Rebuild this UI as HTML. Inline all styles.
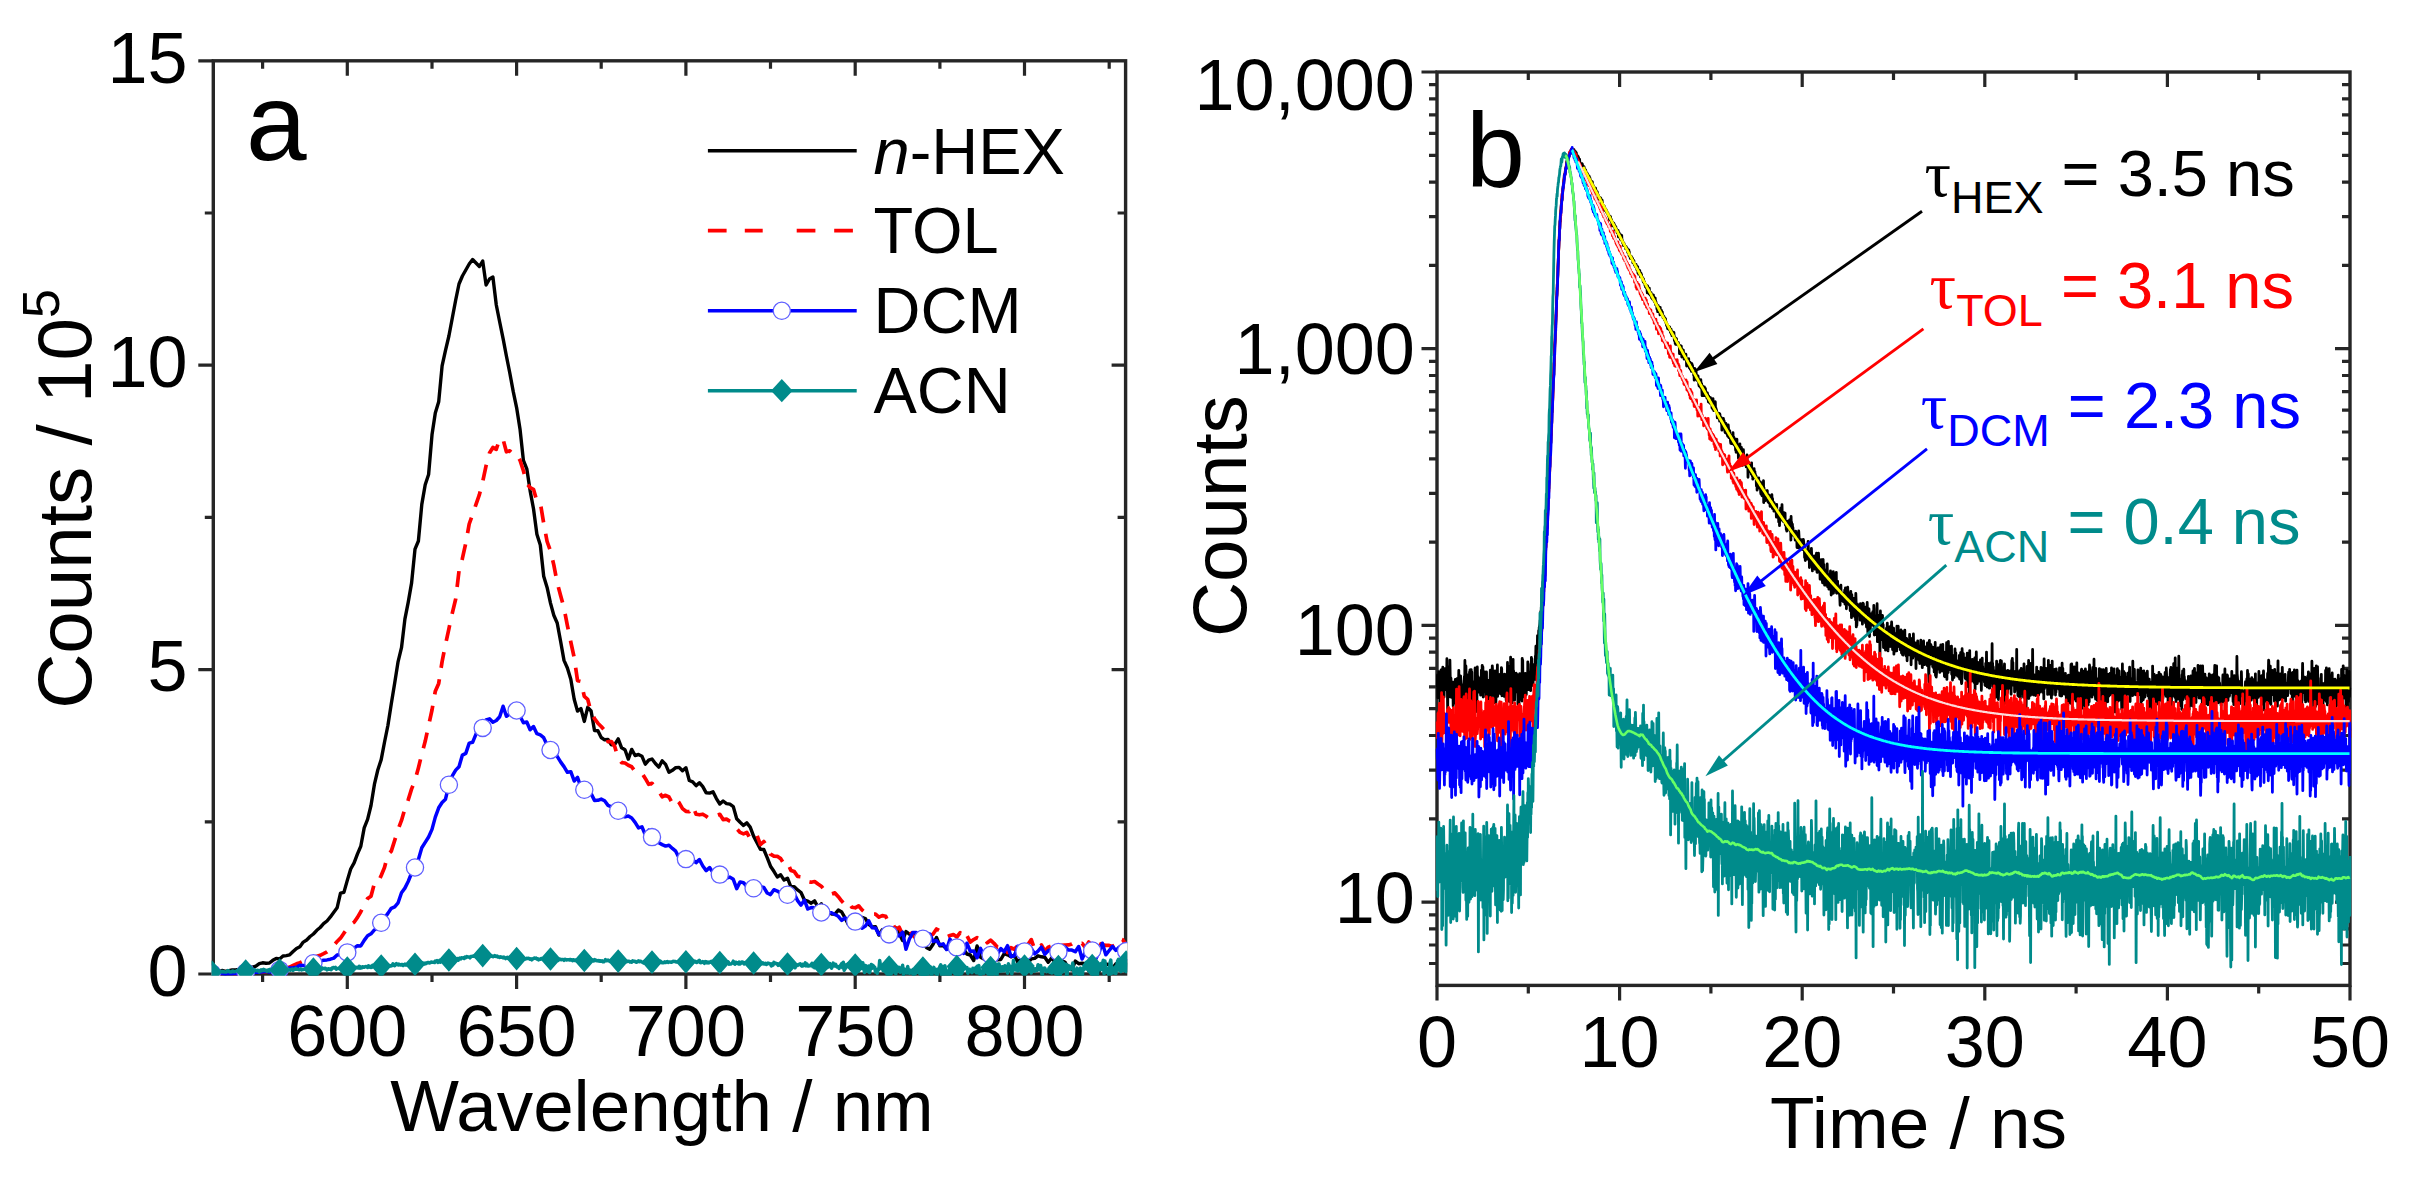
<!DOCTYPE html>
<html><head><meta charset="utf-8"><title>Fluorescence spectra and decays</title>
<style>html,body{margin:0;padding:0;background:#fff}svg{display:block}</style></head>
<body><svg width="2430" height="1179" viewBox="0 0 2430 1179">
<rect width="2430" height="1179" fill="#fff"/>
<clipPath id="cl"><rect x="211.6" y="59.1" width="915.7" height="916.6"/></clipPath>
<rect x="213.3" y="60.8" width="912.3" height="913.2" fill="none" stroke="#262626" stroke-width="3.4"/>
<path d="M198.3,974H213.3M198.3,669.6H213.3M1111.6,669.6H1125.6M198.3,365.2H213.3M1111.6,365.2H1125.6M198.3,60.8H213.3M204.8,821.8H213.3M1117.6,821.8H1125.6M204.8,517.4H213.3M1117.6,517.4H1125.6M204.8,213H213.3M1117.6,213H1125.6M347.3,60.8V75.8M347.3,974V989M516.6,60.8V75.8M516.6,974V989M685.9,60.8V75.8M685.9,974V989M855.2,60.8V75.8M855.2,974V989M1024.5,60.8V75.8M1024.5,974V989M262.6,60.8V68.8M262.6,974V982M432,60.8V68.8M432,974V982M601.2,60.8V68.8M601.2,974V982M770.5,60.8V68.8M770.5,974V982M939.9,60.8V68.8M939.9,974V982M1109.2,60.8V68.8M1109.2,974V982" stroke="#262626" stroke-width="3.2" fill="none"/>
<g font-family="'Liberation Sans', sans-serif" font-size="72" fill="#000">
<text x="187.5" y="995.7" text-anchor="end">0</text>
<text x="187.5" y="691.3" text-anchor="end">5</text>
<text x="187.5" y="386.9" text-anchor="end">10</text>
<text x="187.5" y="82.5" text-anchor="end">15</text>
<text x="347.3" y="1055.8" text-anchor="middle">600</text>
<text x="516.6" y="1055.8" text-anchor="middle">650</text>
<text x="685.9" y="1055.8" text-anchor="middle">700</text>
<text x="855.2" y="1055.8" text-anchor="middle">750</text>
<text x="1024.5" y="1055.8" text-anchor="middle">800</text>
<text x="662" y="1131.4" text-anchor="middle" font-size="72.8">Wavelength / nm</text>
</g>
<text transform="translate(90.8,708.8) rotate(-90)" font-family="'Liberation Sans', sans-serif" font-size="76.4" fill="#000">Counts / 10<tspan font-size="52" dy="-31.8">5</tspan></text>
<text x="246" y="159.5" font-family="'Liberation Sans', sans-serif" font-size="109" fill="#000">a</text>
<g clip-path="url(#cl)" fill="none" stroke-linejoin="round" stroke-linecap="butt">
<path d="M211.9,974.1L215.2,972.6L218.6,972.1L222,970.4L225.4,971.4L228.8,970.7L232.2,970L235.6,970L238.9,969.5L242.3,968L245.7,967.4L249.1,967L252.5,967.1L255.9,966.2L259.3,963.7L262.6,962.8L266,963.3L269.4,963L272.8,960.3L276.2,958.4L279.6,959L283,956L286.4,955.6L289.7,954.8L293.1,951.5L296.5,948.4L299.9,946.7L303.3,942.1L306.7,940L310.1,936.5L313.4,934L316.8,930.3L320.2,927.5L323.6,923.7L327,921L330.4,916.9L333.8,912.3L337.1,907.8L340.5,893.2L343.9,892.4L347.3,880.4L350.7,869L354.1,862.9L357.5,853.9L360.8,846.3L364.2,827.9L367.6,819.4L371,805.5L374.4,784.4L377.8,770L381.2,759.6L384.5,742.2L387.9,725.5L391.3,703.7L394.7,682.9L398.1,661.6L401.5,647.7L404.9,619.1L408.2,602.3L411.6,582.9L415,549.1L418.4,541L421.8,504.4L425.2,484.8L428.6,474.5L432,434.8L435.3,413L438.7,401.8L442.1,365.9L445.5,350.4L448.9,336L452.3,318L455.7,300L459,284L462.4,276L465.8,270L469.2,264L472.6,259.5L476,263L479.4,266.5L482.7,261L486.1,285L489.5,279L492.9,277L496.3,305L499.7,322L503.1,338.7L506.4,356L509.8,373L513.2,391.4L516.6,407.6L520,428.9L523.4,460.4L526.8,468.8L530.1,490.6L533.5,508.8L536.9,534.3L540.3,545L543.7,576.2L547.1,587.4L550.5,603.1L553.8,615.2L557.2,623L560.6,641.3L564,660.4L567.4,668L570.8,679.2L574.2,699.2L577.5,711.1L580.9,708.5L584.3,721.4L587.7,707.3L591.1,711L594.5,730.5L597.9,730.7L601.2,737.5L604.6,739.8L608,739.5L611.4,744.7L614.8,744.3L618.2,738.9L621.6,747.8L625,749.7L628.3,759.1L631.7,749.4L635.1,755.5L638.5,754.5L641.9,756.2L645.3,764.2L648.7,760.2L652,759L655.4,763.5L658.8,767.1L662.2,760.8L665.6,764.4L669,772.3L672.4,770.3L675.7,767.7L679.1,767.4L682.5,770.8L685.9,767.7L689.3,780.5L692.7,781.9L696.1,785.6L699.4,782.7L702.8,786.7L706.2,792.8L709.6,793.1L713,791.8L716.4,798.6L719.8,804L723.1,801L726.5,803.6L729.9,804.2L733.3,806.6L736.7,818.8L740.1,822.3L743.5,825.4L746.8,822.9L750.2,827.1L753.6,836.1L757,842.6L760.4,849.2L763.8,849.5L767.2,857.7L770.5,866.2L773.9,871.3L777.3,877L780.7,874.8L784.1,880.1L787.5,878.2L790.9,886.8L794.3,886.8L797.6,889.9L801,892.5L804.4,900L807.8,901.1L811.2,903.2L814.6,900.9L818,907.4L821.3,903.8L824.7,915.6L828.1,911.5L831.5,914L834.9,914.1L838.3,910.1L841.7,912L845,917.9L848.4,924.5L851.8,916.2L855.2,918.8L858.6,922.3L862,917.4L865.4,918.5L868.7,924.4L872.1,926.9L875.5,926.7L878.9,935.1L882.3,929.7L885.7,932.7L889.1,938.4L892.4,939.7L895.8,928L899.2,933.6L902.6,940.5L906,931.5L909.4,934.2L912.8,933.7L916.1,934.4L919.5,936.2L922.9,942.2L926.3,947.4L929.7,949.3L933.1,944.3L936.5,937.4L939.9,945.8L943.2,945.6L946.6,949.1L950,948.1L953.4,942.3L956.8,951.8L960.2,942.9L963.6,949.2L966.9,954L970.3,955L973.7,960.5L977.1,946L980.5,957.2L983.9,959.1L987.3,955.5L990.6,959.5L994,952.9L997.4,959.9L1000.8,959.5L1004.2,953.6L1007.6,954.9L1011,956.9L1014.3,955.1L1017.7,961.9L1021.1,958.6L1024.5,963.3L1027.9,963L1031.3,958.9L1034.7,958.3L1038,955.8L1041.4,956.8L1044.8,957.3L1048.2,962.3L1051.6,958L1055,962.1L1058.4,962.9L1061.7,960.6L1065.1,962.2L1068.5,968.8L1071.9,969.8L1075.3,961.1L1078.7,963.7L1082.1,963.3L1085.4,963.8L1088.8,970.7L1092.2,967.6L1095.6,969.7L1099,971.6L1102.4,963.2L1105.8,964L1109.2,964.7L1112.5,968.2L1115.9,963.7L1119.3,966.2L1122.7,967.9L1126.1,967.5" stroke="#000" stroke-width="3.4"/>
<path d="M211.9,974.1L215.2,973.8L218.6,974L222,973.4L225.4,974.1L228.8,973.3L232.2,973.6L235.6,973.4L238.9,973.1L242.3,974L245.7,972.7L249.1,972.8L252.5,972.8L255.9,971.8L259.3,972.4L262.6,971.6L266,971.7L269.4,970.8L272.8,970.4L276.2,970.5L279.6,969.7L283,968.8L286.4,968.1L289.7,967.1L293.1,965.4L296.5,963.8L299.9,962.7L303.3,961.1L306.7,959.1L310.1,958.4L313.4,957.1L316.8,956.3L320.2,955.4L323.6,953.7L327,951.9L330.4,949.4L333.8,945.1L337.1,941.5L340.5,938.2L343.9,933.2L347.3,928.5L350.7,924.4L354.1,922.2L357.5,917.4L360.8,911.8L364.2,904.8L367.6,898.5L371,896.2L374.4,883.5L377.8,883.2L381.2,875.5L384.5,867.5L387.9,854.6L391.3,851.1L394.7,840.4L398.1,829.5L401.5,820.4L404.9,808.7L408.2,799.9L411.6,788.9L415,780.5L418.4,767.9L421.8,754.1L425.2,741.3L428.6,725.7L432,710L435.3,691.3L438.7,683.4L442.1,661.6L445.5,644.4L448.9,628.8L452.3,613.1L455.7,599L459,571L462.4,558.4L465.8,543.1L469.2,524L472.6,514.4L476,504.3L479.4,494.6L482.7,481.6L486.1,465.7L489.5,453L492.9,447.5L496.3,449.3L499.7,438.8L503.1,439.4L506.4,451.8L509.8,450.9L513.2,454.3L516.6,454.6L520,460.3L523.4,470.8L526.8,483.5L530.1,487.6L533.5,489.3L536.9,501.2L540.3,502.7L543.7,523.3L547.1,541.5L550.5,551L553.8,564.9L557.2,582.8L560.6,595.4L564,608L567.4,625.6L570.8,642L574.2,657.6L577.5,680.6L580.9,681.4L584.3,696.4L587.7,699.3L591.1,712L594.5,718.7L597.9,723.2L601.2,726.5L604.6,730.4L608,741.6L611.4,741.5L614.8,746.8L618.2,758.3L621.6,762.6L625,763L628.3,765.3L631.7,766.8L635.1,771.4L638.5,772.1L641.9,773L645.3,778.4L648.7,784.3L652,783.3L655.4,787L658.8,791.5L662.2,796.8L665.6,795.3L669,797L672.4,803.4L675.7,799.4L679.1,802.7L682.5,808.6L685.9,811.3L689.3,811.6L692.7,806.1L696.1,814.2L699.4,814.8L702.8,814.2L706.2,816.3L709.6,818.8L713,816.7L716.4,815.4L719.8,814.3L723.1,819.6L726.5,819.1L729.9,821.3L733.3,822.7L736.7,828.7L740.1,832.4L743.5,833.9L746.8,832.5L750.2,838.7L753.6,839.4L757,835.4L760.4,844.6L763.8,841.5L767.2,846.3L770.5,854.2L773.9,856.2L777.3,856.3L780.7,858.6L784.1,864.3L787.5,862.6L790.9,870.4L794.3,871.6L797.6,876.4L801,876.8L804.4,876.7L807.8,881.5L811.2,882.2L814.6,881.5L818,884L821.3,886.2L824.7,890.4L828.1,893.8L831.5,893.8L834.9,892.9L838.3,896.7L841.7,901.1L845,904.6L848.4,902.1L851.8,907.2L855.2,907.8L858.6,905.8L862,909.9L865.4,912.9L868.7,913.6L872.1,914.3L875.5,914.1L878.9,917.2L882.3,915.6L885.7,916.3L889.1,923.9L892.4,923.4L895.8,929.3L899.2,927.3L902.6,934.7L906,929.8L909.4,930.3L912.8,935.4L916.1,938.4L919.5,932L922.9,938.2L926.3,938.2L929.7,936.5L933.1,934L936.5,929L939.9,930.9L943.2,933.2L946.6,937L950,935.5L953.4,934.6L956.8,937L960.2,932.7L963.6,938.7L966.9,935.6L970.3,942.1L973.7,939.6L977.1,937.7L980.5,939.1L983.9,937L987.3,942.7L990.6,940.2L994,943.3L997.4,947.2L1000.8,945.5L1004.2,946.3L1007.6,952.5L1011,947.7L1014.3,949.2L1017.7,945.9L1021.1,943.8L1024.5,948L1027.9,944.5L1031.3,939.6L1034.7,949.5L1038,948.8L1041.4,944.9L1044.8,951.2L1048.2,947.3L1051.6,946L1055,944.4L1058.4,950.1L1061.7,945.4L1065.1,945L1068.5,944.9L1071.9,943.9L1075.3,941.3L1078.7,943.8L1082.1,943.3L1085.4,947.7L1088.8,942L1092.2,947.5L1095.6,944.1L1099,943.2L1102.4,944.9L1105.8,945.4L1109.2,945.4L1112.5,946.4L1115.9,944.6L1119.3,938.5L1122.7,939.7L1126.1,945.1" stroke="#ff0000" stroke-width="3.7" stroke-dasharray="16 11.5" stroke-dashoffset="6"/>
<path d="M211.9,973.4L215.2,973.8L218.6,973.4L222,973.6L225.4,973.9L228.8,973.4L232.2,973.7L235.6,973.3L238.9,973.5L242.3,972.1L245.7,972.4L249.1,971.7L252.5,972.4L255.9,971.9L259.3,972.2L262.6,971.7L266,971.3L269.4,972L272.8,971L276.2,970.3L279.6,969.9L283,970.2L286.4,969.6L289.7,967.9L293.1,967.8L296.5,967.3L299.9,965.3L303.3,965.4L306.7,965.8L310.1,962.7L313.4,963.2L316.8,963.8L320.2,960.9L323.6,960.2L327,959.9L330.4,959.2L333.8,958.1L337.1,955L340.5,954.5L343.9,954.1L347.3,952.4L350.7,952.1L354.1,948.2L357.5,945.7L360.8,945.9L364.2,940.4L367.6,935.8L371,933.8L374.4,929.9L377.8,927.7L381.2,922.8L384.5,918L387.9,913.4L391.3,908.3L394.7,906.8L398.1,902.8L401.5,892.7L404.9,888.1L408.2,881.5L411.6,873L415,867.5L418.4,859.4L421.8,847.8L425.2,842.4L428.6,837L432,829.4L435.3,817.1L438.7,807.8L442.1,802.5L445.5,799.2L448.9,784.8L452.3,775.8L455.7,770.1L459,766.7L462.4,755.1L465.8,753.4L469.2,743.1L472.6,742.3L476,734.1L479.4,729.3L482.7,727.9L486.1,719.9L489.5,718.8L492.9,722.2L496.3,720.5L499.7,716.8L503.1,706.2L506.4,716.3L509.8,713.9L513.2,710.5L516.6,710.5L520,716L523.4,722.7L526.8,722L530.1,729.8L533.5,726.5L536.9,733.7L540.3,734.9L543.7,737.7L547.1,745L550.5,750L553.8,752L557.2,756.3L560.6,761.9L564,766.6L567.4,772.3L570.8,771.7L574.2,781L577.5,777.4L580.9,787L584.3,789.8L587.7,784.8L591.1,793.6L594.5,800.4L597.9,800.3L601.2,799.1L604.6,800.8L608,805.4L611.4,806.9L614.8,811.1L618.2,810.8L621.6,816L625,816.9L628.3,816L631.7,818L635.1,822.3L638.5,827.9L641.9,826.8L645.3,834.8L648.7,830.2L652,837.1L655.4,836.8L658.8,842.8L662.2,844.6L665.6,846.1L669,845.2L672.4,848.4L675.7,851.2L679.1,857.9L682.5,855.2L685.9,859.1L689.3,863.3L692.7,860L696.1,862.6L699.4,859.5L702.8,866L706.2,870.6L709.6,867.5L713,872.6L716.4,875.2L719.8,874.6L723.1,874.8L726.5,878.1L729.9,877.1L733.3,879.3L736.7,888.6L740.1,881.9L743.5,882.7L746.8,886.3L750.2,887.8L753.6,888.3L757,886.7L760.4,886.6L763.8,887.4L767.2,893L770.5,894.6L773.9,889.7L777.3,891.1L780.7,893.2L784.1,891.2L787.5,894.8L790.9,899.1L794.3,894L797.6,900.6L801,905.1L804.4,900.2L807.8,909L811.2,907.6L814.6,907.8L818,913.9L821.3,912.5L824.7,912.8L828.1,912.7L831.5,912.8L834.9,914.5L838.3,916.3L841.7,920.4L845,917.8L848.4,920.5L851.8,919.1L855.2,921.6L858.6,922.3L862,928.2L865.4,926.1L868.7,920.8L872.1,927.7L875.5,928L878.9,934.3L882.3,932.2L885.7,936.3L889.1,934.4L892.4,932.3L895.8,934.1L899.2,935.9L902.6,932.2L906,949.3L909.4,939L912.8,932.6L916.1,932.5L919.5,938.9L922.9,938.8L926.3,933.7L929.7,933.9L933.1,941.4L936.5,940.5L939.9,944.8L943.2,943.8L946.6,949.5L950,939.1L953.4,949.4L956.8,947.4L960.2,945.1L963.6,953.4L966.9,943.2L970.3,951.2L973.7,951.1L977.1,957.8L980.5,948.4L983.9,955.8L987.3,956.7L990.6,955L994,955.3L997.4,954L1000.8,948.6L1004.2,951.7L1007.6,945.7L1011,956.4L1014.3,956L1017.7,946.2L1021.1,956.4L1024.5,951.4L1027.9,945.4L1031.3,948.6L1034.7,953.8L1038,951.1L1041.4,947.2L1044.8,954.2L1048.2,950.7L1051.6,949.5L1055,946.5L1058.4,951.9L1061.7,955L1065.1,947.2L1068.5,950.1L1071.9,950.1L1075.3,951.8L1078.7,946.5L1082.1,959L1085.4,951.9L1088.8,954.3L1092.2,950.5L1095.6,959.3L1099,952.5L1102.4,943.2L1105.8,954.8L1109.2,950.5L1112.5,946.3L1115.9,950.5L1119.3,947L1122.7,953.6L1126.1,951.1" stroke="#0000ff" stroke-width="3.5"/>
<path d="M211.9,972.8L212.7,972L213.6,972L214.4,971.9L215.2,970.9L216.1,971.9L216.9,971.1L217.8,971.9L218.6,971.5L219.5,972.3L220.3,971.7L221.2,971.7L222,971.2L222.9,972L223.7,971.6L224.6,971.9L225.4,972L226.3,972L227.1,971.4L227.9,970.6L228.8,970.9L229.6,971.9L230.5,972L231.3,972.1L232.2,971.1L233,970.9L233.9,971.8L234.7,971.8L235.6,971.3L236.4,971.3L237.3,970.6L238.1,971.1L238.9,971.9L239.8,970.7L240.6,970.9L241.5,971.1L242.3,970.9L243.2,970.2L244,970.8L244.9,970.7L245.7,970.8L246.6,970.8L247.4,971L248.3,970.4L249.1,971.7L250,970.7L250.8,971.6L251.6,971.6L252.5,970.9L253.3,970.2L254.2,969.7L255,970L255.9,970.6L256.7,970.8L257.6,970.3L258.4,970.4L259.3,971.9L260.1,970.7L261,969.9L261.8,970.8L262.6,970L263.5,969.3L264.3,970.5L265.2,970L266,970.4L266.9,971.3L267.7,970.4L268.6,969.9L269.4,971.1L270.3,969.2L271.1,969.6L272,970.9L272.8,970.9L273.7,970L274.5,969.8L275.3,970.3L276.2,970.2L277,970.1L277.9,969.8L278.7,969.3L279.6,969.6L280.4,969.7L281.3,969.7L282.1,969.5L283,969.8L283.8,968.9L284.7,970.2L285.5,970.5L286.4,969.4L287.2,969L288,969.9L288.9,970L289.7,969.6L290.6,970.1L291.4,969.4L292.3,969.1L293.1,970.3L294,969.3L294.8,969.3L295.7,968.4L296.5,969.3L297.4,969.2L298.2,969.4L299,969.8L299.9,969.5L300.7,968.8L301.6,969.9L302.4,969.5L303.3,969.6L304.1,969.2L305,969.3L305.8,968.5L306.7,968.4L307.5,968.8L308.4,968.8L309.2,969.2L310.1,967.4L310.9,968.8L311.7,968.6L312.6,969.5L313.4,968.7L314.3,968.7L315.1,968.9L316,969.1L316.8,967.9L317.7,968.2L318.5,969.1L319.4,968.9L320.2,968.8L321.1,969.5L321.9,967.9L322.8,968.7L323.6,968.4L324.4,968.8L325.3,968.3L326.1,968.7L327,969.9L327.8,968.9L328.7,968.7L329.5,969.3L330.4,968.9L331.2,969.6L332.1,968L332.9,967.9L333.8,967.4L334.6,967.9L335.4,967.4L336.3,969.1L337.1,968.4L338,968.6L338.8,968.4L339.7,968.3L340.5,968.1L341.4,967.5L342.2,969L343.1,968L343.9,969L344.8,968.4L345.6,967.4L346.5,967.8L347.3,967.8L348.1,967.6L349,967.6L349.8,967.8L350.7,967.5L351.5,967.4L352.4,967.8L353.2,967.7L354.1,967.4L354.9,967.8L355.8,967.3L356.6,967.7L357.5,967.4L358.3,968L359.2,966.4L360,968.1L360.8,967L361.7,967.8L362.5,966.8L363.4,967L364.2,967.2L365.1,966.7L365.9,966.6L366.8,966.7L367.6,967.5L368.5,965.8L369.3,966.6L370.2,967.3L371,966.4L371.8,967.3L372.7,965.3L373.5,965.7L374.4,966L375.2,965.8L376.1,965.8L376.9,966.4L377.8,965.5L378.6,966.2L379.5,966.1L380.3,965.8L381.2,967L382,965.6L382.9,966.9L383.7,965.4L384.5,966L385.4,965.8L386.2,965.2L387.1,966L387.9,966.2L388.8,965.9L389.6,965.5L390.5,966.1L391.3,965.8L392.2,965.6L393,963.8L393.9,965.2L394.7,965.7L395.6,964.6L396.4,963.6L397.2,964.6L398.1,964.9L398.9,964.1L399.8,964.7L400.6,965.1L401.5,964.4L402.3,964.5L403.2,965.5L404,964.7L404.9,964.1L405.7,964.9L406.6,964.9L407.4,964.6L408.2,964.5L409.1,964.1L409.9,965.8L410.8,963.9L411.6,964.4L412.5,964.6L413.3,964.8L414.2,964L415,964.3L415.9,963.8L416.7,964.2L417.6,963L418.4,964.5L419.3,964L420.1,964.1L420.9,963.5L421.8,962.5L422.6,962.9L423.5,963.2L424.3,964L425.2,963.1L426,963.6L426.9,963L427.7,962.4L428.6,962.5L429.4,962.9L430.3,962.8L431.1,962L432,962.3L432.8,962.2L433.6,962.4L434.5,962.6L435.3,961.1L436.2,961.3L437,960.6L437.9,962.4L438.7,961.4L439.6,960.4L440.4,962.2L441.3,960.9L442.1,960.9L443,960.9L443.8,961L444.6,959.5L445.5,960.3L446.3,960.7L447.2,960.4L448,960L448.9,959.7L449.7,959.1L450.6,958.2L451.4,958.7L452.3,959.7L453.1,959.5L454,958.9L454.8,959.2L455.7,959.9L456.5,958.9L457.3,958.5L458.2,960.1L459,958.5L459.9,958L460.7,958.9L461.6,957.7L462.4,957.9L463.3,957.9L464.1,958.4L465,957.1L465.8,957.7L466.7,956.5L467.5,957L468.3,957L469.2,957L470,957.8L470.9,956.5L471.7,956.4L472.6,956.2L473.4,956.1L474.3,956.4L475.1,956.2L476,956.6L476.8,955.7L477.7,956.2L478.5,956.1L479.4,955.8L480.2,955.9L481,955.8L481.9,955.6L482.7,955.6L483.6,954.9L484.4,955.1L485.3,955.6L486.1,955.9L487,956L487.8,955.6L488.7,955.4L489.5,956L490.4,955.9L491.2,955.5L492.1,956.4L492.9,956.7L493.7,956.2L494.6,955.6L495.4,956.4L496.3,956.6L497.1,956L498,957L498.8,956.9L499.7,957.4L500.5,956.8L501.4,957.2L502.2,957.3L503.1,957.9L503.9,957L504.7,957.7L505.6,958.6L506.4,957.8L507.3,957.4L508.1,958.6L509,958.5L509.8,957.3L510.7,958.3L511.5,957.5L512.4,958.3L513.2,958.9L514.1,958.8L514.9,957.9L515.8,958L516.6,959.3L517.4,958.8L518.3,958.4L519.1,958.7L520,958.1L520.8,957.7L521.7,957.9L522.5,958.8L523.4,958.2L524.2,959L525.1,959.1L525.9,958.8L526.8,958.3L527.6,958.4L528.5,958.3L529.3,958.8L530.1,959.3L531,958.9L531.8,959.8L532.7,959L533.5,958.5L534.4,958L535.2,958.3L536.1,958.1L536.9,959L537.8,958.8L538.6,959.8L539.5,959.2L540.3,959.2L541.1,958.4L542,958.5L542.8,959.2L543.7,959L544.5,958.5L545.4,958.7L546.2,959L547.1,959.3L547.9,959.2L548.8,958.8L549.6,958.9L550.5,959.3L551.3,959.1L552.2,958.3L553,958.7L553.8,959.4L554.7,959.9L555.5,959.6L556.4,958.8L557.2,958.7L558.1,960.4L558.9,959.5L559.8,959.1L560.6,959.5L561.5,959.7L562.3,959.4L563.2,959.5L564,960.3L564.9,959.3L565.7,959.4L566.5,959.9L567.4,959.8L568.2,959.7L569.1,959.9L569.9,959.4L570.8,959.9L571.6,959.7L572.5,960.7L573.3,959.7L574.2,960.1L575,960.6L575.9,959.9L576.7,960.3L577.5,959.8L578.4,959.9L579.2,960L580.1,960L580.9,960.3L581.8,959.2L582.6,960.5L583.5,960.4L584.3,960.1L585.2,960L586,960.5L586.9,960.3L587.7,961.7L588.6,961.1L589.4,960.6L590.2,960.3L591.1,960.7L591.9,959.9L592.8,960L593.6,960.9L594.5,959.7L595.3,960.4L596.2,960.2L597,960.7L597.9,960.9L598.7,960.5L599.6,961.2L600.4,960.7L601.2,961.3L602.1,960.9L602.9,961.7L603.8,961.7L604.6,960.9L605.5,959.6L606.3,960.5L607.2,960.8L608,960.1L608.9,960.5L609.7,961.5L610.6,960.5L611.4,960.8L612.3,961.6L613.1,960.3L613.9,960.4L614.8,961L615.6,960.4L616.5,961.1L617.3,961.4L618.2,961.4L619,960.9L619.9,960.8L620.7,961.3L621.6,961.1L622.4,961.3L623.3,962L624.1,960.4L625,961.8L625.8,961L626.6,961.7L627.5,961.3L628.3,961.3L629.2,961.3L630,962.1L630.9,961.8L631.7,962.2L632.6,960.9L633.4,961.3L634.3,961.2L635.1,961.5L636,962.2L636.8,962.2L637.6,961.5L638.5,960.8L639.3,961.6L640.2,961.2L641,961.5L641.9,962.1L642.7,962.2L643.6,963L644.4,961.5L645.3,961.2L646.1,961L647,962.8L647.8,961.3L648.7,962.1L649.5,962.7L650.3,961.5L651.2,962.3L652,961.4L652.9,962.5L653.7,961.2L654.6,961.7L655.4,961.7L656.3,961.9L657.1,962.5L658,962.6L658.8,962.7L659.7,962.7L660.5,961.2L661.4,962L662.2,962.8L663,962.8L663.9,962.5L664.7,961.9L665.6,962.5L666.4,961.9L667.3,961.5L668.1,962.4L669,961.9L669.8,961.9L670.7,962.2L671.5,962.2L672.4,961.6L673.2,961.2L674,961.6L674.9,961.4L675.7,961.8L676.6,962.1L677.4,961.7L678.3,961.6L679.1,961.1L680,961.9L680.8,961.6L681.7,962.1L682.5,962.3L683.4,962L684.2,961.6L685.1,962.1L685.9,962.7L686.7,961.1L687.6,962L688.4,962L689.3,962L690.1,961.8L691,961.3L691.8,961.5L692.7,962.3L693.5,961.2L694.4,961.5L695.2,961.3L696.1,962.3L696.9,962.5L697.8,961.3L698.6,961.6L699.4,960.4L700.3,962.5L701.1,962.7L702,962.4L702.8,961.5L703.7,962.4L704.5,963.3L705.4,961.6L706.2,961.8L707.1,962.9L707.9,962L708.8,962.8L709.6,961.9L710.4,962.2L711.3,961.4L712.1,962.1L713,962.6L713.8,962.6L714.7,963.2L715.5,963L716.4,962.4L717.2,963.3L718.1,963.4L718.9,962.6L719.8,962.9L720.6,963.1L721.5,962.8L722.3,962.4L723.1,963L724,962.9L724.8,962.1L725.7,962.8L726.5,963.2L727.4,962.7L728.2,961.9L729.1,964.2L729.9,963.9L730.8,963.9L731.6,963.4L732.5,962.8L733.3,961.2L734.2,963.7L735,964.1L735.8,962.2L736.7,963.2L737.5,962.9L738.4,964L739.2,962.1L740.1,964L740.9,963.3L741.8,962.1L742.6,962L743.5,963.4L744.3,964L745.2,962.5L746,962.8L746.8,962.8L747.7,963.7L748.5,963L749.4,962.7L750.2,962.5L751.1,962.4L751.9,963.5L752.8,963.8L753.6,962.9L754.5,963.1L755.3,962.1L756.2,963.6L757,963.1L757.9,964.1L758.7,961.8L759.5,964.4L760.4,963.3L761.2,963.5L762.1,963.7L762.9,962.9L763.8,963.9L764.6,963.9L765.5,963.3L766.3,964.4L767.2,963.9L768,963.1L768.9,963.5L769.7,963.5L770.5,964.3L771.4,966L772.2,963.8L773.1,965.1L773.9,962.4L774.8,962.8L775.6,963.1L776.5,963.9L777.3,963.8L778.2,965.3L779,964L779.9,964.1L780.7,965.1L781.6,963.2L782.4,964.3L783.2,965.4L784.1,964L784.9,966.5L785.8,965.3L786.6,964.7L787.5,965L788.3,965.5L789.2,962L790,965.4L790.9,963.7L791.7,966.6L792.6,963.1L793.4,964.9L794.3,966.5L795.1,967.7L795.9,965.3L796.8,965.6L797.6,965.5L798.5,964.4L799.3,964.3L800.2,963.8L801,965.4L801.9,966.1L802.7,964.3L803.6,965.6L804.4,965.2L805.3,962.9L806.1,965.9L806.9,963.8L807.8,966.1L808.6,966L809.5,965.4L810.3,965.7L811.2,964.6L812,963.3L812.9,966.7L813.7,964.3L814.6,967.7L815.4,967L816.3,962.7L817.1,962.8L818,966L818.8,964.7L819.6,963.9L820.5,963.6L821.3,964.6L822.2,964.9L823,963.3L823.9,964.8L824.7,964L825.6,965.2L826.4,963.8L827.3,967.5L828.1,965.7L829,963.7L829.8,963.6L830.7,967.2L831.5,968.1L832.3,966.6L833.2,963.1L834,965.1L834.9,966L835.7,964.3L836.6,966.7L837.4,967.1L838.3,966.7L839.1,968.4L840,966L840.8,965.2L841.7,963.7L842.5,967.7L843.3,962.2L844.2,970.3L845,968.7L845.9,967.8L846.7,964.6L847.6,966.3L848.4,963.9L849.3,964.7L850.1,966.8L851,964.9L851.8,964.1L852.7,966.2L853.5,965L854.4,965.9L855.2,967L856,964.8L856.9,966.9L857.7,970L858.6,971.2L859.4,967L860.3,968.8L861.1,966.4L862,968.5L862.8,962.8L863.7,967.8L864.5,972.5L865.4,965.6L866.2,969.2L867.1,966.4L867.9,971.4L868.7,966.1L869.6,972.6L870.4,968.7L871.3,964.5L872.1,968.3L873,965.5L873.8,966.6L874.7,967.2L875.5,972.1L876.4,969.7L877.2,973.3L878.1,969L878.9,969.7L879.7,960.6L880.6,966.5L881.4,968.2L882.3,966.7L883.1,970.6L884,964L884.8,968.4L885.7,968L886.5,965.8L887.4,967.3L888.2,967.8L889.1,971L889.9,970.7L890.8,972.2L891.6,970.9L892.4,965.5L893.3,967.4L894.1,964.4L895,970.3L895.8,973.8L896.7,969.4L897.5,970.2L898.4,970.5L899.2,967.4L900.1,972.3L900.9,967.9L901.8,970.5L902.6,965.2L903.5,974.6L904.3,971.9L905.1,969.3L906,969.9L906.8,973L907.7,966.5L908.5,971.5L909.4,973.2L910.2,970.3L911.1,973L911.9,970.9L912.8,969.7L913.6,975.4L914.5,971L915.3,973.6L916.1,971.2L917,969.9L917.8,972.3L918.7,968L919.5,968.5L920.4,970.5L921.2,972.6L922.1,972.8L922.9,976.1L923.8,966.9L924.6,969.6L925.5,975.6L926.3,968.8L927.2,974.7L928,971.7L928.8,969L929.7,972.4L930.5,967L931.4,978.6L932.2,972.5L933.1,970.3L933.9,967.4L934.8,970.5L935.6,973.4L936.5,969.5L937.3,975.1L938.2,968.9L939,969.2L939.9,966.6L940.7,964.9L941.5,975.2L942.4,968.8L943.2,966.6L944.1,975L944.9,965.8L945.8,971.6L946.6,972.5L947.5,974.4L948.3,973L949.2,969.3L950,975.7L950.9,967.2L951.7,965.9L952.5,963.3L953.4,972.1L954.2,971.7L955.1,973.3L955.9,967.4L956.8,964.2L957.6,967.1L958.5,973.8L959.3,974.5L960.2,962.3L961,973.9L961.9,973L962.7,970.4L963.6,969.3L964.4,968.3L965.2,967.6L966.1,968.2L966.9,967.5L967.8,973.2L968.6,971.4L969.5,969.2L970.3,971.5L971.2,971.7L972,972.7L972.9,968.3L973.7,970.9L974.6,970.4L975.4,968.1L976.2,972.8L977.1,966.3L977.9,972.9L978.8,965.5L979.6,972.2L980.5,976L981.3,973.3L982.2,971L983,970.1L983.9,973.2L984.7,965.3L985.6,969L986.4,969.2L987.3,968.7L988.1,969.1L988.9,970.6L989.8,971.7L990.6,968L991.5,972.4L992.3,970L993.2,973.6L994,971.2L994.9,967.7L995.7,967.3L996.6,979.2L997.4,970.8L998.3,964L999.1,964.1L1000,971.1L1000.8,967L1001.6,971L1002.5,966.7L1003.3,970.8L1004.2,970.5L1005,965.7L1005.9,968.6L1006.7,968.8L1007.6,973.2L1008.4,963.8L1009.3,967.3L1010.1,966.2L1011,969L1011.8,973.9L1012.6,969.9L1013.5,960.2L1014.3,969.4L1015.2,970L1016,965.3L1016.9,964.7L1017.7,970.9L1018.6,966.3L1019.4,967.1L1020.3,968.7L1021.1,964.5L1022,971.6L1022.8,967.8L1023.7,969.9L1024.5,966.6L1025.3,971.9L1026.2,970.8L1027,970.8L1027.9,971.2L1028.7,964.9L1029.6,967.3L1030.4,966.3L1031.3,973L1032.1,969.2L1033,968.2L1033.8,968.7L1034.7,971.1L1035.5,968.9L1036.4,969.8L1037.2,970.4L1038,964.8L1038.9,966.9L1039.7,969.6L1040.6,965.5L1041.4,971.7L1042.3,975.5L1043.1,968.3L1044,969.6L1044.8,968L1045.7,970.4L1046.5,971.6L1047.4,971.2L1048.2,971.2L1049,968.3L1049.9,972.3L1050.7,971.7L1051.6,973L1052.4,972.8L1053.3,967L1054.1,968.7L1055,970.2L1055.8,973.9L1056.7,968.2L1057.5,976.1L1058.4,971.9L1059.2,972.1L1060.1,976.4L1060.9,969.9L1061.7,969.8L1062.6,971.6L1063.4,970.1L1064.3,968.3L1065.1,969.2L1066,964.2L1066.8,978.2L1067.7,967.4L1068.5,965.5L1069.4,968.7L1070.2,969.5L1071.1,966.5L1071.9,966.9L1072.8,963.1L1073.6,970.1L1074.4,975L1075.3,973.5L1076.1,973L1077,968.1L1077.8,970.4L1078.7,974.5L1079.5,976.9L1080.4,967.9L1081.2,971.6L1082.1,977.1L1082.9,970.4L1083.8,967.4L1084.6,969.1L1085.4,968.3L1086.3,962.2L1087.1,968.3L1088,964.5L1088.8,965.6L1089.7,961.8L1090.5,963.3L1091.4,964.9L1092.2,966.4L1093.1,963.8L1093.9,975.7L1094.8,972.9L1095.6,980.3L1096.5,969.4L1097.3,975.4L1098.1,970.5L1099,964.9L1099.8,964.7L1100.7,969.8L1101.5,963.2L1102.4,968.7L1103.2,960.3L1104.1,973.8L1104.9,961L1105.8,970.7L1106.6,972.2L1107.5,968.2L1108.3,971.3L1109.2,980L1110,962.8L1110.8,960.1L1111.7,973.4L1112.5,970.9L1113.4,968.4L1114.2,972.9L1115.1,967.1L1115.9,973.5L1116.8,965.5L1117.6,961L1118.5,959.3L1119.3,970.3L1120.2,968.2L1121,971.6L1121.8,961.8L1122.7,970.6L1123.5,958.2L1124.4,969.3L1125.2,970.9L1126.1,962.5" stroke="#008b8b" stroke-width="3.5"/>
<g fill="#fff" stroke="#6060ff" stroke-width="1.3"><circle cx="211.9" cy="973.4" r="8.6"/><circle cx="245.7" cy="972.4" r="8.6"/><circle cx="279.6" cy="969.9" r="8.6"/><circle cx="313.4" cy="963.2" r="8.6"/><circle cx="347.3" cy="952.4" r="8.6"/><circle cx="381.2" cy="922.8" r="8.6"/><circle cx="415" cy="867.5" r="8.6"/><circle cx="448.9" cy="784.8" r="8.6"/><circle cx="482.7" cy="727.9" r="8.6"/><circle cx="516.6" cy="710.5" r="8.6"/><circle cx="550.5" cy="750" r="8.6"/><circle cx="584.3" cy="789.8" r="8.6"/><circle cx="618.2" cy="810.8" r="8.6"/><circle cx="652" cy="837.1" r="8.6"/><circle cx="685.9" cy="859.1" r="8.6"/><circle cx="719.8" cy="874.6" r="8.6"/><circle cx="753.6" cy="888.3" r="8.6"/><circle cx="787.5" cy="894.8" r="8.6"/><circle cx="821.3" cy="912.5" r="8.6"/><circle cx="855.2" cy="921.6" r="8.6"/><circle cx="889.1" cy="934.4" r="8.6"/><circle cx="922.9" cy="938.8" r="8.6"/><circle cx="956.8" cy="947.4" r="8.6"/><circle cx="990.6" cy="955" r="8.6"/><circle cx="1024.5" cy="951.4" r="8.6"/><circle cx="1058.4" cy="951.9" r="8.6"/><circle cx="1092.2" cy="950.5" r="8.6"/><circle cx="1126.1" cy="951.1" r="8.6"/></g>
<path d="M201.6,972L211.9,960.2L222.2,972L211.9,983.8ZM235.4,971L245.7,959.2L256,971L245.7,982.8ZM269.3,970L279.6,958.2L289.9,970L279.6,981.8ZM303.1,969L313.4,957.2L323.7,969L313.4,980.8ZM337,968L347.3,956.2L357.6,968L347.3,979.8ZM370.9,966L381.2,954.2L391.5,966L381.2,977.8ZM404.7,964.2L415,952.4L425.3,964.2L415,976ZM438.6,960L448.9,948.2L459.2,960L448.9,971.8ZM472.4,955.6L482.7,943.8L493,955.6L482.7,967.4ZM506.3,958.6L516.6,946.8L526.9,958.6L516.6,970.4ZM540.2,959L550.5,947.2L560.8,959L550.5,970.8ZM574,960.5L584.3,948.7L594.6,960.5L584.3,972.3ZM607.9,961.1L618.2,949.3L628.5,961.1L618.2,972.9ZM641.7,962.1L652,950.3L662.3,962.1L652,973.9ZM675.6,961.7L685.9,949.9L696.2,961.7L685.9,973.5ZM709.5,962.5L719.8,950.7L730.1,962.5L719.8,974.3ZM743.3,963L753.6,951.2L763.9,963L753.6,974.8ZM777.2,964L787.5,952.2L797.8,964L787.5,975.8ZM811,964.5L821.3,952.7L831.6,964.5L821.3,976.3ZM844.9,965L855.2,953.2L865.5,965L855.2,976.8ZM878.8,967L889.1,955.2L899.4,967L889.1,978.8ZM912.6,968L922.9,956.2L933.2,968L922.9,979.8ZM946.5,966.5L956.8,954.7L967.1,966.5L956.8,978.3ZM980.3,967.5L990.6,955.7L1000.9,967.5L990.6,979.3ZM1014.2,966L1024.5,954.2L1034.8,966L1024.5,977.8ZM1048.1,966.5L1058.4,954.7L1068.7,966.5L1058.4,978.3ZM1081.9,965.5L1092.2,953.7L1102.5,965.5L1092.2,977.3ZM1115.8,962L1126.1,950.2L1136.4,962L1126.1,973.8Z" fill="#008b8b" stroke="none"/>
</g>
<path d="M707.9,150.8H856.7" stroke="#000" stroke-width="3.5"/>
<path d="M707.9,230.6H726.6M744.8,230.6H762.7M796.7,230.6H815.4M834.2,230.6H852.9" stroke="#ff0000" stroke-width="3.7"/>
<path d="M707.9,310.8H856.7" stroke="#0000ff" stroke-width="3.5"/>
<circle cx="781.8" cy="310.8" r="8.6" fill="#fff" stroke="#6060ff" stroke-width="1.3"/>
<path d="M707.9,390.7H856.7" stroke="#008b8b" stroke-width="3.5"/>
<path d="M771,390.7L781.8,379.1L792.6,390.7L781.8,402.3Z" fill="#008b8b"/>
<g font-family="'Liberation Sans', sans-serif" font-size="65" fill="#000">
<text x="873.5" y="173.5"><tspan font-style="italic">n</tspan>-HEX</text>
<text x="873.5" y="253.4">TOL</text>
<text x="873.5" y="333">DCM</text>
<text x="873.5" y="412.9">ACN</text>
</g>
<clipPath id="cr"><rect x="1435.3" y="70.3" width="916.4" height="916.8"/></clipPath>
<rect x="1437" y="72" width="913" height="913.4" fill="none" stroke="#262626" stroke-width="3.4"/>
<path d="M1421.5,902.1H1437M2335,902.1H2350M1421.5,625.4H1437M2335,625.4H2350M1421.5,348.7H1437M2335,348.7H2350M1421.5,72H1437M1429,963.5H1437M2342,963.5H2350M1429,945H1437M2342,945H2350M1429,928.9H1437M2342,928.9H2350M1429,914.8H1437M2342,914.8H2350M1429,818.8H1437M2342,818.8H2350M1429,770.1H1437M2342,770.1H2350M1429,735.5H1437M2342,735.5H2350M1429,708.7H1437M2342,708.7H2350M1429,686.8H1437M2342,686.8H2350M1429,668.3H1437M2342,668.3H2350M1429,652.2H1437M2342,652.2H2350M1429,638.1H1437M2342,638.1H2350M1429,542.1H1437M2342,542.1H2350M1429,493.4H1437M2342,493.4H2350M1429,458.8H1437M2342,458.8H2350M1429,432H1437M2342,432H2350M1429,410.1H1437M2342,410.1H2350M1429,391.6H1437M2342,391.6H2350M1429,375.5H1437M2342,375.5H2350M1429,361.4H1437M2342,361.4H2350M1429,265.4H1437M2342,265.4H2350M1429,216.7H1437M2342,216.7H2350M1429,182.1H1437M2342,182.1H2350M1429,155.3H1437M2342,155.3H2350M1429,133.4H1437M2342,133.4H2350M1429,114.9H1437M2342,114.9H2350M1429,98.8H1437M2342,98.8H2350M1429,84.7H1437M2342,84.7H2350M1437,985.4V1000.4M1619.6,72V87M1619.6,985.4V1000.4M1802.2,72V87M1802.2,985.4V1000.4M1984.8,72V87M1984.8,985.4V1000.4M2167.4,72V87M2167.4,985.4V1000.4M2350,985.4V1000.4M1528.3,72V80M1528.3,985.4V993.4M1710.9,72V80M1710.9,985.4V993.4M1893.5,72V80M1893.5,985.4V993.4M2076.1,72V80M2076.1,985.4V993.4M2258.7,72V80M2258.7,985.4V993.4" stroke="#262626" stroke-width="3.2" fill="none"/>
<g font-family="'Liberation Sans', sans-serif" font-size="72" fill="#000">
<text x="1414.8" y="110" text-anchor="end">10,000</text>
<text x="1414.8" y="374.3" text-anchor="end">1,000</text>
<text x="1414.8" y="655" text-anchor="end">100</text>
<text x="1414.8" y="922.5" text-anchor="end">10</text>
<text x="1437" y="1067.2" text-anchor="middle">0</text>
<text x="1619.6" y="1067.2" text-anchor="middle">10</text>
<text x="1802.2" y="1067.2" text-anchor="middle">20</text>
<text x="1984.8" y="1067.2" text-anchor="middle">30</text>
<text x="2167.4" y="1067.2" text-anchor="middle">40</text>
<text x="2350" y="1067.2" text-anchor="middle">50</text>
<text x="1918.5" y="1147.7" text-anchor="middle" font-size="72.9">Time / ns</text>
</g>
<text transform="translate(1246.3,637) rotate(-90)" font-family="'Liberation Sans', sans-serif" font-size="76.3" fill="#000">Counts</text>
<text x="1466" y="186.5" font-family="'Liberation Sans', sans-serif" font-size="106" fill="#000">b</text>
<g clip-path="url(#cr)" fill="none" stroke-linejoin="round">
<path d="M1437,685.6L1437.3,686.2L1437.5,674.9L1437.8,697.8L1438,687.1L1438.3,687.4L1438.5,691.2L1438.8,671.7L1439,678.3L1439.3,689.6L1439.5,698L1439.8,684.4L1440,689.7L1440.3,705.4L1440.6,678.7L1440.8,676.7L1441.1,669.8L1441.3,673.5L1441.6,681.1L1441.8,672.9L1442.1,682.6L1442.3,682.9L1442.6,689.3L1442.8,667.2L1443.1,687.9L1443.3,695.6L1443.6,688.4L1443.8,677.7L1444.1,697L1444.4,677.5L1444.6,687.8L1444.9,668.7L1445.1,689L1445.4,689.1L1445.6,689.6L1445.9,686.2L1446.1,687.6L1446.4,682.2L1446.6,680.8L1446.9,658.7L1447.1,679.4L1447.4,690.3L1447.7,714.7L1447.9,680.9L1448.2,670L1448.4,677.5L1448.7,686.4L1448.9,697L1449.2,688.8L1449.4,666.6L1449.7,692L1449.9,660.1L1450.2,675.8L1450.4,692.6L1450.7,677.7L1451,678.3L1451.2,697.3L1451.5,694.3L1451.7,695.1L1452,681.8L1452.2,684.8L1452.5,695.4L1452.7,690.8L1453,695.2L1453.2,706.2L1453.5,682.1L1453.7,693.2L1454,692.2L1454.3,703.3L1454.5,685.4L1454.8,690.7L1455,696.1L1455.3,679.5L1455.5,688.6L1455.8,688L1456,680L1456.3,696.5L1456.5,679.4L1456.8,678.8L1457,686.2L1457.3,679.8L1457.5,686.3L1457.8,696.7L1458.1,678.3L1458.3,684.2L1458.6,680.3L1458.8,670.3L1459.1,702L1459.3,688.9L1459.6,675.6L1459.8,695.8L1460.1,686.3L1460.3,679L1460.6,675.9L1460.8,684.6L1461.1,700.9L1461.4,699.1L1461.6,693L1461.9,693.1L1462.1,694.2L1462.4,702.4L1462.6,687.5L1462.9,691.1L1463.1,684.7L1463.4,701.3L1463.6,693.7L1463.9,682.3L1464.1,680.8L1464.4,676.4L1464.7,680.5L1464.9,660.4L1465.2,691.8L1465.4,679.2L1465.7,682.7L1465.9,666L1466.2,680.9L1466.4,681.8L1466.7,680.1L1466.9,674.6L1467.2,700.9L1467.4,686L1467.7,687.9L1467.9,689.3L1468.2,677.8L1468.5,683.7L1468.7,709.5L1469,691.4L1469.2,706.1L1469.5,671.9L1469.7,685.4L1470,669.9L1470.2,683.2L1470.5,686.8L1470.7,691.6L1471,684.2L1471.2,669.6L1471.5,678.2L1471.8,672L1472,705.7L1472.3,690.7L1472.5,685.2L1472.8,688.6L1473,695.1L1473.3,687.1L1473.5,690.2L1473.8,686.6L1474,686.5L1474.3,693.1L1474.5,681.5L1474.8,696.6L1475.1,667.9L1475.3,688.7L1475.6,681.6L1475.8,684.5L1476.1,695.4L1476.3,684.3L1476.6,673.2L1476.8,711.6L1477.1,681.2L1477.3,667L1477.6,687.9L1477.8,676.2L1478.1,676.9L1478.4,685.8L1478.6,679.6L1478.9,684.9L1479.1,680.2L1479.4,692.2L1479.6,680.4L1479.9,678.6L1480.1,679.5L1480.4,691.5L1480.6,695.1L1480.9,678.8L1481.1,686.5L1481.4,670.1L1481.6,679.7L1481.9,688.4L1482.2,665.3L1482.4,672.6L1482.7,691.7L1482.9,667L1483.2,697L1483.4,678.5L1483.7,691.4L1483.9,692.2L1484.2,684.2L1484.4,681.3L1484.7,689.9L1484.9,671.9L1485.2,679.5L1485.5,675.2L1485.7,692L1486,675.3L1486.2,697.4L1486.5,671.9L1486.7,700.2L1487,693.2L1487.2,696L1487.5,691.1L1487.7,700.8L1488,704.9L1488.2,689.4L1488.5,680.5L1488.8,683.4L1489,685.6L1489.3,683.4L1489.5,701L1489.8,681L1490,683L1490.3,670.2L1490.5,679.7L1490.8,674.7L1491,691.5L1491.3,699.6L1491.5,677.4L1491.8,686.2L1492,678.7L1492.3,665.8L1492.6,671.1L1492.8,679.6L1493.1,687L1493.3,679.3L1493.6,686.8L1493.8,695.4L1494.1,676.7L1494.3,681L1494.6,702.9L1494.8,673L1495.1,670.8L1495.3,693.8L1495.6,694.6L1495.9,703.1L1496.1,691.4L1496.4,689.5L1496.6,691.7L1496.9,680.7L1497.1,683.5L1497.4,665L1497.6,696.3L1497.9,692.4L1498.1,685.4L1498.4,689.8L1498.6,678.2L1498.9,682.4L1499.2,691.4L1499.4,677.4L1499.7,678L1499.9,674.4L1500.2,693.6L1500.4,681.6L1500.7,684.9L1500.9,690.4L1501.2,675.5L1501.4,667.6L1501.7,669L1501.9,695.8L1502.2,674L1502.4,681.5L1502.7,693L1503,674.6L1503.2,686L1503.5,684.8L1503.7,675.4L1504,682.7L1504.2,696.4L1504.5,693.4L1504.7,674.1L1505,690.3L1505.2,686.8L1505.5,679.4L1505.7,683.4L1506,697.1L1506.3,700.8L1506.5,687.9L1506.8,678.8L1507,696.1L1507.3,683.6L1507.5,662.5L1507.8,694.2L1508,673L1508.3,687.6L1508.5,683.1L1508.8,694.1L1509,666.7L1509.3,701.6L1509.6,689L1509.8,683.3L1510.1,692.7L1510.3,698.9L1510.6,657.2L1510.8,686.4L1511.1,675.5L1511.3,670.5L1511.6,687.2L1511.8,689.1L1512.1,702.9L1512.3,670.4L1512.6,672.8L1512.9,681.9L1513.1,659.3L1513.4,695.2L1513.6,670.8L1513.9,691.6L1514.1,699.9L1514.4,684L1514.6,700.2L1514.9,685.8L1515.1,692.6L1515.4,690L1515.6,692.2L1515.9,690.3L1516.1,673.1L1516.4,674.6L1516.7,683.7L1516.9,689.7L1517.2,683.8L1517.4,692.6L1517.7,674.9L1517.9,704.2L1518.2,681.1L1518.4,683.4L1518.7,682.5L1518.9,706.4L1519.2,697.7L1519.4,689.8L1519.7,673.6L1520,689L1520.2,675.9L1520.5,678.7L1520.7,683.5L1521,695L1521.2,699.2L1521.5,685.2L1521.7,673.4L1522,701.1L1522.2,658.3L1522.5,682.8L1522.7,660.2L1523,686.8L1523.3,696.2L1523.5,697L1523.8,675.5L1524,690.7L1524.3,679.9L1524.5,684.8L1524.8,684L1525,696.9L1525.3,673.4L1525.5,693.9L1525.8,694L1526,691.9L1526.3,694.5L1526.5,675.9L1526.8,675.2L1527.1,676.1L1527.3,680.6L1527.6,685.4L1527.8,661.8L1528.1,684.1L1528.3,685.5L1528.6,689.7L1528.8,675.8L1529.1,674.6L1529.3,678.4L1529.6,679.9L1529.8,672L1530.1,674.2L1530.4,673.8L1530.6,690.7L1530.9,663.9L1531.1,677.8L1531.4,657.4L1531.6,683.8L1531.9,658.8L1532.1,677.2L1532.4,664.6L1532.6,666.5L1532.9,685.5L1533.1,682.6L1533.4,672.8L1533.7,666.4L1533.9,667.8L1534.2,667.7L1534.4,664.5L1534.7,669L1534.9,669.8L1535.2,679.5L1535.4,655.9L1535.7,655.7L1535.9,646.2L1536.2,656.5L1536.4,667.7L1536.7,665.1L1537,655.2L1537.2,653.3L1537.5,635.6L1537.7,657L1538,648.5L1538.2,644.5L1538.5,641.4L1538.7,630.6L1539,637.1L1539.2,627.5L1539.5,626.2L1539.7,625.8L1540,623.1L1540.2,620.2L1540.5,622.8L1540.8,611.3L1541,621.6L1541.3,607.1L1541.5,608.5L1541.8,611.9L1542,594.7L1542.3,597.7L1542.5,594.5L1542.8,592.6L1543,581.8L1543.3,588L1543.5,577.4L1543.8,567.7L1544.1,573.4L1544.3,562L1544.6,562.6L1544.8,561.8L1545.1,552.2L1545.3,545.7L1545.6,537.3L1545.8,537.2L1546.1,537.1L1546.3,528.4L1546.6,525.8L1546.8,513.7L1547.1,517.2L1547.4,516.5L1547.6,508.7L1547.9,501.3L1548.1,495.2L1548.4,482.6L1548.6,480.1L1548.9,488.5L1549.1,475.9L1549.4,468.3L1549.6,473.7L1549.9,463.4L1550.1,453.7L1550.4,449.9L1550.6,442.1L1550.9,442.6L1551.2,429.7L1551.4,421.9L1551.7,423.4L1551.9,409.1L1552.2,412.1L1552.4,404.1L1552.7,396.6L1552.9,390.4L1553.2,383.7L1553.4,380.9L1553.7,375.2L1553.9,374.5L1554.2,363.2L1554.5,351.5L1554.7,345.2L1555,341.8L1555.2,334.3L1555.5,330.6L1555.7,323.3L1556,318.8L1556.2,311.2L1556.5,303.2L1556.7,299.3L1557,291.8L1557.2,289.4L1557.5,279.8L1557.8,275.1L1558,268.3L1558.3,260.3L1558.5,253.3L1558.8,247L1559,240.9L1559.3,238.6L1559.5,231.2L1559.8,226.7L1560,221L1560.3,221.5L1560.5,215.9L1560.8,210.7L1561.1,209L1561.3,204.4L1561.6,202.7L1561.8,199.2L1562.1,200.2L1562.3,193.7L1562.6,193L1562.8,188.5L1563.1,187.3L1563.3,184.9L1563.6,184.4L1563.8,180.5L1564.1,178.1L1564.3,175.2L1564.6,176.1L1564.9,173.4L1565.1,174.1L1565.4,170.3L1565.6,168.4L1565.9,168.8L1566.1,166.5L1566.4,166.5L1566.6,162.4L1566.9,161L1567.1,161.4L1567.4,161.4L1567.6,160.5L1567.9,158.8L1568.2,158.8L1568.4,157.1L1568.7,157L1568.9,156.7L1569.2,156L1569.4,155.7L1569.7,153.9L1569.9,153.4L1570.2,151.6L1570.4,152.7L1570.7,152.9L1570.9,151.3L1571.2,149.4L1571.5,151.9L1571.7,150L1572,151.4L1572.2,149.5L1572.5,151.1L1572.7,150.1L1573,151.2L1573.2,150.4L1573.5,151.2L1573.7,150.8L1574,149.6L1574.2,150.3L1574.5,150.9L1574.7,152.2L1575,151.7L1575.3,152L1575.5,151.5L1575.8,153.3L1576,154.1L1576.3,152.7L1576.5,155.1L1576.8,156.7L1577,156.2L1577.3,155.9L1577.5,155.6L1577.8,158.2L1578,156.3L1578.3,157.2L1578.6,157.6L1578.8,159L1579.1,160.1L1579.3,159.6L1579.6,159.1L1579.8,162.1L1580.1,162.7L1580.3,163.7L1580.6,163.4L1580.8,165L1581.1,164.2L1581.3,165.7L1581.6,164.1L1581.9,164.4L1582.1,163.7L1582.4,164.2L1582.6,167.4L1582.9,166.1L1583.1,165.9L1583.4,166.2L1583.6,167.6L1583.9,168.9L1584.1,166.9L1584.4,169.7L1584.6,168.8L1584.9,170.3L1585.2,171.7L1585.4,169.6L1585.7,170.1L1585.9,171.5L1586.2,173.2L1586.4,172.3L1586.7,172.8L1586.9,173.6L1587.2,173.9L1587.4,173.5L1587.7,176.4L1587.9,177L1588.2,178.7L1588.4,179.7L1588.7,176.5L1589,175.7L1589.2,177.7L1589.5,178.3L1589.7,177.4L1590,178.4L1590.2,180.6L1590.5,180.3L1590.7,180.3L1591,181.7L1591.2,182.4L1591.5,183.9L1591.7,182.5L1592,184.9L1592.3,181.6L1592.5,184.3L1592.8,187L1593,185L1593.3,187.6L1593.5,185.9L1593.8,189.1L1594,188L1594.3,187.2L1594.5,188.6L1594.8,189.2L1595,190.1L1595.3,189.2L1595.6,188.2L1595.8,190.8L1596.1,193.2L1596.3,190.6L1596.6,192.7L1596.8,193.2L1597.1,194L1597.3,192L1597.6,194.3L1597.8,194.5L1598.1,194.7L1598.3,197.7L1598.6,197.4L1598.8,199L1599.1,197.3L1599.4,199.2L1599.6,199L1599.9,198.3L1600.1,199.1L1600.4,197.6L1600.6,199.2L1600.9,198.3L1601.1,200.7L1601.4,202.7L1601.6,201.5L1601.9,200.9L1602.1,200L1602.4,203.1L1602.7,204.7L1602.9,204.6L1603.2,205.6L1603.4,205.9L1603.7,206.4L1603.9,208L1604.2,206L1604.4,210.3L1604.7,208.2L1604.9,209.5L1605.2,209.2L1605.4,208.5L1605.7,210.3L1606,210L1606.2,209.8L1606.5,212.3L1606.7,212.5L1607,211.5L1607.2,213.3L1607.5,213.1L1607.7,213.6L1608,213.4L1608.2,215.2L1608.5,216.1L1608.7,215.8L1609,215.2L1609.2,218L1609.5,219.7L1609.8,218.5L1610,217.7L1610.3,219.2L1610.5,216.6L1610.8,219.9L1611,221.3L1611.3,219.4L1611.5,219.6L1611.8,220.8L1612,225.8L1612.3,222.2L1612.5,224.4L1612.8,225.9L1613.1,223.3L1613.3,224.6L1613.6,226L1613.8,223.1L1614.1,224L1614.3,225.7L1614.6,225.1L1614.8,225.7L1615.1,229.7L1615.3,229.2L1615.6,229.2L1615.8,226.6L1616.1,229.2L1616.4,228.8L1616.6,230L1616.9,230.3L1617.1,232.9L1617.4,230.5L1617.6,231.3L1617.9,231.4L1618.1,230.3L1618.4,236.9L1618.6,233.4L1618.9,233L1619.1,232.7L1619.4,236.2L1619.7,237.4L1619.9,237.4L1620.2,238.5L1620.4,239.1L1620.7,239.7L1620.9,234.8L1621.2,236.5L1621.4,240.2L1621.7,235.4L1621.9,239L1622.2,240.5L1622.4,240.5L1622.7,243L1622.9,243L1623.2,242.3L1623.5,245.7L1623.7,242.9L1624,243.5L1624.2,244.2L1624.5,245.6L1624.7,245.5L1625,246.4L1625.2,246L1625.5,246.6L1625.7,248.8L1626,247.5L1626.2,246.7L1626.5,248.4L1626.8,248.6L1627,248.1L1627.3,248.6L1627.5,251.8L1627.8,252.5L1628,252.8L1628.3,252.8L1628.5,251.5L1628.8,249.9L1629,255.5L1629.3,251.7L1629.5,256.3L1629.8,254.9L1630.1,256L1630.3,258.5L1630.6,256.7L1630.8,257.7L1631.1,258L1631.3,256.5L1631.6,257.7L1631.8,257.4L1632.1,258L1632.3,259.9L1632.6,258.4L1632.8,262.8L1633.1,260.2L1633.3,260.8L1633.6,261.2L1633.9,260.6L1634.1,262.9L1634.4,265.1L1634.6,264.2L1634.9,265.2L1635.1,264.5L1635.4,266.6L1635.6,266L1635.9,265.3L1636.1,264.4L1636.4,267.3L1636.6,267.9L1636.9,269.7L1637.2,269.2L1637.4,269.3L1637.7,266.6L1637.9,273L1638.2,271.4L1638.4,272.5L1638.7,274.2L1638.9,270.5L1639.2,273.1L1639.4,270.2L1639.7,270.6L1639.9,271.4L1640.2,273.8L1640.5,276.8L1640.7,275.4L1641,273.1L1641.2,275.5L1641.5,274.3L1641.7,276.5L1642,276.7L1642.2,277.1L1642.5,278.1L1642.7,277.9L1643,280.3L1643.2,281.7L1643.5,278.9L1643.8,282L1644,282.9L1644.3,282.9L1644.5,281.7L1644.8,283.7L1645,285.3L1645.3,283.8L1645.5,286.9L1645.8,286.2L1646,287L1646.3,287.8L1646.5,287.7L1646.8,285.4L1647,289.1L1647.3,292.9L1647.6,285.8L1647.8,288L1648.1,289.8L1648.3,290L1648.6,288.8L1648.8,290.5L1649.1,293.9L1649.3,288.2L1649.6,293.7L1649.8,292.4L1650.1,295L1650.3,293.3L1650.6,292.8L1650.9,295L1651.1,292.6L1651.4,294.7L1651.6,297.9L1651.9,296.1L1652.1,297.4L1652.4,299L1652.6,297L1652.9,298.8L1653.1,298.5L1653.4,294.8L1653.6,298.5L1653.9,298L1654.2,301.5L1654.4,297.9L1654.7,298.5L1654.9,302.1L1655.2,297.9L1655.4,301.5L1655.7,304.8L1655.9,301.4L1656.2,303.5L1656.4,303.6L1656.7,303.8L1656.9,309L1657.2,308.7L1657.4,309.6L1657.7,311.7L1658,309.9L1658.2,305.7L1658.5,310.2L1658.7,310.1L1659,311.1L1659.2,308.9L1659.5,308.3L1659.7,309.7L1660,314.8L1660.2,307.4L1660.5,312.8L1660.7,312.5L1661,312.6L1661.3,313.1L1661.5,310.3L1661.8,313.3L1662,314.1L1662.3,311.9L1662.5,314.6L1662.8,314.6L1663,317.6L1663.3,315.9L1663.5,317.8L1663.8,317.7L1664,316.3L1664.3,319.7L1664.6,320L1664.8,320.1L1665.1,318.2L1665.3,321.2L1665.6,318.9L1665.8,322.7L1666.1,321.8L1666.3,323.7L1666.6,325.4L1666.8,323.6L1667.1,324.4L1667.3,325.9L1667.6,328.5L1667.9,326.2L1668.1,328.5L1668.4,327.6L1668.6,329.2L1668.9,326.5L1669.1,329.1L1669.4,329.8L1669.6,326.8L1669.9,328.4L1670.1,329.3L1670.4,332.3L1670.6,331.4L1670.9,331.2L1671.1,329.2L1671.4,334.2L1671.7,333.7L1671.9,335.6L1672.2,334.2L1672.4,333.5L1672.7,332.2L1672.9,332L1673.2,334.2L1673.4,334.2L1673.7,333.4L1673.9,332.3L1674.2,338L1674.4,340.6L1674.7,336.7L1675,337.6L1675.2,343.5L1675.5,342.9L1675.7,344.3L1676,341.7L1676.2,340.7L1676.5,338.7L1676.7,343.5L1677,343.6L1677.2,344.5L1677.5,344.1L1677.7,344.1L1678,342.3L1678.3,342.6L1678.5,343.6L1678.8,344.3L1679,346.1L1679.3,344.9L1679.5,353.6L1679.8,345.7L1680,346.7L1680.3,351.6L1680.5,348.7L1680.8,347L1681,349.8L1681.3,346L1681.5,349.5L1681.8,357L1682.1,353L1682.3,352.6L1682.6,353.2L1682.8,350.3L1683.1,352.7L1683.3,349.8L1683.6,357.4L1683.8,352.7L1684.1,359.1L1684.3,358.5L1684.6,354.8L1684.8,356.1L1685.1,356.5L1685.4,359L1685.6,355.8L1685.9,354.2L1686.1,358.5L1686.4,358.9L1686.6,366L1686.9,361L1687.1,359.2L1687.4,365.3L1687.6,360.7L1687.9,365.8L1688.1,363.8L1688.4,365.1L1688.7,358.7L1688.9,363L1689.2,367L1689.4,367.9L1689.7,366.2L1689.9,362.1L1690.2,369.3L1690.4,364.5L1690.7,362.9L1690.9,368.4L1691.2,367.6L1691.4,371.3L1691.7,369.7L1691.9,363.6L1692.2,371.3L1692.5,365.4L1692.7,369.1L1693,368L1693.2,372.5L1693.5,370.5L1693.7,375.5L1694,370.8L1694.2,380.1L1694.5,374.8L1694.7,368.5L1695,371.7L1695.2,376.1L1695.5,375.5L1695.8,375.8L1696,369.7L1696.3,375.2L1696.5,376.5L1696.8,377.3L1697,380.4L1697.3,380.3L1697.5,380.5L1697.8,378.4L1698,375.8L1698.3,378.2L1698.5,380.3L1698.8,384.6L1699.1,386.1L1699.3,382.6L1699.6,384.2L1699.8,384.6L1700.1,383.8L1700.3,387L1700.6,387.5L1700.8,379.7L1701.1,384.9L1701.3,388.5L1701.6,383.4L1701.8,389.2L1702.1,395.7L1702.4,389.8L1702.6,386L1702.9,391L1703.1,392.1L1703.4,393.5L1703.6,390.2L1703.9,387.7L1704.1,395.7L1704.4,386.9L1704.6,389.6L1704.9,391.6L1705.1,390.3L1705.4,388.3L1705.6,392.7L1705.9,391.4L1706.2,392.4L1706.4,396.6L1706.7,396.4L1706.9,398L1707.2,396.9L1707.4,392.9L1707.7,395.3L1707.9,397.2L1708.2,399.9L1708.4,401.8L1708.7,396L1708.9,402.3L1709.2,401L1709.5,397.3L1709.7,397.4L1710,402.5L1710.2,403.4L1710.5,397.6L1710.7,401.3L1711,399.8L1711.2,404L1711.5,404.4L1711.7,402.2L1712,407.9L1712.2,404.4L1712.5,406.5L1712.8,409.1L1713,398.6L1713.3,408.2L1713.5,406.5L1713.8,410.7L1714,406.3L1714.3,405.7L1714.5,408.1L1714.8,408.4L1715,406.6L1715.3,401.7L1715.5,408.9L1715.8,409.9L1716,408.1L1716.3,411.2L1716.6,410.1L1716.8,412.8L1717.1,412.1L1717.3,417.9L1717.6,413.9L1717.8,415.8L1718.1,417.7L1718.3,417.8L1718.6,414.6L1718.8,416.9L1719.1,417L1719.3,413.3L1719.6,421.2L1719.9,414.1L1720.1,416.2L1720.4,420.7L1720.6,418.5L1720.9,420.4L1721.1,417.3L1721.4,423.7L1721.6,420.5L1721.9,430.1L1722.1,424.7L1722.4,421.4L1722.6,424.5L1722.9,421.9L1723.2,424.1L1723.4,418.3L1723.7,421.3L1723.9,425.5L1724.2,421L1724.4,423.6L1724.7,428.7L1724.9,431.4L1725.2,432.6L1725.4,432.5L1725.7,428.3L1725.9,423.5L1726.2,433.3L1726.5,424.6L1726.7,429.9L1727,428.8L1727.2,427.9L1727.5,435.5L1727.7,436.2L1728,428.1L1728.2,424.9L1728.5,428.2L1728.7,430.3L1729,437.7L1729.2,434.3L1729.5,436.8L1729.7,430.7L1730,434.4L1730.3,435.7L1730.5,441L1730.8,443.3L1731,438.5L1731.3,443.5L1731.5,435.4L1731.8,441.4L1732,440L1732.3,439.7L1732.5,441.3L1732.8,443.9L1733,432.6L1733.3,441.7L1733.6,442.2L1733.8,437.2L1734.1,438.3L1734.3,445.1L1734.6,438.7L1734.8,443.7L1735.1,445.7L1735.3,442.8L1735.6,450.1L1735.8,446.3L1736.1,452.3L1736.3,447L1736.6,442L1736.9,439.1L1737.1,445.7L1737.4,445.7L1737.6,447.8L1737.9,444.7L1738.1,445.9L1738.4,458.1L1738.6,453L1738.9,450.7L1739.1,445.8L1739.4,446.7L1739.6,452.7L1739.9,443.8L1740.1,451.2L1740.4,447.2L1740.7,452.2L1740.9,447.9L1741.2,451.3L1741.4,447.3L1741.7,453.6L1741.9,455L1742.2,457.8L1742.4,465.4L1742.7,459L1742.9,459.1L1743.2,454.3L1743.4,449.6L1743.7,456.8L1744,458.2L1744.2,457.2L1744.5,458.8L1744.7,464.7L1745,463.7L1745.2,459.6L1745.5,458.8L1745.7,465.4L1746,464L1746.2,466.9L1746.5,462.3L1746.7,461.2L1747,454.8L1747.3,466.2L1747.5,464.3L1747.8,461.3L1748,477.3L1748.3,466.2L1748.5,471.4L1748.8,465.3L1749,465.6L1749.3,465.3L1749.5,468.5L1749.8,471.6L1750,471.5L1750.3,469.4L1750.6,467.3L1750.8,465.7L1751.1,469.4L1751.3,474.1L1751.6,462.9L1751.8,471.9L1752.1,472.3L1752.3,475.9L1752.6,473.7L1752.8,479.2L1753.1,470L1753.3,472.4L1753.6,470.6L1753.8,474.6L1754.1,468.6L1754.4,477.6L1754.6,471.3L1754.9,471.8L1755.1,477.6L1755.4,474.1L1755.6,477.8L1755.9,478.3L1756.1,475.8L1756.4,485.9L1756.6,482.1L1756.9,479.6L1757.1,490.1L1757.4,485.4L1757.7,479.7L1757.9,481L1758.2,478.5L1758.4,483.9L1758.7,477.9L1758.9,486.4L1759.2,486.2L1759.4,488.1L1759.7,488.3L1759.9,487.3L1760.2,482.5L1760.4,481.9L1760.7,492.7L1761,494.1L1761.2,489L1761.5,490.1L1761.7,488.6L1762,495.8L1762.2,486L1762.5,491.8L1762.7,482.9L1763,491.3L1763.2,486.1L1763.5,480.7L1763.7,502.6L1764,487.8L1764.2,493L1764.5,491.6L1764.8,498.4L1765,495.3L1765.3,500.7L1765.5,493.9L1765.8,491.1L1766,494.6L1766.3,492.5L1766.5,494.6L1766.8,494.3L1767,491.5L1767.3,490.5L1767.5,498.8L1767.8,499.3L1768.1,502.1L1768.3,499.8L1768.6,494.6L1768.8,501.5L1769.1,503.1L1769.3,500.1L1769.6,495.4L1769.8,502.3L1770.1,506.3L1770.3,500.7L1770.6,506.4L1770.8,498.5L1771.1,500.1L1771.4,502.3L1771.6,506.8L1771.9,494.7L1772.1,505.3L1772.4,508.3L1772.6,498.7L1772.9,506.1L1773.1,503L1773.4,509.1L1773.6,506.3L1773.9,511.1L1774.1,502.7L1774.4,504.7L1774.7,507.1L1774.9,510.7L1775.2,509.7L1775.4,505.6L1775.7,507L1775.9,505.2L1776.2,513.1L1776.4,517.1L1776.7,504.5L1776.9,511.2L1777.2,515.9L1777.4,510.3L1777.7,513.7L1777.9,513.9L1778.2,517.2L1778.5,512L1778.7,521.9L1779,520.6L1779.2,515.5L1779.5,525.7L1779.7,518.2L1780,518.1L1780.2,514.9L1780.5,510.4L1780.7,508L1781,511.5L1781.2,513.2L1781.5,515L1781.8,520.1L1782,504.6L1782.3,517.7L1782.5,515.9L1782.8,515L1783,513L1783.3,519.6L1783.5,521.7L1783.8,521.6L1784,512.6L1784.3,521.5L1784.5,516.6L1784.8,522.8L1785.1,513.2L1785.3,525L1785.6,521.2L1785.8,521.1L1786.1,525.4L1786.3,529.8L1786.6,523.2L1786.8,531.1L1787.1,530L1787.3,529.2L1787.6,524.1L1787.8,521.2L1788.1,528.9L1788.3,524L1788.6,522.6L1788.9,526.6L1789.1,525.6L1789.4,526.1L1789.6,519.9L1789.9,525.8L1790.1,531.1L1790.4,522.2L1790.6,527.5L1790.9,540.1L1791.1,516.4L1791.4,533.3L1791.6,522.1L1791.9,529.5L1792.2,535.2L1792.4,524.2L1792.7,530.3L1792.9,527.4L1793.2,531.8L1793.4,534.7L1793.7,534L1793.9,532.5L1794.2,534.8L1794.4,536.4L1794.7,535.7L1794.9,536.4L1795.2,540.2L1795.5,535L1795.7,531.2L1796,532.9L1796.2,539.5L1796.5,538.4L1796.7,537.4L1797,547.5L1797.2,538.6L1797.5,540.5L1797.7,545.7L1798,535L1798.2,542.1L1798.5,547.9L1798.7,530.8L1799,535.8L1799.3,541.9L1799.5,547.5L1799.8,540.3L1800,544.9L1800.3,544.2L1800.5,543.5L1800.8,540.9L1801,539.6L1801.3,547.9L1801.5,541.5L1801.8,540.1L1802,549.3L1802.3,543L1802.6,541L1802.8,539.6L1803.1,549.6L1803.3,539.3L1803.6,541L1803.8,543.1L1804.1,548.7L1804.3,546.5L1804.6,557.5L1804.8,548.7L1805.1,550.8L1805.3,560.5L1805.6,551.9L1805.9,552.8L1806.1,558.1L1806.4,552.4L1806.6,553.7L1806.9,550.4L1807.1,559.1L1807.4,554.8L1807.6,556.1L1807.9,554.2L1808.1,541.4L1808.4,550L1808.6,550.6L1808.9,556L1809.2,551.8L1809.4,567.5L1809.7,554.9L1809.9,563.6L1810.2,563.4L1810.4,561.6L1810.7,552.8L1810.9,562.5L1811.2,559.7L1811.4,548.3L1811.7,555.9L1811.9,565.5L1812.2,564.6L1812.4,570.9L1812.7,560.1L1813,562L1813.2,564.6L1813.5,560.8L1813.7,564.5L1814,567.3L1814.2,556L1814.5,557.4L1814.7,569.2L1815,565.7L1815.2,569L1815.5,561.7L1815.7,562.2L1816,563.6L1816.3,555.9L1816.5,553.2L1816.8,554.4L1817,572.3L1817.3,572.2L1817.5,572.3L1817.8,569.3L1818,566L1818.3,568.9L1818.5,553.2L1818.8,563.8L1819,571.8L1819.3,559.3L1819.6,561.3L1819.8,564.9L1820.1,579.2L1820.3,566L1820.6,572.4L1820.8,564.9L1821.1,571.5L1821.3,572.9L1821.6,559.6L1821.8,565L1822.1,580.5L1822.3,580.3L1822.6,582.9L1822.8,559.9L1823.1,559.4L1823.4,567.5L1823.6,566.1L1823.9,564.4L1824.1,570.5L1824.4,569.3L1824.6,585.2L1824.9,572.7L1825.1,572.2L1825.4,574.8L1825.6,576.7L1825.9,575.3L1826.1,585.2L1826.4,578.6L1826.7,579.8L1826.9,580.6L1827.2,563.9L1827.4,575.1L1827.7,586.9L1827.9,579.6L1828.2,575.2L1828.4,574.3L1828.7,581.4L1828.9,589.2L1829.2,585.8L1829.4,577.2L1829.7,576.6L1830,586.7L1830.2,578.7L1830.5,570.9L1830.7,588.9L1831,577.7L1831.2,595.1L1831.5,576.5L1831.7,586.1L1832,582.9L1832.2,579.1L1832.5,585.3L1832.7,584.7L1833,593.4L1833.3,571.6L1833.5,593.1L1833.8,584.1L1834,573.3L1834.3,585.9L1834.5,585.5L1834.8,579.2L1835,586L1835.3,589L1835.5,590.2L1835.8,581.3L1836,590.8L1836.3,572.3L1836.5,592.9L1836.8,593.2L1837.1,582.9L1837.3,586.6L1837.6,581.1L1837.8,588.1L1838.1,587.9L1838.3,587.6L1838.6,587.8L1838.8,586.7L1839.1,591.3L1839.3,593.8L1839.6,594.5L1839.8,597.3L1840.1,605.3L1840.4,587.2L1840.6,592.7L1840.9,585.1L1841.1,593.6L1841.4,595L1841.6,600.5L1841.9,593.1L1842.1,596L1842.4,596.6L1842.6,598.1L1842.9,594L1843.1,601.5L1843.4,592.9L1843.7,597.7L1843.9,598.1L1844.2,601.3L1844.4,600L1844.7,590.1L1844.9,603.9L1845.2,602.9L1845.4,588L1845.7,593.5L1845.9,605.1L1846.2,590.6L1846.4,608.8L1846.7,595L1846.9,596.2L1847.2,602.4L1847.5,600.7L1847.7,587.2L1848,596.1L1848.2,592.7L1848.5,602.8L1848.7,596L1849,602.2L1849.2,604.2L1849.5,605.4L1849.7,595.5L1850,597.5L1850.2,610.7L1850.5,603.7L1850.8,591.3L1851,606.9L1851.3,608.4L1851.5,617.7L1851.8,594.6L1852,598.4L1852.3,615.6L1852.5,600.9L1852.8,601L1853,605.1L1853.3,598.5L1853.5,599.4L1853.8,600L1854.1,615.5L1854.3,616.2L1854.6,608.9L1854.8,598.1L1855.1,617.7L1855.3,604L1855.6,619.9L1855.8,593.3L1856.1,601.3L1856.3,626.9L1856.6,611.3L1856.8,625.7L1857.1,620.5L1857.4,603.8L1857.6,611.1L1857.9,615.1L1858.1,612.4L1858.4,610.6L1858.6,605.3L1858.9,605.8L1859.1,609.8L1859.4,609.6L1859.6,605.2L1859.9,606.8L1860.1,620.2L1860.4,603.7L1860.6,615.5L1860.9,618.1L1861.2,611.4L1861.4,610.2L1861.7,618.1L1861.9,617.7L1862.2,614.7L1862.4,624.1L1862.7,619.2L1862.9,603.2L1863.2,604.8L1863.4,603.7L1863.7,616.1L1863.9,607.9L1864.2,611L1864.5,617.2L1864.7,618.3L1865,615.9L1865.2,617.8L1865.5,622.9L1865.7,607.1L1866,621.8L1866.2,619.6L1866.5,627L1866.7,609.1L1867,620L1867.2,602.5L1867.5,616.5L1867.8,632.3L1868,611.9L1868.3,616.6L1868.5,618.6L1868.8,624L1869,609L1869.3,618.2L1869.5,636.5L1869.8,622.2L1870,617.1L1870.3,631.8L1870.5,620.6L1870.8,616.4L1871,625.5L1871.3,623.5L1871.6,623.7L1871.8,613.4L1872.1,615.1L1872.3,617.8L1872.6,622.9L1872.8,611.6L1873.1,620.1L1873.3,625.5L1873.6,622.6L1873.8,605.4L1874.1,609.2L1874.3,635L1874.6,630.7L1874.9,626.8L1875.1,623.6L1875.4,615.8L1875.6,634.7L1875.9,618.1L1876.1,620.7L1876.4,631.4L1876.6,625.8L1876.9,626.9L1877.1,603.7L1877.4,641.7L1877.6,627.1L1877.9,629.6L1878.2,625.1L1878.4,625.6L1878.7,624.8L1878.9,632.2L1879.2,626.7L1879.4,615.1L1879.7,625.4L1879.9,658.2L1880.2,639.2L1880.4,610.9L1880.7,638.7L1880.9,621.7L1881.2,617.6L1881.5,635.2L1881.7,639.7L1882,616.3L1882.2,617.6L1882.5,615.3L1882.7,629L1883,624.3L1883.2,625L1883.5,647.6L1883.7,641.3L1884,638.3L1884.2,645.2L1884.5,637.4L1884.7,635.3L1885,632L1885.3,643.2L1885.5,650.2L1885.8,648.3L1886,643.2L1886.3,630.6L1886.5,628.1L1886.8,643.2L1887,634.7L1887.3,623.1L1887.5,640.5L1887.8,642.6L1888,650.9L1888.3,638L1888.6,632.5L1888.8,639.8L1889.1,644.9L1889.3,633.5L1889.6,626.8L1889.8,640.2L1890.1,646.5L1890.3,637L1890.6,631.1L1890.8,641.2L1891.1,625.7L1891.3,635.7L1891.6,622L1891.9,630.1L1892.1,644.1L1892.4,644L1892.6,649.7L1892.9,631.7L1893.1,636.8L1893.4,639.6L1893.6,628.2L1893.9,654.2L1894.1,641.7L1894.4,639.7L1894.6,639.3L1894.9,636.3L1895.1,646.8L1895.4,651L1895.7,643.7L1895.9,645.7L1896.2,638.7L1896.4,632.9L1896.7,650.9L1896.9,626.2L1897.2,626.8L1897.4,631.4L1897.7,646.4L1897.9,630.4L1898.2,626.1L1898.4,639.3L1898.7,646.5L1899,633.3L1899.2,638.2L1899.5,640.1L1899.7,647.3L1900,638.6L1900.2,649.6L1900.5,641.1L1900.7,648.5L1901,630L1901.2,631.4L1901.5,653L1901.7,643.8L1902,645.1L1902.3,653.8L1902.5,654.8L1902.8,631.7L1903,642.7L1903.3,655.2L1903.5,650.1L1903.8,641.4L1904,638.8L1904.3,639.9L1904.5,653.2L1904.8,630.1L1905,646.6L1905.3,640.7L1905.5,653L1905.8,647L1906.1,648.1L1906.3,656.1L1906.6,638.3L1906.8,640.1L1907.1,660.8L1907.3,647.4L1907.6,649.2L1907.8,642L1908.1,640.9L1908.3,652.3L1908.6,648.8L1908.8,653.3L1909.1,643.9L1909.4,654.9L1909.6,634.5L1909.9,649.7L1910.1,649.7L1910.4,651.6L1910.6,638.2L1910.9,645.7L1911.1,664.8L1911.4,643.5L1911.6,643.3L1911.9,651.7L1912.1,639.7L1912.4,656.9L1912.7,658.2L1912.9,644L1913.2,642.7L1913.4,634L1913.7,652.1L1913.9,643.2L1914.2,651.1L1914.4,656L1914.7,645.8L1914.9,651.9L1915.2,645.7L1915.4,643L1915.7,646.8L1916,668.5L1916.2,645.4L1916.5,646.6L1916.7,658.2L1917,659.1L1917.2,650.9L1917.5,653.2L1917.7,640.9L1918,648.4L1918.2,654.7L1918.5,650.6L1918.7,654L1919,660.3L1919.2,658.6L1919.5,651.1L1919.8,663.5L1920,652.9L1920.3,651.2L1920.5,657.6L1920.8,640.2L1921,660.9L1921.3,648.2L1921.5,663.7L1921.8,648.5L1922,659.2L1922.3,667.7L1922.5,649.6L1922.8,646.1L1923.1,647.5L1923.3,665.1L1923.6,641L1923.8,652.4L1924.1,653.8L1924.3,661.4L1924.6,664.5L1924.8,663.5L1925.1,661.9L1925.3,646.8L1925.6,655.9L1925.8,655.2L1926.1,657.8L1926.4,658.9L1926.6,660.4L1926.9,653.6L1927.1,665.6L1927.4,642.9L1927.6,658.2L1927.9,652.8L1928.1,652.6L1928.4,648.9L1928.6,670.1L1928.9,682.1L1929.1,664.7L1929.4,640.3L1929.6,654.7L1929.9,664.4L1930.2,655.3L1930.4,647.3L1930.7,652L1930.9,644.7L1931.2,655.2L1931.4,654.8L1931.7,646.7L1931.9,651L1932.2,653.8L1932.4,659.3L1932.7,666.6L1932.9,658.4L1933.2,667.4L1933.5,658.5L1933.7,647.3L1934,652.2L1934.2,671.9L1934.5,664.7L1934.7,647.3L1935,663L1935.2,642.5L1935.5,675.5L1935.7,656.8L1936,656.9L1936.2,677.1L1936.5,673.4L1936.8,656.4L1937,657.2L1937.3,662.1L1937.5,664.1L1937.8,664.4L1938,648L1938.3,668.5L1938.5,669L1938.8,655.6L1939,667.9L1939.3,647.8L1939.5,659.9L1939.8,672.4L1940.1,650.7L1940.3,661.6L1940.6,651.6L1940.8,645L1941.1,657.6L1941.3,652.8L1941.6,664.3L1941.8,660.5L1942.1,671L1942.3,661.8L1942.6,656.2L1942.8,644.4L1943.1,668L1943.3,665.9L1943.6,656L1943.9,652L1944.1,661.6L1944.4,676.2L1944.6,665.2L1944.9,676.8L1945.1,653.4L1945.4,664.5L1945.6,670.9L1945.9,676.3L1946.1,661.8L1946.4,658.3L1946.6,642.6L1946.9,679.4L1947.2,661.2L1947.4,662.6L1947.7,656.8L1947.9,663.3L1948.2,672.6L1948.4,641.5L1948.7,666.3L1948.9,656.4L1949.2,659.3L1949.4,662.4L1949.7,653.2L1949.9,669.7L1950.2,662.6L1950.5,646.5L1950.7,649L1951,663.8L1951.2,658.8L1951.5,646.2L1951.7,674.3L1952,656.3L1952.2,654.9L1952.5,680L1952.7,669.2L1953,658.2L1953.2,666.2L1953.5,656.4L1953.7,660.1L1954,677.5L1954.3,669L1954.5,662.1L1954.8,668.7L1955,648.9L1955.3,670.7L1955.5,666.6L1955.8,652.8L1956,669.1L1956.3,674.9L1956.5,663L1956.8,675.3L1957,668.7L1957.3,661L1957.6,676.1L1957.8,666.6L1958.1,661.3L1958.3,668L1958.6,671.2L1958.8,662.5L1959.1,677.6L1959.3,655.3L1959.6,679L1959.8,671.7L1960.1,669.1L1960.3,674.5L1960.6,652.7L1960.9,670.7L1961.1,667.5L1961.4,682.3L1961.6,683.5L1961.9,680.6L1962.1,648.7L1962.4,665L1962.6,653L1962.9,669.3L1963.1,656L1963.4,653.6L1963.6,666L1963.9,666L1964.2,662L1964.4,670.2L1964.7,658.9L1964.9,671.9L1965.2,678.3L1965.4,658.1L1965.7,676.8L1965.9,679.1L1966.2,665.3L1966.4,664.1L1966.7,672.1L1966.9,669.2L1967.2,653.2L1967.4,655.1L1967.7,686.5L1968,676.1L1968.2,678.6L1968.5,677.5L1968.7,678.2L1969,686.8L1969.2,660.2L1969.5,694.7L1969.7,650.6L1970,679.6L1970.2,669.5L1970.5,680.3L1970.7,666.2L1971,666.2L1971.3,681.1L1971.5,673.7L1971.8,666.2L1972,672L1972.3,659.3L1972.5,673.5L1972.8,670.4L1973,670.1L1973.3,679.2L1973.5,672.7L1973.8,676.8L1974,682.4L1974.3,666L1974.6,673.3L1974.8,658L1975.1,689.4L1975.3,667.1L1975.6,659L1975.8,675.3L1976.1,672.7L1976.3,651.9L1976.6,669.2L1976.8,662.3L1977.1,675.6L1977.3,683.6L1977.6,662.2L1977.8,668L1978.1,662.7L1978.4,665.1L1978.6,662.9L1978.9,670L1979.1,675.9L1979.4,673.8L1979.6,681.1L1979.9,674.5L1980.1,669.3L1980.4,660L1980.6,671.9L1980.9,661.8L1981.1,678.5L1981.4,690.4L1981.7,662.1L1981.9,665.2L1982.2,658.1L1982.4,669.1L1982.7,666.5L1982.9,670.6L1983.2,679.8L1983.4,677.3L1983.7,679.5L1983.9,672.9L1984.2,673.3L1984.4,682.2L1984.7,669.4L1985,685.2L1985.2,673.8L1985.5,685.6L1985.7,663.3L1986,676.2L1986.2,684.9L1986.5,652.1L1986.7,669.6L1987,672.3L1987.2,687L1987.5,663.8L1987.7,684.1L1988,671.3L1988.3,663.5L1988.5,683.7L1988.8,664L1989,676.3L1989.3,688.1L1989.5,681.2L1989.8,688L1990,681.5L1990.3,683.1L1990.5,680.6L1990.8,662.7L1991,677.8L1991.3,679.9L1991.5,668.3L1991.8,679.8L1992.1,643.7L1992.3,674.3L1992.6,663.2L1992.8,686.5L1993.1,677.1L1993.3,666.9L1993.6,683.7L1993.8,682.7L1994.1,678.1L1994.3,673.3L1994.6,685.6L1994.8,673.2L1995.1,671.1L1995.4,685.5L1995.6,697.4L1995.9,676.8L1996.1,671.3L1996.4,675.1L1996.6,661.1L1996.9,670.2L1997.1,677.1L1997.4,669L1997.6,676.8L1997.9,679.1L1998.1,689.1L1998.4,699.5L1998.7,687.8L1998.9,665.5L1999.2,664.4L1999.4,675.1L1999.7,683.1L1999.9,673.1L2000.2,661L2000.4,660.4L2000.7,688.8L2000.9,683.6L2001.2,669L2001.4,661L2001.7,673.6L2001.9,677.1L2002.2,685.8L2002.5,677.2L2002.7,689.4L2003,670.8L2003.2,682.2L2003.5,691.9L2003.7,689.6L2004,693.6L2004.2,669.6L2004.5,663.9L2004.7,703.5L2005,670.7L2005.2,680.9L2005.5,694.4L2005.8,671L2006,677.8L2006.3,672L2006.5,693.2L2006.8,687.3L2007,684.3L2007.3,681.3L2007.5,692.7L2007.8,670.3L2008,687.2L2008.3,683.7L2008.5,671.7L2008.8,688.2L2009.1,677.2L2009.3,681.7L2009.6,676.4L2009.8,686.4L2010.1,679.1L2010.3,670.9L2010.6,681.2L2010.8,673.4L2011.1,694.3L2011.3,676.4L2011.6,676.5L2011.8,660.4L2012.1,684.4L2012.3,658.4L2012.6,668.8L2012.9,662.4L2013.1,685.2L2013.4,677.3L2013.6,671.2L2013.9,677L2014.1,676.6L2014.4,671.4L2014.6,692L2014.9,691L2015.1,681.2L2015.4,674.7L2015.6,685L2015.9,687.4L2016.2,674.2L2016.4,687.5L2016.7,649.5L2016.9,682.6L2017.2,671.4L2017.4,672.2L2017.7,688.3L2017.9,695.6L2018.2,682.6L2018.4,693.4L2018.7,679.8L2018.9,696.6L2019.2,676.7L2019.5,690.4L2019.7,670.7L2020,674.2L2020.2,683.5L2020.5,697.9L2020.7,677L2021,679.5L2021.2,668.4L2021.5,693.7L2021.7,669.4L2022,674.1L2022.2,669.6L2022.5,677.3L2022.8,680.7L2023,675.1L2023.3,687.8L2023.5,697.3L2023.8,695.5L2024,663.8L2024.3,681.4L2024.5,672.7L2024.8,679.8L2025,682.7L2025.3,677.8L2025.5,688.4L2025.8,679.4L2026,713.1L2026.3,696.6L2026.6,686L2026.8,679.6L2027.1,666.3L2027.3,697.4L2027.6,668.9L2027.8,692.6L2028.1,668.5L2028.3,678.6L2028.6,660.5L2028.8,698.5L2029.1,680.9L2029.3,675.8L2029.6,687.8L2029.9,680.1L2030.1,681L2030.4,674.5L2030.6,695.3L2030.9,663.3L2031.1,679.5L2031.4,688.2L2031.6,682.4L2031.9,683L2032.1,686.9L2032.4,679.8L2032.6,649.5L2032.9,679.9L2033.2,675L2033.4,694.9L2033.7,675.7L2033.9,695.1L2034.2,677.5L2034.4,674.8L2034.7,682.5L2034.9,683.3L2035.2,679.6L2035.4,678.7L2035.7,695.5L2035.9,686.6L2036.2,688.3L2036.4,680L2036.7,667.1L2037,682L2037.2,691.8L2037.5,677.6L2037.7,683.6L2038,693.2L2038.2,671.4L2038.5,681.1L2038.7,695L2039,676.5L2039.2,672.6L2039.5,684.3L2039.7,686.3L2040,692.1L2040.3,681.2L2040.5,684.5L2040.8,676L2041,667.4L2041.3,668.2L2041.5,672.1L2041.8,676.2L2042,670.8L2042.3,674.7L2042.5,678.5L2042.8,692.4L2043,680.8L2043.3,686.1L2043.6,667.4L2043.8,698.9L2044.1,658.8L2044.3,688.9L2044.6,670.8L2044.8,671.8L2045.1,680.8L2045.3,684.3L2045.6,686.7L2045.8,672L2046.1,668.3L2046.3,680.8L2046.6,687.1L2046.9,683.4L2047.1,675.9L2047.4,668.5L2047.6,694.4L2047.9,694.2L2048.1,687.1L2048.4,660.5L2048.6,680L2048.9,683L2049.1,682L2049.4,694.2L2049.6,669.5L2049.9,684L2050.1,676.9L2050.4,676.5L2050.7,685.9L2050.9,665.1L2051.2,684.3L2051.4,698.1L2051.7,685.9L2051.9,690.4L2052.2,661.2L2052.4,694.7L2052.7,674.6L2052.9,671.7L2053.2,678.8L2053.4,678.8L2053.7,686.6L2054,674.5L2054.2,679.1L2054.5,669.3L2054.7,688.3L2055,681L2055.2,675.6L2055.5,695.1L2055.7,671.3L2056,692.3L2056.2,668.9L2056.5,684.8L2056.7,672L2057,673.2L2057.3,679.1L2057.5,687.2L2057.8,682.2L2058,679.4L2058.3,686.6L2058.5,686.4L2058.8,689.2L2059,672.8L2059.3,684.5L2059.5,667.9L2059.8,695.6L2060,690.1L2060.3,683.6L2060.5,690.2L2060.8,675.7L2061.1,696L2061.3,688.8L2061.6,694.4L2061.8,695.8L2062.1,663.2L2062.3,689.1L2062.6,687.3L2062.8,668.4L2063.1,681.8L2063.3,681L2063.6,683.7L2063.8,680.7L2064.1,686L2064.4,694L2064.6,681.4L2064.9,692.9L2065.1,690L2065.4,673.4L2065.6,678.8L2065.9,678.5L2066.1,691.5L2066.4,701L2066.6,698.2L2066.9,676.7L2067.1,686.7L2067.4,687.2L2067.7,682.6L2067.9,704.9L2068.2,689.3L2068.4,675.1L2068.7,680.2L2068.9,702.6L2069.2,695.1L2069.4,695.8L2069.7,700L2069.9,676.5L2070.2,688.2L2070.4,696.4L2070.7,681.5L2071,664.5L2071.2,703.6L2071.5,687.7L2071.7,663.8L2072,696L2072.2,702.9L2072.5,692.4L2072.7,684.2L2073,697.5L2073.2,678.6L2073.5,680.3L2073.7,675L2074,699L2074.2,666.8L2074.5,679.6L2074.8,681L2075,684.7L2075.3,695.7L2075.5,686.9L2075.8,691.8L2076,701L2076.3,671.9L2076.5,675.3L2076.8,662.8L2077,700.3L2077.3,683.7L2077.5,699.1L2077.8,694L2078.1,712L2078.3,693.1L2078.6,672.8L2078.8,684.3L2079.1,695.2L2079.3,703.4L2079.6,692.5L2079.8,687.2L2080.1,685.4L2080.3,676.9L2080.6,691.2L2080.8,685.3L2081.1,685.1L2081.4,669.9L2081.6,669.2L2081.9,708.4L2082.1,679.3L2082.4,676.9L2082.6,685.6L2082.9,688.5L2083.1,691.5L2083.4,671.1L2083.6,683L2083.9,705.2L2084.1,684L2084.4,703.2L2084.6,682.3L2084.9,686L2085.2,712.7L2085.4,669L2085.7,675.6L2085.9,689.8L2086.2,691.9L2086.4,687.8L2086.7,697.3L2086.9,704.4L2087.2,702.8L2087.4,693.3L2087.7,687.1L2087.9,672L2088.2,704.9L2088.5,683L2088.7,679.5L2089,684.5L2089.2,701.8L2089.5,665L2089.7,669.7L2090,681.8L2090.2,683.9L2090.5,694.8L2090.7,689.8L2091,684.5L2091.2,694.4L2091.5,694.4L2091.8,694.1L2092,697.1L2092.3,679.1L2092.5,671.4L2092.8,667.3L2093,686.3L2093.3,689.6L2093.5,694.3L2093.8,685L2094,659.2L2094.3,690L2094.5,694.6L2094.8,675.9L2095.1,676.2L2095.3,695.2L2095.6,699.2L2095.8,668.5L2096.1,691L2096.3,682.3L2096.6,697L2096.8,692.7L2097.1,678.7L2097.3,700.5L2097.6,689.8L2097.8,700.7L2098.1,690L2098.3,686.8L2098.6,680.9L2098.9,681.6L2099.1,689.9L2099.4,668.6L2099.6,676L2099.9,688.7L2100.1,680.8L2100.4,681L2100.6,677.7L2100.9,686.6L2101.1,677.3L2101.4,669.6L2101.6,716.9L2101.9,679.5L2102.2,691.2L2102.4,693.4L2102.7,699.3L2102.9,690.9L2103.2,676.5L2103.4,669.7L2103.7,670.5L2103.9,697.4L2104.2,681.8L2104.4,689.3L2104.7,672.8L2104.9,709.6L2105.2,713.4L2105.5,689.5L2105.7,681.3L2106,681.9L2106.2,668.5L2106.5,685.5L2106.7,683.1L2107,684.6L2107.2,679.5L2107.5,675.8L2107.7,701.8L2108,674.4L2108.2,680.3L2108.5,690.5L2108.7,690.9L2109,696.1L2109.3,677.4L2109.5,676.5L2109.8,691.9L2110,673.4L2110.3,694.7L2110.5,692.5L2110.8,684.5L2111,683.9L2111.3,691L2111.5,667.8L2111.8,692.4L2112,679.6L2112.3,680.1L2112.6,671.6L2112.8,686.3L2113.1,683.9L2113.3,699.2L2113.6,710L2113.8,705.3L2114.1,668.8L2114.3,690.4L2114.6,688.6L2114.8,694.1L2115.1,712L2115.3,675.3L2115.6,702.5L2115.9,705.1L2116.1,691.3L2116.4,691.5L2116.6,690.5L2116.9,684.3L2117.1,696.9L2117.4,668.7L2117.6,675.9L2117.9,693L2118.1,686.9L2118.4,701L2118.6,693L2118.9,693.1L2119.1,670.8L2119.4,680.1L2119.7,694L2119.9,699.6L2120.2,695.7L2120.4,691.7L2120.7,684.9L2120.9,677.5L2121.2,683.2L2121.4,695.4L2121.7,709.2L2121.9,681.3L2122.2,688.4L2122.4,664L2122.7,706.5L2123,674.6L2123.2,707.3L2123.5,689.2L2123.7,671.3L2124,693.4L2124.2,697.5L2124.5,693.7L2124.7,673L2125,679.4L2125.2,698.2L2125.5,704.8L2125.7,693.7L2126,688.3L2126.3,677.5L2126.5,681.7L2126.8,684.9L2127,691.3L2127.3,684.1L2127.5,694.4L2127.8,673.1L2128,688.4L2128.3,689.4L2128.5,683.9L2128.8,683.3L2129,687.6L2129.3,678.5L2129.6,667.2L2129.8,690.1L2130.1,701.5L2130.3,680.4L2130.6,682.5L2130.8,688.8L2131.1,679.2L2131.3,684L2131.6,693.6L2131.8,695L2132.1,681.9L2132.3,695.6L2132.6,690.6L2132.8,661.2L2133.1,688.6L2133.4,695L2133.6,676.9L2133.9,694L2134.1,681L2134.4,669.5L2134.6,685.7L2134.9,682.7L2135.1,683.8L2135.4,685.7L2135.6,685.6L2135.9,688L2136.1,694.9L2136.4,683.8L2136.7,682.5L2136.9,687.9L2137.2,686.2L2137.4,683.1L2137.7,680.4L2137.9,669.8L2138.2,677L2138.4,694.9L2138.7,683L2138.9,694.2L2139.2,685.4L2139.4,682.5L2139.7,684.1L2140,683L2140.2,686.6L2140.5,675.5L2140.7,668.1L2141,704.2L2141.2,671.4L2141.5,670.9L2141.7,677.4L2142,700.8L2142.2,700.1L2142.5,694.5L2142.7,682.2L2143,681.3L2143.2,699.7L2143.5,697.8L2143.8,670.9L2144,675L2144.3,680.3L2144.5,682.7L2144.8,684.7L2145,697L2145.3,679.6L2145.5,673.6L2145.8,687.5L2146,681.8L2146.3,677.1L2146.5,692.4L2146.8,677.4L2147.1,680.9L2147.3,671.2L2147.6,685.8L2147.8,684.5L2148.1,696L2148.3,694.9L2148.6,685.4L2148.8,689.3L2149.1,698.4L2149.3,679.2L2149.6,713L2149.8,700.3L2150.1,688.3L2150.4,693.6L2150.6,684.1L2150.9,691.3L2151.1,699.6L2151.4,690.1L2151.6,698.3L2151.9,681.8L2152.1,691.6L2152.4,711.6L2152.6,666.1L2152.9,679.2L2153.1,695.4L2153.4,680.6L2153.7,695.9L2153.9,692.9L2154.2,674.3L2154.4,684.6L2154.7,688.4L2154.9,698.5L2155.2,685.7L2155.4,679.8L2155.7,687.9L2155.9,690.5L2156.2,702.8L2156.4,691.7L2156.7,687.5L2156.9,675.3L2157.2,699.6L2157.5,691.7L2157.7,682.8L2158,704.1L2158.2,695.4L2158.5,684L2158.7,687L2159,672.4L2159.2,683.9L2159.5,701.1L2159.7,688.5L2160,676.8L2160.2,693.3L2160.5,677.3L2160.8,674.4L2161,691.6L2161.3,688.2L2161.5,677.2L2161.8,693.5L2162,688.8L2162.3,682.1L2162.5,676.9L2162.8,687.7L2163,698.4L2163.3,682.9L2163.5,678.4L2163.8,686.9L2164.1,692.1L2164.3,681.4L2164.6,687L2164.8,686.9L2165.1,672.5L2165.3,673.1L2165.6,694.7L2165.8,676L2166.1,696.3L2166.3,668L2166.6,675.1L2166.8,695.3L2167.1,691.1L2167.3,691.4L2167.6,690.8L2167.9,688.2L2168.1,706.7L2168.4,689.5L2168.6,677.6L2168.9,684.5L2169.1,703.5L2169.4,685.9L2169.6,679.1L2169.9,701.8L2170.1,675.3L2170.4,669.4L2170.6,691.3L2170.9,667.4L2171.2,711.6L2171.4,702.7L2171.7,692.6L2171.9,686.7L2172.2,696.4L2172.4,678.3L2172.7,691.9L2172.9,682.7L2173.2,691.9L2173.4,689.1L2173.7,663.6L2173.9,685.6L2174.2,680.6L2174.5,687.6L2174.7,682.9L2175,697.5L2175.2,658L2175.5,692.6L2175.7,679.6L2176,701.6L2176.2,689.1L2176.5,668L2176.7,681.6L2177,695.8L2177.2,671.7L2177.5,678.9L2177.8,684.3L2178,685.4L2178.3,699.1L2178.5,692.2L2178.8,656.2L2179,673.3L2179.3,693L2179.5,678.9L2179.8,685.7L2180,690.2L2180.3,698.7L2180.5,705.6L2180.8,689.2L2181,680.2L2181.3,698.6L2181.6,698.1L2181.8,709.4L2182.1,674.8L2182.3,682.9L2182.6,670.9L2182.8,697.4L2183.1,699.5L2183.3,675.8L2183.6,691.4L2183.8,669.2L2184.1,691.8L2184.3,676.6L2184.6,681.6L2184.9,696.3L2185.1,689.6L2185.4,680.7L2185.6,685.7L2185.9,681.6L2186.1,698.8L2186.4,686.3L2186.6,690.9L2186.9,684.1L2187.1,690L2187.4,686.4L2187.6,688.1L2187.9,690.9L2188.2,687.6L2188.4,676.5L2188.7,685.6L2188.9,689.6L2189.2,709.3L2189.4,691.1L2189.7,693.7L2189.9,677.1L2190.2,684.2L2190.4,705.6L2190.7,684.8L2190.9,675.9L2191.2,684.5L2191.4,678.8L2191.7,684.1L2192,704.2L2192.2,693.9L2192.5,706L2192.7,692L2193,670.9L2193.2,689.9L2193.5,690.6L2193.7,683.2L2194,684.2L2194.2,676.6L2194.5,668.3L2194.7,684.8L2195,676.1L2195.3,695.9L2195.5,699.9L2195.8,685.5L2196,702.6L2196.3,684L2196.5,692.1L2196.8,694.7L2197,672.6L2197.3,677.8L2197.5,678.7L2197.8,694.3L2198,665.3L2198.3,686.8L2198.6,687.1L2198.8,689.4L2199.1,698L2199.3,685.5L2199.6,689.6L2199.8,681.4L2200.1,688.2L2200.3,683.4L2200.6,665.9L2200.8,680.6L2201.1,698.3L2201.3,685.4L2201.6,676.6L2201.8,696.2L2202.1,695.6L2202.4,708.9L2202.6,665.8L2202.9,678.1L2203.1,686.8L2203.4,677.2L2203.6,684.9L2203.9,676.6L2204.1,685.7L2204.4,689.8L2204.6,697.1L2204.9,674.1L2205.1,687.9L2205.4,680.5L2205.7,688L2205.9,703.8L2206.2,688.8L2206.4,677.8L2206.7,686.7L2206.9,691L2207.2,697.7L2207.4,696.6L2207.7,689.2L2207.9,704.8L2208.2,688.7L2208.4,690.7L2208.7,683.7L2209,698L2209.2,673.9L2209.5,699.1L2209.7,685.5L2210,688.3L2210.2,675L2210.5,703.1L2210.7,680.2L2211,678.8L2211.2,689.5L2211.5,696.5L2211.7,687.4L2212,685.1L2212.3,688.8L2212.5,687.1L2212.8,674.8L2213,698.5L2213.3,697.9L2213.5,683.4L2213.8,674.3L2214,680.5L2214.3,711L2214.5,674.3L2214.8,665.4L2215,689.4L2215.3,683.1L2215.5,689.8L2215.8,699L2216.1,700.2L2216.3,678.2L2216.6,665.9L2216.8,694.1L2217.1,683.6L2217.3,682.2L2217.6,676.7L2217.8,701.2L2218.1,681.5L2218.3,702.8L2218.6,694L2218.8,677.7L2219.1,686.1L2219.4,695.7L2219.6,683L2219.9,690L2220.1,695.4L2220.4,687.2L2220.6,688L2220.9,693.1L2221.1,705.4L2221.4,691.1L2221.6,688.6L2221.9,697.7L2222.1,689.6L2222.4,690.2L2222.7,682.4L2222.9,675L2223.2,686.5L2223.4,691.7L2223.7,701.9L2223.9,675.1L2224.2,690.3L2224.4,681.1L2224.7,683.9L2224.9,669L2225.2,710.5L2225.4,691.3L2225.7,691.8L2225.9,707.3L2226.2,699.6L2226.5,679.2L2226.7,692.2L2227,694.6L2227.2,674.9L2227.5,675.7L2227.7,687.3L2228,700.4L2228.2,690.6L2228.5,680L2228.7,680.7L2229,693L2229.2,691.1L2229.5,696.2L2229.8,678.9L2230,680.4L2230.3,691.9L2230.5,692.6L2230.8,681.5L2231,692.7L2231.3,683.6L2231.5,692.7L2231.8,671.5L2232,688.6L2232.3,684.7L2232.5,685.3L2232.8,692.4L2233.1,701.7L2233.3,678.3L2233.6,695L2233.8,704.6L2234.1,703.9L2234.3,675.6L2234.6,685.9L2234.8,678.6L2235.1,694.5L2235.3,699.3L2235.6,689.1L2235.8,680.6L2236.1,700.2L2236.4,694.9L2236.6,693.3L2236.9,656.4L2237.1,673.3L2237.4,676.7L2237.6,679.3L2237.9,681.4L2238.1,693.1L2238.4,707.3L2238.6,688L2238.9,699.7L2239.1,696.9L2239.4,681.6L2239.6,697.3L2239.9,703.6L2240.2,693.1L2240.4,695.7L2240.7,696.3L2240.9,681.5L2241.2,682.9L2241.4,671.7L2241.7,683.6L2241.9,691.7L2242.2,689.5L2242.4,693.1L2242.7,694.7L2242.9,692.4L2243.2,697L2243.5,696.9L2243.7,700.3L2244,691.4L2244.2,709.1L2244.5,698.3L2244.7,699.4L2245,696.2L2245.2,689.6L2245.5,681.7L2245.7,686.8L2246,700.8L2246.2,698.3L2246.5,686.6L2246.8,678.8L2247,683.1L2247.3,696.9L2247.5,670.4L2247.8,691.8L2248,693.7L2248.3,673.8L2248.5,688.4L2248.8,703.4L2249,679.1L2249.3,684.6L2249.5,690.1L2249.8,684L2250,684.4L2250.3,686L2250.6,678.8L2250.8,680.2L2251.1,691.9L2251.3,700.2L2251.6,689.6L2251.8,677.7L2252.1,697.2L2252.3,692.8L2252.6,684.3L2252.8,693.1L2253.1,679.5L2253.3,691.8L2253.6,688.3L2253.9,697.5L2254.1,698.6L2254.4,699.1L2254.6,720.6L2254.9,694.8L2255.1,694.1L2255.4,673.8L2255.6,698.1L2255.9,689.3L2256.1,682.8L2256.4,693.1L2256.6,711.5L2256.9,688.9L2257.2,687.8L2257.4,690.8L2257.7,684.5L2257.9,682.7L2258.2,697.4L2258.4,697.4L2258.7,688.4L2258.9,671.5L2259.2,691.3L2259.4,695.7L2259.7,692L2259.9,684.7L2260.2,690.3L2260.5,676.3L2260.7,678.3L2261,689.6L2261.2,695.5L2261.5,696.3L2261.7,675.7L2262,699.4L2262.2,704.2L2262.5,678.6L2262.7,679.1L2263,676.7L2263.2,685.6L2263.5,671L2263.7,686.1L2264,709.9L2264.3,685.5L2264.5,686.7L2264.8,679.7L2265,686.7L2265.3,686.4L2265.5,682.6L2265.8,687.6L2266,689.2L2266.3,690.1L2266.5,686.5L2266.8,701.6L2267,695.5L2267.3,691.6L2267.6,673.5L2267.8,694.3L2268.1,676.2L2268.3,674L2268.6,660.2L2268.8,661.2L2269.1,688.4L2269.3,691.9L2269.6,703.1L2269.8,684.3L2270.1,687.1L2270.3,666.1L2270.6,690.2L2270.9,704.4L2271.1,683.7L2271.4,675.5L2271.6,672.6L2271.9,675.2L2272.1,674.8L2272.4,670.4L2272.6,694.6L2272.9,686.8L2273.1,693.5L2273.4,687.2L2273.6,687.1L2273.9,682.9L2274.1,676.8L2274.4,701.3L2274.7,669.3L2274.9,685.3L2275.2,699.7L2275.4,686.2L2275.7,689L2275.9,698.8L2276.2,691.5L2276.4,675.3L2276.7,672.8L2276.9,681.9L2277.2,694.6L2277.4,706.2L2277.7,686L2278,660.8L2278.2,688.3L2278.5,700.3L2278.7,692.1L2279,679.6L2279.2,677.1L2279.5,699.7L2279.7,692.6L2280,684.3L2280.2,674L2280.5,687L2280.7,699L2281,684L2281.3,695.2L2281.5,681L2281.8,674.5L2282,688L2282.3,667.3L2282.5,677L2282.8,683.3L2283,697.9L2283.3,684L2283.5,680.8L2283.8,693.4L2284,689.7L2284.3,694.1L2284.6,681.1L2284.8,685L2285.1,674.5L2285.3,691L2285.6,701.2L2285.8,683.3L2286.1,685L2286.3,683.2L2286.6,683.4L2286.8,685.5L2287.1,684.7L2287.3,686.5L2287.6,695.7L2287.8,687.1L2288.1,682.8L2288.4,677.5L2288.6,672.1L2288.9,682.2L2289.1,688.7L2289.4,685.8L2289.6,669.3L2289.9,682.6L2290.1,688.7L2290.4,676.3L2290.6,672.9L2290.9,693.5L2291.1,685.2L2291.4,679.9L2291.7,689.1L2291.9,672.9L2292.2,696L2292.4,712.8L2292.7,679.9L2292.9,685.8L2293.2,694.4L2293.4,672.2L2293.7,683.4L2293.9,694.6L2294.2,696.1L2294.4,670L2294.7,673.7L2295,690.2L2295.2,686.8L2295.5,695.9L2295.7,674.8L2296,689.1L2296.2,700.8L2296.5,692.4L2296.7,681.5L2297,670.2L2297.2,686L2297.5,680.1L2297.7,688.1L2298,680.9L2298.2,691.8L2298.5,687.9L2298.8,681.8L2299,700.4L2299.3,682.6L2299.5,708.1L2299.8,684.4L2300,682L2300.3,694.4L2300.5,699.9L2300.8,691L2301,698L2301.3,680.8L2301.5,709.7L2301.8,702.9L2302.1,682.6L2302.3,679.7L2302.6,663.4L2302.8,675.9L2303.1,679.5L2303.3,692.5L2303.6,677.7L2303.8,685.3L2304.1,677.2L2304.3,679.3L2304.6,688L2304.8,677.2L2305.1,700.2L2305.4,683.2L2305.6,701.9L2305.9,695.5L2306.1,695.2L2306.4,692.6L2306.6,694.7L2306.9,682.2L2307.1,697.3L2307.4,699.2L2307.6,676.4L2307.9,685.5L2308.1,693.7L2308.4,671.8L2308.6,701.4L2308.9,681.9L2309.2,688.3L2309.4,691.5L2309.7,673.6L2309.9,690L2310.2,683.5L2310.4,693.9L2310.7,682.9L2310.9,697.7L2311.2,698.2L2311.4,698.7L2311.7,684.7L2311.9,661.2L2312.2,678.4L2312.5,683.6L2312.7,672.8L2313,695.8L2313.2,674L2313.5,700.9L2313.7,710.1L2314,684.5L2314.2,668.4L2314.5,681.2L2314.7,705.4L2315,671.5L2315.2,692.3L2315.5,706.5L2315.8,690.5L2316,703.4L2316.3,665.8L2316.5,682.2L2316.8,679.6L2317,703.9L2317.3,679.7L2317.5,666.6L2317.8,679.9L2318,697.3L2318.3,699.7L2318.5,686.9L2318.8,687.2L2319.1,686.5L2319.3,705.4L2319.6,695.5L2319.8,693.4L2320.1,697.1L2320.3,690.5L2320.6,690.4L2320.8,678.2L2321.1,679.7L2321.3,674.3L2321.6,702.2L2321.8,689.7L2322.1,701L2322.3,697.8L2322.6,683.5L2322.9,701.6L2323.1,703.4L2323.4,692.1L2323.6,691.7L2323.9,699.8L2324.1,688L2324.4,694.6L2324.6,690.4L2324.9,682.9L2325.1,688.3L2325.4,688.2L2325.6,670.3L2325.9,677.5L2326.2,701.4L2326.4,667.8L2326.7,674L2326.9,683.9L2327.2,701.7L2327.4,704.9L2327.7,688L2327.9,684L2328.2,694L2328.4,671.3L2328.7,695.5L2328.9,683.1L2329.2,668.7L2329.5,693.2L2329.7,686.6L2330,676.6L2330.2,684.2L2330.5,675.4L2330.7,684.6L2331,703.2L2331.2,684.8L2331.5,687.5L2331.7,680.8L2332,693.5L2332.2,672.9L2332.5,699.4L2332.7,688.6L2333,704.8L2333.3,697.3L2333.5,679.1L2333.8,695.5L2334,688.9L2334.3,696.7L2334.5,696L2334.8,705.3L2335,679.1L2335.3,691.3L2335.5,687.2L2335.8,714L2336,697.2L2336.3,688.2L2336.6,692L2336.8,698L2337.1,690.8L2337.3,680.4L2337.6,705.2L2337.8,698.4L2338.1,682.4L2338.3,675.2L2338.6,687.9L2338.8,696.7L2339.1,702.2L2339.3,693.6L2339.6,690.9L2339.9,694.3L2340.1,721.9L2340.4,695.7L2340.6,683.8L2340.9,701.4L2341.1,678.3L2341.4,693.3L2341.6,669.3L2341.9,686.3L2342.1,718.5L2342.4,696L2342.6,689.3L2342.9,684.3L2343.2,665.8L2343.4,692.8L2343.7,682L2343.9,690.6L2344.2,683.6L2344.4,698.1L2344.7,675.9L2344.9,693.2L2345.2,691.8L2345.4,677.2L2345.7,685.2L2345.9,697L2346.2,710.4L2346.4,690.6L2346.7,670L2347,676.4L2347.2,672.5L2347.5,706.8L2347.7,674.7L2348,695.4L2348.2,679.9L2348.5,701.6L2348.7,680.4L2349,671.3L2349.2,688.8L2349.5,696.4L2349.7,688.3L2350,689.2" stroke="#000000" stroke-width="2.8"/>
<path d="M1437,721.5L1437.3,737.7L1437.5,726.1L1437.8,732.1L1438,713.3L1438.3,726.9L1438.5,713.7L1438.8,711.8L1439,732.8L1439.3,708.4L1439.5,703.3L1439.8,738L1440,727.9L1440.3,716.5L1440.6,708.5L1440.8,713.2L1441.1,716.2L1441.3,714.1L1441.6,692.7L1441.8,750.3L1442.1,730.8L1442.3,722L1442.6,721.3L1442.8,733.1L1443.1,733.4L1443.3,696.9L1443.6,727L1443.8,726L1444.1,732.7L1444.4,728.5L1444.6,728.9L1444.9,714.1L1445.1,715.4L1445.4,722L1445.6,731.4L1445.9,714.9L1446.1,720.2L1446.4,734.9L1446.6,744.7L1446.9,719.3L1447.1,716.3L1447.4,709.6L1447.7,711.7L1447.9,720.3L1448.2,714.2L1448.4,714.3L1448.7,707.3L1448.9,722.3L1449.2,717.3L1449.4,709.3L1449.7,709L1449.9,711.5L1450.2,714.1L1450.4,716.6L1450.7,713.3L1451,753.8L1451.2,724.4L1451.5,710.5L1451.7,712.5L1452,730.7L1452.2,713.5L1452.5,717.9L1452.7,716.8L1453,725.8L1453.2,720.4L1453.5,707.6L1453.7,738.5L1454,723.1L1454.3,730L1454.5,721L1454.8,715.4L1455,721.1L1455.3,729.9L1455.5,727L1455.8,745.8L1456,719.1L1456.3,730.4L1456.5,689.2L1456.8,726.8L1457,723.2L1457.3,705.4L1457.5,735.3L1457.8,704.7L1458.1,725.9L1458.3,716.3L1458.6,724.2L1458.8,712.5L1459.1,686.6L1459.3,705.1L1459.6,715.6L1459.8,702.1L1460.1,735.8L1460.3,722.8L1460.6,705L1460.8,727.3L1461.1,699.4L1461.4,716.4L1461.6,731.2L1461.9,723.3L1462.1,706.2L1462.4,715.3L1462.6,701.4L1462.9,710.1L1463.1,725.1L1463.4,731.6L1463.6,716.7L1463.9,697.3L1464.1,696.8L1464.4,714L1464.7,739.4L1464.9,714.9L1465.2,704.1L1465.4,724L1465.7,706.2L1465.9,735L1466.2,694L1466.4,709.9L1466.7,710.8L1466.9,738.3L1467.2,724.3L1467.4,722.7L1467.7,729.1L1467.9,708.6L1468.2,700.4L1468.5,718.1L1468.7,730.1L1469,724L1469.2,714.9L1469.5,689L1469.7,715.8L1470,712.4L1470.2,739.3L1470.5,730.6L1470.7,700.6L1471,709.8L1471.2,724.9L1471.5,715.1L1471.8,734.9L1472,737.7L1472.3,716.7L1472.5,722.4L1472.8,725.1L1473,734.6L1473.3,701.9L1473.5,706.7L1473.8,691.8L1474,720.3L1474.3,717.2L1474.5,691.1L1474.8,714.2L1475.1,746.5L1475.3,738.5L1475.6,734.7L1475.8,726.7L1476.1,732.2L1476.3,727.1L1476.6,718.1L1476.8,728.2L1477.1,730L1477.3,733.6L1477.6,729.2L1477.8,720.3L1478.1,701.3L1478.4,716.4L1478.6,703.8L1478.9,719.8L1479.1,721L1479.4,718.5L1479.6,703.6L1479.9,714L1480.1,727.6L1480.4,708.5L1480.6,739.1L1480.9,701.9L1481.1,721.9L1481.4,709.9L1481.6,722.6L1481.9,719.5L1482.2,717.2L1482.4,718.6L1482.7,715.1L1482.9,726.7L1483.2,736.9L1483.4,722.4L1483.7,726.4L1483.9,712.7L1484.2,715.5L1484.4,711.1L1484.7,746.8L1484.9,727.3L1485.2,718.4L1485.5,726.8L1485.7,702.6L1486,715L1486.2,739.9L1486.5,696.7L1486.7,711.1L1487,730.3L1487.2,726.3L1487.5,712.9L1487.7,709.4L1488,720.8L1488.2,714.5L1488.5,708.4L1488.8,729L1489,701.2L1489.3,734.6L1489.5,717.6L1489.8,722.1L1490,721.7L1490.3,701.4L1490.5,697.5L1490.8,725.9L1491,719.6L1491.3,707.9L1491.5,725.7L1491.8,703.4L1492,726.9L1492.3,723L1492.6,727.6L1492.8,720.4L1493.1,698.5L1493.3,710.5L1493.6,725L1493.8,713.4L1494.1,711L1494.3,716.3L1494.6,712.8L1494.8,725.4L1495.1,717.4L1495.3,714.4L1495.6,706.3L1495.9,719.1L1496.1,724.3L1496.4,704.1L1496.6,733.2L1496.9,725.2L1497.1,732.2L1497.4,737.5L1497.6,740.8L1497.9,712.7L1498.1,706.5L1498.4,720.3L1498.6,732.8L1498.9,726.2L1499.2,720.7L1499.4,704.1L1499.7,701.7L1499.9,726.5L1500.2,712L1500.4,719.5L1500.7,716L1500.9,715.9L1501.2,702.1L1501.4,745.6L1501.7,721.8L1501.9,719.3L1502.2,727.3L1502.4,721.6L1502.7,747.4L1503,720L1503.2,715.4L1503.5,726.7L1503.7,723.3L1504,708.6L1504.2,703.6L1504.5,723.8L1504.7,725.6L1505,706.7L1505.2,734.1L1505.5,727.6L1505.7,724.3L1506,721.5L1506.3,725L1506.5,709.1L1506.8,696.5L1507,693L1507.3,731L1507.5,715.9L1507.8,731.9L1508,712L1508.3,714.7L1508.5,724.2L1508.8,720L1509,707.2L1509.3,720.6L1509.6,739.8L1509.8,739.1L1510.1,713.2L1510.3,751.1L1510.6,710.3L1510.8,688.6L1511.1,706.4L1511.3,727.6L1511.6,730.2L1511.8,711.2L1512.1,729.7L1512.3,713.2L1512.6,719.6L1512.9,720.8L1513.1,706.4L1513.4,709.5L1513.6,707.7L1513.9,732.5L1514.1,713.9L1514.4,738.7L1514.6,702.8L1514.9,713.1L1515.1,728.2L1515.4,708.5L1515.6,706.7L1515.9,723.5L1516.1,735.1L1516.4,725L1516.7,741L1516.9,736.5L1517.2,736.2L1517.4,717.1L1517.7,718.1L1517.9,706.1L1518.2,716.3L1518.4,717.3L1518.7,711.7L1518.9,718L1519.2,715.9L1519.4,704.3L1519.7,720L1520,717.9L1520.2,716.3L1520.5,745.2L1520.7,717.1L1521,706.3L1521.2,712L1521.5,723.8L1521.7,727.8L1522,731.5L1522.2,726.1L1522.5,736.3L1522.7,725.3L1523,733.2L1523.3,740.3L1523.5,714.2L1523.8,724.2L1524,720L1524.3,708L1524.5,705.7L1524.8,699L1525,707.2L1525.3,695.2L1525.5,728.4L1525.8,730L1526,718.8L1526.3,718.2L1526.5,725.6L1526.8,711.1L1527.1,729.9L1527.3,720.8L1527.6,700.3L1527.8,707.3L1528.1,723.4L1528.3,720.2L1528.6,713.5L1528.8,710.5L1529.1,711L1529.3,709.9L1529.6,696.4L1529.8,711.6L1530.1,699L1530.4,721.3L1530.6,712.3L1530.9,705.5L1531.1,706.9L1531.4,712.8L1531.6,700L1531.9,704.8L1532.1,696.6L1532.4,696.1L1532.6,715.9L1532.9,710.9L1533.1,728.9L1533.4,719.4L1533.7,699L1533.9,689.9L1534.2,684.6L1534.4,707L1534.7,689.3L1534.9,700.6L1535.2,707.5L1535.4,696.8L1535.7,687L1535.9,692.7L1536.2,696.3L1536.4,689.6L1536.7,699.7L1537,676.3L1537.2,674.6L1537.5,667.2L1537.7,680L1538,664.7L1538.2,669.8L1538.5,668.6L1538.7,673.4L1539,664.7L1539.2,650.1L1539.5,661.8L1539.7,652.5L1540,640.2L1540.2,652.9L1540.5,647.5L1540.8,645.8L1541,636.2L1541.3,639.6L1541.5,624.8L1541.8,631.2L1542,610.9L1542.3,615.2L1542.5,606.6L1542.8,602.4L1543,606L1543.3,598.2L1543.5,588.8L1543.8,591.7L1544.1,582.8L1544.3,584.4L1544.6,571.3L1544.8,557.2L1545.1,575.4L1545.3,564.3L1545.6,556.4L1545.8,543.8L1546.1,547.1L1546.3,540.7L1546.6,540L1546.8,520.4L1547.1,520.1L1547.4,527.9L1547.6,518.3L1547.9,505.3L1548.1,510L1548.4,489.7L1548.6,493.3L1548.9,490.5L1549.1,472.7L1549.4,476.4L1549.6,475.5L1549.9,465.8L1550.1,462.2L1550.4,446.9L1550.6,445L1550.9,440.1L1551.2,434.7L1551.4,435.5L1551.7,426L1551.9,415.3L1552.2,407.7L1552.4,405.2L1552.7,400.4L1552.9,398.8L1553.2,384.8L1553.4,379.3L1553.7,375L1553.9,363.4L1554.2,365.6L1554.5,358.1L1554.7,350.2L1555,341.7L1555.2,340.6L1555.5,329.4L1555.7,327.6L1556,314.9L1556.2,316.4L1556.5,309.2L1556.7,296.6L1557,293.3L1557.2,285.1L1557.5,282.1L1557.8,274.7L1558,265.8L1558.3,259.6L1558.5,254.2L1558.8,248.1L1559,241.2L1559.3,235.7L1559.5,230.9L1559.8,227.5L1560,223.1L1560.3,220.4L1560.5,216.3L1560.8,215.8L1561.1,207L1561.3,206.2L1561.6,203.4L1561.8,196.7L1562.1,193.7L1562.3,197.7L1562.6,192.4L1562.8,189.9L1563.1,189.6L1563.3,186.1L1563.6,186L1563.8,181.1L1564.1,179.1L1564.3,177.4L1564.6,176.8L1564.9,173.9L1565.1,174L1565.4,169.8L1565.6,170L1565.9,168.1L1566.1,168.2L1566.4,164L1566.6,165.7L1566.9,163.9L1567.1,162L1567.4,162.8L1567.6,161.4L1567.9,160.3L1568.2,157.6L1568.4,157.2L1568.7,155.3L1568.9,156.4L1569.2,154.8L1569.4,152.5L1569.7,153.9L1569.9,154.4L1570.2,151.1L1570.4,153L1570.7,153.3L1570.9,151.5L1571.2,149.5L1571.5,152.3L1571.7,151.7L1572,152.3L1572.2,152.8L1572.5,150L1572.7,151.5L1573,150.1L1573.2,152.2L1573.5,150.7L1573.7,153.6L1574,152.4L1574.2,154.3L1574.5,152.2L1574.7,154.1L1575,156.5L1575.3,153.4L1575.5,156.1L1575.8,158.4L1576,154.6L1576.3,156.3L1576.5,160.2L1576.8,159L1577,158.1L1577.3,159.3L1577.5,159.9L1577.8,161.4L1578,161.5L1578.3,160.5L1578.6,162.9L1578.8,164.2L1579.1,164.8L1579.3,165.5L1579.6,163.4L1579.8,165L1580.1,166.9L1580.3,167.9L1580.6,165.4L1580.8,168.1L1581.1,167.6L1581.3,168.8L1581.6,168.9L1581.9,169.6L1582.1,169.4L1582.4,169.7L1582.6,170.1L1582.9,173.8L1583.1,172.3L1583.4,174.2L1583.6,174.2L1583.9,173.2L1584.1,173.1L1584.4,174.1L1584.6,174.1L1584.9,174.8L1585.2,176.7L1585.4,178.1L1585.7,179.6L1585.9,180L1586.2,178.1L1586.4,179.2L1586.7,180.1L1586.9,180.7L1587.2,179L1587.4,182.4L1587.7,181L1587.9,181.4L1588.2,183.6L1588.4,183L1588.7,185.7L1589,182L1589.2,183.4L1589.5,185.7L1589.7,184.9L1590,185L1590.2,185.3L1590.5,187.1L1590.7,188L1591,189.5L1591.2,188.2L1591.5,189.1L1591.7,190.9L1592,191.8L1592.3,191.3L1592.5,193.7L1592.8,191L1593,193.4L1593.3,191.5L1593.5,193L1593.8,193L1594,196L1594.3,193.7L1594.5,196.6L1594.8,198.6L1595,197.3L1595.3,197.2L1595.6,199.6L1595.8,199.8L1596.1,198.4L1596.3,199.6L1596.6,199.9L1596.8,201.7L1597.1,200.8L1597.3,202.7L1597.6,203.4L1597.8,203.3L1598.1,203.1L1598.3,203.1L1598.6,205L1598.8,204.3L1599.1,205L1599.4,206.8L1599.6,207.6L1599.9,206.3L1600.1,208.8L1600.4,206.3L1600.6,205L1600.9,210.7L1601.1,211.7L1601.4,210.1L1601.6,210.6L1601.9,210.9L1602.1,208.2L1602.4,213.1L1602.7,212.8L1602.9,214.8L1603.2,214.5L1603.4,214.5L1603.7,216.7L1603.9,215.7L1604.2,216.8L1604.4,216.6L1604.7,217.2L1604.9,218.6L1605.2,218.6L1605.4,217.9L1605.7,221.1L1606,221.1L1606.2,220.6L1606.5,222.4L1606.7,223.1L1607,223.7L1607.2,221L1607.5,221.4L1607.7,223.8L1608,224.9L1608.2,225.2L1608.5,225.3L1608.7,226.7L1609,226.4L1609.2,227L1609.5,224.9L1609.8,226.8L1610,225.8L1610.3,231.3L1610.5,230.6L1610.8,229.9L1611,230L1611.3,231.5L1611.5,231.7L1611.8,232.5L1612,233.1L1612.3,234.4L1612.5,235.7L1612.8,234L1613.1,234.1L1613.3,231.3L1613.6,238.3L1613.8,236L1614.1,235.7L1614.3,237.9L1614.6,236.4L1614.8,238.8L1615.1,239.7L1615.3,240.4L1615.6,241.5L1615.8,241.3L1616.1,243.3L1616.4,243.9L1616.6,242.4L1616.9,244.6L1617.1,245.4L1617.4,245L1617.6,243.8L1617.9,241.8L1618.1,247.1L1618.4,245.2L1618.6,245.1L1618.9,245.4L1619.1,249L1619.4,250.5L1619.7,249.8L1619.9,250.2L1620.2,246.1L1620.4,249.8L1620.7,251.5L1620.9,252.4L1621.2,250.6L1621.4,253.4L1621.7,254L1621.9,253.3L1622.2,252.9L1622.4,254.9L1622.7,253.1L1622.9,254.5L1623.2,256.4L1623.5,257.2L1623.7,258.7L1624,256.5L1624.2,257.3L1624.5,256.8L1624.7,260.7L1625,257.2L1625.2,259.7L1625.5,260.9L1625.7,261.1L1626,260.5L1626.2,263.4L1626.5,262.9L1626.8,262L1627,265.4L1627.3,264.5L1627.5,263.2L1627.8,267.7L1628,267.5L1628.3,267.5L1628.5,265.4L1628.8,269.3L1629,265.5L1629.3,270.2L1629.5,269.5L1629.8,270.2L1630.1,271.1L1630.3,269.4L1630.6,273.6L1630.8,272.3L1631.1,272L1631.3,272.9L1631.6,272L1631.8,273.9L1632.1,275.8L1632.3,276.8L1632.6,273.6L1632.8,274.8L1633.1,274.9L1633.3,276L1633.6,276L1633.9,274.9L1634.1,277.8L1634.4,277.7L1634.6,282.1L1634.9,276.3L1635.1,281.3L1635.4,282L1635.6,280.4L1635.9,283.3L1636.1,287.4L1636.4,283.4L1636.6,282.9L1636.9,289.2L1637.2,282.5L1637.4,286.9L1637.7,286.3L1637.9,287.9L1638.2,289.1L1638.4,288.2L1638.7,287.2L1638.9,284.6L1639.2,287.4L1639.4,289.1L1639.7,288.8L1639.9,292.2L1640.2,293.9L1640.5,291.2L1640.7,293.3L1641,291.8L1641.2,296.3L1641.5,294.8L1641.7,293.1L1642,295.2L1642.2,297.6L1642.5,299.6L1642.7,294.6L1643,298.3L1643.2,297.3L1643.5,299.3L1643.8,298.3L1644,300.1L1644.3,298.8L1644.5,300.3L1644.8,304L1645,299.5L1645.3,298.1L1645.5,301.9L1645.8,304.8L1646,301.4L1646.3,299.8L1646.5,307.1L1646.8,304.4L1647,306.3L1647.3,307.3L1647.6,303.8L1647.8,308.7L1648.1,308.1L1648.3,307.8L1648.6,309L1648.8,309.2L1649.1,308.3L1649.3,313.5L1649.6,312.9L1649.8,311.9L1650.1,310.1L1650.3,311.3L1650.6,313.1L1650.9,310L1651.1,314.1L1651.4,313.3L1651.6,313.2L1651.9,317.2L1652.1,316.7L1652.4,316.9L1652.6,315.7L1652.9,314L1653.1,319.2L1653.4,319.7L1653.6,317.5L1653.9,318.6L1654.2,323.1L1654.4,319.3L1654.7,320L1654.9,322.6L1655.2,321.2L1655.4,323.6L1655.7,322L1655.9,319.1L1656.2,323.9L1656.4,329.3L1656.7,323L1656.9,323.3L1657.2,323.1L1657.4,327.1L1657.7,328.6L1658,326.3L1658.2,327L1658.5,333.8L1658.7,326.2L1659,328L1659.2,329.3L1659.5,331.4L1659.7,327L1660,331.6L1660.2,330.3L1660.5,332.6L1660.7,328.4L1661,331.7L1661.3,336.1L1661.5,331.9L1661.8,334.9L1662,331.6L1662.3,340.6L1662.5,335.4L1662.8,339.5L1663,335.8L1663.3,337.3L1663.5,338.6L1663.8,340.8L1664,342.2L1664.3,340.3L1664.6,342.2L1664.8,341.2L1665.1,341.4L1665.3,344.7L1665.6,347.7L1665.8,343.8L1666.1,344.3L1666.3,347.5L1666.6,346.8L1666.8,346.8L1667.1,348.1L1667.3,344.1L1667.6,342.9L1667.9,346.5L1668.1,346.4L1668.4,353.6L1668.6,347.5L1668.9,350.4L1669.1,349.5L1669.4,349.7L1669.6,357.3L1669.9,352.1L1670.1,354.1L1670.4,346L1670.6,353.5L1670.9,356.6L1671.1,352.3L1671.4,355.7L1671.7,353.7L1671.9,358.3L1672.2,354.4L1672.4,358.6L1672.7,359.1L1672.9,360.9L1673.2,354.2L1673.4,363.2L1673.7,359.5L1673.9,361.5L1674.2,360.2L1674.4,359.2L1674.7,365.9L1675,364.2L1675.2,360.7L1675.5,360.8L1675.7,366.4L1676,365.7L1676.2,362.1L1676.5,365.7L1676.7,363.6L1677,361.7L1677.2,359.7L1677.5,366.3L1677.7,366.7L1678,366L1678.3,364L1678.5,370.6L1678.8,371.1L1679,365.7L1679.3,371.2L1679.5,372.8L1679.8,375.7L1680,375.1L1680.3,373.9L1680.5,375.4L1680.8,370.6L1681,374.5L1681.3,374.4L1681.5,375.7L1681.8,377.2L1682.1,378.7L1682.3,376.1L1682.6,379.9L1682.8,379.1L1683.1,379L1683.3,380.8L1683.6,378.7L1683.8,383.1L1684.1,384.4L1684.3,383.8L1684.6,384.2L1684.8,384.9L1685.1,383.2L1685.4,380.5L1685.6,384.5L1685.9,382.3L1686.1,380L1686.4,387L1686.6,385L1686.9,390L1687.1,381.9L1687.4,389L1687.6,390.4L1687.9,387.3L1688.1,389.7L1688.4,391.5L1688.7,390.5L1688.9,389.2L1689.2,392.1L1689.4,394.9L1689.7,391.1L1689.9,393.5L1690.2,398.2L1690.4,389.4L1690.7,391.6L1690.9,398.8L1691.2,391.3L1691.4,394.5L1691.7,393.6L1691.9,392.3L1692.2,396.9L1692.5,398.8L1692.7,401.5L1693,399.2L1693.2,399L1693.5,401L1693.7,401.6L1694,403.9L1694.2,406.3L1694.5,399.8L1694.7,402.2L1695,401.1L1695.2,406.8L1695.5,403.1L1695.8,401L1696,405L1696.3,403.9L1696.5,399.9L1696.8,407.4L1697,410.2L1697.3,408.1L1697.5,407L1697.8,416.1L1698,412L1698.3,410.7L1698.5,409.4L1698.8,407.3L1699.1,410L1699.3,415.3L1699.6,410.4L1699.8,415.8L1700.1,413.7L1700.3,416.2L1700.6,415.4L1700.8,414L1701.1,404.1L1701.3,414.5L1701.6,417.3L1701.8,419.7L1702.1,415L1702.4,416.2L1702.6,417.3L1702.9,419.9L1703.1,420.5L1703.4,418.7L1703.6,425.8L1703.9,420.4L1704.1,422.2L1704.4,422.3L1704.6,422.8L1704.9,419.4L1705.1,421.3L1705.4,418.2L1705.6,421.3L1705.9,420.1L1706.2,424L1706.4,424.5L1706.7,427.9L1706.9,423.4L1707.2,428.9L1707.4,425.1L1707.7,428.8L1707.9,426.2L1708.2,418.4L1708.4,430.3L1708.7,426.9L1708.9,430L1709.2,435.3L1709.5,430.3L1709.7,439L1710,429.5L1710.2,428.9L1710.5,433.4L1710.7,439.4L1711,437.6L1711.2,432L1711.5,432.6L1711.7,440.5L1712,435.3L1712.2,437.4L1712.5,436.7L1712.8,434.1L1713,438.6L1713.3,439.5L1713.5,435.3L1713.8,436L1714,444.4L1714.3,443.3L1714.5,437.7L1714.8,446.9L1715,445.6L1715.3,441.3L1715.5,449.6L1715.8,447.1L1716,438.9L1716.3,439.2L1716.6,444.1L1716.8,443.2L1717.1,446.4L1717.3,442.5L1717.6,444.5L1717.8,445.7L1718.1,446.9L1718.3,445.5L1718.6,443.7L1718.8,450.9L1719.1,446.1L1719.3,445.1L1719.6,447L1719.9,447.3L1720.1,456L1720.4,450.1L1720.6,444.4L1720.9,449.7L1721.1,452.2L1721.4,450.2L1721.6,453.6L1721.9,451.6L1722.1,451.8L1722.4,452.7L1722.6,464.8L1722.9,461.8L1723.2,459L1723.4,460.9L1723.7,454.1L1723.9,458.2L1724.2,463L1724.4,462.3L1724.7,455L1724.9,457.7L1725.2,459.8L1725.4,461.4L1725.7,460.7L1725.9,464.4L1726.2,460.2L1726.5,460L1726.7,463.1L1727,459.2L1727.2,468.6L1727.5,472.1L1727.7,466.5L1728,459.8L1728.2,458.7L1728.5,467.3L1728.7,470L1729,455.8L1729.2,469.4L1729.5,466.2L1729.7,463.4L1730,471.8L1730.3,465.9L1730.5,471.7L1730.8,471.9L1731,466.4L1731.3,478.3L1731.5,469.6L1731.8,474.8L1732,474.9L1732.3,470.9L1732.5,472L1732.8,477.3L1733,481.7L1733.3,472.9L1733.6,483.1L1733.8,473.2L1734.1,477.4L1734.3,478.2L1734.6,483.2L1734.8,482.2L1735.1,483.1L1735.3,481.7L1735.6,485.2L1735.8,486.5L1736.1,479.6L1736.3,479.6L1736.6,489.3L1736.9,477.8L1737.1,480.5L1737.4,483.6L1737.6,484.6L1737.9,481.9L1738.1,491.4L1738.4,481.3L1738.6,484.7L1738.9,489.1L1739.1,494.5L1739.4,485.6L1739.6,487.4L1739.9,480.4L1740.1,492.7L1740.4,488.1L1740.7,482L1740.9,484.7L1741.2,486.9L1741.4,482.7L1741.7,488.3L1741.9,497L1742.2,488.1L1742.4,493.9L1742.7,494.4L1742.9,496.3L1743.2,491.1L1743.4,490.8L1743.7,495L1744,498.2L1744.2,490.3L1744.5,498.6L1744.7,493.9L1745,492.1L1745.2,493.5L1745.5,499.5L1745.7,490.2L1746,509L1746.2,495.8L1746.5,504.7L1746.7,503.6L1747,501.7L1747.3,497.5L1747.5,506.4L1747.8,506.4L1748,506L1748.3,503L1748.5,501.6L1748.8,511.1L1749,499.9L1749.3,501.5L1749.5,506L1749.8,508.3L1750,503.3L1750.3,508.3L1750.6,509.6L1750.8,505.9L1751.1,503.1L1751.3,518.4L1751.6,504.6L1751.8,510.3L1752.1,507.8L1752.3,506L1752.6,511.9L1752.8,511.9L1753.1,508.2L1753.3,506.9L1753.6,511.6L1753.8,512.2L1754.1,524.5L1754.4,514.6L1754.6,513.2L1754.9,519.8L1755.1,520.5L1755.4,515.8L1755.6,517.1L1755.9,511.4L1756.1,514.7L1756.4,520.8L1756.6,515.2L1756.9,514.4L1757.1,524.8L1757.4,527L1757.7,521.7L1757.9,517.6L1758.2,512.2L1758.4,517.3L1758.7,526.1L1758.9,515.8L1759.2,513.4L1759.4,515.5L1759.7,531.1L1759.9,519.4L1760.2,524.2L1760.4,524.5L1760.7,517.8L1761,521.2L1761.2,518.5L1761.5,511.6L1761.7,528.4L1762,524.5L1762.2,527L1762.5,525.3L1762.7,533.4L1763,526.6L1763.2,529.9L1763.5,522.5L1763.7,523.2L1764,531.2L1764.2,535.1L1764.5,533.9L1764.8,529.3L1765,533.4L1765.3,531.5L1765.5,530.8L1765.8,529.8L1766,533.7L1766.3,526L1766.5,533.3L1766.8,542.5L1767,532.6L1767.3,542.6L1767.5,530.5L1767.8,531.6L1768.1,532.9L1768.3,534.6L1768.6,537.5L1768.8,532.4L1769.1,538.8L1769.3,541.3L1769.6,532L1769.8,545.2L1770.1,535.7L1770.3,531.4L1770.6,541.9L1770.8,549.7L1771.1,551.5L1771.4,537.5L1771.6,551.1L1771.9,549.3L1772.1,534.5L1772.4,540.3L1772.6,551.6L1772.9,546.9L1773.1,557.1L1773.4,556.6L1773.6,550.2L1773.9,542.5L1774.1,545.5L1774.4,544.8L1774.7,546.8L1774.9,550.2L1775.2,553.6L1775.4,553.4L1775.7,546.9L1775.9,537.6L1776.2,554L1776.4,554.9L1776.7,548L1776.9,547L1777.2,549.8L1777.4,549.5L1777.7,544.5L1777.9,538.8L1778.2,546.6L1778.5,545.1L1778.7,555.4L1779,545.7L1779.2,553.7L1779.5,561.2L1779.7,558.5L1780,561.6L1780.2,560.9L1780.5,552.6L1780.7,543.1L1781,549.7L1781.2,555.2L1781.5,561.7L1781.8,566.5L1782,568.1L1782.3,562.5L1782.5,552.8L1782.8,553.4L1783,565.6L1783.3,554.2L1783.5,569.6L1783.8,557.5L1784,552.3L1784.3,559.9L1784.5,567.4L1784.8,574.6L1785.1,562L1785.3,569.1L1785.6,571L1785.8,581.4L1786.1,558.9L1786.3,563.8L1786.6,559.7L1786.8,571.7L1787.1,577.9L1787.3,567.1L1787.6,581.5L1787.8,572.4L1788.1,569L1788.3,567.5L1788.6,564.6L1788.9,567.2L1789.1,563.8L1789.4,572.1L1789.6,571.9L1789.9,573L1790.1,561.4L1790.4,565.8L1790.6,590.1L1790.9,574.9L1791.1,579.5L1791.4,563.3L1791.6,576.8L1791.9,560.2L1792.2,581L1792.4,576.2L1792.7,582.6L1792.9,566.3L1793.2,572.1L1793.4,572.2L1793.7,575.4L1793.9,585L1794.2,572.3L1794.4,580.2L1794.7,587.3L1794.9,572.1L1795.2,575.7L1795.5,574.5L1795.7,585.6L1796,578.4L1796.2,576.3L1796.5,575L1796.7,576L1797,578.3L1797.2,582.8L1797.5,570L1797.7,595.1L1798,578L1798.2,588.8L1798.5,588.6L1798.7,587.7L1799,581.3L1799.3,581.9L1799.5,592.8L1799.8,586.3L1800,585.5L1800.3,582.4L1800.5,593.9L1800.8,577.7L1801,596L1801.3,599L1801.5,583.8L1801.8,580.3L1802,597.1L1802.3,591.2L1802.6,592.4L1802.8,598.5L1803.1,591.5L1803.3,590L1803.6,596.1L1803.8,596.4L1804.1,587.2L1804.3,593L1804.6,591.7L1804.8,591L1805.1,600.7L1805.3,609L1805.6,580.7L1805.9,594.4L1806.1,610.5L1806.4,602.3L1806.6,598.5L1806.9,594.8L1807.1,583.4L1807.4,596.3L1807.6,602.2L1807.9,597L1808.1,593.5L1808.4,589.4L1808.6,607.4L1808.9,596.4L1809.2,586.9L1809.4,585.3L1809.7,592.8L1809.9,606.4L1810.2,600.8L1810.4,609.9L1810.7,595.7L1810.9,602.7L1811.2,602.2L1811.4,599.6L1811.7,605.8L1811.9,614.7L1812.2,614L1812.4,602.4L1812.7,600.5L1813,608.2L1813.2,612.4L1813.5,605.7L1813.7,609.2L1814,608.4L1814.2,599.4L1814.5,606.2L1814.7,614.1L1815,617.9L1815.2,617.1L1815.5,625.7L1815.7,609.3L1816,600.9L1816.3,599.3L1816.5,603.9L1816.8,613.9L1817,609.7L1817.3,600.5L1817.5,611.5L1817.8,597.4L1818,605.1L1818.3,621.6L1818.5,610.3L1818.8,621.6L1819,608.8L1819.3,598.7L1819.6,604.1L1819.8,615L1820.1,613.8L1820.3,620.6L1820.6,617.5L1820.8,607.3L1821.1,618.2L1821.3,616.2L1821.6,626.3L1821.8,625.5L1822.1,625.7L1822.3,614.4L1822.6,618.9L1822.8,623.1L1823.1,622L1823.4,605.6L1823.6,611.6L1823.9,606.3L1824.1,624L1824.4,603.1L1824.6,612.1L1824.9,626.6L1825.1,623.2L1825.4,623L1825.6,614.3L1825.9,635.4L1826.1,625.6L1826.4,634L1826.7,630.4L1826.9,618.1L1827.2,639.4L1827.4,630L1827.7,627.7L1827.9,621.4L1828.2,626.2L1828.4,642.1L1828.7,623.4L1828.9,636.4L1829.2,637.5L1829.4,619.3L1829.7,623.8L1830,626L1830.2,621.3L1830.5,621.7L1830.7,636.5L1831,628L1831.2,637.9L1831.5,629.4L1831.7,628L1832,623L1832.2,624.1L1832.5,648.5L1832.7,634.4L1833,624.8L1833.3,635.4L1833.5,630.8L1833.8,637.3L1834,630.1L1834.3,618.3L1834.5,628.1L1834.8,638.2L1835,635.8L1835.3,638.2L1835.5,629.3L1835.8,613.8L1836,627.1L1836.3,648.9L1836.5,626.7L1836.8,651.8L1837.1,637.6L1837.3,636.6L1837.6,625.8L1837.8,641.7L1838.1,631.9L1838.3,636.4L1838.6,634L1838.8,642.4L1839.1,647.7L1839.3,637.6L1839.6,632L1839.8,649.8L1840.1,624.9L1840.4,635.4L1840.6,641L1840.9,651.4L1841.1,646.5L1841.4,647.7L1841.6,624.8L1841.9,654.8L1842.1,637.5L1842.4,640.9L1842.6,652.5L1842.9,636.4L1843.1,632.8L1843.4,638.5L1843.7,641.1L1843.9,629.8L1844.2,635.5L1844.4,629.4L1844.7,654.5L1844.9,642.6L1845.2,658.4L1845.4,636.6L1845.7,647.2L1845.9,643.4L1846.2,630.8L1846.4,635.1L1846.7,639.5L1846.9,639.5L1847.2,648.3L1847.5,640.5L1847.7,648.2L1848,632.5L1848.2,639.3L1848.5,639.1L1848.7,654.1L1849,654.9L1849.2,644.4L1849.5,645.9L1849.7,626.7L1850,659.8L1850.2,636L1850.5,646.6L1850.8,641L1851,650.9L1851.3,640.4L1851.5,657.1L1851.8,646.6L1852,638.3L1852.3,651.2L1852.5,656.2L1852.8,655L1853,634.6L1853.3,664.2L1853.5,651.6L1853.8,648.1L1854.1,644.9L1854.3,666.1L1854.6,651.8L1854.8,645.1L1855.1,638.6L1855.3,662.3L1855.6,655.5L1855.8,652.7L1856.1,646.1L1856.3,667.6L1856.6,649.3L1856.8,653.7L1857.1,650.2L1857.4,656L1857.6,654.4L1857.9,655.7L1858.1,653L1858.4,661.2L1858.6,664.3L1858.9,658.3L1859.1,650.2L1859.4,666.1L1859.6,665.3L1859.9,655.9L1860.1,666.3L1860.4,651.5L1860.6,665.3L1860.9,651.9L1861.2,658.8L1861.4,651.9L1861.7,656.6L1861.9,667.3L1862.2,660.8L1862.4,645.2L1862.7,667.5L1862.9,658L1863.2,653.4L1863.4,668L1863.7,656.5L1863.9,653.6L1864.2,680.7L1864.5,655.7L1864.7,665.2L1865,662.4L1865.2,653.8L1865.5,652.7L1865.7,651.2L1866,671.8L1866.2,666L1866.5,645.1L1866.7,660.5L1867,645L1867.2,657.6L1867.5,667.7L1867.8,658.5L1868,679.5L1868.3,675.1L1868.5,667.3L1868.8,662.1L1869,658.7L1869.3,667.2L1869.5,678.8L1869.8,641.6L1870,675.7L1870.3,667.3L1870.5,644.6L1870.8,661.4L1871,677.8L1871.3,662.3L1871.6,656.1L1871.8,670.6L1872.1,661.3L1872.3,677.1L1872.6,674.3L1872.8,680.2L1873.1,672L1873.3,674.2L1873.6,662.1L1873.8,669.3L1874.1,656.8L1874.3,661.7L1874.6,652.1L1874.9,679.2L1875.1,668.8L1875.4,654.1L1875.6,663.3L1875.9,670.6L1876.1,668.2L1876.4,661.4L1876.6,680.7L1876.9,660.5L1877.1,659.1L1877.4,685.2L1877.6,668.7L1877.9,663.9L1878.2,674.5L1878.4,672.5L1878.7,664.6L1878.9,674.2L1879.2,672.9L1879.4,689.5L1879.7,653.1L1879.9,664.3L1880.2,673.8L1880.4,667.5L1880.7,682.8L1880.9,671.3L1881.2,665.7L1881.5,658.5L1881.7,692.3L1882,678.5L1882.2,674.7L1882.5,682L1882.7,671.3L1883,676.7L1883.2,678.3L1883.5,682.6L1883.7,670.3L1884,669.3L1884.2,685.1L1884.5,681.4L1884.7,666.5L1885,673.6L1885.3,682.3L1885.5,684.3L1885.8,680L1886,688.2L1886.3,673.1L1886.5,670.5L1886.8,684.3L1887,682.9L1887.3,684.2L1887.5,671.8L1887.8,673.5L1888,673.4L1888.3,667L1888.6,680.7L1888.8,683.1L1889.1,690.9L1889.3,676.4L1889.6,676.7L1889.8,690.5L1890.1,672.8L1890.3,690.3L1890.6,677.8L1890.8,693.5L1891.1,684.1L1891.3,693.8L1891.6,686.1L1891.9,688.3L1892.1,673.1L1892.4,673.9L1892.6,680.9L1892.9,693.7L1893.1,682.2L1893.4,679.1L1893.6,687.5L1893.9,679.9L1894.1,667.6L1894.4,684.2L1894.6,673.8L1894.9,691.5L1895.1,693.9L1895.4,674.1L1895.7,688.4L1895.9,682.7L1896.2,672L1896.4,666L1896.7,678L1896.9,690.8L1897.2,680.4L1897.4,691.4L1897.7,687L1897.9,677.8L1898.2,684L1898.4,664.8L1898.7,678.4L1899,679.5L1899.2,686.2L1899.5,688.5L1899.7,706.8L1900,690.9L1900.2,691.5L1900.5,694.9L1900.7,678.3L1901,676.7L1901.2,701.1L1901.5,681.9L1901.7,688L1902,689.5L1902.3,692.7L1902.5,676.4L1902.8,675.9L1903,684.5L1903.3,681.9L1903.5,698.4L1903.8,687.8L1904,682.3L1904.3,686.3L1904.5,686.6L1904.8,677.2L1905,694.5L1905.3,686L1905.5,697.5L1905.8,694.6L1906.1,685.8L1906.3,688.5L1906.6,680.1L1906.8,690L1907.1,679.9L1907.3,674.4L1907.6,711.1L1907.8,685.7L1908.1,683.9L1908.3,706.4L1908.6,696.3L1908.8,672.6L1909.1,689.3L1909.4,683.4L1909.6,691.4L1909.9,675.9L1910.1,708.7L1910.4,706.4L1910.6,693.3L1910.9,674.7L1911.1,692.2L1911.4,700.5L1911.6,698.2L1911.9,700.9L1912.1,682.9L1912.4,705.1L1912.7,688.3L1912.9,693.2L1913.2,699.2L1913.4,701.1L1913.7,686.5L1913.9,683.2L1914.2,696.7L1914.4,681L1914.7,689.6L1914.9,699.7L1915.2,692.9L1915.4,691.5L1915.7,688.1L1916,698.8L1916.2,709.2L1916.5,687.7L1916.7,692.8L1917,686.6L1917.2,687.5L1917.5,693.7L1917.7,710.8L1918,694.4L1918.2,710.5L1918.5,706.5L1918.7,689.9L1919,699.9L1919.2,679.9L1919.5,681.3L1919.8,698.6L1920,687.3L1920.3,711.1L1920.5,696.2L1920.8,689.8L1921,701.8L1921.3,710.2L1921.5,709.7L1921.8,690.2L1922,700L1922.3,693.3L1922.5,693L1922.8,696.4L1923.1,696.1L1923.3,696.3L1923.6,703.7L1923.8,700.7L1924.1,697.1L1924.3,702.9L1924.6,706.8L1924.8,684.3L1925.1,708.8L1925.3,696.3L1925.6,674.7L1925.8,695.8L1926.1,677.9L1926.4,714.8L1926.6,687.9L1926.9,702L1927.1,702.8L1927.4,688L1927.6,696.8L1927.9,691L1928.1,702.5L1928.4,698.9L1928.6,692.8L1928.9,683.9L1929.1,684.8L1929.4,730.2L1929.6,706.9L1929.9,687.1L1930.2,675.6L1930.4,723.4L1930.7,704.2L1930.9,707.6L1931.2,710.9L1931.4,700L1931.7,687.2L1931.9,703.3L1932.2,695.9L1932.4,706.9L1932.7,703.5L1932.9,704.2L1933.2,693.4L1933.5,721.9L1933.7,711L1934,701.2L1934.2,699.3L1934.5,705L1934.7,708.5L1935,713.5L1935.2,695.5L1935.5,702.8L1935.7,692.9L1936,708L1936.2,700.1L1936.5,724.2L1936.8,712.8L1937,722.8L1937.3,707.3L1937.5,695.3L1937.8,696.4L1938,715.8L1938.3,702.6L1938.5,698.3L1938.8,709.6L1939,710.8L1939.3,695L1939.5,699.1L1939.8,698.9L1940.1,699.5L1940.3,704.6L1940.6,702.2L1940.8,725.8L1941.1,700.5L1941.3,712.7L1941.6,718.7L1941.8,699.4L1942.1,691.7L1942.3,722.5L1942.6,696.9L1942.8,702.4L1943.1,697.4L1943.3,710.7L1943.6,701.1L1943.9,709.2L1944.1,688.1L1944.4,710.9L1944.6,709.4L1944.9,721.9L1945.1,707.5L1945.4,694.9L1945.6,699.7L1945.9,696.9L1946.1,711.9L1946.4,711.6L1946.6,721.1L1946.9,687.4L1947.2,703.5L1947.4,714.2L1947.7,714.8L1947.9,707.5L1948.2,707.4L1948.4,698.3L1948.7,695.8L1948.9,708.7L1949.2,699.2L1949.4,709.2L1949.7,693.3L1949.9,704.8L1950.2,718.8L1950.5,682.6L1950.7,721.3L1951,718L1951.2,692.6L1951.5,705.1L1951.7,702.4L1952,700.6L1952.2,728.4L1952.5,716.2L1952.7,714.4L1953,699.2L1953.2,704.7L1953.5,702.5L1953.7,704.1L1954,687L1954.3,702.6L1954.5,738.8L1954.8,696L1955,697.4L1955.3,705.6L1955.5,697.9L1955.8,708.4L1956,718.9L1956.3,700.9L1956.5,714L1956.8,708.6L1957,706.3L1957.3,717L1957.6,696.9L1957.8,699.4L1958.1,715.9L1958.3,714.8L1958.6,705.5L1958.8,709.8L1959.1,706.7L1959.3,720.4L1959.6,719.3L1959.8,699.6L1960.1,706.7L1960.3,727.5L1960.6,709.4L1960.9,715.8L1961.1,715.4L1961.4,712.6L1961.6,692.1L1961.9,724.2L1962.1,717L1962.4,701.6L1962.6,696.3L1962.9,716.1L1963.1,706.3L1963.4,704.2L1963.6,720.3L1963.9,714.5L1964.2,706.5L1964.4,699.4L1964.7,699.3L1964.9,700.9L1965.2,695.3L1965.4,710.5L1965.7,714.3L1965.9,682.7L1966.2,696.8L1966.4,707.9L1966.7,703.8L1966.9,693.6L1967.2,715.9L1967.4,701.8L1967.7,717.5L1968,710.5L1968.2,728.4L1968.5,701.9L1968.7,714.5L1969,700.9L1969.2,705.5L1969.5,711.9L1969.7,693.2L1970,725.3L1970.2,671.9L1970.5,713.1L1970.7,698.3L1971,699.3L1971.3,702.8L1971.5,702.9L1971.8,727.2L1972,708.7L1972.3,715.5L1972.5,700.4L1972.8,695.2L1973,706.4L1973.3,700.2L1973.5,710.1L1973.8,702L1974,711.8L1974.3,690.5L1974.6,722.9L1974.8,691.5L1975.1,724.8L1975.3,734.6L1975.6,720.8L1975.8,694L1976.1,707.3L1976.3,708.8L1976.6,696.6L1976.8,714.8L1977.1,699.3L1977.3,718L1977.6,715.4L1977.8,721.6L1978.1,708.9L1978.4,723.6L1978.6,716.7L1978.9,701.8L1979.1,721.8L1979.4,712.9L1979.6,714.8L1979.9,715.1L1980.1,728.7L1980.4,702.4L1980.6,707.1L1980.9,706.6L1981.1,705.9L1981.4,711.8L1981.7,703.7L1981.9,696.1L1982.2,709L1982.4,728L1982.7,707.1L1982.9,722.5L1983.2,702.2L1983.4,720.5L1983.7,702.3L1983.9,710.7L1984.2,706.9L1984.4,719L1984.7,704.6L1985,705.1L1985.2,701.2L1985.5,713.8L1985.7,708.6L1986,712.5L1986.2,714.4L1986.5,721.8L1986.7,707.9L1987,706.8L1987.2,715.5L1987.5,708L1987.7,721.4L1988,723.5L1988.3,712L1988.5,706.3L1988.8,727.2L1989,715.5L1989.3,718.2L1989.5,711.8L1989.8,699.2L1990,713.4L1990.3,728.2L1990.5,708.9L1990.8,718.6L1991,694.6L1991.3,704.3L1991.5,711.1L1991.8,705L1992.1,711.6L1992.3,689.5L1992.6,708.7L1992.8,712.9L1993.1,708.3L1993.3,721.9L1993.6,696.8L1993.8,732.1L1994.1,685.8L1994.3,698.6L1994.6,710.4L1994.8,706.5L1995.1,717L1995.4,715.2L1995.6,707.8L1995.9,703.3L1996.1,714.4L1996.4,716.9L1996.6,715.9L1996.9,715.1L1997.1,712.6L1997.4,702.6L1997.6,706.9L1997.9,730.4L1998.1,722.4L1998.4,717.8L1998.7,714.3L1998.9,709.1L1999.2,726.4L1999.4,710.5L1999.7,720.5L1999.9,739.9L2000.2,714.5L2000.4,721.3L2000.7,713L2000.9,700.4L2001.2,705.7L2001.4,697.8L2001.7,705.7L2001.9,713.8L2002.2,713.4L2002.5,685.4L2002.7,700.4L2003,712.4L2003.2,712.2L2003.5,702.5L2003.7,709.3L2004,706.6L2004.2,715.1L2004.5,734.6L2004.7,732.1L2005,717L2005.2,709.7L2005.5,717.2L2005.8,722.7L2006,719.5L2006.3,730.4L2006.5,696.6L2006.8,729.5L2007,724.6L2007.3,690.8L2007.5,701.2L2007.8,701.4L2008,701L2008.3,714.7L2008.5,732.8L2008.8,726.5L2009.1,727.3L2009.3,747.1L2009.6,706.9L2009.8,723.4L2010.1,717.5L2010.3,700L2010.6,724.3L2010.8,710.4L2011.1,727.7L2011.3,697.8L2011.6,703.9L2011.8,705.8L2012.1,709.2L2012.3,713.4L2012.6,736L2012.9,716.3L2013.1,710.4L2013.4,732.4L2013.6,725.5L2013.9,725.1L2014.1,733.4L2014.4,695.6L2014.6,720.2L2014.9,720.9L2015.1,708L2015.4,714.9L2015.6,711.4L2015.9,721.4L2016.2,705.7L2016.4,698.9L2016.7,726.7L2016.9,714.4L2017.2,708.3L2017.4,727.1L2017.7,713.9L2017.9,701.9L2018.2,735.3L2018.4,702.8L2018.7,718.7L2018.9,723L2019.2,717.1L2019.5,717.7L2019.7,718.8L2020,741.6L2020.2,698.8L2020.5,713.7L2020.7,713.1L2021,734.8L2021.2,702.5L2021.5,710.4L2021.7,714.9L2022,729.1L2022.2,727.9L2022.5,705L2022.8,711.1L2023,725.6L2023.3,719L2023.5,708.8L2023.8,720L2024,720.4L2024.3,706.5L2024.5,711.8L2024.8,691.2L2025,700.9L2025.3,733.6L2025.5,722.2L2025.8,712.7L2026,721.5L2026.3,709.1L2026.6,713.4L2026.8,722.9L2027.1,722.4L2027.3,732.2L2027.6,714.5L2027.8,708.2L2028.1,712.1L2028.3,722.2L2028.6,729.2L2028.8,728.4L2029.1,713.1L2029.3,729.4L2029.6,722.1L2029.9,713.6L2030.1,727.7L2030.4,724.8L2030.6,710L2030.9,727.1L2031.1,728.3L2031.4,714.6L2031.6,719.6L2031.9,718.2L2032.1,720.6L2032.4,702.4L2032.6,704.6L2032.9,723.9L2033.2,712.8L2033.4,723.3L2033.7,720.9L2033.9,707.2L2034.2,703.9L2034.4,712.7L2034.7,724.5L2034.9,711.8L2035.2,730.6L2035.4,718L2035.7,708.7L2035.9,746.1L2036.2,715.1L2036.4,720L2036.7,728.9L2037,718.6L2037.2,699.2L2037.5,723.4L2037.7,710.1L2038,695.4L2038.2,730L2038.5,721.5L2038.7,720.3L2039,729.3L2039.2,732.7L2039.5,721.9L2039.7,706.2L2040,714.5L2040.3,734.9L2040.5,719.4L2040.8,732.5L2041,713.4L2041.3,722.9L2041.5,724.6L2041.8,739.1L2042,745.5L2042.3,710.3L2042.5,708.7L2042.8,729.5L2043,729.2L2043.3,726.3L2043.6,719.6L2043.8,720.7L2044.1,734.5L2044.3,711.5L2044.6,728.3L2044.8,716.3L2045.1,706.2L2045.3,745.2L2045.6,701.7L2045.8,709.2L2046.1,722.6L2046.3,715.8L2046.6,712.4L2046.9,720.7L2047.1,729.4L2047.4,722.4L2047.6,712.8L2047.9,716.3L2048.1,727.7L2048.4,730.1L2048.6,722.8L2048.9,733L2049.1,714.1L2049.4,711L2049.6,728.4L2049.9,709L2050.1,731.6L2050.4,706.4L2050.7,722.7L2050.9,709L2051.2,721.7L2051.4,718.9L2051.7,703.8L2051.9,714.3L2052.2,712.5L2052.4,723.7L2052.7,718.8L2052.9,715.2L2053.2,709.8L2053.4,704.3L2053.7,715.8L2054,706.9L2054.2,729.8L2054.5,716.1L2054.7,715.8L2055,719.4L2055.2,741.8L2055.5,715.2L2055.7,707.7L2056,715.7L2056.2,715.9L2056.5,699L2056.7,709.2L2057,705.9L2057.3,722.9L2057.5,729L2057.8,712.2L2058,751.2L2058.3,744.7L2058.5,715.3L2058.8,733.5L2059,718.7L2059.3,733.5L2059.5,722.1L2059.8,729.6L2060,739.1L2060.3,726.2L2060.5,714.8L2060.8,714.9L2061.1,717L2061.3,718.7L2061.6,722.8L2061.8,720.7L2062.1,705.5L2062.3,732.7L2062.6,720.8L2062.8,718.5L2063.1,722.8L2063.3,722L2063.6,704.7L2063.8,737.3L2064.1,736.4L2064.4,714L2064.6,710.7L2064.9,704.8L2065.1,720.5L2065.4,711.9L2065.6,718.7L2065.9,724.3L2066.1,699.9L2066.4,717.1L2066.6,727L2066.9,712.2L2067.1,719.2L2067.4,710.6L2067.7,722.3L2067.9,703.5L2068.2,727.7L2068.4,725.7L2068.7,735.7L2068.9,721.6L2069.2,730.3L2069.4,712.1L2069.7,716.2L2069.9,725.3L2070.2,727.9L2070.4,719L2070.7,722.4L2071,733.4L2071.2,718.2L2071.5,722.1L2071.7,718.8L2072,719.5L2072.2,701.5L2072.5,694.2L2072.7,725L2073,715.2L2073.2,708L2073.5,720.5L2073.7,710.2L2074,712L2074.2,711.6L2074.5,746L2074.8,721.9L2075,721.2L2075.3,737.6L2075.5,713.7L2075.8,729.6L2076,710.2L2076.3,716.4L2076.5,728.1L2076.8,749.6L2077,712.7L2077.3,735.8L2077.5,711L2077.8,719.9L2078.1,698.6L2078.3,708.4L2078.6,719.1L2078.8,719L2079.1,730.6L2079.3,728.1L2079.6,732.6L2079.8,703.8L2080.1,741.8L2080.3,721.1L2080.6,698.4L2080.8,717.4L2081.1,709.9L2081.4,727.8L2081.6,729.8L2081.9,738.7L2082.1,718.4L2082.4,725.2L2082.6,716.1L2082.9,738.7L2083.1,733.6L2083.4,720.7L2083.6,727.3L2083.9,724L2084.1,725.9L2084.4,708.4L2084.6,741.7L2084.9,718L2085.2,731.3L2085.4,714.1L2085.7,725.9L2085.9,708.8L2086.2,722.4L2086.4,700.1L2086.7,710.2L2086.9,705.6L2087.2,717.9L2087.4,719.4L2087.7,719.4L2087.9,723.5L2088.2,734.2L2088.5,709.7L2088.7,725.4L2089,733L2089.2,711.4L2089.5,732.9L2089.7,710.5L2090,718L2090.2,722.1L2090.5,716L2090.7,720.4L2091,721.3L2091.2,737.8L2091.5,706.3L2091.8,724.7L2092,713L2092.3,734L2092.5,723.5L2092.8,737.8L2093,718.2L2093.3,710.6L2093.5,719.3L2093.8,711.7L2094,705.4L2094.3,712.9L2094.5,708.7L2094.8,719.2L2095.1,753.1L2095.3,707L2095.6,706.5L2095.8,719.2L2096.1,715.6L2096.3,703.5L2096.6,723.9L2096.8,717.7L2097.1,714.5L2097.3,707.5L2097.6,715.2L2097.8,705.1L2098.1,726.9L2098.3,717.5L2098.6,729.5L2098.9,683.5L2099.1,739.8L2099.4,729.4L2099.6,705.9L2099.9,713.8L2100.1,706L2100.4,725.5L2100.6,701.7L2100.9,705.8L2101.1,705.5L2101.4,711.2L2101.6,721.2L2101.9,722.9L2102.2,730.9L2102.4,712.9L2102.7,725L2102.9,696.5L2103.2,728.1L2103.4,729L2103.7,719.1L2103.9,716.6L2104.2,733.4L2104.4,709.6L2104.7,714.7L2104.9,726.1L2105.2,703.2L2105.5,716.6L2105.7,709L2106,733.1L2106.2,745L2106.5,726.4L2106.7,708.6L2107,708.6L2107.2,717.7L2107.5,739.7L2107.7,716.4L2108,719.9L2108.2,729.2L2108.5,735.9L2108.7,732.2L2109,728.9L2109.3,731L2109.5,709.9L2109.8,727L2110,707.3L2110.3,722.5L2110.5,722.9L2110.8,716.3L2111,736L2111.3,722.6L2111.5,736.6L2111.8,723L2112,711.1L2112.3,736.9L2112.6,718.2L2112.8,695.4L2113.1,721.9L2113.3,727.3L2113.6,721.3L2113.8,727.7L2114.1,734.7L2114.3,718.3L2114.6,717L2114.8,727.4L2115.1,726L2115.3,731.2L2115.6,717.4L2115.9,724L2116.1,726.6L2116.4,721.8L2116.6,732.2L2116.9,705.8L2117.1,702.1L2117.4,715.5L2117.6,719.8L2117.9,713.1L2118.1,740.5L2118.4,709.5L2118.6,721.4L2118.9,724.7L2119.1,720L2119.4,729.7L2119.7,735.6L2119.9,720.8L2120.2,725.7L2120.4,722L2120.7,727.3L2120.9,714.3L2121.2,729.9L2121.4,714L2121.7,731.5L2121.9,709.7L2122.2,734.4L2122.4,717.1L2122.7,721L2123,719.7L2123.2,717.1L2123.5,732.1L2123.7,714.2L2124,733.2L2124.2,715.9L2124.5,713.2L2124.7,719.5L2125,696L2125.2,715.5L2125.5,707.9L2125.7,735.1L2126,710L2126.3,713.4L2126.5,723.3L2126.8,728.6L2127,702.9L2127.3,719.5L2127.5,697L2127.8,725.6L2128,732.3L2128.3,721.8L2128.5,725.5L2128.8,728.8L2129,729.7L2129.3,713.9L2129.6,711.2L2129.8,713.1L2130.1,722.2L2130.3,727.8L2130.6,729L2130.8,714L2131.1,711.2L2131.3,710.1L2131.6,726.1L2131.8,735.3L2132.1,720L2132.3,733.4L2132.6,706.8L2132.8,738.9L2133.1,722.8L2133.4,720.7L2133.6,712.3L2133.9,728.8L2134.1,743.2L2134.4,734.9L2134.6,722.3L2134.9,730.9L2135.1,722.5L2135.4,735.9L2135.6,706.1L2135.9,703.8L2136.1,723.6L2136.4,705.5L2136.7,719.7L2136.9,724.1L2137.2,758.4L2137.4,727.9L2137.7,693.5L2137.9,722.3L2138.2,733.9L2138.4,726.7L2138.7,745.8L2138.9,731.7L2139.2,709.8L2139.4,719.3L2139.7,705.4L2140,704.1L2140.2,712.5L2140.5,724L2140.7,724.7L2141,726.4L2141.2,714.7L2141.5,728.5L2141.7,737.1L2142,726.3L2142.2,710.9L2142.5,704.4L2142.7,719.7L2143,725.8L2143.2,738L2143.5,730.8L2143.8,708.2L2144,726.9L2144.3,713.9L2144.5,728.2L2144.8,726.6L2145,728.1L2145.3,715.7L2145.5,737.3L2145.8,714.3L2146,729.8L2146.3,726.3L2146.5,712.4L2146.8,725.2L2147.1,741.1L2147.3,700.9L2147.6,722.4L2147.8,737.3L2148.1,714.5L2148.3,726.6L2148.6,717.5L2148.8,722.3L2149.1,735.6L2149.3,715.9L2149.6,727.3L2149.8,720.3L2150.1,709L2150.4,720.4L2150.6,751.5L2150.9,721.8L2151.1,730.4L2151.4,715.5L2151.6,728.5L2151.9,719.4L2152.1,716.9L2152.4,714.9L2152.6,716.4L2152.9,709.9L2153.1,718.6L2153.4,698.8L2153.7,730.3L2153.9,705.5L2154.2,737.2L2154.4,721.5L2154.7,730.8L2154.9,724.5L2155.2,707.6L2155.4,733L2155.7,703.8L2155.9,718.3L2156.2,712L2156.4,727.8L2156.7,734.5L2156.9,719.5L2157.2,720.6L2157.5,728.1L2157.7,730L2158,720.6L2158.2,730.2L2158.5,725.2L2158.7,729.1L2159,731.3L2159.2,702.4L2159.5,706.7L2159.7,731.1L2160,722.3L2160.2,737.5L2160.5,710.6L2160.8,724.1L2161,726.6L2161.3,735.8L2161.5,725.5L2161.8,721.1L2162,742.1L2162.3,711.2L2162.5,688.8L2162.8,711.8L2163,703.6L2163.3,738.5L2163.5,712.8L2163.8,710L2164.1,716.3L2164.3,717.1L2164.6,724L2164.8,712.5L2165.1,723L2165.3,726L2165.6,731.6L2165.8,704L2166.1,711.9L2166.3,708.7L2166.6,733.2L2166.8,729.9L2167.1,719L2167.3,712.6L2167.6,739.4L2167.9,702.4L2168.1,729.6L2168.4,713.3L2168.6,716L2168.9,709.9L2169.1,720.7L2169.4,730.4L2169.6,709.1L2169.9,710.2L2170.1,698.4L2170.4,732.8L2170.6,738L2170.9,722.4L2171.2,730.1L2171.4,728.3L2171.7,716.6L2171.9,714.9L2172.2,709.9L2172.4,730.1L2172.7,706.6L2172.9,716.2L2173.2,719.7L2173.4,739.3L2173.7,702.4L2173.9,729.9L2174.2,713L2174.5,722.4L2174.7,722L2175,730.8L2175.2,708.7L2175.5,733.4L2175.7,722.1L2176,715.4L2176.2,713.5L2176.5,713.7L2176.7,734.5L2177,727.3L2177.2,729.1L2177.5,724L2177.8,723.2L2178,727.7L2178.3,702.9L2178.5,708.7L2178.8,708.8L2179,714.1L2179.3,735.6L2179.5,714.7L2179.8,731.5L2180,715.4L2180.3,712.5L2180.5,718.5L2180.8,739.7L2181,731.7L2181.3,713.7L2181.6,736.4L2181.8,747.1L2182.1,737.6L2182.3,718.1L2182.6,719.4L2182.8,719.8L2183.1,732L2183.3,710L2183.6,731.6L2183.8,709.7L2184.1,723.3L2184.3,739.5L2184.6,720.3L2184.9,711L2185.1,738.1L2185.4,705.5L2185.6,710.1L2185.9,724.5L2186.1,723L2186.4,709.7L2186.6,712.2L2186.9,707.8L2187.1,696.6L2187.4,739.4L2187.6,728.7L2187.9,716.1L2188.2,698.4L2188.4,719.3L2188.7,710L2188.9,713.4L2189.2,708.7L2189.4,728.1L2189.7,731.2L2189.9,723.6L2190.2,735.1L2190.4,727.2L2190.7,736L2190.9,747.1L2191.2,722.4L2191.4,730L2191.7,718.7L2192,741.1L2192.2,717.3L2192.5,731.3L2192.7,724.9L2193,713.8L2193.2,747.2L2193.5,711.4L2193.7,717.7L2194,698.5L2194.2,731.9L2194.5,734.2L2194.7,713.3L2195,721.2L2195.3,716.6L2195.5,720.8L2195.8,709.4L2196,728L2196.3,720.5L2196.5,736.9L2196.8,720.2L2197,712.2L2197.3,719.2L2197.5,737.6L2197.8,723.7L2198,730.3L2198.3,716.9L2198.6,727.9L2198.8,731.8L2199.1,719.6L2199.3,728.8L2199.6,728L2199.8,712.7L2200.1,706.4L2200.3,712.3L2200.6,713.7L2200.8,721.5L2201.1,704.5L2201.3,714L2201.6,714.9L2201.8,732.2L2202.1,714.8L2202.4,723.2L2202.6,737.5L2202.9,719.8L2203.1,717.8L2203.4,697.6L2203.6,728.5L2203.9,718.1L2204.1,698.9L2204.4,704.6L2204.6,720.4L2204.9,721.2L2205.1,724.8L2205.4,707.3L2205.7,720.6L2205.9,708.5L2206.2,730L2206.4,728.7L2206.7,745.2L2206.9,749.1L2207.2,724.8L2207.4,720.4L2207.7,729L2207.9,716.6L2208.2,715.3L2208.4,734.9L2208.7,729.8L2209,727L2209.2,723.1L2209.5,717L2209.7,714.8L2210,714.3L2210.2,720.3L2210.5,701.9L2210.7,741.6L2211,706.2L2211.2,729.6L2211.5,697.5L2211.7,728.3L2212,743.2L2212.3,721L2212.5,718.4L2212.8,735.3L2213,735.9L2213.3,731.8L2213.5,703.7L2213.8,713.6L2214,722.3L2214.3,708.7L2214.5,737.4L2214.8,728.3L2215,743.2L2215.3,731.4L2215.5,716.2L2215.8,702.6L2216.1,742.3L2216.3,702.4L2216.6,728.7L2216.8,718L2217.1,712.6L2217.3,717.4L2217.6,725.8L2217.8,719.8L2218.1,736L2218.3,722.1L2218.6,718.7L2218.8,730.6L2219.1,729.5L2219.4,729.9L2219.6,738L2219.9,724.2L2220.1,720.1L2220.4,721.8L2220.6,741.4L2220.9,757.3L2221.1,721.7L2221.4,704L2221.6,715.8L2221.9,721.5L2222.1,728.4L2222.4,722.8L2222.7,725.2L2222.9,711.7L2223.2,720.8L2223.4,723.9L2223.7,717L2223.9,740L2224.2,723.7L2224.4,711.1L2224.7,711.6L2224.9,703L2225.2,744.3L2225.4,710.8L2225.7,719.8L2225.9,720.7L2226.2,699.5L2226.5,712.6L2226.7,722.5L2227,720.8L2227.2,717.7L2227.5,720.3L2227.7,732.5L2228,716.9L2228.2,715.8L2228.5,729.2L2228.7,732.1L2229,725.5L2229.2,716L2229.5,725.5L2229.8,737.2L2230,721.7L2230.3,715.4L2230.5,717.5L2230.8,733.4L2231,738.1L2231.3,715.9L2231.5,706.8L2231.8,741.8L2232,729.1L2232.3,708.6L2232.5,732.9L2232.8,718L2233.1,708.2L2233.3,724.3L2233.6,728.3L2233.8,721.8L2234.1,734.9L2234.3,735L2234.6,717.8L2234.8,712.2L2235.1,709.6L2235.3,709.3L2235.6,717.6L2235.8,698.5L2236.1,696.2L2236.4,709.7L2236.6,714L2236.9,736.8L2237.1,725.4L2237.4,744L2237.6,708.1L2237.9,730.4L2238.1,734.3L2238.4,730.9L2238.6,702.6L2238.9,717.2L2239.1,708.5L2239.4,727.5L2239.6,714.5L2239.9,718.9L2240.2,715.7L2240.4,736.3L2240.7,721.1L2240.9,715.8L2241.2,715.2L2241.4,732.3L2241.7,730.1L2241.9,711L2242.2,738.5L2242.4,718.9L2242.7,694L2242.9,728.9L2243.2,719.1L2243.5,723.2L2243.7,732.5L2244,719.7L2244.2,727.2L2244.5,707L2244.7,731.3L2245,716.7L2245.2,725.8L2245.5,722.3L2245.7,737.4L2246,752.2L2246.2,732.3L2246.5,731.1L2246.8,722.2L2247,688.5L2247.3,720.1L2247.5,719.4L2247.8,710.4L2248,709.9L2248.3,699.9L2248.5,741.1L2248.8,737.6L2249,707.5L2249.3,734.3L2249.5,697.2L2249.8,711.8L2250,717.2L2250.3,705.2L2250.6,719.8L2250.8,719.3L2251.1,730.6L2251.3,732.3L2251.6,746.3L2251.8,731L2252.1,733.6L2252.3,712.7L2252.6,719.8L2252.8,727.2L2253.1,730.4L2253.3,708.1L2253.6,731.2L2253.9,725.3L2254.1,739.6L2254.4,715.8L2254.6,700.2L2254.9,719.4L2255.1,728.9L2255.4,732L2255.6,715.8L2255.9,706.5L2256.1,704.3L2256.4,711.8L2256.6,736.9L2256.9,720.4L2257.2,716L2257.4,731.5L2257.7,718.8L2257.9,717.4L2258.2,725.6L2258.4,706.5L2258.7,729.7L2258.9,709.8L2259.2,734.6L2259.4,710.9L2259.7,730L2259.9,715.5L2260.2,717.1L2260.5,717L2260.7,717.1L2261,709.6L2261.2,697.9L2261.5,726.2L2261.7,722.4L2262,709.9L2262.2,736.6L2262.5,721.5L2262.7,724.1L2263,724L2263.2,723.4L2263.5,726.6L2263.7,724.4L2264,729.3L2264.3,720.8L2264.5,720.5L2264.8,714.4L2265,718.5L2265.3,721.5L2265.5,710.5L2265.8,711.5L2266,736.5L2266.3,730L2266.5,722.7L2266.8,723.7L2267,702.5L2267.3,739L2267.6,712.2L2267.8,703.5L2268.1,715.4L2268.3,722L2268.6,721.2L2268.8,710.8L2269.1,730.9L2269.3,727.4L2269.6,726.5L2269.8,720.4L2270.1,713.2L2270.3,709.4L2270.6,712.8L2270.9,727.8L2271.1,718L2271.4,710.6L2271.6,745L2271.9,727.6L2272.1,721.4L2272.4,706.5L2272.6,717L2272.9,743.9L2273.1,719.1L2273.4,738.2L2273.6,720.1L2273.9,708.8L2274.1,735.3L2274.4,730.2L2274.7,735L2274.9,721.1L2275.2,728.1L2275.4,702.9L2275.7,721L2275.9,714.1L2276.2,743L2276.4,741L2276.7,716.5L2276.9,723.3L2277.2,719.6L2277.4,713.5L2277.7,715.7L2278,715.5L2278.2,719.3L2278.5,740.3L2278.7,730.8L2279,738.6L2279.2,731.6L2279.5,713.6L2279.7,719.6L2280,710.9L2280.2,713.9L2280.5,705.5L2280.7,721.7L2281,732.2L2281.3,708L2281.5,703.5L2281.8,723.9L2282,735.2L2282.3,699.7L2282.5,727.6L2282.8,748.4L2283,725.6L2283.3,717.4L2283.5,721.3L2283.8,730.4L2284,756.1L2284.3,714.6L2284.6,710.2L2284.8,726.4L2285.1,744.2L2285.3,717.9L2285.6,716.2L2285.8,707.8L2286.1,714.2L2286.3,716.4L2286.6,719.8L2286.8,740.6L2287.1,704.1L2287.3,731.2L2287.6,734.3L2287.8,739.7L2288.1,742.6L2288.4,733.2L2288.6,741.4L2288.9,711.9L2289.1,726.7L2289.4,735.8L2289.6,721.5L2289.9,718.7L2290.1,724.6L2290.4,703.6L2290.6,716.5L2290.9,699.1L2291.1,734.7L2291.4,729.4L2291.7,727.7L2291.9,742.1L2292.2,730.8L2292.4,715.2L2292.7,716.9L2292.9,731.3L2293.2,701.6L2293.4,727.8L2293.7,735.6L2293.9,713.2L2294.2,710.9L2294.4,742L2294.7,733.3L2295,728.2L2295.2,724.9L2295.5,727.1L2295.7,715.4L2296,730.2L2296.2,699.6L2296.5,723.3L2296.7,696.3L2297,736.9L2297.2,718.9L2297.5,726.8L2297.7,719.1L2298,707.3L2298.2,735.2L2298.5,713.4L2298.8,727.7L2299,737.9L2299.3,697.6L2299.5,722.9L2299.8,721.2L2300,730.2L2300.3,718.3L2300.5,707.9L2300.8,694.1L2301,712.3L2301.3,711.9L2301.5,716.2L2301.8,741.2L2302.1,726.7L2302.3,718.8L2302.6,717.7L2302.8,704.7L2303.1,738L2303.3,718.7L2303.6,720.4L2303.8,720.2L2304.1,725.2L2304.3,718.3L2304.6,725L2304.8,719.9L2305.1,737L2305.4,729.3L2305.6,709L2305.9,709.6L2306.1,716.1L2306.4,719.8L2306.6,730.5L2306.9,723.5L2307.1,734.7L2307.4,707L2307.6,730L2307.9,733.8L2308.1,732L2308.4,725.9L2308.6,719.5L2308.9,735.9L2309.2,725.9L2309.4,728.5L2309.7,726.7L2309.9,708.2L2310.2,726L2310.4,708.5L2310.7,680.9L2310.9,707.5L2311.2,709.8L2311.4,719.6L2311.7,719.9L2311.9,714.1L2312.2,711.5L2312.5,719.1L2312.7,729.4L2313,721.5L2313.2,710.1L2313.5,718L2313.7,707.4L2314,727.2L2314.2,718.1L2314.5,714.1L2314.7,708.4L2315,701.3L2315.2,727.2L2315.5,720L2315.8,715.8L2316,725.2L2316.3,714.7L2316.5,748L2316.8,711.8L2317,730.5L2317.3,737.7L2317.5,731.7L2317.8,718.6L2318,718.9L2318.3,735L2318.5,722.6L2318.8,712.8L2319.1,711.9L2319.3,693.8L2319.6,700.4L2319.8,732.9L2320.1,731.3L2320.3,710.5L2320.6,744.1L2320.8,725.6L2321.1,700L2321.3,732.4L2321.6,700.1L2321.8,723.1L2322.1,734L2322.3,723.6L2322.6,734.2L2322.9,712.4L2323.1,733.1L2323.4,727.5L2323.6,706.9L2323.9,720L2324.1,705.4L2324.4,708.8L2324.6,711L2324.9,711.2L2325.1,729.1L2325.4,720.1L2325.6,724.9L2325.9,734.3L2326.2,718.3L2326.4,733.8L2326.7,736.8L2326.9,715.7L2327.2,728.3L2327.4,726.1L2327.7,731.4L2327.9,717.5L2328.2,713.9L2328.4,717.3L2328.7,735.2L2328.9,721.4L2329.2,723.9L2329.5,719.6L2329.7,705.2L2330,721.2L2330.2,707.3L2330.5,724.3L2330.7,697.3L2331,728.9L2331.2,724.1L2331.5,737L2331.7,735.7L2332,727.4L2332.2,717L2332.5,709.3L2332.7,701.7L2333,707.3L2333.3,722.7L2333.5,728.7L2333.8,708.1L2334,721.6L2334.3,712.5L2334.5,700.2L2334.8,713.5L2335,713.2L2335.3,715.7L2335.5,716.8L2335.8,719.4L2336,709.9L2336.3,708.4L2336.6,738.8L2336.8,717.6L2337.1,737.8L2337.3,731L2337.6,721.9L2337.8,719L2338.1,729.1L2338.3,716.4L2338.6,719.7L2338.8,694.1L2339.1,737.5L2339.3,739.1L2339.6,735.7L2339.9,716L2340.1,718.8L2340.4,705.9L2340.6,690.2L2340.9,715.7L2341.1,723.7L2341.4,729L2341.6,709.7L2341.9,696.5L2342.1,722.4L2342.4,719.3L2342.6,700.6L2342.9,713.1L2343.2,704.8L2343.4,720.5L2343.7,712.6L2343.9,733L2344.2,706.1L2344.4,733.7L2344.7,728.9L2344.9,715.1L2345.2,732.2L2345.4,708.3L2345.7,718.1L2345.9,723.3L2346.2,726.3L2346.4,717.9L2346.7,719.9L2347,711L2347.2,718.1L2347.5,707.1L2347.7,717.8L2348,716.4L2348.2,725.1L2348.5,719L2348.7,715L2349,726.5L2349.2,724L2349.5,727.7L2349.7,710.7L2350,737.5" stroke="#ff0000" stroke-width="2.8"/>
<path d="M1437,749.3L1437.3,758.9L1437.5,748.7L1437.8,775.6L1438,780L1438.3,733.3L1438.5,764.6L1438.8,749.2L1439,775.5L1439.3,775L1439.5,788.4L1439.8,773.8L1440,751.2L1440.3,747.1L1440.6,761.3L1440.8,740.5L1441.1,738.3L1441.3,752.4L1441.6,767.7L1441.8,769.8L1442.1,750.2L1442.3,759.6L1442.6,752.9L1442.8,753.1L1443.1,743.8L1443.3,760.7L1443.6,761.1L1443.8,756.4L1444.1,764.3L1444.4,785L1444.6,750L1444.9,774.7L1445.1,755.5L1445.4,771.9L1445.6,748.7L1445.9,763.4L1446.1,749.1L1446.4,713.8L1446.6,752.7L1446.9,739.6L1447.1,756.7L1447.4,770.2L1447.7,760.8L1447.9,768L1448.2,745.5L1448.4,731L1448.7,727.9L1448.9,752.9L1449.2,752.7L1449.4,757.8L1449.7,771.2L1449.9,756.4L1450.2,786.5L1450.4,752.3L1450.7,780.1L1451,735.2L1451.2,755.8L1451.5,755.7L1451.7,797.6L1452,764.4L1452.2,757.3L1452.5,735.7L1452.7,787.2L1453,750.7L1453.2,754.4L1453.5,776.5L1453.7,764.5L1454,768.9L1454.3,731.8L1454.5,767L1454.8,757.9L1455,760.7L1455.3,749.1L1455.5,795.3L1455.8,739.9L1456,751L1456.3,777.9L1456.5,734.5L1456.8,743.4L1457,768.6L1457.3,759.1L1457.5,766.7L1457.8,759.7L1458.1,749.9L1458.3,767.6L1458.6,747.4L1458.8,756.4L1459.1,762.8L1459.3,746.2L1459.6,785L1459.8,776.7L1460.1,752.7L1460.3,787.2L1460.6,781.9L1460.8,765.7L1461.1,792.7L1461.4,741.9L1461.6,769L1461.9,778.8L1462.1,764.7L1462.4,741.5L1462.6,765.4L1462.9,749.5L1463.1,750.7L1463.4,748.2L1463.6,764.4L1463.9,736.8L1464.1,739.9L1464.4,750.6L1464.7,769.3L1464.9,757.6L1465.2,771L1465.4,747.1L1465.7,772.3L1465.9,780L1466.2,768.8L1466.4,772.5L1466.7,760L1466.9,772.6L1467.2,763.2L1467.4,762.5L1467.7,782.3L1467.9,779.7L1468.2,741L1468.5,766.5L1468.7,757.5L1469,738.9L1469.2,758.5L1469.5,755L1469.7,776.2L1470,763.8L1470.2,764.4L1470.5,771.8L1470.7,756.1L1471,772.8L1471.2,779L1471.5,760.1L1471.8,774.7L1472,784L1472.3,774L1472.5,740.6L1472.8,738.3L1473,762.4L1473.3,756L1473.5,760.2L1473.8,768.9L1474,780.5L1474.3,772.1L1474.5,763.2L1474.8,773.8L1475.1,754.7L1475.3,763.1L1475.6,760.8L1475.8,772.1L1476.1,777.7L1476.3,769.1L1476.6,761.4L1476.8,767.3L1477.1,741.3L1477.3,753.6L1477.6,755.3L1477.8,768.3L1478.1,763.8L1478.4,759.6L1478.6,746.5L1478.9,797L1479.1,788.7L1479.4,762.3L1479.6,764L1479.9,759.9L1480.1,763.3L1480.4,786.8L1480.6,752.2L1480.9,748.2L1481.1,769.7L1481.4,766.8L1481.6,779.9L1481.9,768.2L1482.2,764.5L1482.4,751.3L1482.7,758L1482.9,771.2L1483.2,763.3L1483.4,768.2L1483.7,762.3L1483.9,755.6L1484.2,751.7L1484.4,776.2L1484.7,761.8L1484.9,753.2L1485.2,760.7L1485.5,729.9L1485.7,763.8L1486,746.3L1486.2,777.9L1486.5,765.1L1486.7,788.5L1487,765.7L1487.2,745.5L1487.5,772.3L1487.7,753.5L1488,754.3L1488.2,768.7L1488.5,734.9L1488.8,765.6L1489,762L1489.3,737.3L1489.5,753.4L1489.8,750L1490,772.2L1490.3,742.6L1490.5,750.1L1490.8,787.1L1491,754.6L1491.3,765.3L1491.5,764.9L1491.8,781.4L1492,763.9L1492.3,767.5L1492.6,766.3L1492.8,783.7L1493.1,728.7L1493.3,777.2L1493.6,771.8L1493.8,789.8L1494.1,774.9L1494.3,734.1L1494.6,744L1494.8,767.8L1495.1,785.5L1495.3,759.2L1495.6,766.9L1495.9,751L1496.1,761.8L1496.4,767.5L1496.6,759.1L1496.9,776.3L1497.1,751.2L1497.4,761.6L1497.6,750.1L1497.9,751.6L1498.1,762.3L1498.4,767.3L1498.6,768.3L1498.9,760.4L1499.2,737.9L1499.4,744.1L1499.7,796.1L1499.9,760.7L1500.2,749.5L1500.4,753.7L1500.7,762L1500.9,765.7L1501.2,777.4L1501.4,756.5L1501.7,761.4L1501.9,747.1L1502.2,758.9L1502.4,754.9L1502.7,758.5L1503,730.4L1503.2,732.6L1503.5,768L1503.7,782.5L1504,742.3L1504.2,746.7L1504.5,770.4L1504.7,763.8L1505,755L1505.2,743.9L1505.5,763.9L1505.7,764.6L1506,766.6L1506.3,766.7L1506.5,770.2L1506.8,763.2L1507,754.5L1507.3,760.3L1507.5,752.7L1507.8,772L1508,763.9L1508.3,771.3L1508.5,721.6L1508.8,740.3L1509,779.4L1509.3,767.1L1509.6,763.3L1509.8,755.6L1510.1,758.6L1510.3,777.7L1510.6,790L1510.8,765.1L1511.1,748.5L1511.3,757.2L1511.6,764.3L1511.8,743.9L1512.1,740.2L1512.3,757.6L1512.6,767.1L1512.9,743.4L1513.1,737.8L1513.4,738L1513.6,799.1L1513.9,749.9L1514.1,767.2L1514.4,769L1514.6,732.4L1514.9,762.6L1515.1,769.4L1515.4,758.7L1515.6,753.1L1515.9,745.2L1516.1,759.7L1516.4,766.6L1516.7,764.6L1516.9,763.3L1517.2,735.1L1517.4,749.5L1517.7,760.7L1517.9,766.4L1518.2,757.8L1518.4,745.6L1518.7,753L1518.9,765.3L1519.2,756.5L1519.4,742.6L1519.7,794.8L1520,738.5L1520.2,763.3L1520.5,757.7L1520.7,769L1521,753L1521.2,743.1L1521.5,771.8L1521.7,734.4L1522,778.7L1522.2,752.5L1522.5,763.1L1522.7,744.1L1523,773.1L1523.3,731.8L1523.5,730.9L1523.8,749.9L1524,719.1L1524.3,743.4L1524.5,754.1L1524.8,747.2L1525,747.4L1525.3,760.5L1525.5,760L1525.8,768.2L1526,742.8L1526.3,764.8L1526.5,745.9L1526.8,749.2L1527.1,747.9L1527.3,758.7L1527.6,747.9L1527.8,749.7L1528.1,725.8L1528.3,725L1528.6,766.6L1528.8,750.2L1529.1,752.5L1529.3,741.1L1529.6,752.4L1529.8,722.1L1530.1,760.8L1530.4,760.8L1530.6,766.9L1530.9,745.2L1531.1,727.9L1531.4,736.8L1531.6,741.2L1531.9,748.2L1532.1,730.2L1532.4,736.3L1532.6,728.3L1532.9,753.4L1533.1,757.1L1533.4,732.1L1533.7,734L1533.9,739.3L1534.2,731.6L1534.4,740.4L1534.7,728.8L1534.9,736.8L1535.2,726.6L1535.4,720.3L1535.7,729L1535.9,717.5L1536.2,722.1L1536.4,712.6L1536.7,711.2L1537,704L1537.2,711.1L1537.5,727.7L1537.7,719.4L1538,704L1538.2,688.2L1538.5,689.3L1538.7,699.3L1539,698.1L1539.2,682.2L1539.5,671.4L1539.7,682.7L1540,658.4L1540.2,651.4L1540.5,664.4L1540.8,656.2L1541,644.3L1541.3,636.2L1541.5,644.2L1541.8,624L1542,623.2L1542.3,620.6L1542.5,628.3L1542.8,613L1543,605.3L1543.3,592.5L1543.5,605.2L1543.8,599.5L1544.1,586L1544.3,585.3L1544.6,587L1544.8,574.6L1545.1,564.5L1545.3,581L1545.6,566.1L1545.8,551.4L1546.1,547.5L1546.3,542.4L1546.6,535L1546.8,542.1L1547.1,531.7L1547.4,534.9L1547.6,522.5L1547.9,516.3L1548.1,513.9L1548.4,508.6L1548.6,492.7L1548.9,498.3L1549.1,486.5L1549.4,482.1L1549.6,472.9L1549.9,465.1L1550.1,467.2L1550.4,453.7L1550.6,455.6L1550.9,449.4L1551.2,440.9L1551.4,429.2L1551.7,423.3L1551.9,421.8L1552.2,411.6L1552.4,408.4L1552.7,401.5L1552.9,393.5L1553.2,389.5L1553.4,382.4L1553.7,377.7L1553.9,376.6L1554.2,362.5L1554.5,354.4L1554.7,354.8L1555,344L1555.2,339.9L1555.5,330.9L1555.7,330.9L1556,319.6L1556.2,312.4L1556.5,307.7L1556.7,297.4L1557,295.4L1557.2,288.4L1557.5,285.3L1557.8,274.3L1558,268.8L1558.3,262.4L1558.5,251.7L1558.8,245.7L1559,239.8L1559.3,240.6L1559.5,230.2L1559.8,229.1L1560,222L1560.3,216.1L1560.5,214.1L1560.8,213.4L1561.1,212.5L1561.3,205.2L1561.6,204.3L1561.8,200.3L1562.1,199.5L1562.3,194.5L1562.6,193.7L1562.8,190.8L1563.1,186.6L1563.3,188.1L1563.6,182.9L1563.8,183.8L1564.1,181.2L1564.3,179.6L1564.6,174.7L1564.9,175.3L1565.1,174.4L1565.4,172.6L1565.6,169.3L1565.9,168L1566.1,168.5L1566.4,168.6L1566.6,163.5L1566.9,163.7L1567.1,163.9L1567.4,160.6L1567.6,162.5L1567.9,158.4L1568.2,160.8L1568.4,156.9L1568.7,157.5L1568.9,157.4L1569.2,155.7L1569.4,155.9L1569.7,154.6L1569.9,153.8L1570.2,153.1L1570.4,153.2L1570.7,153.2L1570.9,151.9L1571.2,149.6L1571.5,150.4L1571.7,153L1572,148.3L1572.2,147.3L1572.5,151.8L1572.7,151.8L1573,150.8L1573.2,153.1L1573.5,154.2L1573.7,154.2L1574,157.5L1574.2,155.3L1574.5,156.6L1574.7,156.7L1575,159.8L1575.3,157.8L1575.5,158.3L1575.8,161.8L1576,161.2L1576.3,160.1L1576.5,158.7L1576.8,162.6L1577,161.4L1577.3,166L1577.5,168.3L1577.8,166.3L1578,163.7L1578.3,166.7L1578.6,167.5L1578.8,166.7L1579.1,171.2L1579.3,166.4L1579.6,170.2L1579.8,171.9L1580.1,172.3L1580.3,173.5L1580.6,176.2L1580.8,173.4L1581.1,176.1L1581.3,177.3L1581.6,174.7L1581.9,177.5L1582.1,177L1582.4,178.8L1582.6,178.9L1582.9,181L1583.1,182.8L1583.4,178.7L1583.6,182L1583.9,181.9L1584.1,185.4L1584.4,183.4L1584.6,184.8L1584.9,186.2L1585.2,183.9L1585.4,188.8L1585.7,185L1585.9,187.3L1586.2,188.7L1586.4,190.4L1586.7,189.7L1586.9,188.8L1587.2,191.4L1587.4,190.8L1587.7,191.9L1587.9,196L1588.2,196.9L1588.4,195.4L1588.7,198L1589,198.3L1589.2,196.8L1589.5,198.7L1589.7,195.5L1590,195.6L1590.2,200.5L1590.5,198.4L1590.7,202.3L1591,202.6L1591.2,200.9L1591.5,202.4L1591.7,203.6L1592,205.4L1592.3,205.9L1592.5,209.3L1592.8,208.8L1593,205.2L1593.3,211.9L1593.5,206.4L1593.8,212.3L1594,208.1L1594.3,213.4L1594.5,210.7L1594.8,214.9L1595,213.3L1595.3,216.2L1595.6,215.9L1595.8,216.7L1596.1,216.1L1596.3,215.1L1596.6,216.3L1596.8,214.5L1597.1,217.4L1597.3,218.7L1597.6,219.4L1597.8,220.3L1598.1,220.4L1598.3,221L1598.6,222.4L1598.8,224.5L1599.1,222.5L1599.4,224.3L1599.6,224.7L1599.9,230.4L1600.1,227.6L1600.4,226.3L1600.6,223.7L1600.9,227.4L1601.1,233.2L1601.4,234.5L1601.6,229.6L1601.9,229.2L1602.1,233.1L1602.4,232.5L1602.7,232.4L1602.9,236.3L1603.2,234.5L1603.4,232.6L1603.7,239.2L1603.9,239.2L1604.2,236.2L1604.4,237.3L1604.7,236.6L1604.9,243.4L1605.2,243.5L1605.4,241.5L1605.7,241L1606,242.6L1606.2,241.6L1606.5,246.3L1606.7,244.3L1607,243.5L1607.2,248.3L1607.5,247.7L1607.7,250.1L1608,247.5L1608.2,247.6L1608.5,250.7L1608.7,252.1L1609,253.9L1609.2,252.5L1609.5,251.7L1609.8,255.7L1610,255.3L1610.3,254.3L1610.5,255.4L1610.8,256.3L1611,257.4L1611.3,258.8L1611.5,256.8L1611.8,261.1L1612,263.4L1612.3,262.6L1612.5,257.8L1612.8,262.9L1613.1,264.8L1613.3,262.9L1613.6,262L1613.8,264.1L1614.1,267.3L1614.3,266.7L1614.6,267.9L1614.8,265.9L1615.1,270.5L1615.3,268.1L1615.6,269.4L1615.8,272.3L1616.1,270.8L1616.4,270.3L1616.6,272L1616.9,268.7L1617.1,271.2L1617.4,270.9L1617.6,272.9L1617.9,276.7L1618.1,276.2L1618.4,275.5L1618.6,276.6L1618.9,278L1619.1,277.6L1619.4,277.6L1619.7,277.5L1619.9,278.2L1620.2,280.8L1620.4,285.3L1620.7,281.4L1620.9,283.3L1621.2,285.3L1621.4,281.8L1621.7,289.1L1621.9,286L1622.2,285.2L1622.4,285.2L1622.7,290.2L1622.9,287L1623.2,286.4L1623.5,292.4L1623.7,294.4L1624,293.7L1624.2,291.8L1624.5,295.8L1624.7,292.1L1625,295.1L1625.2,294.6L1625.5,295.5L1625.7,296.8L1626,299.7L1626.2,296.5L1626.5,297.6L1626.8,299.7L1627,299.6L1627.3,299.5L1627.5,298.6L1627.8,304.3L1628,303.2L1628.3,305.1L1628.5,305.5L1628.8,301.7L1629,306L1629.3,306.7L1629.5,302L1629.8,307.7L1630.1,309.6L1630.3,309.4L1630.6,310.4L1630.8,309.8L1631.1,312.4L1631.3,307.1L1631.6,310.4L1631.8,313.3L1632.1,314.4L1632.3,312.7L1632.6,314.4L1632.8,315.9L1633.1,317.8L1633.3,318.9L1633.6,316.8L1633.9,320L1634.1,317.9L1634.4,318.8L1634.6,319.9L1634.9,322.3L1635.1,325.4L1635.4,322.9L1635.6,323.7L1635.9,329.4L1636.1,327.7L1636.4,321.8L1636.6,326.5L1636.9,326.7L1637.2,328.3L1637.4,327L1637.7,329.6L1637.9,329.6L1638.2,332.5L1638.4,332.3L1638.7,334.2L1638.9,333.3L1639.2,334.3L1639.4,339.3L1639.7,331.7L1639.9,337.6L1640.2,338.6L1640.5,333.7L1640.7,334.8L1641,338.6L1641.2,341.5L1641.5,341.2L1641.7,337.4L1642,337.7L1642.2,342.9L1642.5,342.4L1642.7,346.8L1643,344.9L1643.2,339.2L1643.5,341.4L1643.8,347.1L1644,342.5L1644.3,345.2L1644.5,346.9L1644.8,345.2L1645,341.4L1645.3,351.3L1645.5,346.9L1645.8,348.7L1646,347.8L1646.3,351.1L1646.5,354.5L1646.8,353.8L1647,358.5L1647.3,357L1647.6,350.5L1647.8,354.6L1648.1,356.8L1648.3,354.2L1648.6,355.3L1648.8,362.6L1649.1,361.4L1649.3,357L1649.6,357.4L1649.8,360.5L1650.1,360.7L1650.3,358.9L1650.6,364.9L1650.9,362.7L1651.1,367.5L1651.4,367.1L1651.6,367.2L1651.9,362.2L1652.1,365.3L1652.4,368.2L1652.6,365.6L1652.9,374.3L1653.1,374.5L1653.4,371.6L1653.6,373.2L1653.9,374.2L1654.2,374.6L1654.4,371.6L1654.7,373.3L1654.9,374.1L1655.2,377.6L1655.4,374.7L1655.7,374L1655.9,373.5L1656.2,376.4L1656.4,385.5L1656.7,383L1656.9,380.8L1657.2,378.2L1657.4,385.8L1657.7,387.2L1658,388.5L1658.2,381L1658.5,377.8L1658.7,383.5L1659,383.1L1659.2,386.2L1659.5,387.2L1659.7,387L1660,386.4L1660.2,390.4L1660.5,395.6L1660.7,385.4L1661,387.9L1661.3,394.8L1661.5,390L1661.8,391.7L1662,395.9L1662.3,390.2L1662.5,397.3L1662.8,399.4L1663,398L1663.3,401.5L1663.5,406.8L1663.8,399.3L1664,398.7L1664.3,397.1L1664.6,401.3L1664.8,404.5L1665.1,397.3L1665.3,405.3L1665.6,403.2L1665.8,405.8L1666.1,405.9L1666.3,405.3L1666.6,407.8L1666.8,410.7L1667.1,408.8L1667.3,406.9L1667.6,402.2L1667.9,405.9L1668.1,409.2L1668.4,406.9L1668.6,414.5L1668.9,405.3L1669.1,410L1669.4,407.3L1669.6,410.7L1669.9,413.6L1670.1,413.8L1670.4,417.4L1670.6,416.6L1670.9,419.2L1671.1,412.8L1671.4,422.1L1671.7,419.3L1671.9,418.6L1672.2,423.1L1672.4,424L1672.7,420.1L1672.9,424.9L1673.2,427.3L1673.4,426L1673.7,424.9L1673.9,421.6L1674.2,422.6L1674.4,437.8L1674.7,425.2L1675,422.2L1675.2,424.6L1675.5,435.3L1675.7,429.1L1676,438.6L1676.2,433.3L1676.5,432.6L1676.7,432.5L1677,434.7L1677.2,433.3L1677.5,436.8L1677.7,437.6L1678,437.7L1678.3,435.6L1678.5,442.1L1678.8,435.1L1679,436.8L1679.3,445.3L1679.5,445.5L1679.8,433.8L1680,449.9L1680.3,441.8L1680.5,444.2L1680.8,451L1681,434L1681.3,441.9L1681.5,443.9L1681.8,446.3L1682.1,447.4L1682.3,443.7L1682.6,444.9L1682.8,452L1683.1,447.9L1683.3,452.8L1683.6,445.4L1683.8,455.9L1684.1,456L1684.3,449.8L1684.6,451.2L1684.8,450.2L1685.1,456.9L1685.4,468.3L1685.6,451.5L1685.9,452.2L1686.1,453.4L1686.4,461.1L1686.6,455.1L1686.9,459.4L1687.1,459.8L1687.4,461.4L1687.6,461.1L1687.9,462L1688.1,460.2L1688.4,461.1L1688.7,463.8L1688.9,460.3L1689.2,470.5L1689.4,466.4L1689.7,475.9L1689.9,472.8L1690.2,462.4L1690.4,460.9L1690.7,473.9L1690.9,469.5L1691.2,469.9L1691.4,467.7L1691.7,470.5L1691.9,463.5L1692.2,471.4L1692.5,472.2L1692.7,475.5L1693,473.6L1693.2,476.8L1693.5,467.9L1693.7,476.6L1694,485L1694.2,476.6L1694.5,473.8L1694.7,476L1695,486.4L1695.2,474.6L1695.5,474.6L1695.8,486.5L1696,487.4L1696.3,479.3L1696.5,479.2L1696.8,492.3L1697,478.4L1697.3,481.4L1697.5,484.6L1697.8,483.5L1698,480.3L1698.3,489L1698.5,482.6L1698.8,490.9L1699.1,479.5L1699.3,483.3L1699.6,490.6L1699.8,489.6L1700.1,499.1L1700.3,495.7L1700.6,493.6L1700.8,493.4L1701.1,501.5L1701.3,489.7L1701.6,496.1L1701.8,499.6L1702.1,502.4L1702.4,492.3L1702.6,504.3L1702.9,498.6L1703.1,504.1L1703.4,499.7L1703.6,505.7L1703.9,510.8L1704.1,498.2L1704.4,495.6L1704.6,506.5L1704.9,506.3L1705.1,506.7L1705.4,498.5L1705.6,494.6L1705.9,499.1L1706.2,497L1706.4,509.9L1706.7,504.8L1706.9,510.6L1707.2,505.6L1707.4,516.2L1707.7,509L1707.9,507.8L1708.2,506.7L1708.4,510.6L1708.7,507L1708.9,516L1709.2,523.1L1709.5,502.6L1709.7,509.4L1710,509.8L1710.2,514.1L1710.5,514.7L1710.7,507.7L1711,523.5L1711.2,514.7L1711.5,510.1L1711.7,524.3L1712,520.9L1712.2,527.2L1712.5,521.8L1712.8,522.3L1713,523.2L1713.3,523L1713.5,530.8L1713.8,528.9L1714,523.4L1714.3,536.4L1714.5,514.3L1714.8,535.9L1715,539.8L1715.3,522.4L1715.5,527.3L1715.8,549.9L1716,529.2L1716.3,524.9L1716.6,528L1716.8,543.7L1717.1,537.1L1717.3,526.9L1717.6,532L1717.8,523.5L1718.1,533.6L1718.3,536.9L1718.6,545.8L1718.8,542.6L1719.1,528.9L1719.3,536.7L1719.6,541.3L1719.9,538.8L1720.1,538.5L1720.4,539.5L1720.6,533.7L1720.9,541.7L1721.1,540.6L1721.4,537.7L1721.6,547L1721.9,540.8L1722.1,535.7L1722.4,555.6L1722.6,545.9L1722.9,545.9L1723.2,543.6L1723.4,550.4L1723.7,539.9L1723.9,534.5L1724.2,541.3L1724.4,551.8L1724.7,553.2L1724.9,546.8L1725.2,548.3L1725.4,550.4L1725.7,555L1725.9,548.8L1726.2,555L1726.5,556L1726.7,544.9L1727,543.8L1727.2,544.6L1727.5,560.9L1727.7,540.9L1728,558.7L1728.2,557L1728.5,564.9L1728.7,559.7L1729,566.6L1729.2,560.2L1729.5,562.7L1729.7,557L1730,567.6L1730.3,562.8L1730.5,554.2L1730.8,558.8L1731,562.5L1731.3,569L1731.5,565.6L1731.8,563.1L1732,575.2L1732.3,577.7L1732.5,569.7L1732.8,567.1L1733,576.1L1733.3,553.3L1733.6,570.7L1733.8,569.2L1734.1,572.2L1734.3,578.7L1734.6,582L1734.8,570.2L1735.1,585.7L1735.3,578.8L1735.6,590.8L1735.8,575.9L1736.1,576.6L1736.3,569.6L1736.6,563.6L1736.9,588.8L1737.1,569.4L1737.4,565.1L1737.6,575.4L1737.9,577.7L1738.1,582.3L1738.4,588.3L1738.6,574.4L1738.9,579.1L1739.1,588L1739.4,586.8L1739.6,578.2L1739.9,586.9L1740.1,566.5L1740.4,579.8L1740.7,582.7L1740.9,586.1L1741.2,591L1741.4,589.1L1741.7,577L1741.9,585.3L1742.2,588.4L1742.4,584.8L1742.7,591.9L1742.9,596.5L1743.2,585.2L1743.4,599.1L1743.7,585.5L1744,604.7L1744.2,588.5L1744.5,594.1L1744.7,600.7L1745,605.5L1745.2,598.2L1745.5,594L1745.7,591.6L1746,589.2L1746.2,597.6L1746.5,609.7L1746.7,597.5L1747,595L1747.3,607.5L1747.5,600.2L1747.8,603.4L1748,583.6L1748.3,597.7L1748.5,613.2L1748.8,595.5L1749,596L1749.3,588L1749.5,607.6L1749.8,594.1L1750,606.9L1750.3,614.4L1750.6,607.8L1750.8,611.8L1751.1,609.3L1751.3,600.8L1751.6,602.2L1751.8,612.3L1752.1,605.8L1752.3,600.2L1752.6,609.7L1752.8,609.6L1753.1,600.4L1753.3,611L1753.6,603.6L1753.8,631.4L1754.1,612.8L1754.4,608.4L1754.6,595.5L1754.9,608.9L1755.1,612.3L1755.4,617.4L1755.6,616.3L1755.9,613.8L1756.1,608.7L1756.4,608.4L1756.6,609.6L1756.9,631.6L1757.1,621.2L1757.4,626.9L1757.7,620.4L1757.9,623.6L1758.2,617.5L1758.4,619.8L1758.7,613.5L1758.9,618.1L1759.2,610.8L1759.4,632.9L1759.7,617.7L1759.9,637.9L1760.2,618.8L1760.4,607.4L1760.7,612.3L1761,640.4L1761.2,614.5L1761.5,623.7L1761.7,619.3L1762,619.2L1762.2,625.7L1762.5,641.3L1762.7,623.3L1763,631.3L1763.2,626.9L1763.5,616.2L1763.7,642.4L1764,624.8L1764.2,630.4L1764.5,632.6L1764.8,621L1765,641.6L1765.3,621.2L1765.5,634.4L1765.8,632.2L1766,656L1766.3,623.3L1766.5,631.5L1766.8,645.2L1767,630.5L1767.3,629.9L1767.5,635.5L1767.8,647.1L1768.1,629.8L1768.3,643.4L1768.6,630.4L1768.8,643.3L1769.1,629.2L1769.3,642.6L1769.6,650.4L1769.8,653.9L1770.1,650.5L1770.3,652.6L1770.6,650L1770.8,644.3L1771.1,629.2L1771.4,646.2L1771.6,626.7L1771.9,642.6L1772.1,636.1L1772.4,652.3L1772.6,651.9L1772.9,636.8L1773.1,636.3L1773.4,646.6L1773.6,644.6L1773.9,637.8L1774.1,649.1L1774.4,641L1774.7,642.1L1774.9,629.7L1775.2,643.6L1775.4,668.6L1775.7,637.2L1775.9,642.9L1776.2,632.4L1776.4,666.4L1776.7,667.1L1776.9,657.1L1777.2,649.3L1777.4,667.8L1777.7,643.7L1777.9,672.6L1778.2,653.8L1778.5,672.6L1778.7,642.6L1779,659L1779.2,646.8L1779.5,665L1779.7,674.6L1780,660.8L1780.2,647.1L1780.5,671.4L1780.7,648.2L1781,644.8L1781.2,658.3L1781.5,638.8L1781.8,655.3L1782,648.5L1782.3,664L1782.5,673.1L1782.8,659.4L1783,663.3L1783.3,669.8L1783.5,658L1783.8,662.1L1784,658L1784.3,672L1784.5,664L1784.8,676.2L1785.1,661.1L1785.3,666.2L1785.6,671L1785.8,668.3L1786.1,662.2L1786.3,663.5L1786.6,679.6L1786.8,671.2L1787.1,675L1787.3,658.2L1787.6,665.9L1787.8,668.8L1788.1,659.8L1788.3,680.8L1788.6,660.9L1788.9,667.2L1789.1,673L1789.4,660.5L1789.6,690.3L1789.9,669.8L1790.1,691.4L1790.4,672L1790.6,676.9L1790.9,672.7L1791.1,661.1L1791.4,676.4L1791.6,686.2L1791.9,681.9L1792.2,679.4L1792.4,675.6L1792.7,691L1792.9,687.5L1793.2,662.7L1793.4,688.1L1793.7,672.6L1793.9,685.9L1794.2,674.9L1794.4,690.8L1794.7,682.4L1794.9,677.9L1795.2,697.3L1795.5,670.3L1795.7,700L1796,674.6L1796.2,665.6L1796.5,673.9L1796.7,693.5L1797,679.9L1797.2,677.4L1797.5,687.8L1797.7,697.4L1798,690.2L1798.2,686.2L1798.5,672.3L1798.7,695.2L1799,683.4L1799.3,668.2L1799.5,675.9L1799.8,697.9L1800,671L1800.3,691.7L1800.5,700.7L1800.8,650.4L1801,683.7L1801.3,689.5L1801.5,685.6L1801.8,689.8L1802,675.6L1802.3,697.2L1802.6,685.1L1802.8,694.7L1803.1,685.5L1803.3,690.8L1803.6,667.2L1803.8,685L1804.1,703.3L1804.3,694.8L1804.6,684.5L1804.8,693.8L1805.1,674.2L1805.3,691.8L1805.6,683.1L1805.9,684.4L1806.1,713.6L1806.4,677.6L1806.6,679.4L1806.9,706.3L1807.1,705.2L1807.4,672.4L1807.6,703.4L1807.9,693.4L1808.1,700L1808.4,683.7L1808.6,700.2L1808.9,700.6L1809.2,693L1809.4,701.2L1809.7,700.8L1809.9,692.4L1810.2,689.8L1810.4,691.9L1810.7,686L1810.9,712.8L1811.2,683.4L1811.4,708.1L1811.7,713.7L1811.9,694.3L1812.2,679.3L1812.4,709.7L1812.7,725.6L1813,699.6L1813.2,663.1L1813.5,722.5L1813.7,695L1814,707.3L1814.2,686.2L1814.5,697.4L1814.7,701.8L1815,709.8L1815.2,696.3L1815.5,714.9L1815.7,706L1816,687.1L1816.3,699.7L1816.5,712.4L1816.8,676.2L1817,725L1817.3,704.8L1817.5,725.7L1817.8,701.1L1818,721.2L1818.3,720.9L1818.5,696.7L1818.8,703.8L1819,689.2L1819.3,688.1L1819.6,714.8L1819.8,705.5L1820.1,703.3L1820.3,717.4L1820.6,699.4L1820.8,701.9L1821.1,720.4L1821.3,704.3L1821.6,703.5L1821.8,693.5L1822.1,694.9L1822.3,725.6L1822.6,722.2L1822.8,728.1L1823.1,697.4L1823.4,721.8L1823.6,704L1823.9,717.5L1824.1,724.2L1824.4,708.1L1824.6,725.6L1824.9,728.5L1825.1,708.9L1825.4,714L1825.6,714.8L1825.9,716.7L1826.1,721.5L1826.4,717.8L1826.7,715.6L1826.9,690.6L1827.2,711.4L1827.4,699.1L1827.7,705.5L1827.9,729L1828.2,710.4L1828.4,728.3L1828.7,729.9L1828.9,707.3L1829.2,706.6L1829.4,725.8L1829.7,707.5L1830,705.7L1830.2,740.3L1830.5,724.4L1830.7,726.9L1831,731.4L1831.2,713.9L1831.5,709.7L1831.7,698.2L1832,697.7L1832.2,709.8L1832.5,715L1832.7,745.5L1833,735L1833.3,708.4L1833.5,725.7L1833.8,727.1L1834,733.9L1834.3,726.4L1834.5,739.6L1834.8,715.9L1835,721.2L1835.3,714L1835.5,708.1L1835.8,748.2L1836,691.6L1836.3,707.2L1836.5,691.5L1836.8,730.9L1837.1,700.8L1837.3,704.9L1837.6,717.2L1837.8,711.1L1838.1,713.2L1838.3,717.9L1838.6,740.2L1838.8,737L1839.1,700.5L1839.3,756.6L1839.6,728.6L1839.8,721.6L1840.1,723.1L1840.4,718.8L1840.6,727.1L1840.9,744.9L1841.1,707.7L1841.4,719.9L1841.6,717.1L1841.9,727.5L1842.1,723L1842.4,702.5L1842.6,737.8L1842.9,716.9L1843.1,725.2L1843.4,727.3L1843.7,719.5L1843.9,703.4L1844.2,751.2L1844.4,732.1L1844.7,722.7L1844.9,725L1845.2,695.7L1845.4,716.9L1845.7,766.3L1845.9,719.9L1846.2,750.3L1846.4,729.1L1846.7,715.7L1846.9,738.4L1847.2,712.8L1847.5,760L1847.7,726.9L1848,708.2L1848.2,721L1848.5,716.6L1848.7,712.3L1849,731.2L1849.2,708.4L1849.5,731.2L1849.7,704.8L1850,723.2L1850.2,739.9L1850.5,754L1850.8,719.3L1851,741.5L1851.3,708.5L1851.5,739.2L1851.8,711.2L1852,714.5L1852.3,713.5L1852.5,714.1L1852.8,736.5L1853,734.1L1853.3,733.6L1853.5,722.9L1853.8,732.9L1854.1,723.5L1854.3,709.3L1854.6,732.1L1854.8,732.3L1855.1,763.1L1855.3,750.3L1855.6,742.5L1855.8,733.6L1856.1,744.6L1856.3,737.4L1856.6,734.4L1856.8,749L1857.1,756L1857.4,736.5L1857.6,727.9L1857.9,703.9L1858.1,718.3L1858.4,735L1858.6,727.5L1858.9,724.4L1859.1,722.9L1859.4,752.5L1859.6,722.1L1859.9,718.7L1860.1,730.7L1860.4,743.1L1860.6,710.6L1860.9,755.9L1861.2,728.4L1861.4,750.3L1861.7,729.3L1861.9,768.9L1862.2,734.3L1862.4,757.5L1862.7,746.7L1862.9,733.6L1863.2,746.9L1863.4,750.3L1863.7,737.6L1863.9,735.7L1864.2,721.5L1864.5,748.8L1864.7,749.1L1865,728L1865.2,743.2L1865.5,742.5L1865.7,760.5L1866,727.8L1866.2,731.7L1866.5,733.9L1866.7,702.7L1867,733.5L1867.2,730.6L1867.5,722.7L1867.8,710.2L1868,741.5L1868.3,755.2L1868.5,719.3L1868.8,732.3L1869,764.4L1869.3,740.7L1869.5,762.2L1869.8,734.8L1870,727.1L1870.3,731.2L1870.5,724.1L1870.8,724.3L1871,724L1871.3,761.3L1871.6,744.7L1871.8,729.8L1872.1,734.7L1872.3,723.4L1872.6,735L1872.8,739.9L1873.1,742.2L1873.3,736.4L1873.6,734.7L1873.8,696.2L1874.1,762.2L1874.3,737.9L1874.6,736.7L1874.9,742.9L1875.1,739.7L1875.4,740.6L1875.6,721.9L1875.9,759.5L1876.1,718.8L1876.4,740.4L1876.6,722.3L1876.9,742.9L1877.1,765.3L1877.4,765.7L1877.6,728.9L1877.9,752.9L1878.2,723L1878.4,746.6L1878.7,762L1878.9,770L1879.2,734.3L1879.4,737L1879.7,737.9L1879.9,751L1880.2,757.8L1880.4,744.4L1880.7,761.7L1880.9,738.8L1881.2,731.7L1881.5,726.7L1881.7,733.5L1882,738.1L1882.2,717.3L1882.5,736.9L1882.7,731.3L1883,756.4L1883.2,723.1L1883.5,754L1883.7,734.6L1884,746.7L1884.2,722.1L1884.5,739.5L1884.7,757L1885,762.2L1885.3,732.6L1885.5,721.5L1885.8,738L1886,747.4L1886.3,752L1886.5,740.9L1886.8,733.2L1887,753.1L1887.3,766.2L1887.5,735.8L1887.8,743.4L1888,758.8L1888.3,719.4L1888.6,759.4L1888.8,750.5L1889.1,763.7L1889.3,762.4L1889.6,747.7L1889.8,731.4L1890.1,756.1L1890.3,757.4L1890.6,760.7L1890.8,764L1891.1,772.3L1891.3,748.9L1891.6,763.7L1891.9,737L1892.1,733.6L1892.4,743.2L1892.6,735.8L1892.9,758.7L1893.1,758.1L1893.4,748.5L1893.6,724.4L1893.9,768.2L1894.1,738L1894.4,752.5L1894.6,726.3L1894.9,738.7L1895.1,745.8L1895.4,730.5L1895.7,733.4L1895.9,748.2L1896.2,758.2L1896.4,760.8L1896.7,747.2L1896.9,728.6L1897.2,772.3L1897.4,748.8L1897.7,743.7L1897.9,749.5L1898.2,742.6L1898.4,759.1L1898.7,766L1899,742.2L1899.2,749.9L1899.5,743.1L1899.7,759.8L1900,754.4L1900.2,730.8L1900.5,746.2L1900.7,753.5L1901,762.3L1901.2,743.4L1901.5,728.1L1901.7,743.2L1902,759.3L1902.3,745.5L1902.5,757.8L1902.8,748.4L1903,728.9L1903.3,732.4L1903.5,742.4L1903.8,715.9L1904,747.1L1904.3,757.8L1904.5,741.7L1904.8,765.3L1905,772.7L1905.3,717.9L1905.5,750.1L1905.8,753.7L1906.1,742.7L1906.3,741.3L1906.6,738.3L1906.8,759.3L1907.1,754.9L1907.3,735.8L1907.6,742.5L1907.8,761.7L1908.1,744.8L1908.3,766.3L1908.6,735.9L1908.8,728.6L1909.1,720.2L1909.4,768.9L1909.6,754.4L1909.9,764.5L1910.1,738L1910.4,768.7L1910.6,781.3L1910.9,739.8L1911.1,749.6L1911.4,756.1L1911.6,765.2L1911.9,788.5L1912.1,728.4L1912.4,745.1L1912.7,715.9L1912.9,741.3L1913.2,762.6L1913.4,760.1L1913.7,752.1L1913.9,755.4L1914.2,734.2L1914.4,736.7L1914.7,764.6L1914.9,759.1L1915.2,756.9L1915.4,748.8L1915.7,750.2L1916,756.3L1916.2,729.5L1916.5,717.4L1916.7,743.3L1917,749.8L1917.2,756.1L1917.5,768.3L1917.7,742.1L1918,764.5L1918.2,759.9L1918.5,742.8L1918.7,734.2L1919,707.4L1919.2,741.7L1919.5,760.5L1919.8,733.2L1920,743.4L1920.3,748L1920.5,759.1L1920.8,737.4L1921,733.6L1921.3,775.2L1921.5,751.5L1921.8,746L1922,741.5L1922.3,758.3L1922.5,738.6L1922.8,754.9L1923.1,741.3L1923.3,759.3L1923.6,739.9L1923.8,758.6L1924.1,749.9L1924.3,739.1L1924.6,760.7L1924.8,742.9L1925.1,738.9L1925.3,771.3L1925.6,749.6L1925.8,747.1L1926.1,742.1L1926.4,762.9L1926.6,748.9L1926.9,741.5L1927.1,746.6L1927.4,741.7L1927.6,747.7L1927.9,731.2L1928.1,741.2L1928.4,743.8L1928.6,740.9L1928.9,760.8L1929.1,750.2L1929.4,742.3L1929.6,730.5L1929.9,755.6L1930.2,773.5L1930.4,754.4L1930.7,749.8L1930.9,742.4L1931.2,786.9L1931.4,742.1L1931.7,755.8L1931.9,753.5L1932.2,756.7L1932.4,772L1932.7,795.8L1932.9,769.9L1933.2,759.7L1933.5,768L1933.7,732.7L1934,743L1934.2,785.2L1934.5,730.7L1934.7,761L1935,754L1935.2,754.5L1935.5,756.7L1935.7,774.3L1936,745.7L1936.2,740.8L1936.5,763.5L1936.8,722.8L1937,739L1937.3,738.6L1937.5,722.9L1937.8,740.6L1938,736.4L1938.3,772.3L1938.5,721.6L1938.8,733L1939,753.7L1939.3,770.1L1939.5,763.3L1939.8,753.9L1940.1,760L1940.3,766.7L1940.6,753.5L1940.8,736.3L1941.1,734.3L1941.3,766.5L1941.6,740.8L1941.8,751.2L1942.1,754.6L1942.3,724.5L1942.6,771.8L1942.8,743.2L1943.1,775.7L1943.3,755.1L1943.6,743L1943.9,731.1L1944.1,729L1944.4,771L1944.6,730.8L1944.9,732.2L1945.1,741L1945.4,748.3L1945.6,749.3L1945.9,753.4L1946.1,755L1946.4,759.2L1946.6,744.7L1946.9,747.6L1947.2,741.7L1947.4,765.5L1947.7,752.3L1947.9,770.8L1948.2,719.4L1948.4,748.1L1948.7,753.2L1948.9,730.8L1949.2,749.2L1949.4,737.6L1949.7,755.4L1949.9,767.2L1950.2,742L1950.5,776.7L1950.7,752.8L1951,760L1951.2,753.1L1951.5,749.2L1951.7,752.7L1952,749.5L1952.2,757L1952.5,757.5L1952.7,763.1L1953,736.9L1953.2,749L1953.5,732.3L1953.7,739.7L1954,746.4L1954.3,757.7L1954.5,754.7L1954.8,742.9L1955,753.3L1955.3,744.1L1955.5,749.8L1955.8,719L1956,732.1L1956.3,767.1L1956.5,750.3L1956.8,749L1957,770.6L1957.3,771.6L1957.6,771.9L1957.8,732.7L1958.1,750.2L1958.3,745.4L1958.6,740.1L1958.8,785.1L1959.1,750.3L1959.3,721.5L1959.6,745.1L1959.8,738.3L1960.1,757.6L1960.3,737.6L1960.6,750.6L1960.9,744.1L1961.1,752.4L1961.4,766.8L1961.6,773.1L1961.9,758L1962.1,759.3L1962.4,743.4L1962.6,745.6L1962.9,806.2L1963.1,745.4L1963.4,745.9L1963.6,751.4L1963.9,760.2L1964.2,764.3L1964.4,732.8L1964.7,758.5L1964.9,740.6L1965.2,737L1965.4,750.2L1965.7,777.6L1965.9,762.5L1966.2,767.8L1966.4,784.2L1966.7,755L1966.9,743.8L1967.2,736L1967.4,773.5L1967.7,750.2L1968,760.6L1968.2,754L1968.5,737.4L1968.7,773.6L1969,763.2L1969.2,778.2L1969.5,751.2L1969.7,775.8L1970,754.7L1970.2,753.8L1970.5,762.8L1970.7,758.9L1971,725.7L1971.3,754.1L1971.5,792.6L1971.8,740.8L1972,757.8L1972.3,768.9L1972.5,776.9L1972.8,737.7L1973,756.4L1973.3,750.1L1973.5,755.1L1973.8,740.2L1974,753.9L1974.3,747.6L1974.6,761.1L1974.8,754.1L1975.1,741.6L1975.3,754.4L1975.6,734.3L1975.8,768.3L1976.1,756.1L1976.3,750.8L1976.6,759.6L1976.8,758.9L1977.1,727.6L1977.3,759.9L1977.6,766.9L1977.8,772.1L1978.1,737.1L1978.4,748.8L1978.6,771L1978.9,741.7L1979.1,744L1979.4,767.9L1979.6,746.8L1979.9,779.7L1980.1,749.7L1980.4,739.2L1980.6,755L1980.9,762.2L1981.1,772.7L1981.4,743.9L1981.7,736.4L1981.9,772.5L1982.2,762.2L1982.4,763.2L1982.7,761.7L1982.9,746.3L1983.2,739.3L1983.4,762.7L1983.7,769.3L1983.9,744.7L1984.2,773.6L1984.4,780.8L1984.7,757.5L1985,741.3L1985.2,738.2L1985.5,768.3L1985.7,760.2L1986,749.8L1986.2,780.7L1986.5,738.6L1986.7,765.1L1987,763.7L1987.2,738.1L1987.5,740.5L1987.7,733.7L1988,758.9L1988.3,748.9L1988.5,778.2L1988.8,761.4L1989,758.5L1989.3,744.5L1989.5,764.8L1989.8,758.4L1990,761.6L1990.3,763.6L1990.5,776L1990.8,756.7L1991,747L1991.3,753L1991.5,770.4L1991.8,753.2L1992.1,755L1992.3,745.3L1992.6,757.8L1992.8,732.5L1993.1,772.9L1993.3,754.2L1993.6,771L1993.8,745L1994.1,771L1994.3,769.7L1994.6,744.9L1994.8,799.5L1995.1,774.4L1995.4,775.4L1995.6,774L1995.9,774.7L1996.1,739.8L1996.4,745.8L1996.6,761L1996.9,764.5L1997.1,745.2L1997.4,760.5L1997.6,754.3L1997.9,743.1L1998.1,764.5L1998.4,731.7L1998.7,749L1998.9,761.2L1999.2,756.9L1999.4,779.8L1999.7,754.2L1999.9,763.2L2000.2,749.4L2000.4,785.1L2000.7,753.6L2000.9,737.6L2001.2,782.8L2001.4,764.6L2001.7,750L2001.9,758.7L2002.2,754.6L2002.5,749.8L2002.7,746.5L2003,737.6L2003.2,774.2L2003.5,770.4L2003.7,741.2L2004,755.8L2004.2,749.1L2004.5,757.8L2004.7,759.1L2005,740.5L2005.2,741.5L2005.5,747.7L2005.8,754.9L2006,727.7L2006.3,758.4L2006.5,773.6L2006.8,768.9L2007,762L2007.3,748.4L2007.5,739.6L2007.8,779.2L2008,759.4L2008.3,766.6L2008.5,759.1L2008.8,759.4L2009.1,765L2009.3,763.4L2009.6,738L2009.8,742.9L2010.1,774L2010.3,748L2010.6,757.8L2010.8,765.4L2011.1,760.5L2011.3,753.2L2011.6,748.4L2011.8,762.3L2012.1,747.2L2012.3,728.9L2012.6,747.6L2012.9,735.9L2013.1,737L2013.4,748.1L2013.6,756.6L2013.9,756.8L2014.1,751.7L2014.4,761.6L2014.6,740.2L2014.9,748.5L2015.1,756.9L2015.4,733.6L2015.6,763.5L2015.9,736L2016.2,754.1L2016.4,757.2L2016.7,765.5L2016.9,747.1L2017.2,769.3L2017.4,729.8L2017.7,756.4L2017.9,741.9L2018.2,765.9L2018.4,770.9L2018.7,736.5L2018.9,729.7L2019.2,735.1L2019.5,743.9L2019.7,714.6L2020,765.4L2020.2,767.7L2020.5,726.7L2020.7,743.1L2021,761.4L2021.2,737.6L2021.5,764.3L2021.7,779.8L2022,735.9L2022.2,747.8L2022.5,768.6L2022.8,776.9L2023,735.3L2023.3,743.2L2023.5,731L2023.8,771.9L2024,734.3L2024.3,752.1L2024.5,760.7L2024.8,750.3L2025,749.8L2025.3,787L2025.5,763.8L2025.8,757.7L2026,740.8L2026.3,748.9L2026.6,760.9L2026.8,746L2027.1,757.5L2027.3,725.7L2027.6,755.6L2027.8,735.7L2028.1,741.4L2028.3,747.2L2028.6,730.7L2028.8,753.3L2029.1,733.9L2029.3,758.4L2029.6,787.3L2029.9,753.7L2030.1,756.4L2030.4,750.1L2030.6,779.8L2030.9,752.2L2031.1,762.5L2031.4,763L2031.6,766.7L2031.9,763.1L2032.1,752.9L2032.4,751.5L2032.6,756.3L2032.9,757.7L2033.2,748.5L2033.4,773.3L2033.7,752.7L2033.9,730.4L2034.2,757.7L2034.4,758.5L2034.7,769.8L2034.9,769.5L2035.2,750.9L2035.4,754.5L2035.7,756.7L2035.9,756.1L2036.2,761.4L2036.4,745.8L2036.7,733.7L2037,746.2L2037.2,776.4L2037.5,780L2037.7,749.4L2038,725L2038.2,763.7L2038.5,762.8L2038.7,742.5L2039,739.3L2039.2,722.6L2039.5,766.7L2039.7,760.7L2040,738.7L2040.3,725.3L2040.5,778.1L2040.8,749.5L2041,720L2041.3,764L2041.5,752.2L2041.8,774.2L2042,759.6L2042.3,778.4L2042.5,764.1L2042.8,752.4L2043,741.1L2043.3,751.9L2043.6,767.2L2043.8,778.1L2044.1,722.9L2044.3,753L2044.6,750.3L2044.8,727.3L2045.1,772.3L2045.3,752.4L2045.6,794.2L2045.8,743.9L2046.1,723.2L2046.3,765.9L2046.6,737.6L2046.9,744.3L2047.1,765L2047.4,765.1L2047.6,754.1L2047.9,784.7L2048.1,751.6L2048.4,739.2L2048.6,733.5L2048.9,769.2L2049.1,759.2L2049.4,736L2049.6,721.9L2049.9,759L2050.1,765.2L2050.4,766.7L2050.7,743.6L2050.9,770.5L2051.2,737L2051.4,763.4L2051.7,734.4L2051.9,731.3L2052.2,755.5L2052.4,747L2052.7,741.4L2052.9,764.3L2053.2,767.8L2053.4,745.7L2053.7,775.4L2054,754.2L2054.2,744L2054.5,751.8L2054.7,751.6L2055,747L2055.2,756.1L2055.5,756.8L2055.7,763.7L2056,751L2056.2,748.3L2056.5,762.7L2056.7,760.1L2057,726.7L2057.3,765.4L2057.5,748L2057.8,767L2058,761.8L2058.3,769.6L2058.5,753.8L2058.8,778.9L2059,780.9L2059.3,722.4L2059.5,736.9L2059.8,746.3L2060,756.3L2060.3,731L2060.5,754.5L2060.8,748L2061.1,744L2061.3,769.7L2061.6,731.4L2061.8,762.6L2062.1,757.6L2062.3,764L2062.6,766.8L2062.8,743.4L2063.1,735.9L2063.3,747L2063.6,712.9L2063.8,746.4L2064.1,743.1L2064.4,735.9L2064.6,767.4L2064.9,749.6L2065.1,737.3L2065.4,777L2065.6,742L2065.9,757.8L2066.1,779.3L2066.4,743L2066.6,762.4L2066.9,729.6L2067.1,732.8L2067.4,763.4L2067.7,752.9L2067.9,763.8L2068.2,776.1L2068.4,745L2068.7,744.6L2068.9,736.7L2069.2,753.8L2069.4,762.8L2069.7,759.7L2069.9,786.1L2070.2,760.4L2070.4,756.1L2070.7,734.6L2071,732.9L2071.2,755.9L2071.5,759.7L2071.7,756.6L2072,750.8L2072.2,742.6L2072.5,752.8L2072.7,759.8L2073,769L2073.2,740.7L2073.5,738.2L2073.7,771.7L2074,732.3L2074.2,759.8L2074.5,762L2074.8,774.9L2075,772.1L2075.3,745.5L2075.5,755.6L2075.8,770.4L2076,762.6L2076.3,769.3L2076.5,726.8L2076.8,752.4L2077,767.6L2077.3,774.2L2077.5,747.3L2077.8,750.4L2078.1,757L2078.3,725.2L2078.6,745.6L2078.8,755.2L2079.1,756L2079.3,773.4L2079.6,774.8L2079.8,749L2080.1,763.4L2080.3,777.8L2080.6,745.5L2080.8,747.7L2081.1,749.3L2081.4,734.2L2081.6,770.4L2081.9,761.9L2082.1,745.1L2082.4,751L2082.6,782.2L2082.9,760.9L2083.1,751.7L2083.4,759.5L2083.6,753.2L2083.9,761.5L2084.1,753.2L2084.4,735.6L2084.6,728.9L2084.9,758.4L2085.2,768.8L2085.4,774.1L2085.7,768.9L2085.9,770.6L2086.2,725.9L2086.4,778.7L2086.7,755.4L2086.9,757L2087.2,757.1L2087.4,761.5L2087.7,767L2087.9,738.3L2088.2,746.7L2088.5,735.8L2088.7,767.9L2089,740.9L2089.2,748.4L2089.5,739.3L2089.7,776.3L2090,760.6L2090.2,775.8L2090.5,763.4L2090.7,754.3L2091,760L2091.2,768.2L2091.5,731.2L2091.8,752.9L2092,724L2092.3,755.1L2092.5,773.3L2092.8,739.2L2093,752.8L2093.3,736L2093.5,727.5L2093.8,744.8L2094,765.1L2094.3,736L2094.5,739.7L2094.8,754.4L2095.1,767.4L2095.3,739.8L2095.6,748L2095.8,748.5L2096.1,778.9L2096.3,751.6L2096.6,733.5L2096.8,760.9L2097.1,765.5L2097.3,732.6L2097.6,766L2097.8,772.5L2098.1,748.2L2098.3,762.8L2098.6,719.9L2098.9,744.1L2099.1,752.9L2099.4,781.5L2099.6,750.3L2099.9,747.6L2100.1,732.1L2100.4,754.6L2100.6,749.8L2100.9,755.1L2101.1,751.5L2101.4,742.6L2101.6,742.3L2101.9,763.2L2102.2,751L2102.4,727.9L2102.7,753.4L2102.9,767.6L2103.2,763.6L2103.4,777.6L2103.7,782.3L2103.9,743.9L2104.2,742.3L2104.4,756.2L2104.7,756.3L2104.9,776.8L2105.2,758.8L2105.5,750.5L2105.7,750.4L2106,764L2106.2,738.5L2106.5,738.8L2106.7,742.9L2107,735.2L2107.2,754.4L2107.5,751.6L2107.7,749.6L2108,753.4L2108.2,736L2108.5,746.1L2108.7,775.7L2109,772.7L2109.3,749.9L2109.5,763.6L2109.8,749.3L2110,740.7L2110.3,727L2110.5,749.9L2110.8,746.3L2111,743.9L2111.3,749.9L2111.5,785L2111.8,784.6L2112,748.1L2112.3,765.8L2112.6,760.9L2112.8,749L2113.1,739.6L2113.3,750.3L2113.6,770.2L2113.8,759.3L2114.1,751L2114.3,772L2114.6,755.9L2114.8,753.5L2115.1,742.9L2115.3,734.5L2115.6,757.7L2115.9,744.8L2116.1,753.9L2116.4,729.1L2116.6,765.4L2116.9,787.3L2117.1,748.6L2117.4,753.4L2117.6,755.1L2117.9,753.8L2118.1,777.5L2118.4,751L2118.6,747.8L2118.9,766.7L2119.1,760.3L2119.4,755.7L2119.7,743.8L2119.9,754.4L2120.2,756.3L2120.4,749.2L2120.7,744.2L2120.9,734.7L2121.2,738.5L2121.4,755.4L2121.7,742.9L2121.9,756.4L2122.2,754.3L2122.4,764.2L2122.7,732.6L2123,739.7L2123.2,752.4L2123.5,764.1L2123.7,781.7L2124,773.8L2124.2,765.2L2124.5,730.9L2124.7,762.2L2125,767.2L2125.2,748L2125.5,740.6L2125.7,765.7L2126,754.8L2126.3,750.2L2126.5,769.7L2126.8,753.9L2127,773.3L2127.3,758.9L2127.5,748.9L2127.8,765.3L2128,784.5L2128.3,774L2128.5,736.5L2128.8,746.2L2129,757.2L2129.3,763.3L2129.6,762L2129.8,755.4L2130.1,719.9L2130.3,723.5L2130.6,759.4L2130.8,766.8L2131.1,752.9L2131.3,732.6L2131.6,770.7L2131.8,735.1L2132.1,738.4L2132.3,768.7L2132.6,755.5L2132.8,768L2133.1,762.8L2133.4,744.6L2133.6,769.2L2133.9,743.4L2134.1,766.1L2134.4,774.2L2134.6,739.8L2134.9,749.4L2135.1,753.5L2135.4,776.6L2135.6,750.2L2135.9,769.5L2136.1,756.9L2136.4,757.1L2136.7,751.3L2136.9,726L2137.2,753.6L2137.4,757.5L2137.7,729.7L2137.9,778.1L2138.2,774L2138.4,756.8L2138.7,729.3L2138.9,755L2139.2,777.4L2139.4,765.3L2139.7,758.8L2140,750L2140.2,760L2140.5,752.1L2140.7,774.6L2141,771.7L2141.2,756.6L2141.5,730.5L2141.7,774.1L2142,753.8L2142.2,746.1L2142.5,765.3L2142.7,735.4L2143,749.6L2143.2,748.8L2143.5,768.2L2143.8,743.2L2144,766.5L2144.3,750.1L2144.5,752L2144.8,737.8L2145,764.7L2145.3,760.3L2145.5,768.3L2145.8,761.3L2146,740.4L2146.3,747.1L2146.5,746.4L2146.8,726.7L2147.1,775.1L2147.3,763.6L2147.6,742.7L2147.8,754.7L2148.1,741.7L2148.3,737.4L2148.6,733L2148.8,756.9L2149.1,746.3L2149.3,762.3L2149.6,744L2149.8,757.6L2150.1,741.9L2150.4,756.8L2150.6,756.2L2150.9,756.8L2151.1,747.3L2151.4,770.2L2151.6,742.7L2151.9,767.3L2152.1,768.2L2152.4,752L2152.6,755.4L2152.9,750.6L2153.1,771.4L2153.4,788.9L2153.7,753.1L2153.9,756.8L2154.2,762.3L2154.4,762.7L2154.7,764.6L2154.9,737.6L2155.2,761L2155.4,742.4L2155.7,778.8L2155.9,727L2156.2,751.6L2156.4,750.4L2156.7,750.8L2156.9,719.1L2157.2,736.7L2157.5,755L2157.7,766.3L2158,747L2158.2,734.4L2158.5,749.6L2158.7,787.8L2159,741.4L2159.2,739.6L2159.5,755.1L2159.7,746.5L2160,749.3L2160.2,754.4L2160.5,769.2L2160.8,747.6L2161,743.9L2161.3,759.3L2161.5,785L2161.8,771L2162,751.9L2162.3,736.1L2162.5,752L2162.8,747.7L2163,736.4L2163.3,731.6L2163.5,769.7L2163.8,763L2164.1,750L2164.3,752.8L2164.6,769.2L2164.8,753.4L2165.1,755.5L2165.3,767.2L2165.6,746.7L2165.8,746.8L2166.1,735L2166.3,721.2L2166.6,729.9L2166.8,768.5L2167.1,725.2L2167.3,758.4L2167.6,770.3L2167.9,759.8L2168.1,773.5L2168.4,765.1L2168.6,759.1L2168.9,768.1L2169.1,750.6L2169.4,763.2L2169.6,759.4L2169.9,748.1L2170.1,747.6L2170.4,768.2L2170.6,743.2L2170.9,744.7L2171.2,751.6L2171.4,753.3L2171.7,771.3L2171.9,751.9L2172.2,760.3L2172.4,766.7L2172.7,766.6L2172.9,748.7L2173.2,763L2173.4,734.3L2173.7,760L2173.9,749.6L2174.2,760.2L2174.5,758.7L2174.7,743.1L2175,738.9L2175.2,753.1L2175.5,735.1L2175.7,769.3L2176,780.3L2176.2,766.3L2176.5,725.9L2176.7,777.5L2177,741.7L2177.2,734.5L2177.5,738.6L2177.8,751.3L2178,763L2178.3,736.6L2178.5,745.4L2178.8,752.4L2179,776.8L2179.3,750.7L2179.5,746.3L2179.8,752.7L2180,773.5L2180.3,746.9L2180.5,761L2180.8,749L2181,745L2181.3,731.6L2181.6,742.3L2181.8,761.2L2182.1,731.1L2182.3,755.8L2182.6,741.8L2182.8,786.4L2183.1,751.9L2183.3,731.6L2183.6,780.6L2183.8,740.3L2184.1,752.1L2184.3,771.1L2184.6,738.7L2184.9,742.4L2185.1,759L2185.4,746.6L2185.6,759.4L2185.9,727.7L2186.1,753.6L2186.4,725.6L2186.6,740.9L2186.9,738.3L2187.1,758L2187.4,772.5L2187.6,789.4L2187.9,763.2L2188.2,778.2L2188.4,743.3L2188.7,778.3L2188.9,741.1L2189.2,766.8L2189.4,749.4L2189.7,736.9L2189.9,774L2190.2,748.6L2190.4,753L2190.7,741.7L2190.9,777.4L2191.2,756.1L2191.4,766.2L2191.7,744.3L2192,746.6L2192.2,752.5L2192.5,752.7L2192.7,771.4L2193,754.6L2193.2,748.3L2193.5,746.4L2193.7,754.1L2194,770.2L2194.2,746.8L2194.5,759L2194.7,755.7L2195,751.1L2195.3,762.1L2195.5,771.1L2195.8,745.7L2196,761.6L2196.3,762.7L2196.5,754.4L2196.8,746.4L2197,725.3L2197.3,758.6L2197.5,749.6L2197.8,765.2L2198,770.8L2198.3,748.6L2198.6,776.5L2198.8,753.4L2199.1,751.2L2199.3,732.5L2199.6,764.5L2199.8,762.2L2200.1,759L2200.3,775.9L2200.6,795.4L2200.8,786.9L2201.1,753.3L2201.3,782.5L2201.6,730.5L2201.8,765.5L2202.1,755.9L2202.4,728.3L2202.6,750.4L2202.9,767.9L2203.1,734.6L2203.4,747.7L2203.6,749.8L2203.9,764.4L2204.1,733.7L2204.4,777.5L2204.6,733.9L2204.9,762.5L2205.1,746.6L2205.4,766.7L2205.7,750L2205.9,777.2L2206.2,745.5L2206.4,741.1L2206.7,749.5L2206.9,757L2207.2,751L2207.4,764.8L2207.7,732.3L2207.9,735.3L2208.2,742.2L2208.4,767.3L2208.7,747.9L2209,763.1L2209.2,755.2L2209.5,736.5L2209.7,757.9L2210,753.6L2210.2,746.6L2210.5,740L2210.7,739.2L2211,760.2L2211.2,773.5L2211.5,768.3L2211.7,742L2212,711.4L2212.3,756.9L2212.5,737.8L2212.8,744.6L2213,736.4L2213.3,732.7L2213.5,755.1L2213.8,753.7L2214,773L2214.3,759.7L2214.5,741.4L2214.8,745.2L2215,763.7L2215.3,762.1L2215.5,763.1L2215.8,751.4L2216.1,729.4L2216.3,753.3L2216.6,740.9L2216.8,727.9L2217.1,743.3L2217.3,777.4L2217.6,752.7L2217.8,792.1L2218.1,761L2218.3,782L2218.6,766.7L2218.8,756.3L2219.1,755.7L2219.4,721L2219.6,738L2219.9,757.3L2220.1,746.9L2220.4,769.9L2220.6,743.2L2220.9,748.1L2221.1,730.4L2221.4,753L2221.6,739.7L2221.9,771.8L2222.1,748.7L2222.4,754.1L2222.7,747L2222.9,744.4L2223.2,752L2223.4,734L2223.7,766.1L2223.9,736.7L2224.2,738.7L2224.4,774L2224.7,731.4L2224.9,753.1L2225.2,760.8L2225.4,747.3L2225.7,753.7L2225.9,749.9L2226.2,755.9L2226.5,762.5L2226.7,753.5L2227,770.5L2227.2,782.6L2227.5,748.4L2227.7,750.1L2228,762.4L2228.2,739.5L2228.5,777.6L2228.7,763.8L2229,739.6L2229.2,754.3L2229.5,746.2L2229.8,739.2L2230,755.6L2230.3,746L2230.5,753.6L2230.8,766.5L2231,751.9L2231.3,778.8L2231.5,743.5L2231.8,758.6L2232,765.6L2232.3,775L2232.5,740.9L2232.8,766.7L2233.1,749.8L2233.3,751.5L2233.6,769.3L2233.8,749.9L2234.1,782.1L2234.3,751.2L2234.6,769.9L2234.8,768.1L2235.1,747.1L2235.3,745.6L2235.6,751.6L2235.8,733.6L2236.1,764.1L2236.4,765.1L2236.6,770.9L2236.9,766.9L2237.1,760.9L2237.4,753.8L2237.6,755.3L2237.9,739.9L2238.1,744.9L2238.4,724.8L2238.6,746.6L2238.9,749.4L2239.1,754L2239.4,765.9L2239.6,738.4L2239.9,731.3L2240.2,753.9L2240.4,776L2240.7,753.1L2240.9,744.5L2241.2,749.8L2241.4,728.6L2241.7,748.6L2241.9,786.6L2242.2,729.3L2242.4,774.2L2242.7,740L2242.9,748.3L2243.2,779.8L2243.5,755.2L2243.7,751.8L2244,742.9L2244.2,746.1L2244.5,762.8L2244.7,754.6L2245,770.7L2245.2,753.2L2245.5,751.2L2245.7,762.6L2246,763.5L2246.2,763.9L2246.5,753L2246.8,762.7L2247,751.7L2247.3,753.5L2247.5,778L2247.8,760.4L2248,739.7L2248.3,751.9L2248.5,766L2248.8,756.4L2249,740.8L2249.3,766.5L2249.5,760.9L2249.8,752.4L2250,756.4L2250.3,755.8L2250.6,772.6L2250.8,760L2251.1,740.7L2251.3,752.8L2251.6,734.1L2251.8,781.6L2252.1,790L2252.3,773.3L2252.6,745.9L2252.8,760L2253.1,765.3L2253.3,740.4L2253.6,757.3L2253.9,747L2254.1,755.7L2254.4,770.9L2254.6,760L2254.9,779L2255.1,762.7L2255.4,749.3L2255.6,767.1L2255.9,763.5L2256.1,768.5L2256.4,760L2256.6,748.7L2256.9,776.2L2257.2,760L2257.4,766.9L2257.7,770.4L2257.9,729.2L2258.2,754.5L2258.4,763.8L2258.7,752.5L2258.9,744.3L2259.2,762.6L2259.4,774.8L2259.7,739.8L2259.9,754.3L2260.2,742.4L2260.5,786.1L2260.7,754L2261,766.7L2261.2,737.3L2261.5,760.8L2261.7,766.7L2262,738.7L2262.2,746.7L2262.5,741L2262.7,727.1L2263,765.4L2263.2,734.6L2263.5,750.7L2263.7,746.7L2264,782.5L2264.3,742.9L2264.5,758.5L2264.8,755.7L2265,734.7L2265.3,769.6L2265.5,748.1L2265.8,756.8L2266,751.7L2266.3,756.4L2266.5,756L2266.8,750L2267,729.9L2267.3,755.9L2267.6,772.4L2267.8,771.5L2268.1,770.6L2268.3,780.8L2268.6,768.9L2268.8,773.7L2269.1,729.6L2269.3,752L2269.6,741.9L2269.8,745.9L2270.1,732L2270.3,729.9L2270.6,775L2270.9,748.5L2271.1,755.5L2271.4,743.7L2271.6,746.2L2271.9,764.4L2272.1,758.1L2272.4,792.3L2272.6,756.6L2272.9,758.9L2273.1,754.5L2273.4,743.2L2273.6,756.7L2273.9,745.9L2274.1,773.5L2274.4,749.7L2274.7,759.2L2274.9,757.4L2275.2,747L2275.4,747.6L2275.7,766.2L2275.9,748.3L2276.2,754.8L2276.4,748.2L2276.7,724.3L2276.9,764L2277.2,754.5L2277.4,753.3L2277.7,739.3L2278,762.2L2278.2,755.7L2278.5,734.8L2278.7,770.3L2279,749.3L2279.2,744L2279.5,752.2L2279.7,757.1L2280,760.5L2280.2,755.4L2280.5,747.7L2280.7,742.9L2281,746.9L2281.3,767.7L2281.5,736L2281.8,765.6L2282,738.4L2282.3,758.8L2282.5,754.1L2282.8,753.1L2283,764.7L2283.3,761.9L2283.5,734.3L2283.8,739L2284,743L2284.3,741.7L2284.6,762.5L2284.8,760.6L2285.1,760.3L2285.3,767.6L2285.6,723.6L2285.8,752.6L2286.1,744L2286.3,751L2286.6,728.7L2286.8,757.5L2287.1,762.1L2287.3,771.1L2287.6,737.8L2287.8,756.7L2288.1,754.7L2288.4,744.4L2288.6,780.5L2288.9,753.7L2289.1,757L2289.4,756.5L2289.6,746.8L2289.9,744.8L2290.1,766.7L2290.4,768.7L2290.6,726.9L2290.9,746.5L2291.1,754.5L2291.4,751.7L2291.7,776.9L2291.9,779.2L2292.2,744.6L2292.4,762.2L2292.7,754.6L2292.9,770.6L2293.2,774.6L2293.4,749.6L2293.7,784.8L2293.9,734.9L2294.2,776.3L2294.4,760.7L2294.7,727.2L2295,752.8L2295.2,734.3L2295.5,760.4L2295.7,757.4L2296,760.7L2296.2,736.6L2296.5,731.3L2296.7,777.7L2297,794.1L2297.2,769L2297.5,773.7L2297.7,736.5L2298,745.4L2298.2,746.5L2298.5,735.7L2298.8,744L2299,726.6L2299.3,742.1L2299.5,771.6L2299.8,771.5L2300,745.6L2300.3,755.3L2300.5,755.9L2300.8,730.4L2301,744.1L2301.3,739.7L2301.5,766.3L2301.8,725.2L2302.1,757.3L2302.3,743.3L2302.6,746.2L2302.8,790.7L2303.1,741.6L2303.3,770.6L2303.6,735L2303.8,748.2L2304.1,765.8L2304.3,745L2304.6,753.5L2304.8,740.8L2305.1,744.3L2305.4,754.7L2305.6,765.2L2305.9,743.1L2306.1,766.2L2306.4,763L2306.6,760.2L2306.9,767.4L2307.1,748.1L2307.4,761.1L2307.6,751.4L2307.9,740.6L2308.1,760.7L2308.4,765.1L2308.6,759.4L2308.9,772L2309.2,740.4L2309.4,762.2L2309.7,755.3L2309.9,763.9L2310.2,796L2310.4,774.6L2310.7,790.5L2310.9,735.5L2311.2,762.9L2311.4,746.6L2311.7,765.5L2311.9,759.2L2312.2,761.2L2312.5,767.1L2312.7,753.3L2313,743.4L2313.2,738.1L2313.5,757.1L2313.7,786.2L2314,771.7L2314.2,745.6L2314.5,769.9L2314.7,753.8L2315,764.1L2315.2,736.2L2315.5,796.7L2315.8,764.5L2316,744.5L2316.3,783.5L2316.5,761.6L2316.8,763.9L2317,747.3L2317.3,740.3L2317.5,737.2L2317.8,736.5L2318,761.6L2318.3,727.5L2318.5,743L2318.8,756L2319.1,776.4L2319.3,748.6L2319.6,740.1L2319.8,749.5L2320.1,766.1L2320.3,775.6L2320.6,745.8L2320.8,737.8L2321.1,736.2L2321.3,758.9L2321.6,746.7L2321.8,742.6L2322.1,768.9L2322.3,764.1L2322.6,752.6L2322.9,735.9L2323.1,752L2323.4,762.8L2323.6,767.7L2323.9,761.9L2324.1,751.1L2324.4,737.4L2324.6,755.5L2324.9,740.5L2325.1,754.6L2325.4,763L2325.6,761.8L2325.9,749.9L2326.2,749.9L2326.4,751.9L2326.7,725.9L2326.9,779.2L2327.2,760.1L2327.4,770L2327.7,762.4L2327.9,755.6L2328.2,749.9L2328.4,735.5L2328.7,759.9L2328.9,748.6L2329.2,753.3L2329.5,750.5L2329.7,767.6L2330,732.2L2330.2,726.2L2330.5,765.1L2330.7,749.8L2331,760.8L2331.2,735.7L2331.5,755.7L2331.7,745.9L2332,745.3L2332.2,717.4L2332.5,771.9L2332.7,725.2L2333,758.2L2333.3,758L2333.5,731.4L2333.8,739.4L2334,769.4L2334.3,753.4L2334.5,750.5L2334.8,756.1L2335,751.8L2335.3,755.1L2335.5,762.9L2335.8,743.8L2336,749.6L2336.3,740.1L2336.6,750.8L2336.8,741.6L2337.1,735.7L2337.3,760.3L2337.6,768.3L2337.8,734.1L2338.1,730L2338.3,743.9L2338.6,759L2338.8,760.2L2339.1,750.6L2339.3,736.9L2339.6,742.7L2339.9,754.7L2340.1,766.3L2340.4,737.3L2340.6,766L2340.9,752.3L2341.1,784L2341.4,752.7L2341.6,733.1L2341.9,759.1L2342.1,762.9L2342.4,741L2342.6,753L2342.9,747.5L2343.2,748.2L2343.4,764.8L2343.7,744.4L2343.9,741.1L2344.2,718.6L2344.4,764.1L2344.7,762.4L2344.9,747.9L2345.2,757.5L2345.4,754.3L2345.7,738.6L2345.9,756L2346.2,757.2L2346.4,771L2346.7,756.5L2347,746.3L2347.2,755.7L2347.5,768.3L2347.7,758.2L2348,755.7L2348.2,770.1L2348.5,758.1L2348.7,766.2L2349,785.6L2349.2,763.1L2349.5,772.9L2349.7,723L2350,730.9" stroke="#0000ff" stroke-width="2.8"/>
<path d="M1437,835.4L1437.3,890.3L1437.5,877.7L1437.8,896.5L1438,854.4L1438.3,861.4L1438.5,851.5L1438.8,822.1L1439,882.2L1439.3,847.2L1439.5,864.8L1439.8,855.7L1440,833.9L1440.3,870.8L1440.6,869.2L1440.8,828.2L1441.1,879.6L1441.3,855.6L1441.6,833L1441.8,929.5L1442.1,885.1L1442.3,861.5L1442.6,925.8L1442.8,848.4L1443.1,869.7L1443.3,867.9L1443.6,826.5L1443.8,842L1444.1,878.1L1444.4,853.5L1444.6,883.8L1444.9,856.1L1445.1,888.6L1445.4,875.5L1445.6,858.1L1445.9,898.8L1446.1,945.2L1446.4,903.3L1446.6,901.3L1446.9,845.2L1447.1,880.4L1447.4,878.1L1447.7,851.3L1447.9,868.3L1448.2,915.3L1448.4,875.4L1448.7,873.5L1448.9,852L1449.2,872.5L1449.4,896L1449.7,884.9L1449.9,846.6L1450.2,820.1L1450.4,861L1450.7,922.6L1451,837.8L1451.2,872.5L1451.5,847.4L1451.7,863.7L1452,904.9L1452.2,856.6L1452.5,843.6L1452.7,833.9L1453,879.4L1453.2,919.1L1453.5,817L1453.7,868.9L1454,885.9L1454.3,867.2L1454.5,878.6L1454.8,893.8L1455,865.1L1455.3,909.5L1455.5,916.3L1455.8,854.2L1456,890.7L1456.3,826.3L1456.5,851.1L1456.8,920.9L1457,853.3L1457.3,884L1457.5,880.6L1457.8,873.7L1458.1,850L1458.3,860.9L1458.6,893.9L1458.8,891.1L1459.1,833.4L1459.3,897.2L1459.6,911L1459.8,896.5L1460.1,858.3L1460.3,881L1460.6,847.6L1460.8,866.8L1461.1,873.3L1461.4,873.5L1461.6,823L1461.9,833L1462.1,854.3L1462.4,837.7L1462.6,856.3L1462.9,887.1L1463.1,892.4L1463.4,820.8L1463.6,868.6L1463.9,867.3L1464.1,844.6L1464.4,861.9L1464.7,866.1L1464.9,841L1465.2,832.8L1465.4,866L1465.7,874.6L1465.9,900.3L1466.2,860.7L1466.4,890.8L1466.7,919.4L1466.9,877.3L1467.2,877.1L1467.4,886.7L1467.7,916.3L1467.9,860.4L1468.2,848L1468.5,875.2L1468.7,875.7L1469,902.3L1469.2,871.8L1469.5,875.7L1469.7,896.1L1470,827.4L1470.2,883.8L1470.5,899L1470.7,861.3L1471,868.2L1471.2,864.7L1471.5,851.5L1471.8,875.7L1472,896.7L1472.3,865.4L1472.5,890.5L1472.8,814.2L1473,873.6L1473.3,887.6L1473.5,877.9L1473.8,862.1L1474,860.3L1474.3,843.4L1474.5,832.1L1474.8,895.7L1475.1,855.6L1475.3,829.4L1475.6,853.7L1475.8,864.7L1476.1,877.5L1476.3,863.8L1476.6,883.7L1476.8,890L1477.1,863.7L1477.3,866.1L1477.6,884.4L1477.8,881.7L1478.1,833.7L1478.4,951.9L1478.6,884.1L1478.9,844.4L1479.1,855.9L1479.4,863.2L1479.6,888.3L1479.9,871L1480.1,837.2L1480.4,834.3L1480.6,862.2L1480.9,900L1481.1,876L1481.4,874.8L1481.6,863L1481.9,885.2L1482.2,873.6L1482.4,869L1482.7,875.8L1482.9,907.6L1483.2,870.5L1483.4,862L1483.7,826.1L1483.9,939.9L1484.2,871.4L1484.4,902.1L1484.7,875.5L1484.9,879.4L1485.2,855.9L1485.5,877.3L1485.7,836.7L1486,869L1486.2,914.9L1486.5,907.7L1486.7,822.5L1487,841.4L1487.2,933.4L1487.5,889.6L1487.7,866.9L1488,899.7L1488.2,895.2L1488.5,881.8L1488.8,835.6L1489,869.3L1489.3,838L1489.5,895.9L1489.8,895.7L1490,865.6L1490.3,916L1490.5,856.1L1490.8,848.4L1491,871.4L1491.3,829.1L1491.5,874.6L1491.8,841.9L1492,891.3L1492.3,828.4L1492.6,870.2L1492.8,880.6L1493.1,839L1493.3,826.6L1493.6,835.3L1493.8,824.4L1494.1,885.9L1494.3,881.8L1494.6,861.9L1494.8,870.2L1495.1,828.4L1495.3,877.4L1495.6,904.9L1495.9,837.9L1496.1,846.8L1496.4,845.1L1496.6,836.8L1496.9,835.6L1497.1,865L1497.4,922.5L1497.6,843.5L1497.9,848.7L1498.1,865.8L1498.4,889.4L1498.6,884.6L1498.9,891.8L1499.2,840.5L1499.4,900.6L1499.7,870.7L1499.9,840.6L1500.2,910.1L1500.4,842.9L1500.7,868.6L1500.9,857.3L1501.2,911.3L1501.4,827.3L1501.7,852.1L1501.9,894.9L1502.2,910.5L1502.4,868.4L1502.7,870.4L1503,877.9L1503.2,899.8L1503.5,889.1L1503.7,848.1L1504,878.3L1504.2,870.7L1504.5,837.1L1504.7,853.2L1505,877.1L1505.2,852.2L1505.5,875.6L1505.7,838.6L1506,876.6L1506.3,860.1L1506.5,837.8L1506.8,863.1L1507,857L1507.3,844L1507.5,804.9L1507.8,900.8L1508,837.8L1508.3,898.2L1508.5,861.7L1508.8,843.3L1509,813.7L1509.3,852.6L1509.6,828.9L1509.8,872.2L1510.1,825.3L1510.3,837.3L1510.6,883.8L1510.8,866.1L1511.1,847.6L1511.3,831.9L1511.6,912.6L1511.8,879.7L1512.1,876.1L1512.3,903.2L1512.6,879.4L1512.9,851L1513.1,895.4L1513.4,847.4L1513.6,838.2L1513.9,795.6L1514.1,844.4L1514.4,844.2L1514.6,864.2L1514.9,849.6L1515.1,814.9L1515.4,844.7L1515.6,892.3L1515.9,871.2L1516.1,828.7L1516.4,847.4L1516.7,823.5L1516.9,841L1517.2,856.8L1517.4,827.9L1517.7,840.5L1517.9,853.1L1518.2,827.2L1518.4,877.2L1518.7,908L1518.9,839.8L1519.2,834.4L1519.4,816.7L1519.7,883.2L1520,836.7L1520.2,843.6L1520.5,894.9L1520.7,819.6L1521,807.2L1521.2,828.9L1521.5,860.8L1521.7,855L1522,812.1L1522.2,838.5L1522.5,844.2L1522.7,807.5L1523,791.6L1523.3,864.7L1523.5,850.4L1523.8,851.4L1524,862.6L1524.3,819.5L1524.5,815L1524.8,814L1525,805.7L1525.3,850.8L1525.5,831.5L1525.8,836.1L1526,807L1526.3,812.7L1526.5,857.1L1526.8,860.9L1527.1,834.5L1527.3,802.7L1527.6,837.4L1527.8,792.7L1528.1,823.3L1528.3,778.6L1528.6,787.2L1528.8,816.9L1529.1,806.7L1529.3,812.1L1529.6,809.6L1529.8,818.2L1530.1,797.5L1530.4,812.9L1530.6,832.5L1530.9,786.5L1531.1,814.2L1531.4,788.3L1531.6,807.7L1531.9,774L1532.1,780.8L1532.4,767.2L1532.6,762.3L1532.9,801.4L1533.1,784.6L1533.4,745.2L1533.7,766.4L1533.9,745L1534.2,735.5L1534.4,761.8L1534.7,749.8L1534.9,731.2L1535.2,728.1L1535.4,751.9L1535.7,714.6L1535.9,726L1536.2,705.8L1536.4,701.9L1536.7,706.3L1537,688.8L1537.2,696.9L1537.5,683.3L1537.7,683.4L1538,681.4L1538.2,696.1L1538.5,660.1L1538.7,678.4L1539,656.6L1539.2,653.8L1539.5,657L1539.7,641L1540,612.9L1540.2,647.2L1540.5,635L1540.8,626.7L1541,620.1L1541.3,613.2L1541.5,588.3L1541.8,610.5L1542,593.7L1542.3,601.3L1542.5,585.4L1542.8,574.8L1543,574.4L1543.3,565.9L1543.5,564.4L1543.8,555.2L1544.1,549.2L1544.3,531.7L1544.6,535.5L1544.8,527.1L1545.1,524.9L1545.3,510.4L1545.6,510.3L1545.8,511.9L1546.1,504.3L1546.3,493.9L1546.6,497.6L1546.8,477.6L1547.1,479.8L1547.4,460.3L1547.6,455.6L1547.9,456.7L1548.1,442.2L1548.4,441.1L1548.6,436L1548.9,432.1L1549.1,415.5L1549.4,409.1L1549.6,408.9L1549.9,397.5L1550.1,389.3L1550.4,385.9L1550.6,376.1L1550.9,369.1L1551.2,356.1L1551.4,355.4L1551.7,336.7L1551.9,335.5L1552.2,325.9L1552.4,323.8L1552.7,306.5L1552.9,296.9L1553.2,293.1L1553.4,281.2L1553.7,265.1L1553.9,253.9L1554.2,242.4L1554.5,233.4L1554.7,226.3L1555,224.7L1555.2,219.9L1555.5,215.4L1555.7,210.1L1556,207.2L1556.2,205.4L1556.5,198.4L1556.7,198.5L1557,193.9L1557.2,196.5L1557.5,189.5L1557.8,186.9L1558,185.4L1558.3,182.5L1558.5,182.3L1558.8,178.2L1559,177.4L1559.3,175.6L1559.5,174.6L1559.8,170.3L1560,169L1560.3,167.5L1560.5,166.2L1560.8,166.2L1561.1,161.6L1561.3,158.8L1561.6,161.8L1561.8,162.2L1562.1,159.3L1562.3,157.6L1562.6,156.3L1562.8,156.5L1563.1,153.9L1563.3,155L1563.6,153.4L1563.8,155.7L1564.1,153.6L1564.3,156.2L1564.6,153L1564.9,157.3L1565.1,157.4L1565.4,154.2L1565.6,155.3L1565.9,154.4L1566.1,154.5L1566.4,156.7L1566.6,156.9L1566.9,158.4L1567.1,160.3L1567.4,159.8L1567.6,157.9L1567.9,160.5L1568.2,163.6L1568.4,163.2L1568.7,163.6L1568.9,166.1L1569.2,165.8L1569.4,168.3L1569.7,167L1569.9,172.5L1570.2,171.6L1570.4,173.7L1570.7,174.2L1570.9,176.7L1571.2,177.2L1571.5,179.7L1571.7,184.3L1572,182.9L1572.2,184.1L1572.5,191.1L1572.7,191.5L1573,193.4L1573.2,193.6L1573.5,197.5L1573.7,200.3L1574,201.4L1574.2,205.6L1574.5,210.2L1574.7,214.2L1575,220.4L1575.3,215.6L1575.5,224.3L1575.8,226.4L1576,228.9L1576.3,232L1576.5,234.3L1576.8,235.2L1577,241.6L1577.3,246.6L1577.5,250.4L1577.8,250.9L1578,259.2L1578.3,261.3L1578.6,267.9L1578.8,269.2L1579.1,273.5L1579.3,273.9L1579.6,287.3L1579.8,287.5L1580.1,285.7L1580.3,289.6L1580.6,294.5L1580.8,303.6L1581.1,309.2L1581.3,311.1L1581.6,323.2L1581.9,322.8L1582.1,327L1582.4,334.5L1582.6,336.7L1582.9,341L1583.1,341.4L1583.4,354.4L1583.6,352.7L1583.9,359.6L1584.1,364.8L1584.4,361.8L1584.6,372.5L1584.9,382.4L1585.2,377.5L1585.4,377.5L1585.7,386.2L1585.9,385.7L1586.2,395.3L1586.4,391L1586.7,408.4L1586.9,400.9L1587.2,413.6L1587.4,414.3L1587.7,411.3L1587.9,416.9L1588.2,418.7L1588.4,414.8L1588.7,427L1589,428.9L1589.2,429.1L1589.5,432L1589.7,440.2L1590,440.7L1590.2,441.9L1590.5,433.2L1590.7,447.8L1591,446.1L1591.2,455.3L1591.5,447.7L1591.7,454.6L1592,462.2L1592.3,460.4L1592.5,469.5L1592.8,465.6L1593,463.7L1593.3,479.7L1593.5,478.6L1593.8,488.2L1594,472.9L1594.3,483.9L1594.5,492.5L1594.8,493L1595,487.8L1595.3,493.3L1595.6,491.9L1595.8,500.5L1596.1,495.4L1596.3,522.8L1596.6,507.6L1596.8,510.6L1597.1,516.9L1597.3,502.7L1597.6,526L1597.8,532L1598.1,526.9L1598.3,539.4L1598.6,529.6L1598.8,542.3L1599.1,537.2L1599.4,548.1L1599.6,551.1L1599.9,539.2L1600.1,560.5L1600.4,565.3L1600.6,569.4L1600.9,563L1601.1,564L1601.4,574.4L1601.6,583.2L1601.9,575L1602.1,588L1602.4,594L1602.7,602.1L1602.9,598.8L1603.2,592.9L1603.4,613.2L1603.7,621.2L1603.9,599.1L1604.2,630.7L1604.4,643.1L1604.7,613.9L1604.9,622.9L1605.2,643.9L1605.4,655.5L1605.7,641.7L1606,649.5L1606.2,657.1L1606.5,662.6L1606.7,654.2L1607,654.7L1607.2,651.5L1607.5,673.6L1607.7,659.7L1608,674.8L1608.2,663.3L1608.5,671.5L1608.7,676.7L1609,674.8L1609.2,695L1609.5,668L1609.8,683.9L1610,691.6L1610.3,668.3L1610.5,695.5L1610.8,692.2L1611,675.3L1611.3,677L1611.5,678.6L1611.8,688.4L1612,693.7L1612.3,697.5L1612.5,696.5L1612.8,675.1L1613.1,697.2L1613.3,694.4L1613.6,688.6L1613.8,726.5L1614.1,707.9L1614.3,700.2L1614.6,717.3L1614.8,723.5L1615.1,724.3L1615.3,719.2L1615.6,725.9L1615.8,703.7L1616.1,695L1616.4,731.1L1616.6,726.7L1616.9,733.5L1617.1,746.9L1617.4,731.4L1617.6,706.6L1617.9,709.1L1618.1,748.2L1618.4,720.3L1618.6,733.4L1618.9,744.2L1619.1,739.3L1619.4,733.4L1619.7,714.3L1619.9,718.3L1620.2,733L1620.4,716.1L1620.7,712.8L1620.9,734.7L1621.2,767.3L1621.4,733L1621.7,734.5L1621.9,739.1L1622.2,736.2L1622.4,734.8L1622.7,734.7L1622.9,729.1L1623.2,738.3L1623.5,719.2L1623.7,724.1L1624,759L1624.2,734.3L1624.5,730.2L1624.7,736.1L1625,723L1625.2,729.3L1625.5,733.2L1625.7,728.8L1626,754.3L1626.2,716.5L1626.5,743.4L1626.8,715.8L1627,699.8L1627.3,728.7L1627.5,736L1627.8,756.6L1628,744.8L1628.3,730.6L1628.5,727.1L1628.8,722.5L1629,730.6L1629.3,710.9L1629.5,709.7L1629.8,735.6L1630.1,727.9L1630.3,735.8L1630.6,749.6L1630.8,755.4L1631.1,731.4L1631.3,749.7L1631.6,725.2L1631.8,744L1632.1,727.3L1632.3,754.8L1632.6,730.3L1632.8,725.5L1633.1,728L1633.3,742.4L1633.6,758.2L1633.9,726.5L1634.1,752L1634.4,733.1L1634.6,727.5L1634.9,717.8L1635.1,755.6L1635.4,712.3L1635.6,719.1L1635.9,735.4L1636.1,745.7L1636.4,751.6L1636.6,747.3L1636.9,728.2L1637.2,748.8L1637.4,732L1637.7,734.8L1637.9,728.3L1638.2,735.9L1638.4,736.6L1638.7,732.6L1638.9,730.3L1639.2,734L1639.4,746.7L1639.7,728.2L1639.9,734.1L1640.2,744.7L1640.5,725.9L1640.7,748.4L1641,758.3L1641.2,736.5L1641.5,741.9L1641.7,728.3L1642,734.2L1642.2,749.6L1642.5,765.7L1642.7,713.5L1643,728.5L1643.2,747.1L1643.5,705.1L1643.8,759.9L1644,721.6L1644.3,736.7L1644.5,742.2L1644.8,752.7L1645,726.2L1645.3,737.1L1645.5,744.7L1645.8,745.6L1646,744.7L1646.3,738.5L1646.5,755.6L1646.8,725.1L1647,734.1L1647.3,750.6L1647.6,739.4L1647.8,746.7L1648.1,770.6L1648.3,740.1L1648.6,730.6L1648.8,737.1L1649.1,762L1649.3,753.3L1649.6,729.9L1649.8,747L1650.1,768L1650.3,751.3L1650.6,760.8L1650.9,772L1651.1,758.1L1651.4,754.9L1651.6,766.6L1651.9,721.7L1652.1,759.1L1652.4,748.4L1652.6,744.4L1652.9,756.9L1653.1,723.4L1653.4,765.5L1653.6,757.8L1653.9,749.6L1654.2,761.7L1654.4,756.2L1654.7,757.5L1654.9,735.7L1655.2,781.6L1655.4,764.9L1655.7,750.7L1655.9,767.2L1656.2,778.7L1656.4,766.6L1656.7,755.9L1656.9,718.3L1657.2,765.6L1657.4,763.5L1657.7,762.9L1658,776.9L1658.2,731.6L1658.5,743.5L1658.7,712.8L1659,752.2L1659.2,746.7L1659.5,778.7L1659.7,760.2L1660,745.9L1660.2,769.6L1660.5,755.9L1660.7,760.2L1661,760.5L1661.3,767.8L1661.5,756L1661.8,782.1L1662,783.1L1662.3,770L1662.5,773.6L1662.8,759.4L1663,756.3L1663.3,732.9L1663.5,753.3L1663.8,786.6L1664,795.3L1664.3,770L1664.6,760.9L1664.8,747.7L1665.1,761.6L1665.3,751L1665.6,793L1665.8,786.9L1666.1,760.9L1666.3,770.2L1666.6,761.4L1666.8,757.7L1667.1,766.1L1667.3,763.2L1667.6,761L1667.9,762.9L1668.1,788.9L1668.4,757.5L1668.6,758.1L1668.9,795.5L1669.1,758.2L1669.4,763.7L1669.6,798.9L1669.9,750.2L1670.1,778.5L1670.4,760.7L1670.6,834.9L1670.9,805.2L1671.1,768.5L1671.4,787.5L1671.7,803.7L1671.9,791.3L1672.2,790.6L1672.4,778.3L1672.7,779.1L1672.9,811.4L1673.2,770.8L1673.4,775L1673.7,773.9L1673.9,799.4L1674.2,769.9L1674.4,770.6L1674.7,773.4L1675,824.2L1675.2,771L1675.5,805.4L1675.7,795.8L1676,800.3L1676.2,802.8L1676.5,798.7L1676.7,762.9L1677,766.4L1677.2,745L1677.5,787.2L1677.7,812.9L1678,792.4L1678.3,770.9L1678.5,843.2L1678.8,776.2L1679,796.5L1679.3,812.6L1679.5,793.2L1679.8,782.3L1680,798.6L1680.3,799.7L1680.5,779.3L1680.8,770.3L1681,809.5L1681.3,767.2L1681.5,784L1681.8,768.9L1682.1,806.6L1682.3,820.3L1682.6,791.2L1682.8,811.1L1683.1,800.8L1683.3,792.4L1683.6,820.8L1683.8,815.4L1684.1,791.7L1684.3,773.4L1684.6,763.6L1684.8,837.6L1685.1,833.9L1685.4,820.5L1685.6,817.7L1685.9,868.7L1686.1,827L1686.4,828.6L1686.6,810.8L1686.9,803.5L1687.1,806.4L1687.4,815.7L1687.6,779.2L1687.9,794.1L1688.1,810.4L1688.4,839.8L1688.7,821.4L1688.9,804.3L1689.2,813.2L1689.4,822.7L1689.7,820.9L1689.9,828.3L1690.2,803.5L1690.4,804.7L1690.7,827.1L1690.9,808.8L1691.2,842.6L1691.4,808L1691.7,825.2L1691.9,782.6L1692.2,837.5L1692.5,835.6L1692.7,826.3L1693,829.1L1693.2,832.8L1693.5,822.3L1693.7,840.8L1694,814.7L1694.2,836.5L1694.5,855.6L1694.7,832.1L1695,797.4L1695.2,812L1695.5,843.8L1695.8,798.5L1696,809.2L1696.3,783.4L1696.5,804.1L1696.8,822.4L1697,778.1L1697.3,808L1697.5,827.8L1697.8,816.9L1698,781.6L1698.3,836.7L1698.5,822.7L1698.8,821.9L1699.1,825.6L1699.3,832L1699.6,843.3L1699.8,836.4L1700.1,853.4L1700.3,797.7L1700.6,830.3L1700.8,816.4L1701.1,844.8L1701.3,843.8L1701.6,815.3L1701.8,871.8L1702.1,789.9L1702.4,836L1702.6,870.6L1702.9,858.9L1703.1,840.3L1703.4,818.5L1703.6,813.7L1703.9,791.7L1704.1,844L1704.4,799.5L1704.6,849.7L1704.9,834L1705.1,823.3L1705.4,833.6L1705.6,856.1L1705.9,855.4L1706.2,820L1706.4,847.2L1706.7,828.5L1706.9,838.9L1707.2,833.9L1707.4,823.1L1707.7,850.2L1707.9,842.2L1708.2,841.3L1708.4,834.2L1708.7,834.6L1708.9,803L1709.2,844L1709.5,845.8L1709.7,824.2L1710,831.6L1710.2,825.4L1710.5,837.9L1710.7,857.1L1711,800L1711.2,826.2L1711.5,827.8L1711.7,808L1712,856.9L1712.2,839.5L1712.5,835.3L1712.8,813L1713,829.4L1713.3,861.8L1713.5,886.8L1713.8,869.5L1714,816.2L1714.3,855.4L1714.5,826.9L1714.8,892.1L1715,821.6L1715.3,825.9L1715.5,833L1715.8,843L1716,878.2L1716.3,819.4L1716.6,840.9L1716.8,880.5L1717.1,839.1L1717.3,839.8L1717.6,890L1717.8,851.9L1718.1,793.5L1718.3,915.4L1718.6,848.3L1718.8,807.1L1719.1,852.4L1719.3,825.7L1719.6,852.5L1719.9,844.4L1720.1,829.8L1720.4,848.9L1720.6,853.8L1720.9,837.1L1721.1,823.1L1721.4,814.2L1721.6,852.3L1721.9,863.9L1722.1,839L1722.4,883.9L1722.6,846.6L1722.9,822.5L1723.2,826.9L1723.4,862.3L1723.7,828.1L1723.9,869.5L1724.2,876.1L1724.4,857.2L1724.7,820.1L1724.9,802.7L1725.2,855.9L1725.4,830.1L1725.7,856.6L1725.9,839.2L1726.2,818.8L1726.5,858.4L1726.7,871.9L1727,883.1L1727.2,834.5L1727.5,859.2L1727.7,841.5L1728,823.1L1728.2,851.5L1728.5,889.8L1728.7,852.8L1729,863.5L1729.2,858.6L1729.5,875.7L1729.7,869.2L1730,860.9L1730.3,841.4L1730.5,850.1L1730.8,824.3L1731,839L1731.3,850.7L1731.5,837.6L1731.8,903.9L1732,824.3L1732.3,852.6L1732.5,791L1732.8,852.1L1733,838.6L1733.3,850.9L1733.6,874.7L1733.8,832.7L1734.1,829.7L1734.3,847L1734.6,859.5L1734.8,834L1735.1,805.7L1735.3,823.5L1735.6,857.4L1735.8,874.4L1736.1,876.6L1736.3,897.3L1736.6,868.7L1736.9,835.9L1737.1,870.7L1737.4,864.5L1737.6,821L1737.9,888L1738.1,873.6L1738.4,885L1738.6,837.5L1738.9,822L1739.1,839.5L1739.4,851.4L1739.6,830.9L1739.9,855.1L1740.1,837.3L1740.4,877L1740.7,841L1740.9,883.7L1741.2,861.9L1741.4,838.1L1741.7,806.8L1741.9,855.5L1742.2,884.8L1742.4,904.7L1742.7,850L1742.9,876.4L1743.2,848.3L1743.4,846.1L1743.7,822.5L1744,825.9L1744.2,860.5L1744.5,812.3L1744.7,834.3L1745,874.6L1745.2,820.8L1745.5,863.6L1745.7,870.2L1746,835.6L1746.2,825.2L1746.5,876.7L1746.7,835.8L1747,869.5L1747.3,836.5L1747.5,861L1747.8,826.8L1748,889.4L1748.3,850.9L1748.5,854.6L1748.8,927.5L1749,855.8L1749.3,841.3L1749.5,842.9L1749.8,808.7L1750,836.1L1750.3,863.5L1750.6,832.1L1750.8,855.5L1751.1,844.4L1751.3,920.4L1751.6,882.4L1751.8,903.5L1752.1,843.4L1752.3,864.3L1752.6,839L1752.8,883L1753.1,846.4L1753.3,867.1L1753.6,803.7L1753.8,853.2L1754.1,818.1L1754.4,835.5L1754.6,867.2L1754.9,870.2L1755.1,859.4L1755.4,881.5L1755.6,873.1L1755.9,847.1L1756.1,836.1L1756.4,856.4L1756.6,871.3L1756.9,859.3L1757.1,837.2L1757.4,841.2L1757.7,859.9L1757.9,846.1L1758.2,865.1L1758.4,812.9L1758.7,854.2L1758.9,892.2L1759.2,847.6L1759.4,810.7L1759.7,837.9L1759.9,865.3L1760.2,861.9L1760.4,889.2L1760.7,832.6L1761,837.9L1761.2,824.6L1761.5,888.2L1761.7,847.7L1762,849.6L1762.2,868.3L1762.5,875.7L1762.7,852.3L1763,888.4L1763.2,915.7L1763.5,843L1763.7,827.2L1764,857.5L1764.2,824.7L1764.5,885.9L1764.8,893.4L1765,836.2L1765.3,858.6L1765.5,906.4L1765.8,840.8L1766,858.9L1766.3,860.8L1766.5,850.5L1766.8,831.9L1767,834.3L1767.3,839L1767.5,857.2L1767.8,820.8L1768.1,864.1L1768.3,890.5L1768.6,835.4L1768.8,815.3L1769.1,869.8L1769.3,878.6L1769.6,891.8L1769.8,865.6L1770.1,847.1L1770.3,872.8L1770.6,857.5L1770.8,867.6L1771.1,861.1L1771.4,851.8L1771.6,860.2L1771.9,826.1L1772.1,860.9L1772.4,873.3L1772.6,835.3L1772.9,909.1L1773.1,901.2L1773.4,873.6L1773.6,874.7L1773.9,864.2L1774.1,870.2L1774.4,855L1774.7,910.1L1774.9,830.2L1775.2,875.6L1775.4,899.3L1775.7,844.4L1775.9,823.5L1776.2,888.2L1776.4,886.3L1776.7,887.9L1776.9,862.4L1777.2,843.4L1777.4,867.8L1777.7,880.7L1777.9,852L1778.2,812.6L1778.5,859.6L1778.7,825.8L1779,853L1779.2,856.5L1779.5,832.6L1779.7,887.7L1780,886.2L1780.2,862.3L1780.5,831.9L1780.7,878.5L1781,887.4L1781.2,885.4L1781.5,843.6L1781.8,833.5L1782,886.5L1782.3,839.3L1782.5,874.9L1782.8,862L1783,824.5L1783.3,893.6L1783.5,883.5L1783.8,903L1784,843.7L1784.3,885.1L1784.5,883.4L1784.8,863L1785.1,848.6L1785.3,832.9L1785.6,845.3L1785.8,854.9L1786.1,867.1L1786.3,912.2L1786.6,868.2L1786.8,874.3L1787.1,860.2L1787.3,872.3L1787.6,914.5L1787.8,822.8L1788.1,874.6L1788.3,830.4L1788.6,838.4L1788.9,880.9L1789.1,877.7L1789.4,841.8L1789.6,847.1L1789.9,854.3L1790.1,841.3L1790.4,881.4L1790.6,850.1L1790.9,876.9L1791.1,850.5L1791.4,849.7L1791.6,864.6L1791.9,864.6L1792.2,854.5L1792.4,892.5L1792.7,889L1792.9,878.7L1793.2,857.2L1793.4,871.7L1793.7,894.4L1793.9,852.2L1794.2,891.1L1794.4,894.8L1794.7,803.2L1794.9,827.3L1795.2,849.5L1795.5,851.9L1795.7,905.9L1796,932L1796.2,888.2L1796.5,848.9L1796.7,900.7L1797,881.6L1797.2,839.8L1797.5,878.9L1797.7,869.8L1798,800.7L1798.2,858.8L1798.5,856.7L1798.7,875.9L1799,862.3L1799.3,839.1L1799.5,856.2L1799.8,876.5L1800,873.5L1800.3,835.7L1800.5,844.4L1800.8,867.4L1801,827.5L1801.3,831.7L1801.5,849.2L1801.8,891.1L1802,860.5L1802.3,858.3L1802.6,883.2L1802.8,865.8L1803.1,884.5L1803.3,887.1L1803.6,869.2L1803.8,888.8L1804.1,827.2L1804.3,849.7L1804.6,851.1L1804.8,844.1L1805.1,863.4L1805.3,834.7L1805.6,887L1805.9,891.2L1806.1,913.2L1806.4,894.7L1806.6,893.9L1806.9,887.1L1807.1,883L1807.4,872.6L1807.6,930L1807.9,863.3L1808.1,846.5L1808.4,842L1808.6,851.9L1808.9,871.9L1809.2,882.4L1809.4,865.8L1809.7,893.9L1809.9,852.2L1810.2,858.1L1810.4,877.4L1810.7,866.9L1810.9,850.5L1811.2,854.5L1811.4,820.4L1811.7,832.6L1811.9,873.6L1812.2,896.2L1812.4,874.7L1812.7,856.7L1813,872.9L1813.2,884.6L1813.5,865.3L1813.7,854.8L1814,896.4L1814.2,852.5L1814.5,903.9L1814.7,872.1L1815,845L1815.2,854.9L1815.5,865.5L1815.7,885.9L1816,800.8L1816.3,866.5L1816.5,880L1816.8,860.3L1817,870.6L1817.3,882.1L1817.5,859.8L1817.8,833.6L1818,842L1818.3,850L1818.5,882.6L1818.8,858.4L1819,877.2L1819.3,884.7L1819.6,831.5L1819.8,852.8L1820.1,882.1L1820.3,845.9L1820.6,889.3L1820.8,885L1821.1,884L1821.3,828.9L1821.6,871.4L1821.8,857.3L1822.1,837.2L1822.3,859.5L1822.6,867.4L1822.8,846.7L1823.1,879.8L1823.4,860.4L1823.6,847.8L1823.9,915.1L1824.1,853.2L1824.4,877.5L1824.6,895.9L1824.9,861.9L1825.1,874.9L1825.4,883.6L1825.6,879L1825.9,909.8L1826.1,840.5L1826.4,888.5L1826.7,903.5L1826.9,857.8L1827.2,872.6L1827.4,833L1827.7,827.9L1827.9,869.2L1828.2,852.3L1828.4,843.8L1828.7,929.6L1828.9,865.2L1829.2,924L1829.4,861.9L1829.7,809L1830,862.7L1830.2,823.2L1830.5,859.9L1830.7,837.4L1831,864.7L1831.2,879.1L1831.5,866.7L1831.7,848.4L1832,919.5L1832.2,848L1832.5,876.6L1832.7,854.7L1833,831.9L1833.3,881.3L1833.5,818.5L1833.8,863L1834,861.4L1834.3,880.3L1834.5,859.5L1834.8,894.1L1835,888L1835.3,849.8L1835.5,848.1L1835.8,919.7L1836,828.7L1836.3,887.1L1836.5,896.3L1836.8,886.3L1837.1,828.8L1837.3,860.7L1837.6,877.7L1837.8,826.8L1838.1,902.4L1838.3,852.8L1838.6,823.4L1838.8,873.6L1839.1,878.8L1839.3,848.2L1839.6,888.4L1839.8,854.6L1840.1,899.7L1840.4,879.9L1840.6,895.9L1840.9,851.7L1841.1,870.9L1841.4,889.5L1841.6,880.6L1841.9,866.5L1842.1,911.6L1842.4,834.8L1842.6,885.1L1842.9,881.7L1843.1,891.9L1843.4,841.4L1843.7,894.1L1843.9,874.9L1844.2,855.5L1844.4,898.2L1844.7,890.1L1844.9,834.8L1845.2,875.5L1845.4,826.9L1845.7,870.2L1845.9,848.3L1846.2,874.9L1846.4,836.2L1846.7,862.9L1846.9,870.8L1847.2,900.2L1847.5,927.9L1847.7,828.1L1848,894.8L1848.2,842.5L1848.5,842.2L1848.7,848.5L1849,849.4L1849.2,879L1849.5,877.8L1849.7,915.3L1850,894.9L1850.2,822.9L1850.5,903.8L1850.8,862.8L1851,905.8L1851.3,892.2L1851.5,846.6L1851.8,835.1L1852,915L1852.3,893.3L1852.5,901.4L1852.8,901.9L1853,907.4L1853.3,845L1853.5,886L1853.8,888.9L1854.1,838.5L1854.3,863.2L1854.6,864.7L1854.8,891.3L1855.1,863.7L1855.3,911.3L1855.6,853.7L1855.8,878.5L1856.1,957.9L1856.3,859.8L1856.6,889.8L1856.8,874.7L1857.1,842.7L1857.4,847.8L1857.6,844.5L1857.9,856.4L1858.1,875.9L1858.4,845.5L1858.6,887.6L1858.9,882.2L1859.1,858L1859.4,925.4L1859.6,888.1L1859.9,891.6L1860.1,835.7L1860.4,837.1L1860.6,833L1860.9,901L1861.2,906.8L1861.4,835.3L1861.7,871.7L1861.9,861.3L1862.2,874.3L1862.4,887L1862.7,855.4L1862.9,901.3L1863.2,932.2L1863.4,884.5L1863.7,863.2L1863.9,865.6L1864.2,834.3L1864.5,831.8L1864.7,873.1L1865,874.9L1865.2,912.9L1865.5,837.5L1865.7,905.2L1866,840.3L1866.2,899.6L1866.5,844.3L1866.7,845L1867,877L1867.2,885.9L1867.5,837.6L1867.8,859.6L1868,875.6L1868.3,880L1868.5,870.6L1868.8,876.7L1869,885.4L1869.3,876.4L1869.5,888.3L1869.8,854.6L1870,873.7L1870.3,845.4L1870.5,861.6L1870.8,913L1871,864.6L1871.3,845.2L1871.6,914.1L1871.8,797.7L1872.1,877.3L1872.3,852.7L1872.6,914.4L1872.8,861.4L1873.1,946.7L1873.3,872.2L1873.6,855.5L1873.8,858.6L1874.1,906.4L1874.3,874.7L1874.6,839.9L1874.9,896.2L1875.1,887L1875.4,879.8L1875.6,871L1875.9,880.6L1876.1,859.1L1876.4,902.6L1876.6,904.8L1876.9,882.6L1877.1,836.3L1877.4,894.6L1877.6,874L1877.9,851.4L1878.2,882.5L1878.4,894L1878.7,870.7L1878.9,899L1879.2,838L1879.4,900.1L1879.7,853L1879.9,852.4L1880.2,875.6L1880.4,885.4L1880.7,836.6L1880.9,819.1L1881.2,862.4L1881.5,869.3L1881.7,905.3L1882,854.1L1882.2,867.1L1882.5,853.4L1882.7,865L1883,856.9L1883.2,916.8L1883.5,894.7L1883.7,907.4L1884,838.7L1884.2,863.8L1884.5,847.2L1884.7,869.9L1885,873.7L1885.3,875.1L1885.5,884.3L1885.8,942L1886,885.3L1886.3,842.1L1886.5,851L1886.8,885.5L1887,870.7L1887.3,855.5L1887.5,822.9L1887.8,924.9L1888,846.5L1888.3,878.5L1888.6,862L1888.8,890L1889.1,867.5L1889.3,897.7L1889.6,845.2L1889.8,884.8L1890.1,826.9L1890.3,877.1L1890.6,910.7L1890.8,875.8L1891.1,818.9L1891.3,881.8L1891.6,878.6L1891.9,887.4L1892.1,876.1L1892.4,891.9L1892.6,872.8L1892.9,856.3L1893.1,876.5L1893.4,836.3L1893.6,892.2L1893.9,870.3L1894.1,912.6L1894.4,876L1894.6,829.7L1894.9,832.2L1895.1,867.5L1895.4,894.4L1895.7,877.2L1895.9,830.6L1896.2,852.4L1896.4,863.8L1896.7,895L1896.9,929.3L1897.2,850.6L1897.4,874.4L1897.7,901L1897.9,843.4L1898.2,905.8L1898.4,865.9L1898.7,843.5L1899,866.5L1899.2,879.3L1899.5,872.3L1899.7,852.1L1900,928.3L1900.2,875.7L1900.5,919.8L1900.7,877.2L1901,836.5L1901.2,882.2L1901.5,857.3L1901.7,877.8L1902,856.7L1902.3,891.8L1902.5,853.3L1902.8,896.4L1903,841.4L1903.3,871.6L1903.5,883.7L1903.8,852.2L1904,905L1904.3,868.6L1904.5,945.6L1904.8,868.6L1905,847.5L1905.3,915.3L1905.5,865.3L1905.8,851.6L1906.1,890.4L1906.3,871.1L1906.6,882.3L1906.8,875.5L1907.1,848.6L1907.3,872L1907.6,906.5L1907.8,866L1908.1,835.6L1908.3,847.5L1908.6,853.3L1908.8,879.4L1909.1,832.3L1909.4,871L1909.6,877.2L1909.9,859.9L1910.1,841.2L1910.4,874.6L1910.6,892.6L1910.9,904.9L1911.1,907.8L1911.4,858.6L1911.6,868.5L1911.9,879.8L1912.1,869.2L1912.4,876.1L1912.7,857.2L1912.9,871.5L1913.2,910.5L1913.4,928.1L1913.7,852.9L1913.9,873.4L1914.2,881.5L1914.4,883.2L1914.7,850L1914.9,867.4L1915.2,868.7L1915.4,851.3L1915.7,870.3L1916,847.1L1916.2,852.1L1916.5,849.7L1916.7,870.4L1917,858.2L1917.2,836.6L1917.5,888.5L1917.7,891.7L1918,914.6L1918.2,817.2L1918.5,885L1918.7,909L1919,834.4L1919.2,834.8L1919.5,868.6L1919.8,868L1920,885.6L1920.3,861.1L1920.5,834.7L1920.8,926.7L1921,880.1L1921.3,864.1L1921.5,890.7L1921.8,875.5L1922,875.6L1922.3,878.9L1922.5,771.5L1922.8,866.1L1923.1,870.2L1923.3,859.7L1923.6,863L1923.8,858.3L1924.1,897.4L1924.3,845.9L1924.6,922.7L1924.8,857L1925.1,859.3L1925.3,888.3L1925.6,831.1L1925.8,911.6L1926.1,849.5L1926.4,889L1926.6,867.1L1926.9,893L1927.1,872.9L1927.4,860.8L1927.6,874.7L1927.9,837.2L1928.1,889.9L1928.4,870.1L1928.6,872.1L1928.9,858.1L1929.1,835.4L1929.4,831.6L1929.6,872L1929.9,934.5L1930.2,878.4L1930.4,925.4L1930.7,846L1930.9,860.4L1931.2,829.7L1931.4,850.1L1931.7,878.6L1931.9,889L1932.2,828.1L1932.4,833.2L1932.7,876.5L1932.9,857.8L1933.2,900.2L1933.5,856.2L1933.7,851L1934,858.6L1934.2,887.7L1934.5,869.6L1934.7,873.3L1935,868.6L1935.2,881.9L1935.5,914.1L1935.7,905.7L1936,828.7L1936.2,843.5L1936.5,828.3L1936.8,904.8L1937,881.3L1937.3,853L1937.5,871.5L1937.8,875.2L1938,899.9L1938.3,878.4L1938.5,858.3L1938.8,871.7L1939,838.8L1939.3,896.1L1939.5,892.1L1939.8,856.7L1940.1,924.7L1940.3,886.2L1940.6,849L1940.8,868.2L1941.1,917.1L1941.3,927.7L1941.6,845.2L1941.8,875.2L1942.1,876.9L1942.3,933.2L1942.6,891.2L1942.8,863.9L1943.1,846.8L1943.3,892L1943.6,840.9L1943.9,847.5L1944.1,887L1944.4,865.7L1944.6,895.6L1944.9,891.2L1945.1,867.6L1945.4,876.2L1945.6,878L1945.9,891.4L1946.1,862L1946.4,925.4L1946.6,909.4L1946.9,892.8L1947.2,855.1L1947.4,888L1947.7,889.5L1947.9,839.6L1948.2,853.4L1948.4,925.6L1948.7,865L1948.9,890.6L1949.2,878.2L1949.4,851.4L1949.7,878L1949.9,863.3L1950.2,886.1L1950.5,875L1950.7,878.9L1951,829.9L1951.2,896.5L1951.5,883.3L1951.7,878.9L1952,908L1952.2,862.9L1952.5,854.6L1952.7,930.9L1953,830.2L1953.2,923L1953.5,876.9L1953.7,819.4L1954,867.6L1954.3,873.1L1954.5,885.6L1954.8,894.6L1955,850.6L1955.3,895.1L1955.5,896.2L1955.8,870.2L1956,856L1956.3,886.2L1956.5,898.8L1956.8,939L1957,828.6L1957.3,867.5L1957.6,959.8L1957.8,809.8L1958.1,923.2L1958.3,827.8L1958.6,855.2L1958.8,931.4L1959.1,905.5L1959.3,863L1959.6,846.1L1959.8,923L1960.1,844.6L1960.3,860L1960.6,861.3L1960.9,819.6L1961.1,867.3L1961.4,882.8L1961.6,884.7L1961.9,881.6L1962.1,843.7L1962.4,839.5L1962.6,856.4L1962.9,902.4L1963.1,852.8L1963.4,872.1L1963.6,904L1963.9,889.2L1964.2,873L1964.4,839.2L1964.7,926.4L1964.9,853.9L1965.2,909.6L1965.4,874.6L1965.7,879L1965.9,853.9L1966.2,897.1L1966.4,902.6L1966.7,858.4L1966.9,844.4L1967.2,968L1967.4,897.2L1967.7,908.5L1968,878L1968.2,876.3L1968.5,856.8L1968.7,909.2L1969,848.5L1969.2,805.2L1969.5,843.4L1969.7,829.3L1970,852.8L1970.2,880.5L1970.5,865.7L1970.7,846.3L1971,844.1L1971.3,915.3L1971.5,840.6L1971.8,932.9L1972,865.8L1972.3,832.4L1972.5,854L1972.8,887.6L1973,839.5L1973.3,903.4L1973.5,871.5L1973.8,901.1L1974,850.2L1974.3,883.1L1974.6,887.3L1974.8,967.7L1975.1,860.9L1975.3,918.1L1975.6,854.4L1975.8,871.3L1976.1,890.8L1976.3,850.2L1976.6,941L1976.8,946.7L1977.1,896.7L1977.3,842.5L1977.6,922.9L1977.8,872.3L1978.1,908.7L1978.4,867.6L1978.6,878.2L1978.9,813.8L1979.1,846.7L1979.4,883.6L1979.6,888.7L1979.9,840.2L1980.1,880.2L1980.4,858.5L1980.6,889.1L1980.9,894.1L1981.1,884.5L1981.4,922L1981.7,851.1L1981.9,825.2L1982.2,911.4L1982.4,887.2L1982.7,880.6L1982.9,894.1L1983.2,905.6L1983.4,855.6L1983.7,912.1L1983.9,894.2L1984.2,877L1984.4,920L1984.7,843.5L1985,863.7L1985.2,878.4L1985.5,879.6L1985.7,908.3L1986,875.6L1986.2,859.5L1986.5,846.1L1986.7,860.4L1987,861.3L1987.2,856.3L1987.5,837.4L1987.7,844.1L1988,847.9L1988.3,933.9L1988.5,933.7L1988.8,905.7L1989,840.7L1989.3,870.9L1989.5,873.2L1989.8,878.5L1990,902.8L1990.3,887.6L1990.5,927.2L1990.8,933.8L1991,886.3L1991.3,868.4L1991.5,901.1L1991.8,921.2L1992.1,890L1992.3,877.3L1992.6,852.3L1992.8,908L1993.1,864.1L1993.3,875L1993.6,866.8L1993.8,930.1L1994.1,852L1994.3,876.9L1994.6,867L1994.8,859.7L1995.1,898.4L1995.4,892.3L1995.6,875.9L1995.9,902.9L1996.1,844L1996.4,862.8L1996.6,846.2L1996.9,935.8L1997.1,884.2L1997.4,886.5L1997.6,920.8L1997.9,858.6L1998.1,918.3L1998.4,896.6L1998.7,908.1L1998.9,875.2L1999.2,860L1999.4,842.4L1999.7,878L1999.9,889.6L2000.2,868.5L2000.4,872.1L2000.7,896.1L2000.9,826.5L2001.2,841.4L2001.4,901.7L2001.7,838.4L2001.9,840.1L2002.2,890.9L2002.5,839L2002.7,871L2003,905.8L2003.2,886.9L2003.5,939L2003.7,892.7L2004,892L2004.2,892.6L2004.5,804L2004.7,897.2L2005,894.7L2005.2,836.3L2005.5,875.1L2005.8,883.4L2006,917.2L2006.3,863.9L2006.5,915.1L2006.8,865.8L2007,872.4L2007.3,903.3L2007.5,857.5L2007.8,839.7L2008,854.5L2008.3,847.5L2008.5,845.3L2008.8,859L2009.1,911.3L2009.3,835.5L2009.6,941.3L2009.8,929.1L2010.1,878.8L2010.3,882.8L2010.6,871.5L2010.8,884.2L2011.1,833.1L2011.3,899.5L2011.6,861.8L2011.8,876.2L2012.1,868.2L2012.3,882.7L2012.6,875.4L2012.9,839.5L2013.1,897.2L2013.4,832.8L2013.6,833.4L2013.9,843.8L2014.1,872.9L2014.4,853.2L2014.6,881.8L2014.9,895.7L2015.1,851.5L2015.4,923.2L2015.6,904.2L2015.9,874.6L2016.2,857.1L2016.4,876L2016.7,871.6L2016.9,907L2017.2,903.9L2017.4,867L2017.7,866.6L2017.9,913L2018.2,883.4L2018.4,830.5L2018.7,823.2L2018.9,877.7L2019.2,891.8L2019.5,881L2019.7,917.1L2020,880.5L2020.2,923.3L2020.5,915.8L2020.7,874.2L2021,852.2L2021.2,845.8L2021.5,855.7L2021.7,874.4L2022,863.9L2022.2,870.3L2022.5,823.3L2022.8,847.3L2023,903L2023.3,847L2023.5,829.3L2023.8,893.5L2024,879.9L2024.3,823.5L2024.5,871.1L2024.8,889.2L2025,855.9L2025.3,885.5L2025.5,905.7L2025.8,841.6L2026,864.7L2026.3,876L2026.6,883.7L2026.8,855.6L2027.1,869.1L2027.3,858.1L2027.6,874.3L2027.8,878.3L2028.1,860.7L2028.3,878.2L2028.6,876.2L2028.8,896.3L2029.1,875.2L2029.3,902L2029.6,935.8L2029.9,874.1L2030.1,829.4L2030.4,903.5L2030.6,962.5L2030.9,882.8L2031.1,849.6L2031.4,837.6L2031.6,880.6L2031.9,882.6L2032.1,871.2L2032.4,885.8L2032.6,878.2L2032.9,837.1L2033.2,902.5L2033.4,847.6L2033.7,903.2L2033.9,860.3L2034.2,892.7L2034.4,855.7L2034.7,883.4L2034.9,907.1L2035.2,872.5L2035.4,857.6L2035.7,884.5L2035.9,899.8L2036.2,844.1L2036.4,834.3L2036.7,858.9L2037,901.4L2037.2,919.1L2037.5,863.4L2037.7,886.3L2038,869.8L2038.2,865.9L2038.5,932L2038.7,904L2039,880.1L2039.2,877.9L2039.5,865.7L2039.7,910.4L2040,855.9L2040.3,885.2L2040.5,885.7L2040.8,898.4L2041,929L2041.3,886.3L2041.5,838.6L2041.8,845.5L2042,888.8L2042.3,895.1L2042.5,884.7L2042.8,870.8L2043,871L2043.3,884.4L2043.6,863.6L2043.8,902.9L2044.1,859.9L2044.3,920.3L2044.6,913.2L2044.8,878.2L2045.1,880.8L2045.3,846.4L2045.6,859L2045.8,880.1L2046.1,884.2L2046.3,921L2046.6,836.5L2046.9,909.1L2047.1,895.8L2047.4,875.1L2047.6,901.9L2047.9,817.7L2048.1,871.1L2048.4,881.9L2048.6,863.1L2048.9,889.1L2049.1,890.4L2049.4,913.6L2049.6,882.7L2049.9,913.1L2050.1,842.9L2050.4,872.2L2050.7,837.8L2050.9,922.9L2051.2,907.1L2051.4,886.9L2051.7,936.2L2051.9,845.6L2052.2,895.6L2052.4,837.7L2052.7,901.1L2052.9,882.4L2053.2,925.6L2053.4,872L2053.7,842.9L2054,915.6L2054.2,842.9L2054.5,890.2L2054.7,891.9L2055,898.8L2055.2,873.3L2055.5,920L2055.7,836.8L2056,912L2056.2,851.9L2056.5,865.5L2056.7,872.5L2057,869L2057.3,881.8L2057.5,851.6L2057.8,900.6L2058,842.4L2058.3,880.6L2058.5,883.8L2058.8,893.7L2059,875.3L2059.3,843.6L2059.5,870.9L2059.8,880.3L2060,822.9L2060.3,881.5L2060.5,830.2L2060.8,864.8L2061.1,888.8L2061.3,891.3L2061.6,850.4L2061.8,883.3L2062.1,857.6L2062.3,919.8L2062.6,844.5L2062.8,902.3L2063.1,856.1L2063.3,849.5L2063.6,871L2063.8,887.2L2064.1,884.9L2064.4,856L2064.6,898.7L2064.9,865.2L2065.1,891.7L2065.4,867.6L2065.6,869L2065.9,921.3L2066.1,936.4L2066.4,848.6L2066.6,868.8L2066.9,833.5L2067.1,890.1L2067.4,914.8L2067.7,922.6L2067.9,864.5L2068.2,876.8L2068.4,878.9L2068.7,887.4L2068.9,875.5L2069.2,883.2L2069.4,878.9L2069.7,898.7L2069.9,934.5L2070.2,887.1L2070.4,871.3L2070.7,877.8L2071,863.3L2071.2,850L2071.5,932.5L2071.7,869L2072,892.6L2072.2,854.5L2072.5,877.5L2072.7,882.1L2073,881.7L2073.2,923.6L2073.5,890.4L2073.7,844L2074,914.6L2074.2,867.7L2074.5,878.9L2074.8,868.9L2075,914.5L2075.3,868.3L2075.5,861.9L2075.8,892.7L2076,852.5L2076.3,890.8L2076.5,840.2L2076.8,896.3L2077,891.6L2077.3,862.4L2077.5,850.1L2077.8,902.7L2078.1,836L2078.3,841.2L2078.6,930.9L2078.8,869.8L2079.1,890L2079.3,852.3L2079.6,884.4L2079.8,841.1L2080.1,934.9L2080.3,870L2080.6,869.2L2080.8,875.7L2081.1,870.8L2081.4,858.9L2081.6,870.5L2081.9,824.8L2082.1,861.7L2082.4,836.5L2082.6,936L2082.9,890.9L2083.1,897.7L2083.4,890.6L2083.6,889.7L2083.9,844.9L2084.1,900.1L2084.4,855.3L2084.6,868.9L2084.9,846.1L2085.2,898L2085.4,874.5L2085.7,871.2L2085.9,899.7L2086.2,934.1L2086.4,848.8L2086.7,862.2L2086.9,853.8L2087.2,899.4L2087.4,878.3L2087.7,890.5L2087.9,872.9L2088.2,914.7L2088.5,896L2088.7,946.5L2089,879.8L2089.2,907.3L2089.5,871.9L2089.7,853.3L2090,859.2L2090.2,859.4L2090.5,881.5L2090.7,892.8L2091,905.4L2091.2,851.9L2091.5,841.8L2091.8,879L2092,892.7L2092.3,887.7L2092.5,868L2092.8,881.6L2093,836L2093.3,904.8L2093.5,861.8L2093.8,888.8L2094,871L2094.3,903.3L2094.5,877.3L2094.8,876.7L2095.1,867.7L2095.3,869.8L2095.6,879.7L2095.8,909L2096.1,883.2L2096.3,873.2L2096.6,913.8L2096.8,872.5L2097.1,895.5L2097.3,859.1L2097.6,832.2L2097.8,851.7L2098.1,862.9L2098.3,874.5L2098.6,901.8L2098.9,925.7L2099.1,879.5L2099.4,885L2099.6,848.1L2099.9,861.4L2100.1,894.5L2100.4,903.8L2100.6,862.7L2100.9,881.5L2101.1,899.7L2101.4,924L2101.6,886.2L2101.9,881.6L2102.2,939.7L2102.4,850L2102.7,898.9L2102.9,854L2103.2,886.8L2103.4,911.6L2103.7,874.8L2103.9,859.4L2104.2,946.9L2104.4,860.9L2104.7,913.8L2104.9,844.5L2105.2,894.8L2105.5,844.4L2105.7,855.3L2106,877.4L2106.2,906.3L2106.5,891.6L2106.7,883.1L2107,839.2L2107.2,899.7L2107.5,900.1L2107.7,859.6L2108,943.5L2108.2,911.8L2108.5,875.2L2108.7,910.2L2109,898.9L2109.3,964.4L2109.5,860.4L2109.8,860.9L2110,850.4L2110.3,848.1L2110.5,888.2L2110.8,898.3L2111,860.6L2111.3,849.5L2111.5,906.5L2111.8,873L2112,864.2L2112.3,872.3L2112.6,881.1L2112.8,844.6L2113.1,877.7L2113.3,850.4L2113.6,896.7L2113.8,872.1L2114.1,869L2114.3,937.9L2114.6,888.5L2114.8,868.1L2115.1,878.5L2115.3,911.5L2115.6,889.5L2115.9,816.1L2116.1,871L2116.4,879.6L2116.6,884.6L2116.9,923.7L2117.1,885.6L2117.4,854.4L2117.6,889.3L2117.9,873.9L2118.1,872.2L2118.4,853.5L2118.6,907.9L2118.9,875.2L2119.1,876.7L2119.4,875.7L2119.7,870L2119.9,881.5L2120.2,894.7L2120.4,853L2120.7,862.5L2120.9,897.9L2121.2,847.5L2121.4,862.9L2121.7,889.8L2121.9,904.9L2122.2,844.5L2122.4,900.7L2122.7,861L2123,918.8L2123.2,843.1L2123.5,897L2123.7,847.8L2124,931.1L2124.2,878.3L2124.5,890L2124.7,842.4L2125,855.3L2125.2,823L2125.5,838.8L2125.7,877.1L2126,897.4L2126.3,890.9L2126.5,916L2126.8,893.1L2127,850.7L2127.3,846.3L2127.5,850.7L2127.8,888.4L2128,846.9L2128.3,871.5L2128.5,882.8L2128.8,837.6L2129,871.3L2129.3,847L2129.6,902.6L2129.8,879.1L2130.1,869.4L2130.3,843.3L2130.6,866.5L2130.8,860.9L2131.1,851.9L2131.3,907.5L2131.6,838.7L2131.8,811.9L2132.1,860.7L2132.3,879.1L2132.6,879.9L2132.8,885L2133.1,886.6L2133.4,878.9L2133.6,845.5L2133.9,877.7L2134.1,876.5L2134.4,867.6L2134.6,841.1L2134.9,858.6L2135.1,896.4L2135.4,832.6L2135.6,868.9L2135.9,886.1L2136.1,962.7L2136.4,891.8L2136.7,870.8L2136.9,852.3L2137.2,895.5L2137.4,914.1L2137.7,854.2L2137.9,879.4L2138.2,862.3L2138.4,905L2138.7,860.7L2138.9,880.3L2139.2,876.5L2139.4,895.4L2139.7,899.8L2140,850.4L2140.2,869.4L2140.5,910.6L2140.7,872.4L2141,874.8L2141.2,863.3L2141.5,903.5L2141.7,849.5L2142,857.3L2142.2,873.9L2142.5,866.6L2142.7,862.3L2143,850.7L2143.2,850.6L2143.5,885L2143.8,887.9L2144,924.9L2144.3,852.4L2144.5,898.9L2144.8,856.2L2145,882.4L2145.3,895.4L2145.5,844.3L2145.8,884.6L2146,846.7L2146.3,885.5L2146.5,912.4L2146.8,863L2147.1,899.2L2147.3,852.8L2147.6,863.8L2147.8,888.6L2148.1,863.1L2148.3,889.3L2148.6,875.9L2148.8,883.3L2149.1,899.8L2149.3,907L2149.6,899.4L2149.8,887L2150.1,853.6L2150.4,877.7L2150.6,901.6L2150.9,873L2151.1,911.5L2151.4,931.6L2151.6,912.3L2151.9,885.7L2152.1,868.1L2152.4,871.8L2152.6,871L2152.9,848.5L2153.1,825.5L2153.4,859.6L2153.7,864.2L2153.9,905.8L2154.2,836L2154.4,850L2154.7,898.4L2154.9,898.6L2155.2,863.5L2155.4,891.8L2155.7,914.9L2155.9,901.4L2156.2,875.6L2156.4,871.6L2156.7,859.3L2156.9,838.4L2157.2,918.6L2157.5,878.9L2157.7,868.2L2158,887.8L2158.2,935.6L2158.5,858L2158.7,916.9L2159,898.1L2159.2,907.6L2159.5,887.7L2159.7,881.7L2160,840.4L2160.2,817.7L2160.5,885.7L2160.8,903.8L2161,879.2L2161.3,884.8L2161.5,854L2161.8,869.3L2162,880.3L2162.3,900.5L2162.5,852.8L2162.8,907.4L2163,901.5L2163.3,887.9L2163.5,918.6L2163.8,876.4L2164.1,892.7L2164.3,913.1L2164.6,935.6L2164.8,848.9L2165.1,887.7L2165.3,854.8L2165.6,899.6L2165.8,892.5L2166.1,858.1L2166.3,915.7L2166.6,895.8L2166.8,895.4L2167.1,846.4L2167.3,923.9L2167.6,885.6L2167.9,885.7L2168.1,872.9L2168.4,925.8L2168.6,872.4L2168.9,853.7L2169.1,829.7L2169.4,869.8L2169.6,852.3L2169.9,867L2170.1,872.4L2170.4,864.7L2170.6,875.7L2170.9,918.3L2171.2,911.9L2171.4,923.6L2171.7,908.2L2171.9,883.5L2172.2,871L2172.4,893.8L2172.7,873L2172.9,850.3L2173.2,891.8L2173.4,865.6L2173.7,845L2173.9,917.6L2174.2,873.5L2174.5,905.6L2174.7,879.1L2175,858.7L2175.2,872.4L2175.5,851.1L2175.7,843.8L2176,876.6L2176.2,894.6L2176.5,868.9L2176.7,879.6L2177,869.8L2177.2,863.6L2177.5,890.8L2177.8,881.8L2178,842.6L2178.3,902.7L2178.5,849.4L2178.8,902.6L2179,873L2179.3,887L2179.5,911.4L2179.8,866.5L2180,894.5L2180.3,905L2180.5,874.7L2180.8,831.7L2181,925.8L2181.3,881.2L2181.6,877.8L2181.8,881.3L2182.1,861.4L2182.3,848.9L2182.6,884.4L2182.8,916.8L2183.1,880L2183.3,860.9L2183.6,870.7L2183.8,862.8L2184.1,870.6L2184.3,897.4L2184.6,880.3L2184.9,855.3L2185.1,865L2185.4,878.4L2185.6,860.4L2185.9,900.2L2186.1,840.4L2186.4,847.1L2186.6,872.7L2186.9,928.8L2187.1,897.6L2187.4,926.6L2187.6,866.5L2187.9,893.3L2188.2,872.9L2188.4,923.7L2188.7,912.3L2188.9,861.2L2189.2,865.4L2189.4,906.4L2189.7,934.3L2189.9,886.8L2190.2,898.8L2190.4,879.5L2190.7,868.9L2190.9,862.5L2191.2,900.4L2191.4,885.6L2191.7,889.5L2192,889.2L2192.2,909.5L2192.5,901.8L2192.7,908.3L2193,843.3L2193.2,857.7L2193.5,873.7L2193.7,889.4L2194,840.9L2194.2,911.8L2194.5,883.8L2194.7,864.2L2195,894.6L2195.3,823.5L2195.5,879.6L2195.8,865.3L2196,856.8L2196.3,929.7L2196.5,819.9L2196.8,848.2L2197,867.5L2197.3,867L2197.5,871.3L2197.8,898.8L2198,888.9L2198.3,881.4L2198.6,841.3L2198.8,900.4L2199.1,861.9L2199.3,875.6L2199.6,885.1L2199.8,856.9L2200.1,904.3L2200.3,919.9L2200.6,894.5L2200.8,878.9L2201.1,865.7L2201.3,884.3L2201.6,880.6L2201.8,873.2L2202.1,896.5L2202.4,878.5L2202.6,902.8L2202.9,848.9L2203.1,874.5L2203.4,864L2203.6,889.7L2203.9,867.7L2204.1,850L2204.4,870.3L2204.6,834L2204.9,901.4L2205.1,858.3L2205.4,866.4L2205.7,905.1L2205.9,881.7L2206.2,927.2L2206.4,861L2206.7,944.3L2206.9,904.6L2207.2,880.6L2207.4,945.6L2207.7,855L2207.9,907.2L2208.2,864.7L2208.4,947.4L2208.7,907.4L2209,862.8L2209.2,892.6L2209.5,912.6L2209.7,844L2210,839.3L2210.2,837.5L2210.5,850L2210.7,908.4L2211,921L2211.2,879.7L2211.5,866.2L2211.7,936.2L2212,897.1L2212.3,885.7L2212.5,901.7L2212.8,835L2213,901.2L2213.3,866.8L2213.5,834.5L2213.8,829.5L2214,889.3L2214.3,899.4L2214.5,846.3L2214.8,867.5L2215,898.6L2215.3,888.7L2215.5,831.4L2215.8,875.6L2216.1,899.8L2216.3,857L2216.6,864.3L2216.8,883.7L2217.1,880.2L2217.3,855.7L2217.6,871.4L2217.8,835.4L2218.1,910.2L2218.3,864.1L2218.6,857.3L2218.8,910.3L2219.1,879.8L2219.4,860.9L2219.6,885.5L2219.9,873.1L2220.1,843.5L2220.4,894L2220.6,827.6L2220.9,845.5L2221.1,881.4L2221.4,856.9L2221.6,846.1L2221.9,920.1L2222.1,873.4L2222.4,886.6L2222.7,863.1L2222.9,835.7L2223.2,845.3L2223.4,837.5L2223.7,909.9L2223.9,911.8L2224.2,903.1L2224.4,879.2L2224.7,877.5L2224.9,873.1L2225.2,862.1L2225.4,899L2225.7,882.8L2225.9,848L2226.2,870.6L2226.5,880.5L2226.7,916L2227,956.3L2227.2,887.8L2227.5,895.9L2227.7,857.5L2228,917L2228.2,927.7L2228.5,891.6L2228.7,891.3L2229,841.3L2229.2,846.1L2229.5,859.5L2229.8,880.5L2230,859.6L2230.3,876.5L2230.5,936.6L2230.8,967L2231,899.2L2231.3,848.2L2231.5,883.5L2231.8,960.1L2232,865.2L2232.3,883L2232.5,888.1L2232.8,905L2233.1,891.9L2233.3,860.9L2233.6,841.9L2233.8,864.3L2234.1,804L2234.3,880.2L2234.6,888.5L2234.8,886.3L2235.1,866.5L2235.3,873.8L2235.6,871.7L2235.8,880.8L2236.1,859.9L2236.4,882.7L2236.6,865.1L2236.9,877.2L2237.1,926.9L2237.4,840.8L2237.6,896.2L2237.9,854.1L2238.1,896.4L2238.4,906.3L2238.6,849.3L2238.9,858L2239.1,872.3L2239.4,928.2L2239.6,833.8L2239.9,869.5L2240.2,881.6L2240.4,925.4L2240.7,898.4L2240.9,867.7L2241.2,908.1L2241.4,909.4L2241.7,896.3L2241.9,888.1L2242.2,894.2L2242.4,853.2L2242.7,873.4L2242.9,884.7L2243.2,875.1L2243.5,881.7L2243.7,878.5L2244,856.8L2244.2,839.7L2244.5,868.8L2244.7,867.9L2245,868.5L2245.2,875L2245.5,935.3L2245.7,863L2246,882.6L2246.2,845.2L2246.5,862.6L2246.8,824.4L2247,878.2L2247.3,889.1L2247.5,867.8L2247.8,869.9L2248,960.6L2248.3,889L2248.5,893.3L2248.8,889.6L2249,892.4L2249.3,876.8L2249.5,918L2249.8,878.4L2250,856L2250.3,842L2250.6,823.4L2250.8,855.6L2251.1,882.4L2251.3,867.8L2251.6,834.8L2251.8,861.8L2252.1,913.4L2252.3,900.8L2252.6,859.7L2252.8,834L2253.1,897.2L2253.3,865.8L2253.6,883.1L2253.9,897.3L2254.1,915.4L2254.4,879.6L2254.6,887.7L2254.9,877L2255.1,821.8L2255.4,947.1L2255.6,903.7L2255.9,875.6L2256.1,869.2L2256.4,913.8L2256.6,889.9L2256.9,857.3L2257.2,907.4L2257.4,901.4L2257.7,867.3L2257.9,882.9L2258.2,907.5L2258.4,882.8L2258.7,913.5L2258.9,890.3L2259.2,881.4L2259.4,888.3L2259.7,904.4L2259.9,864L2260.2,849.1L2260.5,850.5L2260.7,851.8L2261,854.5L2261.2,888.8L2261.5,894.2L2261.7,880.8L2262,881.3L2262.2,889.9L2262.5,883.1L2262.7,845.7L2263,859.9L2263.2,882.4L2263.5,869.4L2263.7,874.6L2264,860.3L2264.3,871.6L2264.5,870L2264.8,914.9L2265,855.6L2265.3,883.5L2265.5,825.7L2265.8,877.2L2266,841.9L2266.3,900.2L2266.5,867L2266.8,889.7L2267,868.4L2267.3,888.9L2267.6,889.8L2267.8,834.7L2268.1,926.1L2268.3,861L2268.6,875.1L2268.8,847.4L2269.1,883.3L2269.3,880.5L2269.6,866.2L2269.8,879.6L2270.1,864.9L2270.3,896.8L2270.6,848.6L2270.9,874.2L2271.1,859.4L2271.4,864.9L2271.6,866.8L2271.9,871.3L2272.1,899.7L2272.4,920.1L2272.6,869.6L2272.9,906.8L2273.1,886.5L2273.4,862L2273.6,860.7L2273.9,873.1L2274.1,827.8L2274.4,894.4L2274.7,898.7L2274.9,878.1L2275.2,845.7L2275.4,957.5L2275.7,877.6L2275.9,885.9L2276.2,868L2276.4,828.2L2276.7,902.9L2276.9,862L2277.2,855.1L2277.4,958.2L2277.7,870.8L2278,924L2278.2,869.1L2278.5,880.2L2278.7,863.9L2279,892.3L2279.2,886.2L2279.5,912L2279.7,884.6L2280,847.1L2280.2,899.2L2280.5,901.3L2280.7,902.8L2281,882.9L2281.3,862.7L2281.5,832L2281.8,879.8L2282,803.3L2282.3,879.1L2282.5,837.1L2282.8,908.6L2283,888.3L2283.3,902L2283.5,847.1L2283.8,898.7L2284,892.2L2284.3,876.7L2284.6,894.8L2284.8,869.1L2285.1,871.5L2285.3,866.8L2285.6,885.6L2285.8,915.1L2286.1,896.2L2286.3,871.5L2286.6,866.7L2286.8,838.6L2287.1,874L2287.3,890.4L2287.6,907.6L2287.8,877L2288.1,915.6L2288.4,868.2L2288.6,859.7L2288.9,888.5L2289.1,888.3L2289.4,870.2L2289.6,891.9L2289.9,843.7L2290.1,921.5L2290.4,892.7L2290.6,853.3L2290.9,888.5L2291.1,896.7L2291.4,892.2L2291.7,911.2L2291.9,908.7L2292.2,861.7L2292.4,881.5L2292.7,862L2292.9,866.2L2293.2,839.8L2293.4,869.4L2293.7,830.3L2293.9,866.9L2294.2,862.4L2294.4,919.6L2294.7,868.3L2295,877.9L2295.2,888.9L2295.5,909.7L2295.7,855L2296,914.5L2296.2,831.6L2296.5,908.6L2296.7,875.6L2297,850.3L2297.2,901.8L2297.5,927.1L2297.7,924L2298,885.6L2298.2,842L2298.5,898.3L2298.8,900.2L2299,878.7L2299.3,875.2L2299.5,904.4L2299.8,816.3L2300,872.5L2300.3,857L2300.5,895.4L2300.8,893.9L2301,877.1L2301.3,913.3L2301.5,905.2L2301.8,889.8L2302.1,901.1L2302.3,882.6L2302.6,895.1L2302.8,924.9L2303.1,866.8L2303.3,830.7L2303.6,871.3L2303.8,866.8L2304.1,881.8L2304.3,860.8L2304.6,911L2304.8,895.3L2305.1,891.1L2305.4,876.4L2305.6,872L2305.9,859.6L2306.1,865.8L2306.4,889L2306.6,876.6L2306.9,864.1L2307.1,895.7L2307.4,873.7L2307.6,834.5L2307.9,920.6L2308.1,882L2308.4,878.7L2308.6,868.6L2308.9,829.8L2309.2,911.7L2309.4,862.8L2309.7,881.2L2309.9,919.1L2310.2,889.7L2310.4,890.4L2310.7,873.6L2310.9,841.5L2311.2,918.1L2311.4,929.1L2311.7,877.8L2311.9,851.4L2312.2,884L2312.5,835.9L2312.7,863.8L2313,895.6L2313.2,847.7L2313.5,857.2L2313.7,872.7L2314,929.1L2314.2,876L2314.5,843.7L2314.7,870.8L2315,866.6L2315.2,836.2L2315.5,901.4L2315.8,891.2L2316,851.1L2316.3,893.4L2316.5,851.1L2316.8,909.4L2317,902.4L2317.3,866.2L2317.5,934.3L2317.8,887.7L2318,855.2L2318.3,919.5L2318.5,855L2318.8,886.5L2319.1,930.7L2319.3,916.7L2319.6,913.9L2319.8,848.8L2320.1,867.1L2320.3,871.6L2320.6,861.9L2320.8,833.9L2321.1,882.2L2321.3,902L2321.6,840.9L2321.8,875.2L2322.1,889.2L2322.3,883.2L2322.6,890.9L2322.9,913.3L2323.1,874.1L2323.4,884.4L2323.6,881.5L2323.9,880L2324.1,858.7L2324.4,853.7L2324.6,884.7L2324.9,900.7L2325.1,823.4L2325.4,858L2325.6,872.1L2325.9,871.4L2326.2,881.4L2326.4,846.9L2326.7,869.8L2326.9,901.6L2327.2,877.1L2327.4,854.2L2327.7,871.1L2327.9,877.7L2328.2,833.2L2328.4,900.9L2328.7,879.2L2328.9,885.4L2329.2,920.9L2329.5,889.4L2329.7,887.6L2330,872.1L2330.2,917.3L2330.5,856.7L2330.7,911.8L2331,894.7L2331.2,900.3L2331.5,844.1L2331.7,847.9L2332,843.8L2332.2,903.3L2332.5,871.2L2332.7,887.1L2333,880.6L2333.3,845L2333.5,874.5L2333.8,893L2334,859.6L2334.3,866.4L2334.5,828.3L2334.8,849.9L2335,856.6L2335.3,882.1L2335.5,867.8L2335.8,854.5L2336,893.8L2336.3,856.3L2336.6,884.9L2336.8,902.1L2337.1,879.7L2337.3,844L2337.6,888L2337.8,903.2L2338.1,902.4L2338.3,916.6L2338.6,849.3L2338.8,941.8L2339.1,856.3L2339.3,903.5L2339.6,896.1L2339.9,865.1L2340.1,887.2L2340.4,905.5L2340.6,878.8L2340.9,872.1L2341.1,884.2L2341.4,964.5L2341.6,851L2341.9,922.3L2342.1,882.9L2342.4,895.9L2342.6,854L2342.9,834.9L2343.2,893.4L2343.4,887.7L2343.7,911.5L2343.9,857.8L2344.2,929.1L2344.4,883.3L2344.7,864L2344.9,847.7L2345.2,883.1L2345.4,913.2L2345.7,821.4L2345.9,883.4L2346.2,897.7L2346.4,895.2L2346.7,836.4L2347,937L2347.2,881.3L2347.5,885.5L2347.7,860.9L2348,864.8L2348.2,900.5L2348.5,922.1L2348.7,901.7L2349,892.3L2349.2,876.4L2349.5,874.4L2349.7,915.4L2350,855.9" stroke="#008b8b" stroke-width="2.8"/>
<path d="M1583.1,167L1583.9,168.4L1584.6,169.9L1585.4,171.3L1586.2,172.8L1586.9,174.2L1587.7,175.7L1588.4,177.1L1589.2,178.5L1590,180L1590.7,181.4L1591.5,182.9L1592.3,184.3L1593,185.8L1593.8,187.2L1594.5,188.6L1595.3,190.1L1596.1,191.5L1596.8,193L1597.6,194.4L1598.3,195.8L1599.1,197.3L1599.9,198.7L1600.6,200.2L1601.4,201.6L1602.1,203L1602.9,204.5L1603.7,205.9L1604.4,207.3L1605.2,208.8L1606,210.2L1606.7,211.7L1607.5,213.1L1608.2,214.5L1609,216L1609.8,217.4L1610.5,218.8L1611.3,220.3L1612,221.7L1612.8,223.1L1613.6,224.6L1614.3,226L1615.1,227.4L1615.8,228.9L1616.6,230.3L1617.4,231.7L1618.1,233.2L1618.9,234.6L1619.7,236L1620.4,237.5L1621.2,238.9L1621.9,240.3L1622.7,241.8L1623.5,243.2L1624.2,244.6L1625,246L1625.7,247.5L1626.5,248.9L1627.3,250.3L1628,251.7L1628.8,253.2L1629.5,254.6L1630.3,256L1631.1,257.4L1631.8,258.9L1632.6,260.3L1633.3,261.7L1634.1,263.1L1634.9,264.6L1635.6,266L1636.4,267.4L1637.2,268.8L1637.9,270.2L1638.7,271.7L1639.4,273.1L1640.2,274.5L1641,275.9L1641.7,277.3L1642.5,278.7L1643.2,280.2L1644,281.6L1644.8,283L1645.5,284.4L1646.3,285.8L1647,287.2L1647.8,288.6L1648.6,290L1649.3,291.5L1650.1,292.9L1650.9,294.3L1651.6,295.7L1652.4,297.1L1653.1,298.5L1653.9,299.9L1654.7,301.3L1655.4,302.7L1656.2,304.1L1656.9,305.5L1657.7,306.9L1658.5,308.3L1659.2,309.7L1660,311.1L1660.7,312.5L1661.5,313.9L1662.3,315.3L1663,316.7L1663.8,318.1L1664.6,319.5L1665.3,320.9L1666.1,322.3L1666.8,323.7L1667.6,325.1L1668.4,326.5L1669.1,327.9L1669.9,329.3L1670.6,330.7L1671.4,332.1L1672.2,333.5L1672.9,334.8L1673.7,336.2L1674.4,337.6L1675.2,339L1676,340.4L1676.7,341.8L1677.5,343.1L1678.3,344.5L1679,345.9L1679.8,347.3L1680.5,348.7L1681.3,350L1682.1,351.4L1682.8,352.8L1683.6,354.2L1684.3,355.5L1685.1,356.9L1685.9,358.3L1686.6,359.6L1687.4,361L1688.1,362.4L1688.9,363.8L1689.7,365.1L1690.4,366.5L1691.2,367.8L1691.9,369.2L1692.7,370.6L1693.5,371.9L1694.2,373.3L1695,374.6L1695.8,376L1696.5,377.4L1697.3,378.7L1698,380.1L1698.8,381.4L1699.6,382.8L1700.3,384.1L1701.1,385.5L1701.8,386.8L1702.6,388.1L1703.4,389.5L1704.1,390.8L1704.9,392.2L1705.6,393.5L1706.4,394.8L1707.2,396.2L1707.9,397.5L1708.7,398.8L1709.5,400.2L1710.2,401.5L1711,402.8L1711.7,404.2L1712.5,405.5L1713.3,406.8L1714,408.1L1714.8,409.5L1715.5,410.8L1716.3,412.1L1717.1,413.4L1717.8,414.7L1718.6,416L1719.3,417.4L1720.1,418.7L1720.9,420L1721.6,421.3L1722.4,422.6L1723.2,423.9L1723.9,425.2L1724.7,426.5L1725.4,427.8L1726.2,429.1L1727,430.4L1727.7,431.7L1728.5,433L1729.2,434.2L1730,435.5L1730.8,436.8L1731.5,438.1L1732.3,439.4L1733,440.7L1733.8,441.9L1734.6,443.2L1735.3,444.5L1736.1,445.7L1736.9,447L1737.6,448.3L1738.4,449.5L1739.1,450.8L1739.9,452.1L1740.7,453.3L1741.4,454.6L1742.2,455.8L1742.9,457.1L1743.7,458.3L1744.5,459.6L1745.2,460.8L1746,462.1L1746.7,463.3L1747.5,464.5L1748.3,465.8L1749,467L1749.8,468.2L1750.6,469.5L1751.3,470.7L1752.1,471.9L1752.8,473.1L1753.6,474.4L1754.4,475.6L1755.1,476.8L1755.9,478L1756.6,479.2L1757.4,480.4L1758.2,481.6L1758.9,482.8L1759.7,484L1760.4,485.2L1761.2,486.4L1762,487.6L1762.7,488.8L1763.5,490L1764.2,491.1L1765,492.3L1765.8,493.5L1766.5,494.7L1767.3,495.8L1768.1,497L1768.8,498.2L1769.6,499.3L1770.3,500.5L1771.1,501.6L1771.9,502.8L1772.6,503.9L1773.4,505.1L1774.1,506.2L1774.9,507.4L1775.7,508.5L1776.4,509.6L1777.2,510.8L1777.9,511.9L1778.7,513L1779.5,514.1L1780.2,515.3L1781,516.4L1781.8,517.5L1782.5,518.6L1783.3,519.7L1784,520.8L1784.8,521.9L1785.6,523L1786.3,524.1L1787.1,525.2L1787.8,526.3L1788.6,527.3L1789.4,528.4L1790.1,529.5L1790.9,530.6L1791.6,531.6L1792.4,532.7L1793.2,533.8L1793.9,534.8L1794.7,535.9L1795.5,536.9L1796.2,538L1797,539L1797.7,540.1L1798.5,541.1L1799.3,542.1L1800,543.1L1800.8,544.2L1801.5,545.2L1802.3,546.2L1803.1,547.2L1803.8,548.2L1804.6,549.2L1805.3,550.2L1806.1,551.2L1806.9,552.2L1807.6,553.2L1808.4,554.2L1809.2,555.2L1809.9,556.2L1810.7,557.1L1811.4,558.1L1812.2,559.1L1813,560L1813.7,561L1814.5,561.9L1815.2,562.9L1816,563.8L1816.8,564.8L1817.5,565.7L1818.3,566.6L1819,567.6L1819.8,568.5L1820.6,569.4L1821.3,570.3L1822.1,571.2L1822.8,572.2L1823.6,573.1L1824.4,574L1825.1,574.9L1825.9,575.7L1826.7,576.6L1827.4,577.5L1828.2,578.4L1828.9,579.3L1829.7,580.1L1830.5,581L1831.2,581.9L1832,582.7L1832.7,583.6L1833.5,584.4L1834.3,585.3L1835,586.1L1835.8,586.9L1836.5,587.8L1837.3,588.6L1838.1,589.4L1838.8,590.2L1839.6,591L1840.4,591.9L1841.1,592.7L1841.9,593.5L1842.6,594.3L1843.4,595L1844.2,595.8L1844.9,596.6L1845.7,597.4L1846.4,598.2L1847.2,598.9L1848,599.7L1848.7,600.5L1849.5,601.2L1850.2,602L1851,602.7L1851.8,603.5L1852.5,604.2L1853.3,604.9L1854.1,605.7L1854.8,606.4L1855.6,607.1L1856.3,607.8L1857.1,608.5L1857.9,609.2L1858.6,609.9L1859.4,610.6L1860.1,611.3L1860.9,612L1861.7,612.7L1862.4,613.4L1863.2,614L1863.9,614.7L1864.7,615.4L1865.5,616L1866.2,616.7L1867,617.4L1867.8,618L1868.5,618.7L1869.3,619.3L1870,619.9L1870.8,620.6L1871.6,621.2L1872.3,621.8L1873.1,622.4L1873.8,623L1874.6,623.6L1875.4,624.3L1876.1,624.9L1876.9,625.5L1877.6,626L1878.4,626.6L1879.2,627.2L1879.9,627.8L1880.7,628.4L1881.5,628.9L1882.2,629.5L1883,630.1L1883.7,630.6L1884.5,631.2L1885.3,631.7L1886,632.3L1886.8,632.8L1887.5,633.4L1888.3,633.9L1889.1,634.4L1889.8,634.9L1890.6,635.5L1891.3,636L1892.1,636.5L1892.9,637L1893.6,637.5L1894.4,638L1895.1,638.5L1895.9,639L1896.7,639.5L1897.4,640L1898.2,640.4L1899,640.9L1899.7,641.4L1900.5,641.9L1901.2,642.3L1902,642.8L1902.8,643.2L1903.5,643.7L1904.3,644.1L1905,644.6L1905.8,645L1906.6,645.5L1907.3,645.9L1908.1,646.3L1908.8,646.8L1909.6,647.2L1910.4,647.6L1911.1,648L1911.9,648.4L1912.7,648.8L1913.4,649.3L1914.2,649.7L1914.9,650.1L1915.7,650.4L1916.5,650.8L1917.2,651.2L1918,651.6L1918.7,652L1919.5,652.4L1920.3,652.7L1921,653.1L1921.8,653.5L1922.5,653.8L1923.3,654.2L1924.1,654.6L1924.8,654.9L1925.6,655.3L1926.4,655.6L1927.1,656L1927.9,656.3L1928.6,656.6L1929.4,657L1930.2,657.3L1930.9,657.6L1931.7,658L1932.4,658.3L1933.2,658.6L1934,658.9L1934.7,659.2L1935.5,659.5L1936.2,659.8L1937,660.2L1937.8,660.5L1938.5,660.8L1939.3,661L1940.1,661.3L1940.8,661.6L1941.6,661.9L1942.3,662.2L1943.1,662.5L1943.9,662.8L1944.6,663L1945.4,663.3L1946.1,663.6L1946.9,663.8L1947.7,664.1L1948.4,664.4L1949.2,664.6L1949.9,664.9L1950.7,665.1L1951.5,665.4L1952.2,665.7L1953,665.9L1953.7,666.1L1954.5,666.4L1955.3,666.6L1956,666.9L1956.8,667.1L1957.6,667.3L1958.3,667.6L1959.1,667.8L1959.8,668L1960.6,668.2L1961.4,668.5L1962.1,668.7L1962.9,668.9L1963.6,669.1L1964.4,669.3L1965.2,669.5L1965.9,669.7L1966.7,669.9L1967.4,670.1L1968.2,670.3L1969,670.5L1969.7,670.7L1970.5,670.9L1971.3,671.1L1972,671.3L1972.8,671.5L1973.5,671.7L1974.3,671.9L1975.1,672.1L1975.8,672.2L1976.6,672.4L1977.3,672.6L1978.1,672.8L1978.9,672.9L1979.6,673.1L1980.4,673.3L1981.1,673.5L1981.9,673.6L1982.7,673.8L1983.4,673.9L1984.2,674.1L1985,674.3L1985.7,674.4L1986.5,674.6L1987.2,674.7L1988,674.9L1988.8,675L1989.5,675.2L1990.3,675.3L1991,675.5L1991.8,675.6L1992.6,675.8L1993.3,675.9L1994.1,676L1994.8,676.2L1995.6,676.3L1996.4,676.5L1997.1,676.6L1997.9,676.7L1998.7,676.9L1999.4,677L2000.2,677.1L2000.9,677.2L2001.7,677.4L2002.5,677.5L2003.2,677.6L2004,677.7L2004.7,677.8L2005.5,678L2006.3,678.1L2007,678.2L2007.8,678.3L2008.5,678.4L2009.3,678.5L2010.1,678.6L2010.8,678.8L2011.6,678.9L2012.3,679L2013.1,679.1L2013.9,679.2L2014.6,679.3L2015.4,679.4L2016.2,679.5L2016.9,679.6L2017.7,679.7L2018.4,679.8L2019.2,679.9L2020,680L2020.7,680.1L2021.5,680.2L2022.2,680.2L2023,680.3L2023.8,680.4L2024.5,680.5L2025.3,680.6L2026,680.7L2026.8,680.8L2027.6,680.9L2028.3,680.9L2029.1,681L2029.9,681.1L2030.6,681.2L2031.4,681.3L2032.1,681.4L2032.9,681.4L2033.7,681.5L2034.4,681.6L2035.2,681.7L2035.9,681.7L2036.7,681.8L2037.5,681.9L2038.2,682L2039,682L2039.7,682.1L2040.5,682.2L2041.3,682.2L2042,682.3L2042.8,682.4L2043.6,682.4L2044.3,682.5L2045.1,682.6L2045.8,682.6L2046.6,682.7L2047.4,682.8L2048.1,682.8L2048.9,682.9L2049.6,682.9L2050.4,683L2051.2,683.1L2051.9,683.1L2052.7,683.2L2053.4,683.2L2054.2,683.3L2055,683.3L2055.7,683.4L2056.5,683.5L2057.3,683.5L2058,683.6L2058.8,683.6L2059.5,683.7L2060.3,683.7L2061.1,683.8L2061.8,683.8L2062.6,683.9L2063.3,683.9L2064.1,684L2064.9,684L2065.6,684.1L2066.4,684.1L2067.1,684.2L2067.9,684.2L2068.7,684.2L2069.4,684.3L2070.2,684.3L2071,684.4L2071.7,684.4L2072.5,684.5L2073.2,684.5L2074,684.5L2074.8,684.6L2075.5,684.6L2076.3,684.7L2077,684.7L2077.8,684.8L2078.6,684.8L2079.3,684.8L2080.1,684.9L2080.8,684.9L2081.6,684.9L2082.4,685L2083.1,685L2083.9,685L2084.6,685.1L2085.4,685.1L2086.2,685.2L2086.9,685.2L2087.7,685.2L2088.5,685.3L2089.2,685.3L2090,685.3L2090.7,685.4L2091.5,685.4L2092.3,685.4L2093,685.4L2093.8,685.5L2094.5,685.5L2095.3,685.5L2096.1,685.6L2096.8,685.6L2097.6,685.6L2098.3,685.7L2099.1,685.7L2099.9,685.7L2100.6,685.7L2101.4,685.8L2102.2,685.8L2102.9,685.8L2103.7,685.8L2104.4,685.9L2105.2,685.9L2106,685.9L2106.7,685.9L2107.5,686L2108.2,686L2109,686L2109.8,686L2110.5,686.1L2111.3,686.1L2112,686.1L2112.8,686.1L2113.6,686.2L2114.3,686.2L2115.1,686.2L2115.9,686.2L2116.6,686.2L2117.4,686.3L2118.1,686.3L2118.9,686.3L2119.7,686.3L2120.4,686.3L2121.2,686.4L2121.9,686.4L2122.7,686.4L2123.5,686.4L2124.2,686.4L2125,686.5L2125.7,686.5L2126.5,686.5L2127.3,686.5L2128,686.5L2128.8,686.5L2129.6,686.6L2130.3,686.6L2131.1,686.6L2131.8,686.6L2132.6,686.6L2133.4,686.7L2134.1,686.7L2134.9,686.7L2135.6,686.7L2136.4,686.7L2137.2,686.7L2137.9,686.7L2138.7,686.8L2139.4,686.8L2140.2,686.8L2141,686.8L2141.7,686.8L2142.5,686.8L2143.2,686.8L2144,686.9L2144.8,686.9L2145.5,686.9L2146.3,686.9L2147.1,686.9L2147.8,686.9L2148.6,686.9L2149.3,687L2150.1,687L2150.9,687L2151.6,687L2152.4,687L2153.1,687L2153.9,687L2154.7,687L2155.4,687L2156.2,687.1L2156.9,687.1L2157.7,687.1L2158.5,687.1L2159.2,687.1L2160,687.1L2160.8,687.1L2161.5,687.1L2162.3,687.1L2163,687.2L2163.8,687.2L2164.6,687.2L2165.3,687.2L2166.1,687.2L2166.8,687.2L2167.6,687.2L2168.4,687.2L2169.1,687.2L2169.9,687.2L2170.6,687.3L2171.4,687.3L2172.2,687.3L2172.9,687.3L2173.7,687.3L2174.5,687.3L2175.2,687.3L2176,687.3L2176.7,687.3L2177.5,687.3L2178.3,687.3L2179,687.3L2179.8,687.4L2180.5,687.4L2181.3,687.4L2182.1,687.4L2182.8,687.4L2183.6,687.4L2184.3,687.4L2185.1,687.4L2185.9,687.4L2186.6,687.4L2187.4,687.4L2188.2,687.4L2188.9,687.4L2189.7,687.4L2190.4,687.5L2191.2,687.5L2192,687.5L2192.7,687.5L2193.5,687.5L2194.2,687.5L2195,687.5L2195.8,687.5L2196.5,687.5L2197.3,687.5L2198,687.5L2198.8,687.5L2199.6,687.5L2200.3,687.5L2201.1,687.5L2201.8,687.5L2202.6,687.5L2203.4,687.6L2204.1,687.6L2204.9,687.6L2205.7,687.6L2206.4,687.6L2207.2,687.6L2207.9,687.6L2208.7,687.6L2209.5,687.6L2210.2,687.6L2211,687.6L2211.7,687.6L2212.5,687.6L2213.3,687.6L2214,687.6L2214.8,687.6L2215.5,687.6L2216.3,687.6L2217.1,687.6L2217.8,687.6L2218.6,687.6L2219.4,687.7L2220.1,687.7L2220.9,687.7L2221.6,687.7L2222.4,687.7L2223.2,687.7L2223.9,687.7L2224.7,687.7L2225.4,687.7L2226.2,687.7L2227,687.7L2227.7,687.7L2228.5,687.7L2229.2,687.7L2230,687.7L2230.8,687.7L2231.5,687.7L2232.3,687.7L2233.1,687.7L2233.8,687.7L2234.6,687.7L2235.3,687.7L2236.1,687.7L2236.9,687.7L2237.6,687.7L2238.4,687.7L2239.1,687.7L2239.9,687.7L2240.7,687.8L2241.4,687.8L2242.2,687.8L2242.9,687.8L2243.7,687.8L2244.5,687.8L2245.2,687.8L2246,687.8L2246.8,687.8L2247.5,687.8L2248.3,687.8L2249,687.8L2249.8,687.8L2250.6,687.8L2251.3,687.8L2252.1,687.8L2252.8,687.8L2253.6,687.8L2254.4,687.8L2255.1,687.8L2255.9,687.8L2256.6,687.8L2257.4,687.8L2258.2,687.8L2258.9,687.8L2259.7,687.8L2260.5,687.8L2261.2,687.8L2262,687.8L2262.7,687.8L2263.5,687.8L2264.3,687.8L2265,687.8L2265.8,687.8L2266.5,687.8L2267.3,687.8L2268.1,687.8L2268.8,687.8L2269.6,687.8L2270.3,687.8L2271.1,687.8L2271.9,687.8L2272.6,687.8L2273.4,687.8L2274.1,687.9L2274.9,687.9L2275.7,687.9L2276.4,687.9L2277.2,687.9L2278,687.9L2278.7,687.9L2279.5,687.9L2280.2,687.9L2281,687.9L2281.8,687.9L2282.5,687.9L2283.3,687.9L2284,687.9L2284.8,687.9L2285.6,687.9L2286.3,687.9L2287.1,687.9L2287.8,687.9L2288.6,687.9L2289.4,687.9L2290.1,687.9L2290.9,687.9L2291.7,687.9L2292.4,687.9L2293.2,687.9L2293.9,687.9L2294.7,687.9L2295.5,687.9L2296.2,687.9L2297,687.9L2297.7,687.9L2298.5,687.9L2299.3,687.9L2300,687.9L2300.8,687.9L2301.5,687.9L2302.3,687.9L2303.1,687.9L2303.8,687.9L2304.6,687.9L2305.4,687.9L2306.1,687.9L2306.9,687.9L2307.6,687.9L2308.4,687.9L2309.2,687.9L2309.9,687.9L2310.7,687.9L2311.4,687.9L2312.2,687.9L2313,687.9L2313.7,687.9L2314.5,687.9L2315.2,687.9L2316,687.9L2316.8,687.9L2317.5,687.9L2318.3,687.9L2319.1,687.9L2319.8,687.9L2320.6,687.9L2321.3,687.9L2322.1,687.9L2322.9,687.9L2323.6,687.9L2324.4,687.9L2325.1,687.9L2325.9,687.9L2326.7,687.9L2327.4,687.9L2328.2,687.9L2328.9,687.9L2329.7,687.9L2330.5,687.9L2331.2,687.9L2332,687.9L2332.7,687.9L2333.5,687.9L2334.3,687.9L2335,687.9L2335.8,687.9L2336.6,687.9L2337.3,687.9L2338.1,687.9L2338.8,687.9L2339.6,687.9L2340.4,687.9L2341.1,687.9L2341.9,687.9L2342.6,687.9L2343.4,687.9L2344.2,687.9L2344.9,687.9L2345.7,687.9L2346.4,687.9L2347.2,687.9L2348,687.9L2348.7,688L2349.5,688" stroke="#ffff00" stroke-width="2.8"/>
<path d="M1578,161.4L1578.8,163L1579.6,164.6L1580.3,166.2L1581.1,167.8L1581.9,169.4L1582.6,171L1583.4,172.6L1584.1,174.2L1584.9,175.8L1585.7,177.4L1586.4,179L1587.2,180.6L1587.9,182.2L1588.7,183.8L1589.5,185.4L1590.2,187L1591,188.6L1591.7,190.2L1592.5,191.8L1593.3,193.4L1594,195L1594.8,196.6L1595.6,198.2L1596.3,199.8L1597.1,201.3L1597.8,202.9L1598.6,204.5L1599.4,206.1L1600.1,207.7L1600.9,209.3L1601.6,210.9L1602.4,212.5L1603.2,214.1L1603.9,215.7L1604.7,217.3L1605.4,218.9L1606.2,220.5L1607,222L1607.7,223.6L1608.5,225.2L1609.2,226.8L1610,228.4L1610.8,230L1611.5,231.6L1612.3,233.2L1613.1,234.8L1613.8,236.3L1614.6,237.9L1615.3,239.5L1616.1,241.1L1616.9,242.7L1617.6,244.3L1618.4,245.9L1619.1,247.4L1619.9,249L1620.7,250.6L1621.4,252.2L1622.2,253.8L1622.9,255.4L1623.7,256.9L1624.5,258.5L1625.2,260.1L1626,261.7L1626.8,263.3L1627.5,264.8L1628.3,266.4L1629,268L1629.8,269.6L1630.6,271.2L1631.3,272.7L1632.1,274.3L1632.8,275.9L1633.6,277.5L1634.4,279L1635.1,280.6L1635.9,282.2L1636.6,283.8L1637.4,285.3L1638.2,286.9L1638.9,288.5L1639.7,290L1640.5,291.6L1641.2,293.2L1642,294.8L1642.7,296.3L1643.5,297.9L1644.3,299.5L1645,301L1645.8,302.6L1646.5,304.2L1647.3,305.7L1648.1,307.3L1648.8,308.9L1649.6,310.4L1650.3,312L1651.1,313.5L1651.9,315.1L1652.6,316.7L1653.4,318.2L1654.2,319.8L1654.9,321.3L1655.7,322.9L1656.4,324.5L1657.2,326L1658,327.6L1658.7,329.1L1659.5,330.7L1660.2,332.2L1661,333.8L1661.8,335.3L1662.5,336.9L1663.3,338.4L1664,340L1664.8,341.5L1665.6,343.1L1666.3,344.6L1667.1,346.2L1667.9,347.7L1668.6,349.2L1669.4,350.8L1670.1,352.3L1670.9,353.9L1671.7,355.4L1672.4,356.9L1673.2,358.5L1673.9,360L1674.7,361.6L1675.5,363.1L1676.2,364.6L1677,366.1L1677.7,367.7L1678.5,369.2L1679.3,370.7L1680,372.3L1680.8,373.8L1681.5,375.3L1682.3,376.8L1683.1,378.4L1683.8,379.9L1684.6,381.4L1685.4,382.9L1686.1,384.4L1686.9,386L1687.6,387.5L1688.4,389L1689.2,390.5L1689.9,392L1690.7,393.5L1691.4,395L1692.2,396.5L1693,398.1L1693.7,399.6L1694.5,401.1L1695.2,402.6L1696,404.1L1696.8,405.6L1697.5,407.1L1698.3,408.6L1699.1,410.1L1699.8,411.5L1700.6,413L1701.3,414.5L1702.1,416L1702.9,417.5L1703.6,419L1704.4,420.5L1705.1,422L1705.9,423.4L1706.7,424.9L1707.4,426.4L1708.2,427.9L1708.9,429.3L1709.7,430.8L1710.5,432.3L1711.2,433.8L1712,435.2L1712.8,436.7L1713.5,438.1L1714.3,439.6L1715,441.1L1715.8,442.5L1716.6,444L1717.3,445.4L1718.1,446.9L1718.8,448.3L1719.6,449.8L1720.4,451.2L1721.1,452.7L1721.9,454.1L1722.6,455.6L1723.4,457L1724.2,458.4L1724.9,459.9L1725.7,461.3L1726.5,462.7L1727.2,464.1L1728,465.6L1728.7,467L1729.5,468.4L1730.3,469.8L1731,471.2L1731.8,472.7L1732.5,474.1L1733.3,475.5L1734.1,476.9L1734.8,478.3L1735.6,479.7L1736.3,481.1L1737.1,482.5L1737.9,483.9L1738.6,485.3L1739.4,486.6L1740.1,488L1740.9,489.4L1741.7,490.8L1742.4,492.2L1743.2,493.5L1744,494.9L1744.7,496.3L1745.5,497.6L1746.2,499L1747,500.4L1747.8,501.7L1748.5,503.1L1749.3,504.4L1750,505.8L1750.8,507.1L1751.6,508.5L1752.3,509.8L1753.1,511.1L1753.8,512.5L1754.6,513.8L1755.4,515.1L1756.1,516.4L1756.9,517.8L1757.7,519.1L1758.4,520.4L1759.2,521.7L1759.9,523L1760.7,524.3L1761.5,525.6L1762.2,526.9L1763,528.2L1763.7,529.5L1764.5,530.8L1765.3,532.1L1766,533.3L1766.8,534.6L1767.5,535.9L1768.3,537.2L1769.1,538.4L1769.8,539.7L1770.6,540.9L1771.4,542.2L1772.1,543.4L1772.9,544.7L1773.6,545.9L1774.4,547.2L1775.2,548.4L1775.9,549.6L1776.7,550.9L1777.4,552.1L1778.2,553.3L1779,554.5L1779.7,555.7L1780.5,556.9L1781.2,558.1L1782,559.3L1782.8,560.5L1783.5,561.7L1784.3,562.9L1785.1,564.1L1785.8,565.2L1786.6,566.4L1787.3,567.6L1788.1,568.7L1788.9,569.9L1789.6,571.1L1790.4,572.2L1791.1,573.4L1791.9,574.5L1792.7,575.6L1793.4,576.8L1794.2,577.9L1794.9,579L1795.7,580.1L1796.5,581.2L1797.2,582.4L1798,583.5L1798.7,584.6L1799.5,585.7L1800.3,586.7L1801,587.8L1801.8,588.9L1802.6,590L1803.3,591.1L1804.1,592.1L1804.8,593.2L1805.6,594.2L1806.4,595.3L1807.1,596.3L1807.9,597.4L1808.6,598.4L1809.4,599.4L1810.2,600.5L1810.9,601.5L1811.7,602.5L1812.4,603.5L1813.2,604.5L1814,605.5L1814.7,606.5L1815.5,607.5L1816.3,608.5L1817,609.5L1817.8,610.4L1818.5,611.4L1819.3,612.4L1820.1,613.3L1820.8,614.3L1821.6,615.2L1822.3,616.2L1823.1,617.1L1823.9,618.1L1824.6,619L1825.4,619.9L1826.1,620.8L1826.9,621.7L1827.7,622.6L1828.4,623.5L1829.2,624.4L1830,625.3L1830.7,626.2L1831.5,627.1L1832.2,628L1833,628.8L1833.8,629.7L1834.5,630.6L1835.3,631.4L1836,632.3L1836.8,633.1L1837.6,633.9L1838.3,634.8L1839.1,635.6L1839.8,636.4L1840.6,637.2L1841.4,638L1842.1,638.8L1842.9,639.6L1843.7,640.4L1844.4,641.2L1845.2,642L1845.9,642.8L1846.7,643.5L1847.5,644.3L1848.2,645.1L1849,645.8L1849.7,646.6L1850.5,647.3L1851.3,648.1L1852,648.8L1852.8,649.5L1853.5,650.2L1854.3,651L1855.1,651.7L1855.8,652.4L1856.6,653.1L1857.4,653.8L1858.1,654.5L1858.9,655.1L1859.6,655.8L1860.4,656.5L1861.2,657.2L1861.9,657.8L1862.7,658.5L1863.4,659.1L1864.2,659.8L1865,660.4L1865.7,661.1L1866.5,661.7L1867.2,662.3L1868,663L1868.8,663.6L1869.5,664.2L1870.3,664.8L1871,665.4L1871.8,666L1872.6,666.6L1873.3,667.2L1874.1,667.7L1874.9,668.3L1875.6,668.9L1876.4,669.5L1877.1,670L1877.9,670.6L1878.7,671.1L1879.4,671.7L1880.2,672.2L1880.9,672.8L1881.7,673.3L1882.5,673.8L1883.2,674.3L1884,674.9L1884.7,675.4L1885.5,675.9L1886.3,676.4L1887,676.9L1887.8,677.4L1888.6,677.9L1889.3,678.4L1890.1,678.8L1890.8,679.3L1891.6,679.8L1892.4,680.3L1893.1,680.7L1893.9,681.2L1894.6,681.6L1895.4,682.1L1896.2,682.5L1896.9,683L1897.7,683.4L1898.4,683.8L1899.2,684.3L1900,684.7L1900.7,685.1L1901.5,685.5L1902.3,685.9L1903,686.3L1903.8,686.8L1904.5,687.2L1905.3,687.5L1906.1,687.9L1906.8,688.3L1907.6,688.7L1908.3,689.1L1909.1,689.5L1909.9,689.8L1910.6,690.2L1911.4,690.6L1912.1,690.9L1912.9,691.3L1913.7,691.6L1914.4,692L1915.2,692.3L1916,692.7L1916.7,693L1917.5,693.3L1918.2,693.7L1919,694L1919.8,694.3L1920.5,694.7L1921.3,695L1922,695.3L1922.8,695.6L1923.6,695.9L1924.3,696.2L1925.1,696.5L1925.8,696.8L1926.6,697.1L1927.4,697.4L1928.1,697.7L1928.9,698L1929.6,698.2L1930.4,698.5L1931.2,698.8L1931.9,699.1L1932.7,699.3L1933.5,699.6L1934.2,699.9L1935,700.1L1935.7,700.4L1936.5,700.6L1937.3,700.9L1938,701.1L1938.8,701.4L1939.5,701.6L1940.3,701.9L1941.1,702.1L1941.8,702.3L1942.6,702.6L1943.3,702.8L1944.1,703L1944.9,703.3L1945.6,703.5L1946.4,703.7L1947.2,703.9L1947.9,704.1L1948.7,704.3L1949.4,704.5L1950.2,704.7L1951,705L1951.7,705.2L1952.5,705.4L1953.2,705.6L1954,705.7L1954.8,705.9L1955.5,706.1L1956.3,706.3L1957,706.5L1957.8,706.7L1958.6,706.9L1959.3,707L1960.1,707.2L1960.9,707.4L1961.6,707.6L1962.4,707.7L1963.1,707.9L1963.9,708.1L1964.7,708.2L1965.4,708.4L1966.2,708.6L1966.9,708.7L1967.7,708.9L1968.5,709L1969.2,709.2L1970,709.3L1970.7,709.5L1971.5,709.6L1972.3,709.8L1973,709.9L1973.8,710.1L1974.6,710.2L1975.3,710.4L1976.1,710.5L1976.8,710.6L1977.6,710.8L1978.4,710.9L1979.1,711L1979.9,711.2L1980.6,711.3L1981.4,711.4L1982.2,711.5L1982.9,711.7L1983.7,711.8L1984.4,711.9L1985.2,712L1986,712.1L1986.7,712.2L1987.5,712.4L1988.3,712.5L1989,712.6L1989.8,712.7L1990.5,712.8L1991.3,712.9L1992.1,713L1992.8,713.1L1993.6,713.2L1994.3,713.3L1995.1,713.4L1995.9,713.5L1996.6,713.6L1997.4,713.7L1998.1,713.8L1998.9,713.9L1999.7,714L2000.4,714.1L2001.2,714.2L2001.9,714.3L2002.7,714.4L2003.5,714.4L2004.2,714.5L2005,714.6L2005.8,714.7L2006.5,714.8L2007.3,714.9L2008,714.9L2008.8,715L2009.6,715.1L2010.3,715.2L2011.1,715.3L2011.8,715.3L2012.6,715.4L2013.4,715.5L2014.1,715.6L2014.9,715.6L2015.6,715.7L2016.4,715.8L2017.2,715.8L2017.9,715.9L2018.7,716L2019.5,716L2020.2,716.1L2021,716.2L2021.7,716.2L2022.5,716.3L2023.3,716.4L2024,716.4L2024.8,716.5L2025.5,716.6L2026.3,716.6L2027.1,716.7L2027.8,716.7L2028.6,716.8L2029.3,716.8L2030.1,716.9L2030.9,717L2031.6,717L2032.4,717.1L2033.2,717.1L2033.9,717.2L2034.7,717.2L2035.4,717.3L2036.2,717.3L2037,717.4L2037.7,717.4L2038.5,717.5L2039.2,717.5L2040,717.6L2040.8,717.6L2041.5,717.7L2042.3,717.7L2043,717.7L2043.8,717.8L2044.6,717.8L2045.3,717.9L2046.1,717.9L2046.9,718L2047.6,718L2048.4,718L2049.1,718.1L2049.9,718.1L2050.7,718.2L2051.4,718.2L2052.2,718.2L2052.9,718.3L2053.7,718.3L2054.5,718.3L2055.2,718.4L2056,718.4L2056.7,718.5L2057.5,718.5L2058.3,718.5L2059,718.6L2059.8,718.6L2060.5,718.6L2061.3,718.7L2062.1,718.7L2062.8,718.7L2063.6,718.8L2064.4,718.8L2065.1,718.8L2065.9,718.8L2066.6,718.9L2067.4,718.9L2068.2,718.9L2068.9,719L2069.7,719L2070.4,719L2071.2,719L2072,719.1L2072.7,719.1L2073.5,719.1L2074.2,719.1L2075,719.2L2075.8,719.2L2076.5,719.2L2077.3,719.2L2078.1,719.3L2078.8,719.3L2079.6,719.3L2080.3,719.3L2081.1,719.4L2081.9,719.4L2082.6,719.4L2083.4,719.4L2084.1,719.5L2084.9,719.5L2085.7,719.5L2086.4,719.5L2087.2,719.5L2087.9,719.6L2088.7,719.6L2089.5,719.6L2090.2,719.6L2091,719.6L2091.8,719.7L2092.5,719.7L2093.3,719.7L2094,719.7L2094.8,719.7L2095.6,719.8L2096.3,719.8L2097.1,719.8L2097.8,719.8L2098.6,719.8L2099.4,719.8L2100.1,719.9L2100.9,719.9L2101.6,719.9L2102.4,719.9L2103.2,719.9L2103.9,719.9L2104.7,720L2105.5,720L2106.2,720L2107,720L2107.7,720L2108.5,720L2109.3,720L2110,720.1L2110.8,720.1L2111.5,720.1L2112.3,720.1L2113.1,720.1L2113.8,720.1L2114.6,720.1L2115.3,720.1L2116.1,720.2L2116.9,720.2L2117.6,720.2L2118.4,720.2L2119.1,720.2L2119.9,720.2L2120.7,720.2L2121.4,720.2L2122.2,720.3L2123,720.3L2123.7,720.3L2124.5,720.3L2125.2,720.3L2126,720.3L2126.8,720.3L2127.5,720.3L2128.3,720.3L2129,720.3L2129.8,720.4L2130.6,720.4L2131.3,720.4L2132.1,720.4L2132.8,720.4L2133.6,720.4L2134.4,720.4L2135.1,720.4L2135.9,720.4L2136.7,720.4L2137.4,720.5L2138.2,720.5L2138.9,720.5L2139.7,720.5L2140.5,720.5L2141.2,720.5L2142,720.5L2142.7,720.5L2143.5,720.5L2144.3,720.5L2145,720.5L2145.8,720.5L2146.5,720.5L2147.3,720.6L2148.1,720.6L2148.8,720.6L2149.6,720.6L2150.4,720.6L2151.1,720.6L2151.9,720.6L2152.6,720.6L2153.4,720.6L2154.2,720.6L2154.9,720.6L2155.7,720.6L2156.4,720.6L2157.2,720.6L2158,720.6L2158.7,720.7L2159.5,720.7L2160.2,720.7L2161,720.7L2161.8,720.7L2162.5,720.7L2163.3,720.7L2164.1,720.7L2164.8,720.7L2165.6,720.7L2166.3,720.7L2167.1,720.7L2167.9,720.7L2168.6,720.7L2169.4,720.7L2170.1,720.7L2170.9,720.7L2171.7,720.7L2172.4,720.7L2173.2,720.7L2173.9,720.8L2174.7,720.8L2175.5,720.8L2176.2,720.8L2177,720.8L2177.8,720.8L2178.5,720.8L2179.3,720.8L2180,720.8L2180.8,720.8L2181.6,720.8L2182.3,720.8L2183.1,720.8L2183.8,720.8L2184.6,720.8L2185.4,720.8L2186.1,720.8L2186.9,720.8L2187.6,720.8L2188.4,720.8L2189.2,720.8L2189.9,720.8L2190.7,720.8L2191.4,720.8L2192.2,720.8L2193,720.8L2193.7,720.9L2194.5,720.9L2195.3,720.9L2196,720.9L2196.8,720.9L2197.5,720.9L2198.3,720.9L2199.1,720.9L2199.8,720.9L2200.6,720.9L2201.3,720.9L2202.1,720.9L2202.9,720.9L2203.6,720.9L2204.4,720.9L2205.1,720.9L2205.9,720.9L2206.7,720.9L2207.4,720.9L2208.2,720.9L2209,720.9L2209.7,720.9L2210.5,720.9L2211.2,720.9L2212,720.9L2212.8,720.9L2213.5,720.9L2214.3,720.9L2215,720.9L2215.8,720.9L2216.6,720.9L2217.3,720.9L2218.1,720.9L2218.8,720.9L2219.6,720.9L2220.4,720.9L2221.1,720.9L2221.9,720.9L2222.7,720.9L2223.4,720.9L2224.2,721L2224.9,721L2225.7,721L2226.5,721L2227.2,721L2228,721L2228.7,721L2229.5,721L2230.3,721L2231,721L2231.8,721L2232.5,721L2233.3,721L2234.1,721L2234.8,721L2235.6,721L2236.4,721L2237.1,721L2237.9,721L2238.6,721L2239.4,721L2240.2,721L2240.9,721L2241.7,721L2242.4,721L2243.2,721L2244,721L2244.7,721L2245.5,721L2246.2,721L2247,721L2247.8,721L2248.5,721L2249.3,721L2250,721L2250.8,721L2251.6,721L2252.3,721L2253.1,721L2253.9,721L2254.6,721L2255.4,721L2256.1,721L2256.9,721L2257.7,721L2258.4,721L2259.2,721L2259.9,721L2260.7,721L2261.5,721L2262.2,721L2263,721L2263.7,721L2264.5,721L2265.3,721L2266,721L2266.8,721L2267.6,721L2268.3,721L2269.1,721L2269.8,721L2270.6,721L2271.4,721L2272.1,721L2272.9,721L2273.6,721L2274.4,721L2275.2,721L2275.9,721L2276.7,721L2277.4,721L2278.2,721L2279,721L2279.7,721L2280.5,721L2281.3,721L2282,721L2282.8,721L2283.5,721L2284.3,721L2285.1,721L2285.8,721L2286.6,721L2287.3,721L2288.1,721L2288.9,721L2289.6,721L2290.4,721L2291.1,721L2291.9,721L2292.7,721L2293.4,721L2294.2,721L2295,721L2295.7,721.1L2296.5,721.1L2297.2,721.1L2298,721.1L2298.8,721.1L2299.5,721.1L2300.3,721.1L2301,721.1L2301.8,721.1L2302.6,721.1L2303.3,721.1L2304.1,721.1L2304.8,721.1L2305.6,721.1L2306.4,721.1L2307.1,721.1L2307.9,721.1L2308.6,721.1L2309.4,721.1L2310.2,721.1L2310.9,721.1L2311.7,721.1L2312.5,721.1L2313.2,721.1L2314,721.1L2314.7,721.1L2315.5,721.1L2316.3,721.1L2317,721.1L2317.8,721.1L2318.5,721.1L2319.3,721.1L2320.1,721.1L2320.8,721.1L2321.6,721.1L2322.3,721.1L2323.1,721.1L2323.9,721.1L2324.6,721.1L2325.4,721.1L2326.2,721.1L2326.9,721.1L2327.7,721.1L2328.4,721.1L2329.2,721.1L2330,721.1L2330.7,721.1L2331.5,721.1L2332.2,721.1L2333,721.1L2333.8,721.1L2334.5,721.1L2335.3,721.1L2336,721.1L2336.8,721.1L2337.6,721.1L2338.3,721.1L2339.1,721.1L2339.9,721.1L2340.6,721.1L2341.4,721.1L2342.1,721.1L2342.9,721.1L2343.7,721.1L2344.4,721.1L2345.2,721.1L2345.9,721.1L2346.7,721.1L2347.5,721.1L2348.2,721.1L2349,721.1L2349.7,721.1" stroke="#ffdcdc" stroke-width="2.2"/>
<path d="M1571.7,150.1L1572.5,150.8L1573.2,152.9L1574,155L1574.7,157.1L1575.5,159.2L1576.3,161.3L1577,163.4L1577.8,165.5L1578.6,167.6L1579.3,169.7L1580.1,171.8L1580.8,173.9L1581.6,176L1582.4,178.1L1583.1,180.1L1583.9,182.2L1584.6,184.3L1585.4,186.4L1586.2,188.5L1586.9,190.6L1587.7,192.7L1588.4,194.8L1589.2,196.9L1590,199L1590.7,201.1L1591.5,203.2L1592.3,205.3L1593,207.4L1593.8,209.5L1594.5,211.5L1595.3,213.6L1596.1,215.7L1596.8,217.8L1597.6,219.9L1598.3,222L1599.1,224.1L1599.9,226.2L1600.6,228.2L1601.4,230.3L1602.1,232.4L1602.9,234.5L1603.7,236.6L1604.4,238.7L1605.2,240.8L1606,242.8L1606.7,244.9L1607.5,247L1608.2,249.1L1609,251.2L1609.8,253.3L1610.5,255.3L1611.3,257.4L1612,259.5L1612.8,261.6L1613.6,263.6L1614.3,265.7L1615.1,267.8L1615.8,269.9L1616.6,272L1617.4,274L1618.1,276.1L1618.9,278.2L1619.7,280.2L1620.4,282.3L1621.2,284.4L1621.9,286.5L1622.7,288.5L1623.5,290.6L1624.2,292.7L1625,294.7L1625.7,296.8L1626.5,298.9L1627.3,300.9L1628,303L1628.8,305.1L1629.5,307.1L1630.3,309.2L1631.1,311.2L1631.8,313.3L1632.6,315.4L1633.3,317.4L1634.1,319.5L1634.9,321.5L1635.6,323.6L1636.4,325.6L1637.2,327.7L1637.9,329.7L1638.7,331.8L1639.4,333.8L1640.2,335.9L1641,337.9L1641.7,340L1642.5,342L1643.2,344.1L1644,346.1L1644.8,348.2L1645.5,350.2L1646.3,352.2L1647,354.3L1647.8,356.3L1648.6,358.3L1649.3,360.4L1650.1,362.4L1650.9,364.4L1651.6,366.5L1652.4,368.5L1653.1,370.5L1653.9,372.6L1654.7,374.6L1655.4,376.6L1656.2,378.6L1656.9,380.6L1657.7,382.7L1658.5,384.7L1659.2,386.7L1660,388.7L1660.7,390.7L1661.5,392.7L1662.3,394.7L1663,396.7L1663.8,398.7L1664.6,400.7L1665.3,402.7L1666.1,404.7L1666.8,406.7L1667.6,408.7L1668.4,410.7L1669.1,412.7L1669.9,414.7L1670.6,416.7L1671.4,418.7L1672.2,420.7L1672.9,422.6L1673.7,424.6L1674.4,426.6L1675.2,428.6L1676,430.5L1676.7,432.5L1677.5,434.5L1678.3,436.4L1679,438.4L1679.8,440.3L1680.5,442.3L1681.3,444.3L1682.1,446.2L1682.8,448.2L1683.6,450.1L1684.3,452L1685.1,454L1685.9,455.9L1686.6,457.9L1687.4,459.8L1688.1,461.7L1688.9,463.6L1689.7,465.6L1690.4,467.5L1691.2,469.4L1691.9,471.3L1692.7,473.2L1693.5,475.1L1694.2,477L1695,478.9L1695.8,480.8L1696.5,482.7L1697.3,484.6L1698,486.5L1698.8,488.4L1699.6,490.3L1700.3,492.1L1701.1,494L1701.8,495.9L1702.6,497.7L1703.4,499.6L1704.1,501.5L1704.9,503.3L1705.6,505.2L1706.4,507L1707.2,508.8L1707.9,510.7L1708.7,512.5L1709.5,514.3L1710.2,516.2L1711,518L1711.7,519.8L1712.5,521.6L1713.3,523.4L1714,525.2L1714.8,527L1715.5,528.8L1716.3,530.6L1717.1,532.4L1717.8,534.1L1718.6,535.9L1719.3,537.7L1720.1,539.4L1720.9,541.2L1721.6,542.9L1722.4,544.7L1723.2,546.4L1723.9,548.1L1724.7,549.9L1725.4,551.6L1726.2,553.3L1727,555L1727.7,556.7L1728.5,558.4L1729.2,560.1L1730,561.8L1730.8,563.5L1731.5,565.2L1732.3,566.8L1733,568.5L1733.8,570.2L1734.6,571.8L1735.3,573.5L1736.1,575.1L1736.9,576.7L1737.6,578.4L1738.4,580L1739.1,581.6L1739.9,583.2L1740.7,584.8L1741.4,586.4L1742.2,588L1742.9,589.5L1743.7,591.1L1744.5,592.7L1745.2,594.2L1746,595.8L1746.7,597.3L1747.5,598.9L1748.3,600.4L1749,601.9L1749.8,603.4L1750.6,604.9L1751.3,606.4L1752.1,607.9L1752.8,609.4L1753.6,610.9L1754.4,612.3L1755.1,613.8L1755.9,615.2L1756.6,616.7L1757.4,618.1L1758.2,619.5L1758.9,620.9L1759.7,622.4L1760.4,623.8L1761.2,625.1L1762,626.5L1762.7,627.9L1763.5,629.3L1764.2,630.6L1765,632L1765.8,633.3L1766.5,634.7L1767.3,636L1768.1,637.3L1768.8,638.6L1769.6,639.9L1770.3,641.2L1771.1,642.5L1771.9,643.7L1772.6,645L1773.4,646.2L1774.1,647.5L1774.9,648.7L1775.7,650L1776.4,651.2L1777.2,652.4L1777.9,653.6L1778.7,654.8L1779.5,655.9L1780.2,657.1L1781,658.3L1781.8,659.4L1782.5,660.6L1783.3,661.7L1784,662.8L1784.8,664L1785.6,665.1L1786.3,666.2L1787.1,667.2L1787.8,668.3L1788.6,669.4L1789.4,670.5L1790.1,671.5L1790.9,672.5L1791.6,673.6L1792.4,674.6L1793.2,675.6L1793.9,676.6L1794.7,677.6L1795.5,678.6L1796.2,679.6L1797,680.5L1797.7,681.5L1798.5,682.5L1799.3,683.4L1800,684.3L1800.8,685.2L1801.5,686.2L1802.3,687.1L1803.1,688L1803.8,688.8L1804.6,689.7L1805.3,690.6L1806.1,691.4L1806.9,692.3L1807.6,693.1L1808.4,694L1809.2,694.8L1809.9,695.6L1810.7,696.4L1811.4,697.2L1812.2,698L1813,698.8L1813.7,699.5L1814.5,700.3L1815.2,701.1L1816,701.8L1816.8,702.5L1817.5,703.3L1818.3,704L1819,704.7L1819.8,705.4L1820.6,706.1L1821.3,706.8L1822.1,707.5L1822.8,708.1L1823.6,708.8L1824.4,709.4L1825.1,710.1L1825.9,710.7L1826.7,711.4L1827.4,712L1828.2,712.6L1828.9,713.2L1829.7,713.8L1830.5,714.4L1831.2,715L1832,715.6L1832.7,716.1L1833.5,716.7L1834.3,717.2L1835,717.8L1835.8,718.3L1836.5,718.9L1837.3,719.4L1838.1,719.9L1838.8,720.4L1839.6,720.9L1840.4,721.4L1841.1,721.9L1841.9,722.4L1842.6,722.9L1843.4,723.4L1844.2,723.8L1844.9,724.3L1845.7,724.8L1846.4,725.2L1847.2,725.6L1848,726.1L1848.7,726.5L1849.5,726.9L1850.2,727.4L1851,727.8L1851.8,728.2L1852.5,728.6L1853.3,729L1854.1,729.4L1854.8,729.7L1855.6,730.1L1856.3,730.5L1857.1,730.9L1857.9,731.2L1858.6,731.6L1859.4,731.9L1860.1,732.3L1860.9,732.6L1861.7,733L1862.4,733.3L1863.2,733.6L1863.9,733.9L1864.7,734.3L1865.5,734.6L1866.2,734.9L1867,735.2L1867.8,735.5L1868.5,735.8L1869.3,736.1L1870,736.3L1870.8,736.6L1871.6,736.9L1872.3,737.2L1873.1,737.4L1873.8,737.7L1874.6,738L1875.4,738.2L1876.1,738.5L1876.9,738.7L1877.6,739L1878.4,739.2L1879.2,739.4L1879.9,739.7L1880.7,739.9L1881.5,740.1L1882.2,740.4L1883,740.6L1883.7,740.8L1884.5,741L1885.3,741.2L1886,741.4L1886.8,741.6L1887.5,741.8L1888.3,742L1889.1,742.2L1889.8,742.4L1890.6,742.6L1891.3,742.8L1892.1,743L1892.9,743.1L1893.6,743.3L1894.4,743.5L1895.1,743.7L1895.9,743.8L1896.7,744L1897.4,744.1L1898.2,744.3L1899,744.5L1899.7,744.6L1900.5,744.8L1901.2,744.9L1902,745.1L1902.8,745.2L1903.5,745.3L1904.3,745.5L1905,745.6L1905.8,745.8L1906.6,745.9L1907.3,746L1908.1,746.2L1908.8,746.3L1909.6,746.4L1910.4,746.5L1911.1,746.6L1911.9,746.8L1912.7,746.9L1913.4,747L1914.2,747.1L1914.9,747.2L1915.7,747.3L1916.5,747.4L1917.2,747.5L1918,747.6L1918.7,747.7L1919.5,747.8L1920.3,747.9L1921,748L1921.8,748.1L1922.5,748.2L1923.3,748.3L1924.1,748.4L1924.8,748.5L1925.6,748.6L1926.4,748.7L1927.1,748.8L1927.9,748.8L1928.6,748.9L1929.4,749L1930.2,749.1L1930.9,749.2L1931.7,749.2L1932.4,749.3L1933.2,749.4L1934,749.5L1934.7,749.5L1935.5,749.6L1936.2,749.7L1937,749.7L1937.8,749.8L1938.5,749.9L1939.3,749.9L1940.1,750L1940.8,750.1L1941.6,750.1L1942.3,750.2L1943.1,750.2L1943.9,750.3L1944.6,750.4L1945.4,750.4L1946.1,750.5L1946.9,750.5L1947.7,750.6L1948.4,750.6L1949.2,750.7L1949.9,750.7L1950.7,750.8L1951.5,750.8L1952.2,750.9L1953,750.9L1953.7,751L1954.5,751L1955.3,751.1L1956,751.1L1956.8,751.2L1957.6,751.2L1958.3,751.2L1959.1,751.3L1959.8,751.3L1960.6,751.4L1961.4,751.4L1962.1,751.4L1962.9,751.5L1963.6,751.5L1964.4,751.6L1965.2,751.6L1965.9,751.6L1966.7,751.7L1967.4,751.7L1968.2,751.7L1969,751.8L1969.7,751.8L1970.5,751.8L1971.3,751.9L1972,751.9L1972.8,751.9L1973.5,751.9L1974.3,752L1975.1,752L1975.8,752L1976.6,752.1L1977.3,752.1L1978.1,752.1L1978.9,752.1L1979.6,752.2L1980.4,752.2L1981.1,752.2L1981.9,752.2L1982.7,752.3L1983.4,752.3L1984.2,752.3L1985,752.3L1985.7,752.4L1986.5,752.4L1987.2,752.4L1988,752.4L1988.8,752.4L1989.5,752.5L1990.3,752.5L1991,752.5L1991.8,752.5L1992.6,752.5L1993.3,752.6L1994.1,752.6L1994.8,752.6L1995.6,752.6L1996.4,752.6L1997.1,752.7L1997.9,752.7L1998.7,752.7L1999.4,752.7L2000.2,752.7L2000.9,752.7L2001.7,752.8L2002.5,752.8L2003.2,752.8L2004,752.8L2004.7,752.8L2005.5,752.8L2006.3,752.8L2007,752.9L2007.8,752.9L2008.5,752.9L2009.3,752.9L2010.1,752.9L2010.8,752.9L2011.6,752.9L2012.3,752.9L2013.1,753L2013.9,753L2014.6,753L2015.4,753L2016.2,753L2016.9,753L2017.7,753L2018.4,753L2019.2,753L2020,753.1L2020.7,753.1L2021.5,753.1L2022.2,753.1L2023,753.1L2023.8,753.1L2024.5,753.1L2025.3,753.1L2026,753.1L2026.8,753.1L2027.6,753.1L2028.3,753.2L2029.1,753.2L2029.9,753.2L2030.6,753.2L2031.4,753.2L2032.1,753.2L2032.9,753.2L2033.7,753.2L2034.4,753.2L2035.2,753.2L2035.9,753.2L2036.7,753.2L2037.5,753.2L2038.2,753.3L2039,753.3L2039.7,753.3L2040.5,753.3L2041.3,753.3L2042,753.3L2042.8,753.3L2043.6,753.3L2044.3,753.3L2045.1,753.3L2045.8,753.3L2046.6,753.3L2047.4,753.3L2048.1,753.3L2048.9,753.3L2049.6,753.3L2050.4,753.3L2051.2,753.4L2051.9,753.4L2052.7,753.4L2053.4,753.4L2054.2,753.4L2055,753.4L2055.7,753.4L2056.5,753.4L2057.3,753.4L2058,753.4L2058.8,753.4L2059.5,753.4L2060.3,753.4L2061.1,753.4L2061.8,753.4L2062.6,753.4L2063.3,753.4L2064.1,753.4L2064.9,753.4L2065.6,753.4L2066.4,753.4L2067.1,753.4L2067.9,753.4L2068.7,753.4L2069.4,753.4L2070.2,753.5L2071,753.5L2071.7,753.5L2072.5,753.5L2073.2,753.5L2074,753.5L2074.8,753.5L2075.5,753.5L2076.3,753.5L2077,753.5L2077.8,753.5L2078.6,753.5L2079.3,753.5L2080.1,753.5L2080.8,753.5L2081.6,753.5L2082.4,753.5L2083.1,753.5L2083.9,753.5L2084.6,753.5L2085.4,753.5L2086.2,753.5L2086.9,753.5L2087.7,753.5L2088.5,753.5L2089.2,753.5L2090,753.5L2090.7,753.5L2091.5,753.5L2092.3,753.5L2093,753.5L2093.8,753.5L2094.5,753.5L2095.3,753.5L2096.1,753.5L2096.8,753.5L2097.6,753.5L2098.3,753.5L2099.1,753.5L2099.9,753.5L2100.6,753.5L2101.4,753.5L2102.2,753.5L2102.9,753.5L2103.7,753.6L2104.4,753.6L2105.2,753.6L2106,753.6L2106.7,753.6L2107.5,753.6L2108.2,753.6L2109,753.6L2109.8,753.6L2110.5,753.6L2111.3,753.6L2112,753.6L2112.8,753.6L2113.6,753.6L2114.3,753.6L2115.1,753.6L2115.9,753.6L2116.6,753.6L2117.4,753.6L2118.1,753.6L2118.9,753.6L2119.7,753.6L2120.4,753.6L2121.2,753.6L2121.9,753.6L2122.7,753.6L2123.5,753.6L2124.2,753.6L2125,753.6L2125.7,753.6L2126.5,753.6L2127.3,753.6L2128,753.6L2128.8,753.6L2129.6,753.6L2130.3,753.6L2131.1,753.6L2131.8,753.6L2132.6,753.6L2133.4,753.6L2134.1,753.6L2134.9,753.6L2135.6,753.6L2136.4,753.6L2137.2,753.6L2137.9,753.6L2138.7,753.6L2139.4,753.6L2140.2,753.6L2141,753.6L2141.7,753.6L2142.5,753.6L2143.2,753.6L2144,753.6L2144.8,753.6L2145.5,753.6L2146.3,753.6L2147.1,753.6L2147.8,753.6L2148.6,753.6L2149.3,753.6L2150.1,753.6L2150.9,753.6L2151.6,753.6L2152.4,753.6L2153.1,753.6L2153.9,753.6L2154.7,753.6L2155.4,753.6L2156.2,753.6L2156.9,753.6L2157.7,753.6L2158.5,753.6L2159.2,753.6L2160,753.6L2160.8,753.6L2161.5,753.6L2162.3,753.6L2163,753.6L2163.8,753.6L2164.6,753.6L2165.3,753.6L2166.1,753.6L2166.8,753.6L2167.6,753.6L2168.4,753.6L2169.1,753.6L2169.9,753.6L2170.6,753.6L2171.4,753.6L2172.2,753.6L2172.9,753.6L2173.7,753.6L2174.5,753.6L2175.2,753.6L2176,753.6L2176.7,753.6L2177.5,753.6L2178.3,753.6L2179,753.6L2179.8,753.6L2180.5,753.6L2181.3,753.6L2182.1,753.6L2182.8,753.6L2183.6,753.6L2184.3,753.6L2185.1,753.6L2185.9,753.6L2186.6,753.6L2187.4,753.6L2188.2,753.6L2188.9,753.6L2189.7,753.6L2190.4,753.6L2191.2,753.6L2192,753.6L2192.7,753.6L2193.5,753.6L2194.2,753.6L2195,753.6L2195.8,753.6L2196.5,753.6L2197.3,753.6L2198,753.6L2198.8,753.6L2199.6,753.6L2200.3,753.6L2201.1,753.6L2201.8,753.6L2202.6,753.6L2203.4,753.6L2204.1,753.6L2204.9,753.6L2205.7,753.6L2206.4,753.6L2207.2,753.6L2207.9,753.6L2208.7,753.6L2209.5,753.6L2210.2,753.6L2211,753.6L2211.7,753.6L2212.5,753.6L2213.3,753.6L2214,753.6L2214.8,753.6L2215.5,753.6L2216.3,753.6L2217.1,753.6L2217.8,753.6L2218.6,753.6L2219.4,753.6L2220.1,753.6L2220.9,753.6L2221.6,753.6L2222.4,753.6L2223.2,753.6L2223.9,753.6L2224.7,753.6L2225.4,753.6L2226.2,753.6L2227,753.6L2227.7,753.6L2228.5,753.6L2229.2,753.6L2230,753.6L2230.8,753.6L2231.5,753.6L2232.3,753.6L2233.1,753.6L2233.8,753.6L2234.6,753.6L2235.3,753.6L2236.1,753.6L2236.9,753.6L2237.6,753.6L2238.4,753.6L2239.1,753.6L2239.9,753.6L2240.7,753.6L2241.4,753.6L2242.2,753.6L2242.9,753.6L2243.7,753.6L2244.5,753.6L2245.2,753.6L2246,753.6L2246.8,753.6L2247.5,753.6L2248.3,753.6L2249,753.6L2249.8,753.6L2250.6,753.6L2251.3,753.6L2252.1,753.6L2252.8,753.6L2253.6,753.6L2254.4,753.6L2255.1,753.6L2255.9,753.6L2256.6,753.6L2257.4,753.6L2258.2,753.6L2258.9,753.6L2259.7,753.6L2260.5,753.6L2261.2,753.6L2262,753.6L2262.7,753.6L2263.5,753.6L2264.3,753.6L2265,753.6L2265.8,753.6L2266.5,753.6L2267.3,753.6L2268.1,753.6L2268.8,753.6L2269.6,753.6L2270.3,753.6L2271.1,753.6L2271.9,753.6L2272.6,753.6L2273.4,753.6L2274.1,753.6L2274.9,753.6L2275.7,753.6L2276.4,753.6L2277.2,753.6L2278,753.6L2278.7,753.6L2279.5,753.6L2280.2,753.6L2281,753.6L2281.8,753.6L2282.5,753.6L2283.3,753.6L2284,753.6L2284.8,753.6L2285.6,753.6L2286.3,753.6L2287.1,753.6L2287.8,753.6L2288.6,753.6L2289.4,753.6L2290.1,753.6L2290.9,753.6L2291.7,753.6L2292.4,753.6L2293.2,753.6L2293.9,753.6L2294.7,753.6L2295.5,753.6L2296.2,753.6L2297,753.6L2297.7,753.6L2298.5,753.6L2299.3,753.6L2300,753.6L2300.8,753.6L2301.5,753.6L2302.3,753.6L2303.1,753.6L2303.8,753.6L2304.6,753.6L2305.4,753.6L2306.1,753.6L2306.9,753.6L2307.6,753.6L2308.4,753.6L2309.2,753.6L2309.9,753.6L2310.7,753.6L2311.4,753.6L2312.2,753.6L2313,753.6L2313.7,753.6L2314.5,753.6L2315.2,753.6L2316,753.6L2316.8,753.6L2317.5,753.6L2318.3,753.6L2319.1,753.6L2319.8,753.6L2320.6,753.6L2321.3,753.6L2322.1,753.6L2322.9,753.6L2323.6,753.6L2324.4,753.6L2325.1,753.6L2325.9,753.6L2326.7,753.6L2327.4,753.6L2328.2,753.6L2328.9,753.6L2329.7,753.6L2330.5,753.6L2331.2,753.6L2332,753.6L2332.7,753.6L2333.5,753.6L2334.3,753.6L2335,753.6L2335.8,753.6L2336.6,753.6L2337.3,753.6L2338.1,753.6L2338.8,753.6L2339.6,753.6L2340.4,753.6L2341.1,753.6L2341.9,753.6L2342.6,753.6L2343.4,753.6L2344.2,753.6L2344.9,753.6L2345.7,753.6L2346.4,753.6L2347.2,753.6L2348,753.6L2348.7,753.6L2349.5,753.6" stroke="#00ffff" stroke-width="2.8"/>
<path d="M1565.1,155.4L1565.9,155.9L1566.6,157.2L1567.4,160L1568.2,163.5L1568.9,166.8L1569.7,170.2L1570.4,173.9L1571.2,178.3L1572,183.5L1572.7,190L1573.5,197.6L1574.2,206L1575,215.1L1575.8,224.5L1576.5,234.2L1577.3,244.7L1578,256.1L1578.8,268.3L1579.6,281L1580.3,294.2L1581.1,307.7L1581.9,321.3L1582.6,334.8L1583.4,348.1L1584.1,361.1L1584.9,373.5L1585.7,385.3L1586.4,396.2L1587.2,406.2L1587.9,415.7L1588.7,424.6L1589.5,433.2L1590.2,441.5L1591,449.5L1591.7,457.4L1592.5,465.2L1593.3,473L1594,480.8L1594.8,488.8L1595.6,497L1596.3,505.5L1597.1,514.3L1597.8,523.6L1598.6,533.6L1599.4,544.5L1600.1,556.2L1600.9,568.4L1601.6,580.8L1602.4,593.3L1603.2,605.6L1603.9,617.5L1604.7,628.6L1605.4,638.8L1606.2,647.9L1607,655.7L1607.7,662.9L1608.5,669.5L1609.2,675.7L1610,681.4L1610.8,686.9L1611.5,692.1L1612.3,697.1L1613.1,701.8L1613.8,706.2L1614.6,710.3L1615.3,714.3L1616.1,718.3L1616.9,722.1L1617.6,725.3L1618.4,727.7L1619.1,729.4L1619.9,731L1620.7,732.4L1621.4,733.6L1622.2,734.4L1622.9,734.9L1623.7,734.9L1624.5,734.5L1625.2,733.8L1626,732.9L1626.8,732.1L1627.5,731.4L1628.3,731L1629,731L1629.8,731.1L1630.6,731.4L1631.3,731.6L1632.1,732L1632.8,732.3L1633.6,732.7L1634.4,733.1L1635.1,733.5L1635.9,733.9L1636.6,734.3L1637.4,734.7L1638.2,735.2L1638.9,735.6L1639.7,736.1L1640.5,734.5L1641.2,734.9L1642,734.8L1642.7,734.9L1643.5,736.3L1644.3,737.4L1645,738.5L1645.8,739.4L1646.5,739.5L1647.3,741.1L1648.1,741.9L1648.8,743.9L1649.6,744L1650.3,744.8L1651.1,745L1651.9,746.6L1652.6,747.1L1653.4,747.7L1654.2,748.9L1654.9,749.5L1655.7,750.3L1656.4,750.9L1657.2,752.2L1658,753.4L1658.7,754.2L1659.5,755.5L1660.2,756.9L1661,759.4L1661.8,761L1662.5,762.3L1663.3,764.7L1664,765.9L1664.8,767.4L1665.6,768.5L1666.3,770.4L1667.1,772.8L1667.9,774.4L1668.6,775.7L1669.4,777L1670.1,778.1L1670.9,778.5L1671.7,779.3L1672.4,780.4L1673.2,782.2L1673.9,782.5L1674.7,784.3L1675.5,785.5L1676.2,787.1L1677,788.3L1677.7,788.4L1678.5,789.4L1679.3,791L1680,791.6L1680.8,793.2L1681.5,793.2L1682.3,795.3L1683.1,795.9L1683.8,797.9L1684.6,799.1L1685.4,800.6L1686.1,801.6L1686.9,802.2L1687.6,803.4L1688.4,805.6L1689.2,807.3L1689.9,808.4L1690.7,809.9L1691.4,812.3L1692.2,813.9L1693,814.8L1693.7,815.7L1694.5,816.2L1695.2,817.3L1696,818.6L1696.8,819.4L1697.5,820.8L1698.3,822.2L1699.1,822.4L1699.8,823.3L1700.6,824.2L1701.3,825L1702.1,825.5L1702.9,826.1L1703.6,826.8L1704.4,827.4L1705.1,828.9L1705.9,829.3L1706.7,830.3L1707.4,831.7L1708.2,831.3L1708.9,830.7L1709.7,831.1L1710.5,831.2L1711.2,831.6L1712,832.1L1712.8,832.9L1713.5,833.3L1714.3,833.9L1715,834.6L1715.8,835.1L1716.6,836.2L1717.3,836.8L1718.1,837.2L1718.8,838.4L1719.6,838.6L1720.4,839.2L1721.1,839.9L1721.9,841.4L1722.6,842L1723.4,842.3L1724.2,841.9L1724.9,841.2L1725.7,841.5L1726.5,841.8L1727.2,841.4L1728,841.9L1728.7,842.4L1729.5,843.5L1730.3,843.9L1731,844.2L1731.8,843.4L1732.5,842.7L1733.3,843.1L1734.1,843.1L1734.8,844.3L1735.6,845L1736.3,844.9L1737.1,844.4L1737.9,844.5L1738.6,844.6L1739.4,845.2L1740.1,845L1740.9,845.5L1741.7,846.2L1742.4,846.7L1743.2,847.1L1744,847.2L1744.7,847.7L1745.5,847.9L1746.2,849.2L1747,849.6L1747.8,849.7L1748.5,850.2L1749.3,849.4L1750,849.6L1750.8,849.7L1751.6,849.5L1752.3,849.9L1753.1,849.8L1753.8,850L1754.6,849.5L1755.4,849L1756.1,849.4L1756.9,849.2L1757.7,849.1L1758.4,849.9L1759.2,850.5L1759.9,851.1L1760.7,851.7L1761.5,852.3L1762.2,852.4L1763,851.9L1763.7,852.6L1764.5,852.9L1765.3,853.2L1766,853L1766.8,852.8L1767.5,852.8L1768.3,852.5L1769.1,852.7L1769.8,853L1770.6,853.3L1771.4,853L1772.1,853.4L1772.9,854.9L1773.6,855.4L1774.4,855.8L1775.2,856.1L1775.9,857L1776.7,857.1L1777.4,857.2L1778.2,857.9L1779,858.7L1779.7,859L1780.5,859L1781.2,859.7L1782,860.5L1782.8,860.2L1783.5,860.4L1784.3,860.7L1785.1,861L1785.8,860.9L1786.6,861L1787.3,861.3L1788.1,862.3L1788.9,862.9L1789.6,862.4L1790.4,863.1L1791.1,863.1L1791.9,862.7L1792.7,863.2L1793.4,862.2L1794.2,862L1794.9,862.2L1795.7,862.5L1796.5,862.9L1797.2,863.4L1798,863.6L1798.7,863.6L1799.5,863.2L1800.3,863.6L1801,862.9L1801.8,862.9L1802.6,862.6L1803.3,862.6L1804.1,862.6L1804.8,862L1805.6,862.1L1806.4,861.5L1807.1,860.9L1807.9,861.6L1808.6,861L1809.4,861.7L1810.2,861.5L1810.9,861.9L1811.7,862L1812.4,862.1L1813.2,862.8L1814,863.4L1814.7,863.7L1815.5,864.2L1816.3,864.7L1817,865.7L1817.8,865.9L1818.5,865.8L1819.3,866.6L1820.1,865.8L1820.8,866.5L1821.6,867.4L1822.3,868L1823.1,868.2L1823.9,867.8L1824.6,867.9L1825.4,868.4L1826.1,869.2L1826.9,869.9L1827.7,868.7L1828.4,868.7L1829.2,869.1L1830,869L1830.7,869.4L1831.5,868.8L1832.2,868.4L1833,868.3L1833.8,868.3L1834.5,867.9L1835.3,867.7L1836,866.3L1836.8,865.8L1837.6,865.5L1838.3,866.2L1839.1,865L1839.8,865L1840.6,864.7L1841.4,864.8L1842.1,864.9L1842.9,865.7L1843.7,865.8L1844.4,865.7L1845.2,865.6L1845.9,865.7L1846.7,865.5L1847.5,865.3L1848.2,865.3L1849,866.1L1849.7,866.3L1850.5,866.6L1851.3,867.2L1852,867.5L1852.8,867L1853.5,866.4L1854.3,866.4L1855.1,866.7L1855.8,867.1L1856.6,867.6L1857.4,868.8L1858.1,869.3L1858.9,869.4L1859.6,869.6L1860.4,869.5L1861.2,869.6L1861.9,869.7L1862.7,869.6L1863.4,869.6L1864.2,869.4L1865,869.2L1865.7,869.2L1866.5,869.4L1867.2,869.8L1868,869.1L1868.8,868.9L1869.5,868.9L1870.3,869.5L1871,869.7L1871.8,869.4L1872.6,868.9L1873.3,869.8L1874.1,870.4L1874.9,870.6L1875.6,871L1876.4,871.4L1877.1,871.7L1877.9,871.1L1878.7,870.5L1879.4,871.5L1880.2,871.3L1880.9,870.8L1881.7,871.7L1882.5,871.8L1883.2,871.3L1884,870.9L1884.7,870.9L1885.5,871.2L1886.3,870.4L1887,869.8L1887.8,869L1888.6,869.9L1889.3,870.3L1890.1,869.3L1890.8,868.7L1891.6,868.8L1892.4,868.1L1893.1,868.4L1893.9,869.4L1894.6,869.6L1895.4,868.9L1896.2,868.9L1896.9,868.9L1897.7,868.8L1898.4,869.7L1899.2,869L1900,868.9L1900.7,868.8L1901.5,869.6L1902.3,869.4L1903,869.3L1903.8,869.1L1904.5,869.1L1905.3,869.1L1906.1,869L1906.8,868.8L1907.6,868.9L1908.3,868.8L1909.1,868.4L1909.9,868.8L1910.6,869L1911.4,869.1L1912.1,868.8L1912.9,868.8L1913.7,869.4L1914.4,869.7L1915.2,869.8L1916,869.4L1916.7,870.3L1917.5,870.7L1918.2,870.6L1919,871L1919.8,870.6L1920.5,871.3L1921.3,871L1922,871.3L1922.8,872L1923.6,871.5L1924.3,871.6L1925.1,871.5L1925.8,870.9L1926.6,871.4L1927.4,872L1928.1,872.7L1928.9,873L1929.6,872.9L1930.4,873.2L1931.2,872.4L1931.9,872.9L1932.7,872.5L1933.5,872L1934.2,872.1L1935,872.1L1935.7,872.2L1936.5,872.3L1937.3,871.6L1938,871.2L1938.8,871L1939.5,871L1940.3,871.3L1941.1,871.5L1941.8,871.4L1942.6,870.9L1943.3,871.4L1944.1,872.1L1944.9,872L1945.6,872.7L1946.4,872.1L1947.2,872.4L1947.9,873.1L1948.7,873.2L1949.4,872.5L1950.2,873.1L1951,873L1951.7,872.9L1952.5,873.3L1953.2,874.1L1954,873.9L1954.8,873.8L1955.5,874.4L1956.3,873.4L1957,873.7L1957.8,872.6L1958.6,872.9L1959.3,873.1L1960.1,872.8L1960.9,872.6L1961.6,872.5L1962.4,872.2L1963.1,871.7L1963.9,871.3L1964.7,870.8L1965.4,870.6L1966.2,870.8L1966.9,870.6L1967.7,871L1968.5,871.6L1969.2,871.5L1970,871.7L1970.7,872.3L1971.5,872.5L1972.3,872.7L1973,873L1973.8,873.7L1974.6,874.2L1975.3,874.6L1976.1,874.8L1976.8,874.4L1977.6,874.6L1978.4,875.2L1979.1,875.2L1979.9,875L1980.6,875.3L1981.4,874.8L1982.2,874.8L1982.9,875.6L1983.7,875.3L1984.4,874.6L1985.2,875.1L1986,875.1L1986.7,875L1987.5,874.6L1988.3,874.4L1989,873.8L1989.8,872.4L1990.5,872.8L1991.3,872.9L1992.1,872.4L1992.8,872.6L1993.6,872.7L1994.3,872.9L1995.1,873.1L1995.9,873L1996.6,873.4L1997.4,873.2L1998.1,872.6L1998.9,873.1L1999.7,873.2L2000.4,874.4L2001.2,874.2L2001.9,874.2L2002.7,875.2L2003.5,875.1L2004.2,874.7L2005,874.6L2005.8,874.2L2006.5,873.5L2007.3,873.5L2008,874L2008.8,874.4L2009.6,874.4L2010.3,874.3L2011.1,873.6L2011.8,873.9L2012.6,873.5L2013.4,872.6L2014.1,872.7L2014.9,871.8L2015.6,872L2016.4,872L2017.2,872.9L2017.9,872.9L2018.7,872.4L2019.5,873.8L2020.2,873.5L2021,873.7L2021.7,874.1L2022.5,875.2L2023.3,875L2024,875.1L2024.8,875.8L2025.5,875.3L2026.3,875.4L2027.1,876.3L2027.8,875.4L2028.6,876.1L2029.3,876.5L2030.1,875.9L2030.9,876.7L2031.6,876.5L2032.4,876.3L2033.2,876.2L2033.9,876.7L2034.7,876.1L2035.4,876.4L2036.2,876.7L2037,876.3L2037.7,876L2038.5,876.7L2039.2,876.2L2040,875.1L2040.8,875L2041.5,874L2042.3,873.3L2043,873.6L2043.8,873.4L2044.6,872.9L2045.3,873L2046.1,873.3L2046.9,873.8L2047.6,874.1L2048.4,874.2L2049.1,873.2L2049.9,874L2050.7,874.8L2051.4,875.7L2052.2,876.4L2052.9,876.3L2053.7,875.4L2054.5,875.7L2055.2,875.4L2056,875.3L2056.7,875.4L2057.5,874.4L2058.3,874.3L2059,875L2059.8,875.1L2060.5,875L2061.3,873.4L2062.1,872.8L2062.8,872.8L2063.6,873.4L2064.4,873.5L2065.1,873.2L2065.9,872.9L2066.6,873.1L2067.4,872.8L2068.2,872.9L2068.9,872.3L2069.7,872.4L2070.4,873L2071.2,872.5L2072,873.7L2072.7,873.3L2073.5,873.2L2074.2,871.8L2075,871.6L2075.8,872.2L2076.5,872.8L2077.3,872.8L2078.1,873.4L2078.8,872.5L2079.6,872.8L2080.3,872.1L2081.1,871.9L2081.9,872.7L2082.6,871.8L2083.4,871.9L2084.1,872.5L2084.9,872.9L2085.7,873.3L2086.4,873L2087.2,873.1L2087.9,872.2L2088.7,873.4L2089.5,873.7L2090.2,874L2091,874.6L2091.8,874.1L2092.5,874.5L2093.3,875.2L2094,876L2094.8,875.5L2095.6,875.9L2096.3,876.2L2097.1,877.2L2097.8,877.4L2098.6,876.7L2099.4,877.1L2100.1,876.8L2100.9,877.6L2101.6,877.2L2102.4,876.3L2103.2,876.4L2103.9,876.9L2104.7,876.4L2105.5,876.4L2106.2,876.4L2107,876.1L2107.7,876.4L2108.5,875.6L2109.3,874.8L2110,875.3L2110.8,874.6L2111.5,874.8L2112.3,874.2L2113.1,874.5L2113.8,874L2114.6,873.6L2115.3,873.6L2116.1,873.4L2116.9,873L2117.6,872.8L2118.4,873.4L2119.1,874.1L2119.9,874.4L2120.7,874.7L2121.4,875L2122.2,876.3L2123,877.4L2123.7,877.7L2124.5,877.3L2125.2,877.7L2126,877.7L2126.8,877.9L2127.5,878L2128.3,878.1L2129,877.8L2129.8,878L2130.6,877.7L2131.3,876.8L2132.1,876.2L2132.8,875.8L2133.6,875.3L2134.4,874.7L2135.1,874.4L2135.9,874.2L2136.7,874.8L2137.4,874.8L2138.2,874.8L2138.9,875.2L2139.7,875.4L2140.5,874.8L2141.2,874.9L2142,874.4L2142.7,874.4L2143.5,874.9L2144.3,875L2145,874.4L2145.8,874.8L2146.5,874.9L2147.3,875.2L2148.1,875.1L2148.8,875.3L2149.6,875.3L2150.4,875.5L2151.1,875.1L2151.9,876.2L2152.6,876.3L2153.4,877L2154.2,876.8L2154.9,877.6L2155.7,877.5L2156.4,877.6L2157.2,878.6L2158,878L2158.7,878.1L2159.5,878.6L2160.2,878.7L2161,878.7L2161.8,879.6L2162.5,879.4L2163.3,879L2164.1,878.6L2164.8,878.9L2165.6,878.2L2166.3,878.1L2167.1,877.9L2167.9,878.1L2168.6,878.2L2169.4,878.3L2170.1,877L2170.9,877.5L2171.7,876.8L2172.4,876.7L2173.2,876.1L2173.9,876.6L2174.7,875.8L2175.5,875.8L2176.2,875.4L2177,874.8L2177.8,874.7L2178.5,874.9L2179.3,874.8L2180,875.4L2180.8,876.2L2181.6,875.5L2182.3,875.7L2183.1,875.5L2183.8,875.3L2184.6,874.9L2185.4,875.2L2186.1,874.7L2186.9,875L2187.6,874.9L2188.4,874.6L2189.2,874.2L2189.9,874.5L2190.7,873.7L2191.4,872.7L2192.2,872.6L2193,872.8L2193.7,873.5L2194.5,873.8L2195.3,873.7L2196,874.7L2196.8,875.2L2197.5,875.5L2198.3,875.1L2199.1,876L2199.8,875.9L2200.6,876.3L2201.3,877.3L2202.1,878.1L2202.9,878.9L2203.6,878.7L2204.4,878.3L2205.1,878.6L2205.9,878.6L2206.7,878.2L2207.4,878L2208.2,877.9L2209,878.1L2209.7,878L2210.5,877.8L2211.2,877.6L2212,878L2212.8,877.7L2213.5,877.6L2214.3,877.6L2215,877.4L2215.8,876.7L2216.6,876.8L2217.3,877.1L2218.1,877L2218.8,877.1L2219.6,876.6L2220.4,876.4L2221.1,875.2L2221.9,874.9L2222.7,875.6L2223.4,875.8L2224.2,875L2224.9,874.2L2225.7,874.8L2226.5,875.4L2227.2,875.2L2228,875.9L2228.7,875.2L2229.5,875.9L2230.3,877L2231,877L2231.8,878.1L2232.5,877.5L2233.3,875.8L2234.1,875.8L2234.8,876L2235.6,876.7L2236.4,876.9L2237.1,877.2L2237.9,876.7L2238.6,876.6L2239.4,877.9L2240.2,876.8L2240.9,876L2241.7,876.3L2242.4,875.2L2243.2,876.3L2244,877.7L2244.7,877.4L2245.5,877.7L2246.2,877.3L2247,877.6L2247.8,877.4L2248.5,877.6L2249.3,878.1L2250,877.8L2250.8,878.9L2251.6,879.3L2252.3,879.7L2253.1,879.9L2253.9,879.8L2254.6,879L2255.4,878L2256.1,877.9L2256.9,878.2L2257.7,878L2258.4,877.8L2259.2,877.4L2259.9,877L2260.7,876.9L2261.5,876.2L2262.2,876.4L2263,876.7L2263.7,875.7L2264.5,875.4L2265.3,875.9L2266,876.4L2266.8,876.7L2267.6,876.1L2268.3,875.9L2269.1,876.1L2269.8,876.8L2270.6,875.8L2271.4,875.8L2272.1,875.9L2272.9,875.7L2273.6,875.5L2274.4,875.5L2275.2,875.7L2275.9,875.6L2276.7,875.3L2277.4,875.3L2278.2,875.9L2279,876L2279.7,875.9L2280.5,875.1L2281.3,875.6L2282,876.5L2282.8,877L2283.5,876.1L2284.3,876.1L2285.1,876.3L2285.8,876.6L2286.6,877.7L2287.3,877.1L2288.1,877.5L2288.9,877.1L2289.6,877.9L2290.4,877.5L2291.1,876.8L2291.9,876.2L2292.7,875.6L2293.4,875.1L2294.2,875.7L2295,875.7L2295.7,875.7L2296.5,874.7L2297.2,874.3L2298,874.8L2298.8,874.1L2299.5,874.1L2300.3,873.6L2301,874.1L2301.8,875.6L2302.6,876.1L2303.3,875.5L2304.1,876.4L2304.8,877.1L2305.6,876.8L2306.4,877L2307.1,877L2307.9,877.7L2308.6,877.4L2309.4,877.3L2310.2,878.4L2310.9,878.8L2311.7,877.9L2312.5,878L2313.2,878L2314,878.5L2314.7,878.3L2315.5,878.1L2316.3,878.5L2317,878.7L2317.8,878.2L2318.5,876.7L2319.3,877.5L2320.1,877.5L2320.8,877.6L2321.6,877.6L2322.3,877.1L2323.1,877.6L2323.9,877.9L2324.6,878L2325.4,878.7L2326.2,878.2L2326.9,879L2327.7,878.9L2328.4,879.7L2329.2,880.1L2330,879.5L2330.7,879.4L2331.5,878.9L2332.2,880L2333,880.2L2333.8,880.4L2334.5,879.7L2335.3,878.5L2336,878.3L2336.8,878.3L2337.6,878.8L2338.3,878.6L2339.1,878.2L2339.9,878.4L2340.6,878.7L2341.4,878.8L2342.1,878.5L2342.9,877.3L2343.7,877.5L2344.4,877.3L2345.2,877.7L2345.9,878.2L2346.7,877.7L2347.5,877.6L2348.2,877.1L2349,877.8L2349.7,877.3" stroke="#66ff66" stroke-width="2.6"/>
</g>
<path d="M1922,211.2L1710.2,360.7" stroke="#000" stroke-width="2.9" fill="none"/><path d="M1693.9,372.2L1709.6,352.8L1717.4,363.9Z" fill="#000"/>
<path d="M1923.4,328.8L1744,460.1" stroke="#ff0000" stroke-width="2.9" fill="none"/><path d="M1727.9,471.9L1743.2,452.2L1751.3,463.2Z" fill="#ff0000"/>
<path d="M1927,448.8L1758.4,583.2" stroke="#0000ff" stroke-width="2.9" fill="none"/><path d="M1742.8,595.7L1757.3,575.4L1765.8,586.1Z" fill="#0000ff"/>
<path d="M1946.3,565.2L1720.4,763" stroke="#008b8b" stroke-width="2.9" fill="none"/><path d="M1705.4,776.2L1719,755.3L1727.9,765.5Z" fill="#008b8b"/>
<text x="1924.5" y="195.7" font-family="'Liberation Sans', sans-serif" font-size="65" fill="#000"><tspan font-family="'Liberation Serif', serif" font-size="66">τ</tspan><tspan font-size="45" dy="17.5">HEX</tspan><tspan dy="-17.5"> = 3.5 ns</tspan></text>
<text x="1929.6" y="308.4" font-family="'Liberation Sans', sans-serif" font-size="65" fill="#ff0000"><tspan font-family="'Liberation Serif', serif" font-size="66">τ</tspan><tspan font-size="45" dy="17.5">TOL</tspan><tspan dy="-17.5"> = 3.1 ns</tspan></text>
<text x="1920.8" y="428.2" font-family="'Liberation Sans', sans-serif" font-size="65" fill="#0000ff"><tspan font-family="'Liberation Serif', serif" font-size="66">τ</tspan><tspan font-size="45" dy="17.5">DCM</tspan><tspan dy="-17.5"> = 2.3 ns</tspan></text>
<text x="1927.8" y="544" font-family="'Liberation Sans', sans-serif" font-size="65" fill="#008b8b"><tspan font-family="'Liberation Serif', serif" font-size="66">τ</tspan><tspan font-size="45" dy="17.5">ACN</tspan><tspan dy="-17.5"> = 0.4 ns</tspan></text>
</svg></body></html>
